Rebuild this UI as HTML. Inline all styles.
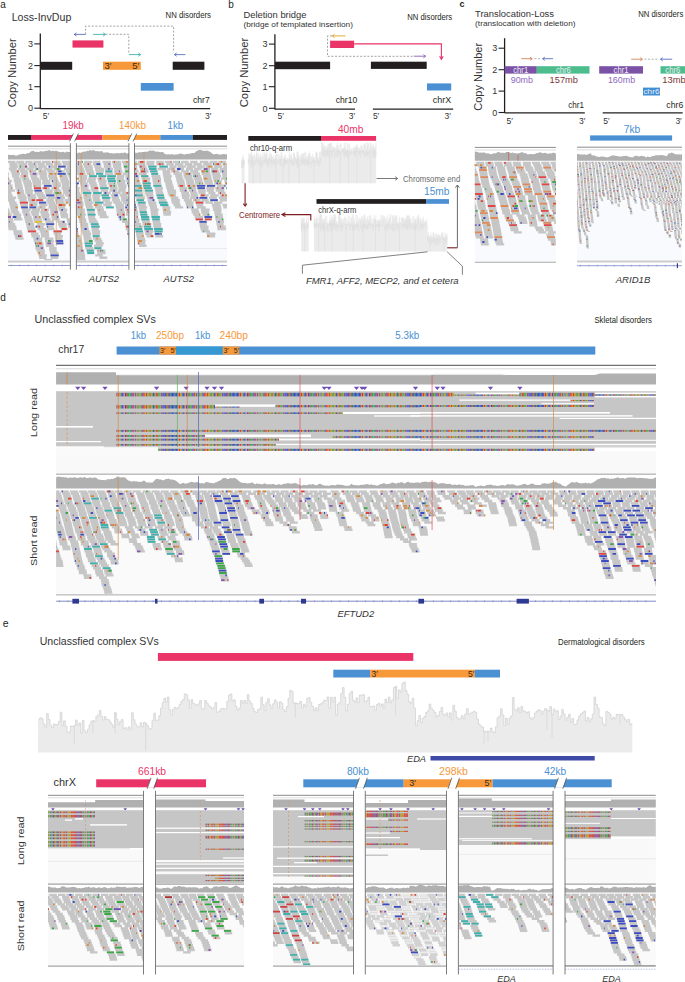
<!DOCTYPE html><html><head><meta charset="utf-8"><title>Figure</title><style>html,body{margin:0;padding:0;background:#fff;}svg{display:block;}text{font-family:"Liberation Sans",sans-serif;}</style></head><body>
<svg width="685" height="982" viewBox="0 0 685 982">
<defs><pattern id="rb" patternUnits="userSpaceOnUse" width="61" height="8"><rect x="0" y="0" width="1.2" height="8" fill="#4a5ac8"/><rect x="1.2" y="0" width="1" height="8" fill="#9a5cc0"/><rect x="2.1" y="0" width="1" height="8" fill="#e0902e"/><rect x="3" y="0" width="1" height="8" fill="#3b4bc2"/><rect x="3.9" y="0" width="0.8" height="8" fill="#8b4aa6"/><rect x="4.6" y="0" width="1.2" height="8" fill="#c04a3a"/><rect x="5.8" y="0" width="1.6" height="8" fill="#3aa845"/><rect x="7.3" y="0" width="1.6" height="8" fill="#45b050"/><rect x="8.8" y="0" width="1" height="8" fill="#4a5ac8"/><rect x="9.7" y="0" width="1.6" height="8" fill="#9a5cc0"/><rect x="11.2" y="0" width="1" height="8" fill="#d03a3a"/><rect x="12.1" y="0" width="1.2" height="8" fill="#b0a040"/><rect x="13.3" y="0" width="1" height="8" fill="#3b4bc2"/><rect x="14.2" y="0" width="1.2" height="8" fill="#b0a040"/><rect x="15.4" y="0" width="1" height="8" fill="#9a5cc0"/><rect x="16.3" y="0" width="1.1" height="8" fill="#3aa845"/><rect x="17.3" y="0" width="1.6" height="8" fill="#b0a040"/><rect x="18.8" y="0" width="0.8" height="8" fill="#45b050"/><rect x="19.5" y="0" width="1.1" height="8" fill="#4a5ac8"/><rect x="20.5" y="0" width="0.8" height="8" fill="#8b4aa6"/><rect x="21.2" y="0" width="1.6" height="8" fill="#e23b2e"/><rect x="22.7" y="0" width="1.2" height="8" fill="#e0902e"/><rect x="23.9" y="0" width="1.1" height="8" fill="#c04a3a"/><rect x="24.9" y="0" width="0.8" height="8" fill="#45b050"/><rect x="25.6" y="0" width="1.6" height="8" fill="#e0902e"/><rect x="27.1" y="0" width="1.6" height="8" fill="#45b050"/><rect x="28.6" y="0" width="0.8" height="8" fill="#d03a3a"/><rect x="29.3" y="0" width="1" height="8" fill="#e0902e"/><rect x="30.2" y="0" width="1" height="8" fill="#45b050"/><rect x="31.1" y="0" width="1.6" height="8" fill="#3b4bc2"/><rect x="32.6" y="0" width="1.6" height="8" fill="#b0a040"/><rect x="34.1" y="0" width="1" height="8" fill="#e23b2e"/><rect x="35" y="0" width="0.8" height="8" fill="#e23b2e"/><rect x="35.7" y="0" width="1" height="8" fill="#45b050"/><rect x="36.6" y="0" width="1.2" height="8" fill="#3aa845"/><rect x="37.8" y="0" width="1.2" height="8" fill="#b0a040"/><rect x="39" y="0" width="0.8" height="8" fill="#3b4bc2"/><rect x="39.7" y="0" width="1.1" height="8" fill="#9a5cc0"/><rect x="40.7" y="0" width="0.8" height="8" fill="#4a5ac8"/><rect x="41.4" y="0" width="1.1" height="8" fill="#3b4bc2"/><rect x="42.4" y="0" width="1.6" height="8" fill="#4a5ac8"/><rect x="43.9" y="0" width="1" height="8" fill="#e23b2e"/><rect x="44.8" y="0" width="1" height="8" fill="#45b050"/><rect x="45.7" y="0" width="1.1" height="8" fill="#c04a3a"/><rect x="46.7" y="0" width="1.2" height="8" fill="#3b4bc2"/><rect x="47.9" y="0" width="1.1" height="8" fill="#45b050"/><rect x="48.9" y="0" width="0.8" height="8" fill="#3b4bc2"/><rect x="49.6" y="0" width="1.6" height="8" fill="#3b4bc2"/><rect x="51.1" y="0" width="1.6" height="8" fill="#4a5ac8"/><rect x="52.6" y="0" width="0.8" height="8" fill="#3aa845"/><rect x="53.3" y="0" width="0.8" height="8" fill="#3b4bc2"/><rect x="54" y="0" width="1.1" height="8" fill="#3b4bc2"/><rect x="55" y="0" width="1" height="8" fill="#4a5ac8"/><rect x="55.9" y="0" width="1" height="8" fill="#e0902e"/><rect x="56.8" y="0" width="1.6" height="8" fill="#d03a3a"/><rect x="58.3" y="0" width="1.2" height="8" fill="#e0902e"/><rect x="59.5" y="0" width="1.1" height="8" fill="#3aa845"/><rect x="60.5" y="0" width="0.5" height="8" fill="#3b4bc2"/></pattern><pattern id="rb2" patternUnits="userSpaceOnUse" width="37" height="8"><rect x="0" y="0" width="0.8" height="8" fill="#c04a3a"/><rect x="0.7" y="0" width="1.1" height="8" fill="#e23b2e"/><rect x="1.7" y="0" width="0.8" height="8" fill="#d03a3a"/><rect x="2.4" y="0" width="1" height="8" fill="#4a5ac8"/><rect x="3.3" y="0" width="1.2" height="8" fill="#d03a3a"/><rect x="4.5" y="0" width="1.2" height="8" fill="#4a5ac8"/><rect x="5.7" y="0" width="1.2" height="8" fill="#d03a3a"/><rect x="6.9" y="0" width="0.8" height="8" fill="#3b4bc2"/><rect x="7.6" y="0" width="0.8" height="8" fill="#d03a3a"/><rect x="8.3" y="0" width="1.2" height="8" fill="#45b050"/><rect x="9.5" y="0" width="1" height="8" fill="#8b4aa6"/><rect x="10.4" y="0" width="1" height="8" fill="#b0a040"/><rect x="11.3" y="0" width="1.1" height="8" fill="#3aa845"/><rect x="12.3" y="0" width="1.1" height="8" fill="#e0902e"/><rect x="13.3" y="0" width="1" height="8" fill="#4a5ac8"/><rect x="14.2" y="0" width="1.1" height="8" fill="#45b050"/><rect x="15.2" y="0" width="0.8" height="8" fill="#45b050"/><rect x="15.9" y="0" width="1.2" height="8" fill="#8b4aa6"/><rect x="17.1" y="0" width="0.8" height="8" fill="#c04a3a"/><rect x="17.8" y="0" width="1.1" height="8" fill="#b0a040"/><rect x="18.8" y="0" width="1.1" height="8" fill="#45b050"/><rect x="19.8" y="0" width="1" height="8" fill="#8b4aa6"/><rect x="20.7" y="0" width="1.2" height="8" fill="#8b4aa6"/><rect x="21.9" y="0" width="1.2" height="8" fill="#b0a040"/><rect x="23.1" y="0" width="1" height="8" fill="#8b4aa6"/><rect x="24" y="0" width="1.2" height="8" fill="#b0a040"/><rect x="25.2" y="0" width="1.2" height="8" fill="#e0902e"/><rect x="26.4" y="0" width="1.2" height="8" fill="#d03a3a"/><rect x="27.6" y="0" width="1" height="8" fill="#d03a3a"/><rect x="28.5" y="0" width="0.8" height="8" fill="#b0a040"/><rect x="29.2" y="0" width="1.1" height="8" fill="#8b4aa6"/><rect x="30.2" y="0" width="1" height="8" fill="#b0a040"/><rect x="31.1" y="0" width="1" height="8" fill="#b0a040"/><rect x="32" y="0" width="1.1" height="8" fill="#b0a040"/><rect x="33" y="0" width="1.2" height="8" fill="#e0902e"/><rect x="34.2" y="0" width="1.2" height="8" fill="#d03a3a"/><rect x="35.4" y="0" width="1.2" height="8" fill="#e23b2e"/><rect x="36.6" y="0" width="0.5" height="8" fill="#c04a3a"/></pattern></defs>
<rect width="685" height="982" fill="#fff"/>
<text x="0.2" y="7.8" font-size="10" fill="#231f20">a</text>
<text x="228.2" y="7.9" font-size="10" fill="#231f20">b</text>
<text x="459.4" y="6.8" font-size="9" fill="#231f20" font-weight="bold">c</text>
<text x="0.2" y="301.4" font-size="10" fill="#231f20">d</text>
<text x="2.8" y="627.4" font-size="10.5" fill="#231f20">e</text>
<text x="11.7" y="20.5" font-size="10" fill="#333333" textLength="59.6" lengthAdjust="spacingAndGlyphs">Loss-InvDup</text>
<text x="165.5" y="18" font-size="8.6" fill="#231f20" textLength="45.5" lengthAdjust="spacingAndGlyphs">NN disorders</text>
<text x="16.2" y="72.8" font-size="10.3" fill="#333333" textLength="68.8" lengthAdjust="spacingAndGlyphs" text-anchor="middle" transform="rotate(-90 16.2 72.8)">Copy Number</text>
<line x1="40.3" y1="33.4" x2="40.3" y2="109.1" stroke="#231f20" stroke-width="1.3"/>
<line x1="34.3" y1="43.9" x2="40.3" y2="43.9" stroke="#231f20" stroke-width="1.1"/>
<text x="33" y="47.1" font-size="9" fill="#333" text-anchor="end">3</text>
<line x1="34.3" y1="65.6" x2="40.3" y2="65.6" stroke="#231f20" stroke-width="1.1"/>
<text x="33" y="68.8" font-size="9" fill="#333" text-anchor="end">2</text>
<line x1="34.3" y1="86.7" x2="40.3" y2="86.7" stroke="#231f20" stroke-width="1.1"/>
<text x="33" y="89.9" font-size="9" fill="#333" text-anchor="end">1</text>
<line x1="34.3" y1="108.2" x2="40.3" y2="108.2" stroke="#231f20" stroke-width="1.1"/>
<text x="33" y="111.4" font-size="9" fill="#333" text-anchor="end">0</text>
<line x1="40.3" y1="108.6" x2="210.2" y2="108.6" stroke="#231f20" stroke-width="1.3"/>
<rect x="40.3" y="61.8" width="31.9" height="8" fill="#231f20"/>
<rect x="72.5" y="40.4" width="30.9" height="7.2" fill="#ea3468"/>
<rect x="103" y="61.7" width="37.8" height="8.1" fill="#f7993b"/>
<text x="104.4" y="69.2" font-size="9.6" fill="#3b2a18">3′</text>
<text x="132.2" y="69.2" font-size="9.6" fill="#3b2a18">5′</text>
<rect x="140.8" y="83" width="32.8" height="7.7" fill="#4a90d2"/>
<rect x="172.7" y="61.7" width="31.7" height="8.1" fill="#231f20"/>
<path d="M85.6 34.4V26.1H173.6V52.5" stroke="#8c8c8c" stroke-width="0.8" fill="none" stroke-dasharray="2,1.6"/>
<path d="M105.5 34.3H128.8V52.5" stroke="#8c8c8c" stroke-width="0.8" fill="none" stroke-dasharray="2,1.6"/>
<line x1="85.6" y1="34.4" x2="74.2" y2="34.4" stroke="#5b6fbf" stroke-width="0.9"/>
<path d="M76.4 32.8L74.2 34.4L76.4 36" stroke="#5b6fbf" stroke-width="0.9" fill="none" stroke-linejoin="miter"/>
<line x1="93" y1="34.4" x2="105.4" y2="34.4" stroke="#3fb2ad" stroke-width="0.9"/>
<path d="M103.2 32.8L105.4 34.4L103.2 36" stroke="#3fb2ad" stroke-width="0.9" fill="none" stroke-linejoin="miter"/>
<line x1="128.8" y1="54.6" x2="140.6" y2="54.6" stroke="#3fb2ad" stroke-width="0.9"/>
<path d="M138.4 53L140.6 54.6L138.4 56.2" stroke="#3fb2ad" stroke-width="0.9" fill="none" stroke-linejoin="miter"/>
<line x1="185.4" y1="54.6" x2="174.4" y2="54.6" stroke="#5b6fbf" stroke-width="0.9"/>
<path d="M176.6 53L174.4 54.6L176.6 56.2" stroke="#5b6fbf" stroke-width="0.9" fill="none" stroke-linejoin="miter"/>
<text x="193" y="103" font-size="9.5" fill="#231f20" textLength="16.7" lengthAdjust="spacingAndGlyphs">chr7</text>
<text x="42.8" y="119" font-size="8.5" fill="#333333">5′</text>
<text x="205" y="119" font-size="8.5" fill="#333333">3′</text>
<text x="243.4" y="17.5" font-size="9.6" fill="#333333" textLength="63.1" lengthAdjust="spacingAndGlyphs">Deletion bridge</text>
<text x="243.4" y="26.8" font-size="8" fill="#333333" textLength="109.5" lengthAdjust="spacingAndGlyphs">(bridge of templated insertion)</text>
<text x="407.3" y="20.2" font-size="8.6" fill="#231f20" textLength="44.9" lengthAdjust="spacingAndGlyphs">NN disorders</text>
<text x="248.4" y="72.5" font-size="10.3" fill="#333333" textLength="69.5" lengthAdjust="spacingAndGlyphs" text-anchor="middle" transform="rotate(-90 248.4 72.5)">Copy Number</text>
<line x1="274.9" y1="34.2" x2="274.9" y2="109.6" stroke="#231f20" stroke-width="1.3"/>
<line x1="268.9" y1="44.1" x2="274.9" y2="44.1" stroke="#231f20" stroke-width="1.1"/>
<text x="267.5" y="47.3" font-size="9" fill="#333" text-anchor="end">3</text>
<line x1="268.9" y1="65.7" x2="274.9" y2="65.7" stroke="#231f20" stroke-width="1.1"/>
<text x="267.5" y="68.9" font-size="9" fill="#333" text-anchor="end">2</text>
<line x1="268.9" y1="86.7" x2="274.9" y2="86.7" stroke="#231f20" stroke-width="1.1"/>
<text x="267.5" y="89.9" font-size="9" fill="#333" text-anchor="end">1</text>
<line x1="268.9" y1="108.3" x2="274.9" y2="108.3" stroke="#231f20" stroke-width="1.1"/>
<text x="267.5" y="111.5" font-size="9" fill="#333" text-anchor="end">0</text>
<line x1="274.9" y1="109.2" x2="355" y2="109.2" stroke="#231f20" stroke-width="1.3"/>
<line x1="372.9" y1="109.2" x2="453.2" y2="109.2" stroke="#231f20" stroke-width="1.3"/>
<rect x="274.9" y="61.7" width="55.2" height="7.5" fill="#231f20"/>
<rect x="330.1" y="40.7" width="24" height="7.3" fill="#ea3468"/>
<path d="M332 35.9H327.5V56.3H413.8" stroke="#8c8c8c" stroke-width="0.8" fill="none" stroke-dasharray="2,1.6"/>
<line x1="345.5" y1="35.9" x2="332.3" y2="35.9" stroke="#e0a020" stroke-width="0.9"/>
<path d="M334.5 34.2L332.3 35.9L334.5 37.5" stroke="#e0a020" stroke-width="0.9" fill="none" stroke-linejoin="miter"/>
<line x1="413.8" y1="56.2" x2="425.6" y2="56.2" stroke="#8a5cb8" stroke-width="0.9"/>
<path d="M423.4 54.6L425.6 56.2L423.4 57.9" stroke="#8a5cb8" stroke-width="0.9" fill="none" stroke-linejoin="miter"/>
<path d="M354.1 43.9H441.4V58" stroke="#ea3468" stroke-width="1.1" fill="none"/>
<path d="M439.6 56.2L441.4 59.4L443.2 56.2" stroke="#ea3468" stroke-width="1.1" fill="none"/>
<rect x="370.9" y="61.7" width="55.8" height="7.2" fill="#231f20"/>
<rect x="427" y="83.4" width="24.2" height="7.1" fill="#4a90d2"/>
<text x="335.7" y="103.2" font-size="9.5" fill="#231f20" textLength="21.5" lengthAdjust="spacingAndGlyphs">chr10</text>
<text x="432.8" y="103.2" font-size="9.5" fill="#231f20" textLength="18.4" lengthAdjust="spacingAndGlyphs">chrX</text>
<text x="277.6" y="118.5" font-size="8.5" fill="#333333">5′</text>
<text x="348.8" y="118.5" font-size="8.5" fill="#333333">3′</text>
<text x="372.9" y="118.5" font-size="8.5" fill="#333333">5′</text>
<text x="444.5" y="118.5" font-size="8.5" fill="#333333">3′</text>
<text x="475.1" y="16.6" font-size="9.6" fill="#333333" textLength="78.9" lengthAdjust="spacingAndGlyphs">Translocation-Loss</text>
<text x="475.1" y="26.3" font-size="8" fill="#333333" textLength="100.4" lengthAdjust="spacingAndGlyphs">(translocation with deletion)</text>
<text x="638.2" y="17" font-size="8.6" fill="#231f20" textLength="45.1" lengthAdjust="spacingAndGlyphs">NN disorders</text>
<text x="481.6" y="76.8" font-size="10.3" fill="#333333" textLength="67.8" lengthAdjust="spacingAndGlyphs" text-anchor="middle" transform="rotate(-90 481.6 76.8)">Copy Number</text>
<line x1="504.6" y1="38.2" x2="504.6" y2="113" stroke="#231f20" stroke-width="1.3"/>
<line x1="498.6" y1="48.2" x2="504.6" y2="48.2" stroke="#231f20" stroke-width="1.1"/>
<text x="497.3" y="51.4" font-size="9" fill="#333" text-anchor="end">3</text>
<line x1="498.6" y1="69.7" x2="504.6" y2="69.7" stroke="#231f20" stroke-width="1.1"/>
<text x="497.3" y="72.9" font-size="9" fill="#333" text-anchor="end">2</text>
<line x1="498.6" y1="91.1" x2="504.6" y2="91.1" stroke="#231f20" stroke-width="1.1"/>
<text x="497.3" y="94.3" font-size="9" fill="#333" text-anchor="end">1</text>
<line x1="498.6" y1="112.5" x2="504.6" y2="112.5" stroke="#231f20" stroke-width="1.1"/>
<text x="497.3" y="115.7" font-size="9" fill="#333" text-anchor="end">0</text>
<line x1="504.6" y1="112.9" x2="584.8" y2="112.9" stroke="#231f20" stroke-width="1.3"/>
<line x1="602.7" y1="112.9" x2="682.7" y2="112.9" stroke="#231f20" stroke-width="1.3"/>
<rect x="504.6" y="66.2" width="32.2" height="7.4" fill="#7b52a6"/>
<rect x="536.8" y="66.2" width="52.7" height="7.4" fill="#4dbd8e"/>
<rect x="599.2" y="66.2" width="43.8" height="7.4" fill="#7b52a6"/>
<rect x="660.5" y="66.2" width="24.5" height="7.4" fill="#4dbd8e"/>
<rect x="643" y="87.6" width="17" height="7.9" fill="#3f8fd6"/>
<text x="520.7" y="72.7" font-size="8.2" fill="#ececf4" textLength="15" lengthAdjust="spacingAndGlyphs" text-anchor="middle">chr1</text>
<text x="563.4" y="72.7" font-size="8.2" fill="#ececf4" textLength="15" lengthAdjust="spacingAndGlyphs" text-anchor="middle">chr6</text>
<text x="621.1" y="72.7" font-size="8.2" fill="#ececf4" textLength="15" lengthAdjust="spacingAndGlyphs" text-anchor="middle">chr1</text>
<text x="672.8" y="72.7" font-size="8.2" fill="#ececf4" textLength="15" lengthAdjust="spacingAndGlyphs" text-anchor="middle">chr6</text>
<text x="651.5" y="94.4" font-size="8" fill="#ececf4" textLength="16" lengthAdjust="spacingAndGlyphs" text-anchor="middle">chr6</text>
<text x="510.7" y="83.2" font-size="9.2" fill="#8d69bd" textLength="22.3" lengthAdjust="spacingAndGlyphs">90mb</text>
<text x="549.6" y="83.2" font-size="9.2" fill="#7a3638" textLength="28.3" lengthAdjust="spacingAndGlyphs">157mb</text>
<text x="607.9" y="83.2" font-size="9.2" fill="#8d69bd" textLength="27.2" lengthAdjust="spacingAndGlyphs">160mb</text>
<text x="662.2" y="83.2" font-size="9.2" fill="#7a3638" textLength="23.5" lengthAdjust="spacingAndGlyphs">13mb</text>
<line x1="521.2" y1="58.7" x2="532.2" y2="58.7" stroke="#d3855a" stroke-width="0.9"/>
<path d="M530 57.1L532.2 58.7L530 60.4" stroke="#d3855a" stroke-width="0.9" fill="none" stroke-linejoin="miter"/>
<path d="M534.5 58.7H540" stroke="#999" stroke-width="0.8" fill="none" stroke-dasharray="2,1.6"/>
<line x1="553.1" y1="58.7" x2="542.6" y2="58.7" stroke="#5b6fbf" stroke-width="0.9"/>
<path d="M544.8 57.1L542.6 58.7L544.8 60.4" stroke="#5b6fbf" stroke-width="0.9" fill="none" stroke-linejoin="miter"/>
<line x1="631.2" y1="59.2" x2="642.4" y2="59.2" stroke="#d3855a" stroke-width="0.9"/>
<path d="M640.2 57.6L642.4 59.2L640.2 60.9" stroke="#d3855a" stroke-width="0.9" fill="none" stroke-linejoin="miter"/>
<path d="M644.5 59.2H659" stroke="#999" stroke-width="0.8" fill="none" stroke-dasharray="2,1.6"/>
<line x1="672.2" y1="59.2" x2="660.5" y2="59.2" stroke="#5b6fbf" stroke-width="0.9"/>
<path d="M662.7 57.6L660.5 59.2L662.7 60.9" stroke="#5b6fbf" stroke-width="0.9" fill="none" stroke-linejoin="miter"/>
<text x="568.2" y="107.7" font-size="9.5" fill="#231f20" textLength="15.7" lengthAdjust="spacingAndGlyphs">chr1</text>
<text x="666.3" y="107.7" font-size="9.5" fill="#231f20" textLength="17" lengthAdjust="spacingAndGlyphs">chr6</text>
<text x="506.5" y="123.5" font-size="8.5" fill="#333333">5′</text>
<text x="579" y="123.5" font-size="8.5" fill="#333333">3′</text>
<text x="603.2" y="123.5" font-size="8.5" fill="#333333">5′</text>
<text x="675.4" y="123.5" font-size="8.5" fill="#333333">3′</text>
<text x="62.4" y="129.3" font-size="10" fill="#ea3468" textLength="21.5" lengthAdjust="spacingAndGlyphs">19kb</text>
<text x="119.1" y="128.9" font-size="10" fill="#f7993b" textLength="26.8" lengthAdjust="spacingAndGlyphs">140kb</text>
<text x="167.5" y="128.9" font-size="10" fill="#4a90d2" textLength="15.7" lengthAdjust="spacingAndGlyphs">1kb</text>
<rect x="8" y="135" width="23" height="4.9" fill="#231f20"/>
<rect x="31" y="135" width="71.4" height="4.9" fill="#ea3468"/>
<rect x="102.4" y="135" width="57.9" height="4.9" fill="#f7993b"/>
<rect x="160.3" y="135" width="32.6" height="4.9" fill="#4a90d2"/>
<rect x="192.9" y="135" width="34.1" height="4.9" fill="#231f20"/>
<path d="M73 134.7L78 134.7L74.8 140.2L69.8 140.2Z" stroke="none" stroke-width="1" fill="#ffffff"/>
<line x1="73.4" y1="133.5" x2="69.6" y2="141.4" stroke="#444" stroke-width="0.7"/>
<line x1="78.4" y1="133.5" x2="74.6" y2="141.4" stroke="#444" stroke-width="0.7"/>
<path d="M131.4 134.7L136.4 134.7L133.2 140.2L128.2 140.2Z" stroke="none" stroke-width="1" fill="#ffffff"/>
<line x1="131.8" y1="133.5" x2="128" y2="141.4" stroke="#444" stroke-width="0.7"/>
<line x1="136.8" y1="133.5" x2="133" y2="141.4" stroke="#444" stroke-width="0.7"/>
<line x1="8" y1="146.2" x2="70.3" y2="146.2" stroke="#8c8c8c" stroke-width="1"/>
<line x1="8" y1="148.8" x2="70.3" y2="148.8" stroke="#d2d2d2" stroke-width="0.8"/>
<rect x="8" y="160.2" width="62.3" height="100.3" fill="#f9fafd"/>
<path d="M8 159.6L8 154.5L9.5 155.1L11 155.1L12.5 154.9L14 154.8L15.5 155.7L17 155.6L18.5 154.7L20 154.4L21.5 154L23 153.7L24.5 154.1L26 154L27.5 153L29 153.2L30.5 151.7L32 150.9L33.5 150.8L35 152.1L36.5 151.8L38 152L39.5 151.7L41 151L42.5 151.4L44 151.6L45.5 150.7L47 151.1L48.5 150.3L50 150.2L51.5 151.3L53 150.5L54.5 151.3L56 150.6L57.5 151.2L59 151.7L60.5 152.2L62 151.9L63.5 151.7L65 152.7L66.5 151.5L68 151.9L69.5 151.9L70.3 152.8L70.3 159.6Z" stroke="none" stroke-width="1" fill="#b0b0b0"/>
<rect x="8" y="260.6" width="62.3" height="1.9" fill="#cbcbcb"/>
<line x1="8" y1="265.5" x2="70.3" y2="265.5" stroke="#5b68b8" stroke-width="0.8" opacity="0.8"/>
<path d="M12 265.5l-1.2 -0.9M12 265.5l-1.2 0.9M20.5 265.5l-1.2 -0.9M20.5 265.5l-1.2 0.9M29 265.5l-1.2 -0.9M29 265.5l-1.2 0.9M37.5 265.5l-1.2 -0.9M37.5 265.5l-1.2 0.9M46 265.5l-1.2 -0.9M46 265.5l-1.2 0.9M54.5 265.5l-1.2 -0.9M54.5 265.5l-1.2 0.9M63 265.5l-1.2 -0.9M63 265.5l-1.2 0.9" stroke="#5b68b8" stroke-width="0.5" fill="none" opacity="0.6"/>
<line x1="76.4" y1="146.2" x2="128.9" y2="146.2" stroke="#8c8c8c" stroke-width="1"/>
<line x1="76.4" y1="148.8" x2="128.9" y2="148.8" stroke="#d2d2d2" stroke-width="0.8"/>
<rect x="76.4" y="160.2" width="52.5" height="100.3" fill="#f9fafd"/>
<path d="M76.4 159.6L76.4 153.9L77.9 152.7L79.4 152.4L80.9 153.2L82.4 151.9L83.9 151.5L85.4 151.7L86.9 150.8L88.4 151L89.9 150.1L91.4 150.7L92.9 149.9L94.4 150.4L95.9 151.2L97.4 151.1L98.9 151.4L100.4 151.3L101.9 151L103.4 152.7L104.9 152.6L106.4 152.4L107.9 152.3L109.4 153.3L110.9 153L112.4 153.4L113.9 153.2L115.4 153.4L116.9 153L118.4 153.3L119.9 153.3L121.4 152.8L122.9 153.2L124.4 152.2L125.9 153L127.4 153.5L128.9 153.2L128.9 153.1L128.9 159.6Z" stroke="none" stroke-width="1" fill="#b0b0b0"/>
<rect x="76.4" y="260.6" width="52.5" height="1.9" fill="#cbcbcb"/>
<line x1="76.4" y1="265.5" x2="128.9" y2="265.5" stroke="#5b68b8" stroke-width="0.8" opacity="0.8"/>
<path d="M80.4 265.5l-1.2 -0.9M80.4 265.5l-1.2 0.9M88.9 265.5l-1.2 -0.9M88.9 265.5l-1.2 0.9M97.4 265.5l-1.2 -0.9M97.4 265.5l-1.2 0.9M105.9 265.5l-1.2 -0.9M105.9 265.5l-1.2 0.9M114.4 265.5l-1.2 -0.9M114.4 265.5l-1.2 0.9M122.9 265.5l-1.2 -0.9M122.9 265.5l-1.2 0.9" stroke="#5b68b8" stroke-width="0.5" fill="none" opacity="0.6"/>
<line x1="134.5" y1="146.2" x2="227" y2="146.2" stroke="#8c8c8c" stroke-width="1"/>
<line x1="134.5" y1="148.8" x2="227" y2="148.8" stroke="#d2d2d2" stroke-width="0.8"/>
<rect x="134.5" y="160.2" width="92.5" height="100.3" fill="#f9fafd"/>
<line x1="134.5" y1="248.5" x2="227" y2="248.5" stroke="#e2e3e8" stroke-width="0.7"/>
<path d="M134.5 159.6L134.5 152.5L136 152.7L137.5 152.9L139 151.9L140.5 152.4L142 152.1L143.5 152.1L145 151.7L146.5 151.7L148 151.5L149.5 150.5L151 150.7L152.5 150.4L154 150.7L155.5 151.7L157 151.4L158.5 151.7L160 152.2L161.5 152.1L163 152.1L164.5 153.7L166 154.2L167.5 154.5L169 154.2L170.5 154.5L172 154L173.5 154.8L175 154.4L176.5 154.4L178 154.2L179.5 153.8L181 153.5L182.5 154L184 154.4L185.5 154.2L187 153.8L188.5 154.1L190 153.6L191.5 153.3L193 152.9L194.5 152.9L196 151.5L197.5 150.5L199 149.9L200.5 149.8L202 150.4L203.5 150.8L205 151L206.5 150.4L208 150.9L209.5 151.6L211 152.4L212.5 153.8L214 154.4L215.5 154L217 153.8L218.5 154.6L220 154.5L221.5 154.6L223 153.9L224.5 154.1L226 154.5L227 154L227 159.6Z" stroke="none" stroke-width="1" fill="#b0b0b0"/>
<rect x="134.5" y="260.6" width="92.5" height="1.9" fill="#cbcbcb"/>
<line x1="134.5" y1="265.5" x2="227" y2="265.5" stroke="#5b68b8" stroke-width="0.8" opacity="0.8"/>
<path d="M138.5 265.5l-1.2 -0.9M138.5 265.5l-1.2 0.9M147 265.5l-1.2 -0.9M147 265.5l-1.2 0.9M155.5 265.5l-1.2 -0.9M155.5 265.5l-1.2 0.9M164 265.5l-1.2 -0.9M164 265.5l-1.2 0.9M172.5 265.5l-1.2 -0.9M172.5 265.5l-1.2 0.9M181 265.5l-1.2 -0.9M181 265.5l-1.2 0.9M189.5 265.5l-1.2 -0.9M189.5 265.5l-1.2 0.9M198 265.5l-1.2 -0.9M198 265.5l-1.2 0.9M206.5 265.5l-1.2 -0.9M206.5 265.5l-1.2 0.9M215 265.5l-1.2 -0.9M215 265.5l-1.2 0.9M223.5 265.5l-1.2 -0.9M223.5 265.5l-1.2 0.9" stroke="#5b68b8" stroke-width="0.5" fill="none" opacity="0.6"/>
<clipPath id="c1"><rect x="8" y="160.6" width="62.3" height="99.7"/></clipPath><g clip-path="url(#c1)">
<path d="M7 203.8h0.8v2.4h-0.8zM7 206.2h1v2.4h-1zM7 208.6h2.4v2.4h-2.4zM7 211h3.3v2.4h-3.3zM7 213.4h4.8v2.4h-4.8zM7 215.8h4.2v2.4h-4.2zM7 218.2h6v2.4h-6zM7 220.6h6.4v2.4h-6.4zM7 167.8h0.7v2.4h-0.7zM7 170.2h0.3v2.4h-0.3zM7 165.4h0.8v2.4h-0.8zM7 175h1.6v2.4h-1.6zM7 223h8.2v2.4h-8.2zM7.4 225.4h8.9v2.4h-8.9zM7 163h0.7v2.4h-0.7zM7 172.6h1.8v2.4h-1.8zM7 177.4h2.3v2.4h-2.3zM8.5 227.8h8.2v2.4h-8.2zM7 182.2h4.1v2.4h-4.1zM7 191.8h4.5v2.4h-4.5zM7 194.2h5.6v2.4h-5.6zM7 187h5.8v2.4h-5.8zM7 179.8h4.8v2.4h-4.8zM7 184.6h5.5v2.4h-5.5zM7 189.4h8.1v2.4h-8.1zM7.3 196.6h8.9v2.4h-8.9zM7.8 199h7.1v2.4h-7.1zM9 201.4h7.5v2.4h-7.5zM9.6 203.8h8.2v2.4h-8.2zM10.2 206.2h7.7v2.4h-7.7zM10.6 208.6h7.4v2.4h-7.4zM13.3 230.2h8.6v2.4h-8.6zM13.7 232.6h8.8v2.4h-8.8zM11.3 211h8v2.4h-8zM12.2 215.8h8.9v2.4h-8.9zM14.7 235h8.1v2.4h-8.1zM15.4 237.4h8.2v2.4h-8.2zM13.2 213.4h8v2.4h-8zM13.9 218.2h8.6v2.4h-8.6zM7 160.6h8.5v2.4h-8.5zM8.9 167.8h8v2.4h-8zM9.4 163h8v2.4h-8zM9.7 165.4h8.6v2.4h-8.6zM10.4 170.2h8.7v2.4h-8.7zM11.6 172.6h8.3v2.4h-8.3zM12 175h7.3v2.4h-7.3zM13.5 177.4h7.3v2.4h-7.3zM13.8 179.8h7.7v2.4h-7.7zM14.6 182.2h7.1v2.4h-7.1zM14.9 184.6h7.7v2.4h-7.7zM15.3 187h7.7v2.4h-7.7zM16.5 189.4h7.3v2.4h-7.3zM16.9 191.8h7.3v2.4h-7.3zM17.4 194.2h8.3v2.4h-8.3zM17.9 196.6h8.8v2.4h-8.8zM19.2 199h7.5v2.4h-7.5zM19.7 201.4h8.4v2.4h-8.4zM20.2 203.8h7.8v2.4h-7.8zM20.9 206.2h7.1v2.4h-7.1zM21.9 208.6h8.8v2.4h-8.8zM22.2 211h7.3v2.4h-7.3zM16.3 160.6h8v2.4h-8zM23.3 213.4h7.1v2.4h-7.1zM17.9 167.8h7.6v2.4h-7.6zM24 215.8h7.7v2.4h-7.7zM24.6 218.2h7.8v2.4h-7.8zM25.2 220.6h8v2.4h-8zM18.2 163h8.9v2.4h-8.9zM26 223h8.2v2.4h-8.2zM26.5 225.4h7.9v2.4h-7.9zM19.1 165.4h8.6v2.4h-8.6zM20.4 175h7.9v2.4h-7.9zM27 227.8h8.4v2.4h-8.4zM19.8 170.2h7.9v2.4h-7.9zM27.8 230.2h8.5v2.4h-8.5zM21 172.6h7.2v2.4h-7.2zM21.6 177.4h7.4v2.4h-7.4zM22.6 179.8h8.4v2.4h-8.4zM23.4 182.2h8.5v2.4h-8.5zM24.2 184.6h7.7v2.4h-7.7zM24.8 187h7.1v2.4h-7.1zM25.1 189.4h8.2v2.4h-8.2zM25.6 191.8h7.2v2.4h-7.2zM30.9 232.6h7.8v2.4h-7.8zM31.4 235h8.6v2.4h-8.6zM27.1 194.2h8.6v2.4h-8.6zM27.7 196.6h8.6v2.4h-8.6zM28 199h7.2v2.4h-7.2zM29 203.8h8.4v2.4h-8.4zM29.3 206.2h7.1v2.4h-7.1zM33.3 237.4h8.9v2.4h-8.9zM33.7 239.8h8.5v2.4h-8.5zM29.2 201.4h8.5v2.4h-8.5zM30.7 211h8.7v2.4h-8.7zM34.7 242.2h8.6v2.4h-8.6zM35 244.6h8.5v2.4h-8.5zM35.3 247h8.8v2.4h-8.8zM31.6 213.4h7.2v2.4h-7.2zM25.3 160.6h7.2v2.4h-7.2zM36.4 249.4h8.4v2.4h-8.4zM26.3 167.8h7.3v2.4h-7.3zM31.6 208.6h8.6v2.4h-8.6zM33 215.8h7.8v2.4h-7.8zM33.3 218.2h8.5v2.4h-8.5zM37.6 251.8h7.2v2.4h-7.2zM34.3 220.6h8.1v2.4h-8.1zM38.5 254.2h8.4v2.4h-8.4zM35.2 225.4h8.5v2.4h-8.5zM39.1 256.6h7.4v2.4h-7.4zM28.8 170.2h7.5v2.4h-7.5zM28 163h8.7v2.4h-8.7zM28.8 165.4h8.6v2.4h-8.6zM29.7 172.6h8v2.4h-8zM30.3 175h7.1v2.4h-7.1zM31 177.4h8.4v2.4h-8.4zM36.8 223h8.5v2.4h-8.5zM37.5 227.8h8.3v2.4h-8.3zM32.1 179.8h8.9v2.4h-8.9zM32.9 184.6h8.3v2.4h-8.3zM32.6 182.2h8.6v2.4h-8.6zM33.7 187h7.5v2.4h-7.5zM34.3 189.4h7.6v2.4h-7.6zM34.6 191.8h8.9v2.4h-8.9zM39.7 230.2h9v2.4h-9zM36.2 199h7.2v2.4h-7.2zM37.4 206.2h8.2v2.4h-8.2zM40.7 232.6h8.4v2.4h-8.4zM41 235h8.2v2.4h-8.2zM44.3 259h7.8v2.4h-7.8zM44.7 261.4h7.7v2.4h-7.7zM45.1 263.8h8.8v2.4h-8.8zM45.5 266.2h7.3v2.4h-7.3zM45.8 268.6h7.2v2.4h-7.2zM36.6 194.2h8.5v2.4h-8.5zM46.3 271h7.1v2.4h-7.1zM33.3 160.6h7.8v2.4h-7.8zM34.5 167.8h8.1v2.4h-8.1zM38.2 196.6h8.3v2.4h-8.3zM38.8 201.4h7.5v2.4h-7.5zM39.2 203.8h8.3v2.4h-8.3zM40.2 211h8.3v2.4h-8.3zM40.9 213.4h8.6v2.4h-8.6zM41.6 215.8h7.9v2.4h-7.9zM44.6 237.4h8.8v2.4h-8.8zM41 208.6h7.9v2.4h-7.9zM45 239.8h8.8v2.4h-8.8zM45.5 242.2h7.8v2.4h-7.8zM45.9 244.6h8.4v2.4h-8.4zM42.9 218.2h7.6v2.4h-7.6zM38.2 170.2h8.2v2.4h-8.2zM38.6 172.6h8.5v2.4h-8.5zM37.5 163h7.2v2.4h-7.2zM38.2 165.4h8.5v2.4h-8.5zM39.6 175h7.2v2.4h-7.2zM45.3 220.6h8.6v2.4h-8.6zM46.2 225.4h7.3v2.4h-7.3zM40.2 177.4h7.5v2.4h-7.5zM49 247h7.6v2.4h-7.6zM49.3 249.4h7.5v2.4h-7.5zM46.1 223h8.2v2.4h-8.2zM46.8 227.8h7.7v2.4h-7.7zM50 251.8h8.6v2.4h-8.6zM42 187h7.8v2.4h-7.8zM50.4 254.2h8.5v2.4h-8.5zM50.7 256.6h7.6v2.4h-7.6zM52.9 273.4h8.1v2.4h-8.1zM53.2 275.8h8.2v2.4h-8.2zM53.6 278.2h7.7v2.4h-7.7zM42.1 182.2h8.5v2.4h-8.5zM42.2 179.8h8.2v2.4h-8.2zM43.7 184.6h8.1v2.4h-8.1zM44.5 189.4h8.3v2.4h-8.3zM45.1 191.8h7.5v2.4h-7.5zM46.4 199h7.7v2.4h-7.7zM41.9 160.6h8.7v2.4h-8.7zM46.1 194.2h8.4v2.4h-8.4zM47.2 201.4h7.9v2.4h-7.9zM43.6 167.8h9v2.4h-9zM48.5 206.2h8.9v2.4h-8.9zM47.4 196.6h8.4v2.4h-8.4zM48.6 203.8h7.3v2.4h-7.3zM49.9 208.6h7.8v2.4h-7.8zM50.3 211h7.8v2.4h-7.8zM50.7 213.4h8.1v2.4h-8.1zM51.4 215.8h7.6v2.4h-7.6zM51.8 218.2h7.9v2.4h-7.9zM53.4 230.2h8.7v2.4h-8.7zM53.8 232.6h7.3v2.4h-7.3zM45.7 163h7.2v2.4h-7.2zM54.9 235h8.1v2.4h-8.1zM55.2 237.4h7.1v2.4h-7.1zM55.6 239.8h7.7v2.4h-7.7zM56 242.2h7.5v2.4h-7.5zM47.8 175h8.5v2.4h-8.5zM47.3 170.2h7.4v2.4h-7.4zM48.4 172.6h8v2.4h-8zM49 177.4h8.7v2.4h-8.7zM48.5 165.4h8.3v2.4h-8.3zM51.5 187h7.8v2.4h-7.8zM51.3 179.8h7.4v2.4h-7.4zM51.8 182.2h8.9v2.4h-8.9zM53.4 191.8h8.5v2.4h-8.5zM52.7 184.6h8.4v2.4h-8.4zM57.2 220.6h7.5v2.4h-7.5zM53.7 189.4h7.5v2.4h-7.5zM55 199h8.7v2.4h-8.7zM58.1 223h8.6v2.4h-8.6zM56 201.4h8.6v2.4h-8.6zM59.1 225.4h7.6v2.4h-7.6zM55.5 194.2h8.4v2.4h-8.4zM51.7 160.6h8.6v2.4h-8.6zM57.4 203.8h8.8v2.4h-8.8zM56.6 196.6h8.4v2.4h-8.4zM60.7 227.8h7.2v2.4h-7.2zM58.1 206.2h7.1v2.4h-7.1zM53.4 167.8h7.6v2.4h-7.6zM58.6 208.6h8.6v2.4h-8.6zM53.8 163h7.7v2.4h-7.7zM59.8 211h7.1v2.4h-7.1zM60.3 213.4h7.9v2.4h-7.9zM60.8 215.8h7.4v2.4h-7.4zM56.9 170.2h7.8v2.4h-7.8zM57.5 172.6h8.4v2.4h-8.4zM57.8 165.4h8v2.4h-8zM59.2 175h8.1v2.4h-8.1zM60.1 177.4h8v2.4h-8zM60.4 179.8h8.9v2.4h-8.9zM61.5 187h8.8v2.4h-8.8zM61.6 182.2h8v2.4h-8zM62 184.6h7.3v2.4h-7.3zM62.8 189.4h8.4v2.4h-8.4zM63.1 191.8h7.3v2.4h-7.3zM66.5 218.2h4.8v2.4h-4.8zM67.1 220.6h4.2v2.4h-4.2zM64.5 199h6.8v2.4h-6.8zM67.6 223h3.7v2.4h-3.7zM68 225.4h3.3v2.4h-3.3zM65.5 201.4h5.8v2.4h-5.8zM64.9 194.2h6.4v2.4h-6.4zM61.8 160.6h8.4v2.4h-8.4zM62.8 163h8v2.4h-8zM64 167.8h7.3v2.4h-7.3zM67.6 196.6h3.7v2.4h-3.7zM68.9 203.8h2.4v2.4h-2.4zM69.9 206.2h1.4v2.4h-1.4zM65.8 170.2h5.5v2.4h-5.5zM70.6 208.6h0.7v2.4h-0.7zM70.9 211h0.4v2.4h-0.4zM66.7 172.6h4.6v2.4h-4.6zM66.7 165.4h4.6v2.4h-4.6zM68.3 175h3v2.4h-3zM69.4 177.4h1.9v2.4h-1.9zM70.3 184.6h1v2.4h-1zM70.3 179.8h1v2.4h-1zM70.8 182.2h0.5v2.4h-0.5z" stroke="none" stroke-width="1" fill="#c6c6c6"/>
<path d="M7.6 213.7h1.2v1.8h-1.2zM11.2 187.3h0.8v1.8h-0.8zM15.5 206.5h2.2v1.8h-2.2zM18.2 192.1h2.2v1.8h-2.2zM28.8 223.3h1.2v1.8h-1.2zM36.3 242.5h3.5v1.8h-3.5zM38.8 216.1h1.6v1.8h-1.6zM38.4 252.1h1.6v1.8h-1.6zM39.7 254.5h0.8v1.8h-0.8zM34.2 184.9h1v1.8h-1zM46 230.5h0.8v1.8h-0.8zM40.4 206.5h1v1.8h-1zM39.8 170.5h1v1.8h-1zM49.3 172.9h3.5v1.8h-3.5zM54.6 172.9h1.6v1.8h-1.6zM60 192.1h1.2v1.8h-1.2zM58.9 192.1h0.8v1.8h-0.8zM62.1 220.9h1.6v1.8h-1.6zM63.5 204.1h1.6v1.8h-1.6zM62.6 204.1h1v1.8h-1zM59.9 175.3h2.2v1.8h-2.2zM65.9 201.7h1.6v1.8h-1.6zM68.9 204.1h3.5v1.8h-3.5zM70.4 180.1h1.2v1.8h-1.2z" stroke="none" stroke-width="1" fill="#d98a3c"/>
<path d="M7.5 216.1h3.5v1.8h-3.5zM9 220.9h0.8v1.8h-0.8zM7 182.5h2.2v1.8h-2.2zM18 189.7h1v1.8h-1zM25.9 213.7h1.2v1.8h-1.2zM28.4 194.5h1.2v1.8h-1.2zM40.7 247.3h2.2v1.8h-2.2zM35.3 216.1h1.2v1.8h-1.2zM34 163.3h0.8v1.8h-0.8zM32.7 172.9h3.5v1.8h-3.5zM47.4 242.5h3.5v1.8h-3.5zM56.7 273.7h3.5v1.8h-3.5zM54.3 211.3h3.5v1.8h-3.5zM68.7 189.7h2.2v1.8h-2.2z" stroke="none" stroke-width="1" fill="#8c56b0"/>
<path d="M7.6 177.7h0.8v1.8h-0.8zM19.2 235.3h2.2v1.8h-2.2zM17 170.5h1.6v1.8h-1.6zM17.4 192.1h1.6v1.8h-1.6zM25 165.7h1.2v1.8h-1.2zM23.7 175.3h2.2v1.8h-2.2zM31.7 199.3h3.5v1.8h-3.5zM30.5 204.1h2.2v1.8h-2.2zM39.3 242.5h2.2v1.8h-2.2zM38.5 225.7h1.6v1.8h-1.6zM30.1 170.5h0.8v1.8h-0.8zM44.7 208.9h2.2v1.8h-2.2zM43.4 187.3h3.5v1.8h-3.5zM53.9 273.7h1.2v1.8h-1.2zM52.4 213.7h1.6v1.8h-1.6zM54.2 187.3h2.2v1.8h-2.2zM54 187.3h2.2v1.8h-2.2zM52 160.9h1v1.8h-1zM58.8 204.1h3.5v1.8h-3.5zM64.5 228.1h2.2v1.8h-2.2zM61.8 228.1h3.5v1.8h-3.5zM68.9 194.5h1.2v1.8h-1.2zM70.7 208.9h3.5v1.8h-3.5zM70.4 184.9h1.6v1.8h-1.6z" stroke="none" stroke-width="1" fill="#e0402f"/>
<path d="M12.8 216.1h3.5v1.8h-3.5zM18 235.3h1.2v1.8h-1.2zM28.8 223.3h0.8v1.8h-0.8zM25.8 165.7h1v1.8h-1zM36.6 237.7h1.6v1.8h-1.6zM35.2 242.5h0.8v1.8h-0.8zM38.1 244.9h0.8v1.8h-0.8zM35.8 225.7h1.6v1.8h-1.6zM36.5 168.1h1.2v1.8h-1.2zM49.6 240.1h0.8v1.8h-0.8zM44.9 218.5h1.6v1.8h-1.6zM47.3 225.7h0.8v1.8h-0.8zM55.5 273.7h1v1.8h-1zM57.2 216.1h1v1.8h-1zM48.7 165.7h1.2v1.8h-1.2zM52.1 180.1h0.8v1.8h-0.8zM63 220.9h1.6v1.8h-1.6zM56.8 196.9h3.5v1.8h-3.5zM61.4 208.9h1.6v1.8h-1.6zM58.1 170.5h3.5v1.8h-3.5zM68.9 223.3h0.8v1.8h-0.8zM70.1 225.7h1v1.8h-1zM70.4 184.9h1.2v1.8h-1.2z" stroke="none" stroke-width="1" fill="#3b4fc4"/>
<path d="M19.9 201.7h8v1.8h-8zM28 230.5h8.1v1.8h-8.1zM33.9 187.3h7.1v1.8h-7.1zM36.4 199.3h6.8v1.8h-6.8zM53.6 230.5h8.3v1.8h-8.3z" stroke="none" stroke-width="1" fill="#e04848"/>
<path d="M21.1 206.5h6.7v1.8h-6.7zM29.5 206.5h6.7v1.8h-6.7zM34.5 189.7h7.2v1.8h-7.2zM39 201.7h7.1v1.8h-7.1zM46.3 223.3h7.8v1.8h-7.8zM50.6 254.5h8.1v1.8h-8.1zM43.9 184.9h7.7v1.8h-7.7zM46.3 194.5h8v1.8h-8zM55.8 240.1h7.3v1.8h-7.3zM56.2 242.5h7.1v1.8h-7.1zM57.7 172.9h8v1.8h-8zM58 165.7h7.6v1.8h-7.6z" stroke="none" stroke-width="1" fill="#4656c0"/>
<path d="M19.8 165.7h1.2v1.8h-1.2zM24.4 177.7h0.8v1.8h-0.8zM36.3 244.9h1.2v1.8h-1.2zM37 168.1h0.8v1.8h-0.8zM48.1 240.1h1.6v1.8h-1.6zM55.4 192.1h3.5v1.8h-3.5zM57.1 168.1h2.2v1.8h-2.2zM68.7 172.9h1v1.8h-1z" stroke="none" stroke-width="1" fill="#3aa84a"/>
<path d="M34.5 220.9h7.7v1.8h-7.7z" stroke="none" stroke-width="1" fill="#e3c12f"/>
</g>
<clipPath id="c2"><rect x="76.4" y="160.6" width="52.5" height="99.7"/></clipPath><g clip-path="url(#c2)">
<path d="M75.4 213.4h0v2.4h-0zM75.4 218.2h0.4v2.4h-0.4zM75.4 220.6h1.3v2.4h-1.3zM75.4 223h0.9v2.4h-0.9zM75.4 225.4h1.1v2.4h-1.1zM75.4 227.8h2.4v2.4h-2.4zM75.4 230.2h2.5v2.4h-2.5zM75.4 232.6h3.2v2.4h-3.2zM75.4 235h5.1v2.4h-5.1zM75.4 237.4h5.8v2.4h-5.8zM75.4 239.8h6v2.4h-6zM75.4 242.2h7.1v2.4h-7.1zM75.4 244.6h7.2v2.4h-7.2zM75.4 247h7.5v2.4h-7.5zM75.4 249.4h8.5v2.4h-8.5zM75.8 251.8h8.8v2.4h-8.8zM76.1 254.2h8.9v2.4h-8.9zM76.5 256.6h8.7v2.4h-8.7zM76.9 259h8.6v2.4h-8.6zM77.2 261.4h8.9v2.4h-8.9zM77.6 263.8h8.9v2.4h-8.9zM78.2 266.2h8.3v2.4h-8.3zM78.6 268.6h8.4v2.4h-8.4zM79 271h8.9v2.4h-8.9zM79.9 273.4h7.3v2.4h-7.3zM80.3 275.8h7.2v2.4h-7.2zM75.4 170.2h0.1v2.4h-0.1zM75.4 172.6h0.4v2.4h-0.4zM75.4 175h1.6v2.4h-1.6zM75.4 177.4h1.9v2.4h-1.9zM75.4 182.2h2.7v2.4h-2.7zM75.4 179.8h1.7v2.4h-1.7zM75.4 184.6h2.7v2.4h-2.7zM75.4 187h4.2v2.4h-4.2zM75.4 189.4h3.9v2.4h-3.9zM75.4 191.8h4.7v2.4h-4.7zM75.4 194.2h5.5v2.4h-5.5zM75.4 196.6h7v2.4h-7zM75.4 199h7.1v2.4h-7.1zM75.4 201.4h8.1v2.4h-8.1zM75.4 203.8h8.3v2.4h-8.3zM75.9 206.2h7.2v2.4h-7.2zM76.3 208.6h8.4v2.4h-8.4zM76.6 211h8.3v2.4h-8.3zM77 213.4h8.8v2.4h-8.8zM77.8 215.8h7.2v2.4h-7.2zM78.7 218.2h7.4v2.4h-7.4zM79.3 220.6h7.3v2.4h-7.3zM80.3 223h7.9v2.4h-7.9zM80.7 225.4h7.7v2.4h-7.7zM81.2 227.8h7.6v2.4h-7.6zM81.6 230.2h8.5v2.4h-8.5zM82.3 232.6h8.8v2.4h-8.8zM75.4 160.6h7.4v2.4h-7.4zM75.4 163h6.1v2.4h-6.1zM83.3 235h7.4v2.4h-7.4zM83.8 237.4h7.9v2.4h-7.9zM84.2 239.8h8.5v2.4h-8.5zM84.5 242.2h8.5v2.4h-8.5zM75.4 167.8h8.5v2.4h-8.5zM84.9 244.6h7.3v2.4h-7.3zM85.3 247h8.1v2.4h-8.1zM75.8 165.4h7.1v2.4h-7.1zM76.5 170.2h8.4v2.4h-8.4zM76.9 172.6h8.6v2.4h-8.6zM86.5 249.4h7.6v2.4h-7.6zM78.1 179.8h7.8v2.4h-7.8zM87.1 251.8h7.2v2.4h-7.2zM78.5 175h8.7v2.4h-8.7zM79.5 177.4h7.7v2.4h-7.7zM80.1 182.2h7.6v2.4h-7.6zM80.8 184.6h7.8v2.4h-7.8zM81.2 187h7.3v2.4h-7.3zM81.6 189.4h8.9v2.4h-8.9zM82.6 191.8h8.8v2.4h-8.8zM83 194.2h8.1v2.4h-8.1zM83.6 196.6h7.8v2.4h-7.8zM84.1 199h8v2.4h-8zM84.8 201.4h8.8v2.4h-8.8zM85.2 203.8h7.1v2.4h-7.1zM85.9 206.2h7.5v2.4h-7.5zM86.7 208.6h8.3v2.4h-8.3zM87.2 211h7.6v2.4h-7.6zM87.6 213.4h8v2.4h-8zM87.9 215.8h7.2v2.4h-7.2zM88.5 218.2h7.9v2.4h-7.9zM89.1 220.6h8.8v2.4h-8.8zM82.8 163h8.4v2.4h-8.4zM90.6 223h8.2v2.4h-8.2zM91.1 225.4h8.7v2.4h-8.7zM91.5 227.8h7.4v2.4h-7.4zM91.8 230.2h8.4v2.4h-8.4zM83.8 165.4h8.9v2.4h-8.9zM92.2 232.6h7.8v2.4h-7.8zM92.6 235h7.1v2.4h-7.1zM93 237.4h8.2v2.4h-8.2zM93.9 244.6h8.8v2.4h-8.8zM94.2 247h7.3v2.4h-7.3zM95.2 254.2h7.6v2.4h-7.6zM84 160.6h8.4v2.4h-8.4zM84.9 167.8h8.1v2.4h-8.1zM86.8 179.8h8.9v2.4h-8.9zM85.8 170.2h8.1v2.4h-8.1zM94.6 239.8h7.7v2.4h-7.7zM86.8 172.6h7.7v2.4h-7.7zM95.9 242.2h8v2.4h-8zM96.8 249.4h8.5v2.4h-8.5zM97.2 251.8h8.5v2.4h-8.5zM88.2 177.4h7.9v2.4h-7.9zM88.9 182.2h7.8v2.4h-7.8zM88.9 175h8.2v2.4h-8.2zM90.2 184.6h7.4v2.4h-7.4zM90.7 187h8v2.4h-8zM99.5 256.6h7.7v2.4h-7.7zM91.5 189.4h7.1v2.4h-7.1zM92.2 194.2h8.3v2.4h-8.3zM92.6 196.6h7.2v2.4h-7.2zM92.9 199h7.6v2.4h-7.6zM93.7 203.8h8.2v2.4h-8.2zM93 191.8h8.7v2.4h-8.7zM95 206.2h8.3v2.4h-8.3zM94.7 201.4h8.9v2.4h-8.9zM96.9 208.6h7.1v2.4h-7.1zM97.5 211h8.6v2.4h-8.6zM98.1 213.4h8.5v2.4h-8.5zM92.8 163h8.4v2.4h-8.4zM99.6 215.8h8.9v2.4h-8.9zM93.2 160.6h7.2v2.4h-7.2zM94.2 165.4h7.2v2.4h-7.2zM95 167.8h8.9v2.4h-8.9zM95.5 170.2h8.7v2.4h-8.7zM96 172.6h7.3v2.4h-7.3zM97.4 177.4h7.9v2.4h-7.9zM98 179.8h8.7v2.4h-8.7zM98.2 175h8.2v2.4h-8.2zM99.1 182.2h7.1v2.4h-7.1zM99.5 184.6h7.5v2.4h-7.5zM100.1 187h8.6v2.4h-8.6zM100.7 189.4h7.3v2.4h-7.3zM101.4 194.2h7.6v2.4h-7.6zM101.8 196.6h8.6v2.4h-8.6zM102.5 199h7.4v2.4h-7.4zM103.2 203.8h8.2v2.4h-8.2zM103.3 191.8h7.4v2.4h-7.4zM104.6 201.4h7.4v2.4h-7.4zM105.8 206.2h8.1v2.4h-8.1zM102.5 160.6h8.5v2.4h-8.5zM103.5 163h7.8v2.4h-7.8zM103.9 165.4h7.5v2.4h-7.5zM104.9 172.6h8.4v2.4h-8.4zM104.7 167.8h8.4v2.4h-8.4zM105.3 170.2h7.1v2.4h-7.1zM107 177.4h8.3v2.4h-8.3zM107.7 182.2h8v2.4h-8zM107.2 175h8.9v2.4h-8.9zM107.9 179.8h8.2v2.4h-8.2zM108.7 184.6h8.2v2.4h-8.2zM109.5 189.4h7.2v2.4h-7.2zM109.7 187h8v2.4h-8zM111 194.2h7.1v2.4h-7.1zM111.7 196.6h7.4v2.4h-7.4zM112.1 199h8v2.4h-8zM112 191.8h8.7v2.4h-8.7zM113.2 201.4h8.9v2.4h-8.9zM115.3 203.8h8.6v2.4h-8.6zM115.8 206.2h8v2.4h-8zM116.3 208.6h7.9v2.4h-7.9zM116.6 211h8.4v2.4h-8.4zM117.2 213.4h7.7v2.4h-7.7zM117.8 215.8h7.1v2.4h-7.1zM118.8 218.2h8.5v2.4h-8.5zM111.9 160.6h8.9v2.4h-8.9zM112.6 163h8.7v2.4h-8.7zM113 165.4h8.3v2.4h-8.3zM113.9 170.2h8.6v2.4h-8.6zM114.3 172.6h7.4v2.4h-7.4zM114.2 167.8h7.5v2.4h-7.5zM116.7 182.2h8.7v2.4h-8.7zM117.6 189.4h8v2.4h-8zM116.4 177.4h7.5v2.4h-7.5zM121.9 220.6h8v2.4h-8zM117 179.8h8.4v2.4h-8.4zM117.9 184.6h8.7v2.4h-8.7zM117 175h7.3v2.4h-7.3zM118.6 187h7.6v2.4h-7.6zM119.6 194.2h8v2.4h-8zM120.9 196.6h8.7v2.4h-8.7zM121.2 199h8.7v2.4h-8.7zM125 223h4.9v2.4h-4.9zM125.3 225.4h4.6v2.4h-4.6zM125.7 227.8h4.2v2.4h-4.2zM121.5 191.8h8.4v2.4h-8.4zM122.9 201.4h7v2.4h-7zM127 230.2h2.9v2.4h-2.9zM127.5 232.6h2.4v2.4h-2.4zM128 235h1.9v2.4h-1.9zM128.3 237.4h1.6v2.4h-1.6zM124.6 206.2h5.3v2.4h-5.3zM125.2 208.6h4.7v2.4h-4.7zM125.8 213.4h4.1v2.4h-4.1zM124.8 203.8h5.1v2.4h-5.1zM126.2 211h3.7v2.4h-3.7zM127.7 215.8h2.2v2.4h-2.2zM128.2 218.2h1.7v2.4h-1.7zM122.6 172.6h7.3v2.4h-7.3zM121.8 160.6h8.1v2.4h-8.1zM123.1 163h6.8v2.4h-6.8zM123.6 165.4h6.3v2.4h-6.3zM124.3 167.8h5.6v2.4h-5.6zM124.7 170.2h5.2v2.4h-5.2zM125.4 175h4.5v2.4h-4.5zM125.7 177.4h4.2v2.4h-4.2zM126.2 179.8h3.7v2.4h-3.7zM127.3 182.2h2.6v2.4h-2.6zM127.9 184.6h2v2.4h-2zM128.6 187h1.3v2.4h-1.3zM129.3 189.4h0.6v2.4h-0.6z" stroke="none" stroke-width="1" fill="#c6c6c6"/>
<path d="M75.8 220.9h0.8v1.8h-0.8zM75.5 230.5h2.2v1.8h-2.2zM76.1 247.3h0.8v1.8h-0.8zM79.4 266.5h1.2v1.8h-1.2zM75.7 177.7h1.2v1.8h-1.2zM77 199.3h2.2v1.8h-2.2zM77.9 206.5h1.6v1.8h-1.6zM78.1 160.9h1v1.8h-1zM79.7 172.9h3.5v1.8h-3.5zM87.7 163.3h1.2v1.8h-1.2zM94.5 187.3h3.5v1.8h-3.5zM99.6 177.7h1.6v1.8h-1.6zM104.7 192.1h1.2v1.8h-1.2zM110.3 184.9h1.6v1.8h-1.6zM114.3 189.7h0.8v1.8h-0.8zM117.2 213.7h1v1.8h-1zM122.4 213.7h2.2v1.8h-2.2zM113.8 160.9h1.2v1.8h-1.2zM119.3 172.9h1.2v1.8h-1.2zM126.3 225.7h3.5v1.8h-3.5zM126.6 192.1h1.2v1.8h-1.2zM127.6 232.9h0.8v1.8h-0.8zM127.2 208.9h1.2v1.8h-1.2zM127.8 211.3h0.8v1.8h-0.8zM128.1 184.9h1.6v1.8h-1.6z" stroke="none" stroke-width="1" fill="#e0402f"/>
<path d="M75.7 220.9h0.8v1.8h-0.8zM75.5 220.9h1.6v1.8h-1.6zM76.3 232.9h1.2v1.8h-1.2zM75.4 235.3h3.5v1.8h-3.5zM79.5 240.1h0.8v1.8h-0.8zM76.2 244.9h0.8v1.8h-0.8zM77.4 244.9h2.2v1.8h-2.2zM75.4 170.5h1v1.8h-1zM75.5 177.7h3.5v1.8h-3.5zM79.9 196.9h0.8v1.8h-0.8zM80.6 206.5h1.6v1.8h-1.6zM78.1 216.1h2.2v1.8h-2.2zM85.5 194.5h1.2v1.8h-1.2zM96.3 237.7h1.6v1.8h-1.6zM89.2 172.9h1v1.8h-1zM97.7 249.7h1v1.8h-1zM94.1 204.1h3.5v1.8h-3.5zM99 208.9h0.8v1.8h-0.8zM98.9 163.3h0.8v1.8h-0.8zM119.1 172.9h1v1.8h-1zM115.8 172.9h3.5v1.8h-3.5zM128.3 218.5h2.2v1.8h-2.2zM125.7 160.9h2.2v1.8h-2.2zM128 184.9h1.6v1.8h-1.6z" stroke="none" stroke-width="1" fill="#d98a3c"/>
<path d="M75.5 228.1h2.2v1.8h-2.2zM75.4 182.5h3.5v1.8h-3.5zM84.5 228.1h2.2v1.8h-2.2zM78.1 163.3h0.8v1.8h-0.8zM100.3 249.7h1v1.8h-1zM96.5 163.3h3.5v1.8h-3.5zM104.7 192.1h1.6v1.8h-1.6zM108.3 168.1h1.2v1.8h-1.2zM113.2 189.7h1.6v1.8h-1.6zM114.3 194.5h3.5v1.8h-3.5zM119.4 216.1h1.6v1.8h-1.6zM120.1 218.5h0.8v1.8h-0.8zM126.6 199.3h0.8v1.8h-0.8zM127.9 225.7h1.6v1.8h-1.6zM127.8 232.9h0.8v1.8h-0.8zM125.4 206.5h1.6v1.8h-1.6zM127 204.1h0.8v1.8h-0.8zM127 177.7h1v1.8h-1zM127.3 182.5h0.8v1.8h-0.8z" stroke="none" stroke-width="1" fill="#3b4fc4"/>
<path d="M81.1 249.7h2.2v1.8h-2.2zM75.7 184.9h1.2v1.8h-1.2zM77.2 201.7h3.5v1.8h-3.5zM84.8 184.9h2.2v1.8h-2.2zM108.5 163.3h1.2v1.8h-1.2zM120.8 208.9h0.8v1.8h-0.8zM118.9 170.5h1v1.8h-1z" stroke="none" stroke-width="1" fill="#8c56b0"/>
<path d="M78.3 266.5h1v1.8h-1zM80.3 213.7h1v1.8h-1zM81.8 160.9h1v1.8h-1zM89 240.1h3.5v1.8h-3.5zM89.3 199.3h0.8v1.8h-0.8zM102 249.7h1.2v1.8h-1.2zM114.3 182.5h0.8v1.8h-0.8zM113.3 184.9h1.6v1.8h-1.6zM123.1 218.5h3.5v1.8h-3.5zM118.9 180.1h1.2v1.8h-1.2zM118.8 180.1h1.6v1.8h-1.6zM123.9 165.7h3.5v1.8h-3.5zM125.3 170.5h3.5v1.8h-3.5zM128 184.9h2.2v1.8h-2.2z" stroke="none" stroke-width="1" fill="#3aa84a"/>
<path d="M84.7 242.5h8.1v1.8h-8.1zM85.1 244.9h6.9v1.8h-6.9zM86.7 249.7h7.2v1.8h-7.2zM87.3 252.1h6.8v1.8h-6.8zM82.8 192.1h8.4v1.8h-8.4zM86.9 208.9h7.9v1.8h-7.9zM87.8 213.7h7.6v1.8h-7.6zM90.8 223.3h7.8v1.8h-7.8zM91.3 225.7h8.3v1.8h-8.3zM92.8 235.3h6.7v1.8h-6.7zM94.4 247.3h6.9v1.8h-6.9zM89.1 175.3h7.8v1.8h-7.8zM93.2 192.1h8.3v1.8h-8.3zM94.9 201.7h8.5v1.8h-8.5zM96.2 172.9h6.9v1.8h-6.9zM98.4 175.3h7.8v1.8h-7.8zM100.3 187.3h8.2v1.8h-8.2zM101.6 194.5h7.2v1.8h-7.2zM102 196.9h8.2v1.8h-8.2zM106 206.5h7.7v1.8h-7.7zM105.5 170.5h6.7v1.8h-6.7zM107.2 177.7h7.9v1.8h-7.9zM107.4 175.3h8.5v1.8h-8.5zM108.1 180.1h7.8v1.8h-7.8z" stroke="none" stroke-width="1" fill="#3fb2ad"/>
</g>
<clipPath id="c3"><rect x="134.5" y="160.6" width="92.5" height="99.7"/></clipPath><g clip-path="url(#c3)">
<path d="M133.5 189.4h0.1v2.4h-0.1zM133.5 191.8h0.7v2.4h-0.7zM133.5 194.2h0.9v2.4h-0.9zM133.5 196.6h1.9v2.4h-1.9zM133.5 199h0.7v2.4h-0.7zM133.5 201.4h2.9v2.4h-2.9zM133.5 203.8h2.2v2.4h-2.2zM133.5 206.2h3.7v2.4h-3.7zM133.5 208.6h3.9v2.4h-3.9zM133.5 211h4.7v2.4h-4.7zM133.5 213.4h4.8v2.4h-4.8zM133.5 215.8h4.2v2.4h-4.2zM133.5 218.2h5.9v2.4h-5.9zM133.5 220.6h5.8v2.4h-5.8zM133.5 223h7.7v2.4h-7.7zM134.3 225.4h8.5v2.4h-8.5zM134.8 227.8h7.6v2.4h-7.6zM135.5 230.2h7.7v2.4h-7.7zM136 232.6h7.7v2.4h-7.7zM136.4 235h7.3v2.4h-7.3zM136.9 237.4h8.1v2.4h-8.1zM137.2 239.8h8.4v2.4h-8.4zM137.5 242.2h7.7v2.4h-7.7zM133.5 163h2.6v2.4h-2.6zM133.5 160.6h3.3v2.4h-3.3zM133.5 165.4h3.7v2.4h-3.7zM133.5 172.6h3.8v2.4h-3.8zM139.1 244.6h7.5v2.4h-7.5zM133.5 175h5.8v2.4h-5.8zM133.5 177.4h5.9v2.4h-5.9zM133.5 167.8h4v2.4h-4zM133.5 170.2h5.2v2.4h-5.2zM133.5 179.8h6.3v2.4h-6.3zM133.5 182.2h7.1v2.4h-7.1zM133.5 184.6h8.3v2.4h-8.3zM133.7 187h8.6v2.4h-8.6zM134.8 189.4h7.6v2.4h-7.6zM135.2 191.8h7.5v2.4h-7.5zM135.8 194.2h7.2v2.4h-7.2zM136.4 199h7.6v2.4h-7.6zM136.4 196.6h8.3v2.4h-8.3zM137.5 203.8h8.3v2.4h-8.3zM137.7 201.4h8v2.4h-8zM138.7 206.2h8.5v2.4h-8.5zM139.1 208.6h7.2v2.4h-7.2zM139.6 211h7.4v2.4h-7.4zM140.1 213.4h7.4v2.4h-7.4zM140.9 215.8h8.4v2.4h-8.4zM141.2 218.2h8.3v2.4h-8.3zM142.1 220.6h7.8v2.4h-7.8zM142.7 223h8.7v2.4h-8.7zM143.7 225.4h7.6v2.4h-7.6zM144.2 227.8h8.8v2.4h-8.8zM144.6 230.2h8.8v2.4h-8.8zM145.1 232.6h7.4v2.4h-7.4zM136.9 163h8.3v2.4h-8.3zM138.6 172.6h8.3v2.4h-8.3zM146.4 235h7.5v2.4h-7.5zM137.8 160.6h7.5v2.4h-7.5zM139 165.4h7.3v2.4h-7.3zM139.7 167.8h7.8v2.4h-7.8zM140.1 170.2h8.5v2.4h-8.5zM140.8 175h7.7v2.4h-7.7zM141.6 177.4h8.6v2.4h-8.6zM142.1 179.8h7.7v2.4h-7.7zM142.5 182.2h8.3v2.4h-8.3zM143 184.6h7.7v2.4h-7.7zM143.7 187h8.2v2.4h-8.2zM144.8 189.4h8.3v2.4h-8.3zM145.2 191.8h8v2.4h-8zM145.8 194.2h7.6v2.4h-7.6zM146.9 196.6h7.2v2.4h-7.2zM147.6 199h7.4v2.4h-7.4zM148 201.4h8.2v2.4h-8.2zM148.7 203.8h8v2.4h-8zM149.8 206.2h7.2v2.4h-7.2zM150.3 208.6h8.4v2.4h-8.4zM150.7 211h7.2v2.4h-7.2zM151 213.4h7.3v2.4h-7.3zM151.4 215.8h8.7v2.4h-8.7zM152.1 218.2h7.8v2.4h-7.8zM152.5 220.6h7.8v2.4h-7.8zM152.9 223h8.3v2.4h-8.3zM153.3 225.4h8v2.4h-8zM154.2 232.6h7.7v2.4h-7.7zM153.9 227.8h8.9v2.4h-8.9zM154.4 230.2h8.3v2.4h-8.3zM146.3 163h8v2.4h-8zM155.3 235h7.9v2.4h-7.9zM146.4 160.6h8.2v2.4h-8.2zM148 165.4h8.6v2.4h-8.6zM148.8 167.8h7.8v2.4h-7.8zM150 170.2h7.5v2.4h-7.5zM151.1 172.6h7.2v2.4h-7.2zM151.5 175h8.8v2.4h-8.8zM152.2 177.4h8.9v2.4h-8.9zM152.5 179.8h8.6v2.4h-8.6zM153 182.2h8.2v2.4h-8.2zM153.3 184.6h8.3v2.4h-8.3zM154.7 187h8.3v2.4h-8.3zM155.3 189.4h7.2v2.4h-7.2zM155.7 191.8h7.6v2.4h-7.6zM156.4 194.2h7.8v2.4h-7.8zM157.2 196.6h7.4v2.4h-7.4zM158.3 199h8.1v2.4h-8.1zM158.8 201.4h8.8v2.4h-8.8zM160 203.8h8.5v2.4h-8.5zM156.1 160.6h7.7v2.4h-7.7zM156.4 163h7.9v2.4h-7.9zM157.5 167.8h8.8v2.4h-8.8zM162.3 206.2h8.1v2.4h-8.1zM162.6 208.6h7.6v2.4h-7.6zM163 211h8.2v2.4h-8.2zM163.4 213.4h7.4v2.4h-7.4zM159.3 165.4h8.6v2.4h-8.6zM162.4 170.2h7.8v2.4h-7.8zM162.7 172.6h7.8v2.4h-7.8zM163.2 175h8.6v2.4h-8.6zM163.7 177.4h7.3v2.4h-7.3zM164 179.8h8v2.4h-8zM165.3 182.2h7.3v2.4h-7.3zM165.7 184.6h7.7v2.4h-7.7zM166.3 187h7.7v2.4h-7.7zM167.1 189.4h8.9v2.4h-8.9zM167.7 191.8h8.5v2.4h-8.5zM168.6 194.2h7.4v2.4h-7.4zM164.7 160.6h7.3v2.4h-7.3zM166.3 163h7.4v2.4h-7.4zM170.6 196.6h7.9v2.4h-7.9zM167.1 167.8h8.3v2.4h-8.3zM171.1 199h8.8v2.4h-8.8zM171.8 201.4h8v2.4h-8zM173.4 203.8h7.3v2.4h-7.3zM169.4 165.4h7.2v2.4h-7.2zM175 206.2h8.2v2.4h-8.2zM171.1 170.2h8.4v2.4h-8.4zM173.4 172.6h8.6v2.4h-8.6zM172.8 160.6h7.3v2.4h-7.3zM175.2 175h7.2v2.4h-7.2zM176.1 177.4h7.2v2.4h-7.2zM176.5 179.8h8v2.4h-8zM174.8 163h8.6v2.4h-8.6zM177.2 182.2h7.7v2.4h-7.7zM177.8 184.6h7.5v2.4h-7.5zM176.7 167.8h7.3v2.4h-7.3zM179.3 187h8v2.4h-8zM179.8 189.4h7.6v2.4h-7.6zM177.6 165.4h8.3v2.4h-8.3zM181.2 191.8h7.9v2.4h-7.9zM181.6 194.2h8.3v2.4h-8.3zM182 196.6h7.3v2.4h-7.3zM183.8 199h8.1v2.4h-8.1zM181.1 170.2h8v2.4h-8zM185.2 201.4h8.3v2.4h-8.3zM185.8 203.8h7.6v2.4h-7.6zM186.5 206.2h7.3v2.4h-7.3zM181.2 160.6h7.4v2.4h-7.4zM183.3 172.6h8.3v2.4h-8.3zM183.6 175h8.7v2.4h-8.7zM184.7 177.4h8.1v2.4h-8.1zM186 179.8h8.1v2.4h-8.1zM186.3 182.2h8v2.4h-8zM186.9 184.6h8.8v2.4h-8.8zM184.7 163h7.7v2.4h-7.7zM186 167.8h7.1v2.4h-7.1zM188.4 187h7.7v2.4h-7.7zM188.8 189.4h7.6v2.4h-7.6zM191.2 208.6h7.4v2.4h-7.4zM191.7 211h7.7v2.4h-7.7zM190.1 196.6h8.4v2.4h-8.4zM186.8 165.4h8.9v2.4h-8.9zM190.3 191.8h7v2.4h-7zM193.1 213.4h7.3v2.4h-7.3zM190.7 194.2h7.5v2.4h-7.5zM194.6 215.8h8.5v2.4h-8.5zM193 199h7.6v2.4h-7.6zM195.5 218.2h7.6v2.4h-7.6zM190.2 170.2h8.1v2.4h-8.1zM190.2 160.6h7.4v2.4h-7.4zM195.5 201.4h8v2.4h-8zM196.2 203.8h7.1v2.4h-7.1zM192.4 172.6h7.6v2.4h-7.6zM197 206.2h8.7v2.4h-8.7zM193.2 175h8v2.4h-8zM193.7 177.4h8.3v2.4h-8.3zM199.2 220.6h7.6v2.4h-7.6zM199.5 223h7.3v2.4h-7.3zM199.9 225.4h8.6v2.4h-8.6zM200.5 227.8h8v2.4h-8zM194.9 179.8h7.7v2.4h-7.7zM195.2 182.2h8.2v2.4h-8.2zM201.5 230.2h8.5v2.4h-8.5zM193.4 163h8.4v2.4h-8.4zM194.1 167.8h7.5v2.4h-7.5zM196.6 184.6h8.8v2.4h-8.8zM197.3 187h7.8v2.4h-7.8zM198 189.4h7.7v2.4h-7.7zM198.4 191.8h7.2v2.4h-7.2zM200.8 208.6h8.9v2.4h-8.9zM199.3 196.6h8.1v2.4h-8.1zM201.1 211h8.1v2.4h-8.1zM200 194.2h8.8v2.4h-8.8zM202.5 213.4h7.2v2.4h-7.2zM197.1 165.4h7.6v2.4h-7.6zM201.5 199h7.2v2.4h-7.2zM204.3 215.8h8v2.4h-8zM204.7 218.2h7.1v2.4h-7.1zM206.6 232.6h8.8v2.4h-8.8zM207.1 235h8v2.4h-8zM199.8 160.6h8.6v2.4h-8.6zM201.2 170.2h8.7v2.4h-8.7zM201.6 172.6h8.8v2.4h-8.8zM205.3 201.4h7.6v2.4h-7.6zM203 175h8.3v2.4h-8.3zM203.3 177.4h8.3v2.4h-8.3zM203.8 179.8h8.8v2.4h-8.8zM202.6 167.8h7.6v2.4h-7.6zM204.6 182.2h8.3v2.4h-8.3zM203.2 163h8.6v2.4h-8.6zM206.3 187h8.1v2.4h-8.1zM206.6 189.4h7.2v2.4h-7.2zM206.7 184.6h8.6v2.4h-8.6zM208.3 191.8h7.1v2.4h-7.1zM209 196.6h7.9v2.4h-7.9zM205.6 165.4h7.6v2.4h-7.6zM210.1 199h7.9v2.4h-7.9zM210.2 194.2h8.7v2.4h-8.7zM211.7 203.8h8.9v2.4h-8.9zM212.5 206.2h8.8v2.4h-8.8zM212.9 208.6h8.7v2.4h-8.7zM214.2 211h7.1v2.4h-7.1zM214.6 213.4h8.2v2.4h-8.2zM214.9 215.8h8.1v2.4h-8.1zM215.4 218.2h8.3v2.4h-8.3zM216.1 220.6h7.9v2.4h-7.9zM213.8 201.4h8.6v2.4h-8.6zM216.5 223h7.1v2.4h-7.1zM217 225.4h8.6v2.4h-8.6zM217.4 227.8h8.7v2.4h-8.7zM209.5 160.6h8v2.4h-8zM210.9 170.2h8.1v2.4h-8.1zM211.1 167.8h7.2v2.4h-7.2zM211.7 172.6h8.6v2.4h-8.6zM212.5 175h8.6v2.4h-8.6zM212.9 177.4h7.2v2.4h-7.2zM213.8 179.8h8v2.4h-8zM214.2 182.2h7.3v2.4h-7.3zM215.4 187h8.9v2.4h-8.9zM215.8 189.4h8.5v2.4h-8.5zM212.8 163h8.7v2.4h-8.7zM214.1 165.4h8.1v2.4h-8.1zM217 184.6h8.6v2.4h-8.6zM218.1 191.8h7.5v2.4h-7.5zM218.9 196.6h8v2.4h-8zM219.9 199h8.1v2.4h-8.1zM220.1 194.2h7.9v2.4h-7.9zM222.5 203.8h5.5v2.4h-5.5zM223.3 206.2h4.7v2.4h-4.7zM218.2 160.6h7.9v2.4h-7.9zM219.5 167.8h7.5v2.4h-7.5zM219.8 170.2h7.4v2.4h-7.4zM221 177.4h7v2.4h-7zM221.8 172.6h6.2v2.4h-6.2zM222.3 175h5.7v2.4h-5.7zM224.3 179.8h3.7v2.4h-3.7zM222.6 163h5.4v2.4h-5.4zM225 182.2h3v2.4h-3zM223.4 165.4h4.6v2.4h-4.6zM226.3 187h1.7v2.4h-1.7zM226.9 189.4h1.1v2.4h-1.1zM227.2 191.8h0.8v2.4h-0.8zM226.8 184.6h1.2v2.4h-1.2zM227 160.6h1v2.4h-1z" stroke="none" stroke-width="1" fill="#c6c6c6"/>
<path d="M133.5 194.5h3.5v1.8h-3.5zM133.5 199.3h0.8v1.8h-0.8zM133.5 204.1h2.2v1.8h-2.2zM134 206.5h1v1.8h-1zM135.2 206.5h1v1.8h-1zM135.6 175.3h2.2v1.8h-2.2zM139.7 187.3h1.6v1.8h-1.6zM143.7 170.5h1.6v1.8h-1.6zM152.6 199.3h1.6v1.8h-1.6zM156.2 232.9h3.5v1.8h-3.5zM160.4 232.9h1.2v1.8h-1.2zM155 232.9h1.6v1.8h-1.6zM177 168.1h3.5v1.8h-3.5zM187 206.5h0.8v1.8h-0.8zM192 206.5h1.2v1.8h-1.2zM188 172.9h2.2v1.8h-2.2zM196.5 196.9h1.6v1.8h-1.6zM195 175.3h1.2v1.8h-1.2zM218.4 220.9h1.2v1.8h-1.2zM212.4 170.5h2.2v1.8h-2.2zM216.4 182.5h1.6v1.8h-1.6zM213.2 163.3h0.8v1.8h-0.8zM224.4 184.9h1v1.8h-1zM222.2 170.5h1.2v1.8h-1.2zM227 182.5h0.8v1.8h-0.8zM226.3 182.5h1.6v1.8h-1.6z" stroke="none" stroke-width="1" fill="#3b4fc4"/>
<path d="M133.6 199.3h0.8v1.8h-0.8zM134.9 208.9h1.2v1.8h-1.2zM136.8 216.1h0.8v1.8h-0.8zM138.1 242.5h1.2v1.8h-1.2zM133.7 172.9h3.5v1.8h-3.5zM134.9 168.1h1.2v1.8h-1.2zM146.9 223.3h3.5v1.8h-3.5zM145 223.3h1.2v1.8h-1.2zM150.8 235.3h2.2v1.8h-2.2zM140 160.9h3.5v1.8h-3.5zM141.2 165.7h1v1.8h-1zM140.9 170.5h3.5v1.8h-3.5zM143.4 180.1h3.5v1.8h-3.5zM158 180.1h1.2v1.8h-1.2zM158.6 163.3h2.2v1.8h-2.2zM170.6 160.9h0.8v1.8h-0.8zM173.6 170.5h1.2v1.8h-1.2zM181.8 184.9h1v1.8h-1zM179.6 184.9h3.5v1.8h-3.5zM187.9 184.9h2.2v1.8h-2.2zM201.1 194.5h3.5v1.8h-3.5zM219.9 225.7h1v1.8h-1zM213.6 170.5h3.5v1.8h-3.5zM217.4 187.3h0.8v1.8h-0.8zM216.9 163.3h2.2v1.8h-2.2zM219.9 192.1h1v1.8h-1zM222 194.5h1.6v1.8h-1.6z" stroke="none" stroke-width="1" fill="#e0402f"/>
<path d="M135.2 220.9h0.8v1.8h-0.8zM135.3 172.9h0.8v1.8h-0.8zM146.4 230.5h2.2v1.8h-2.2zM139.8 165.7h1.2v1.8h-1.2zM144 168.1h1v1.8h-1zM149.5 196.9h3.5v1.8h-3.5zM162.3 163.3h1v1.8h-1zM184.7 189.7h1.6v1.8h-1.6zM189.8 187.3h1.6v1.8h-1.6zM192 189.7h1v1.8h-1zM201.7 170.5h2.2v1.8h-2.2zM204.1 168.1h3.5v1.8h-3.5zM221.6 187.3h2.2v1.8h-2.2z" stroke="none" stroke-width="1" fill="#8c56b0"/>
<path d="M139.6 225.7h1v1.8h-1zM147.1 223.3h1.6v1.8h-1.6zM179.2 160.9h0.8v1.8h-0.8zM188.6 187.3h2.2v1.8h-2.2zM193.4 175.3h1v1.8h-1zM199.1 182.5h1.2v1.8h-1.2zM203.4 230.5h0.8v1.8h-0.8zM207.5 213.7h1.6v1.8h-1.6zM205.8 170.5h2.2v1.8h-2.2zM216.5 216.1h0.8v1.8h-0.8zM221.9 218.5h1.2v1.8h-1.2zM217.3 180.1h1.6v1.8h-1.6zM225.9 177.7h1.6v1.8h-1.6zM226.3 187.3h0.8v1.8h-0.8z" stroke="none" stroke-width="1" fill="#3aa84a"/>
<path d="M135 228.1h7.2v1.8h-7.2zM135.7 230.5h7.3v1.8h-7.3zM133.7 184.9h7.9v1.8h-7.9zM135 189.7h7.2v1.8h-7.2zM136 194.5h6.8v1.8h-6.8zM136.6 199.3h7.2v1.8h-7.2zM137.9 201.7h7.6v1.8h-7.6zM139.8 211.3h7v1.8h-7zM140.3 213.7h7v1.8h-7zM141.1 216.1h8v1.8h-8zM141.4 218.5h7.9v1.8h-7.9zM143.9 225.7h7.2v1.8h-7.2zM144.4 228.1h8.4v1.8h-8.4zM141 175.3h7.3v1.8h-7.3zM142.7 182.5h7.9v1.8h-7.9zM143.2 184.9h7.3v1.8h-7.3zM143.9 187.3h7.8v1.8h-7.8zM145 189.7h7.9v1.8h-7.9zM151.6 216.1h8.3v1.8h-8.3zM152.3 218.5h7.4v1.8h-7.4zM154.1 228.1h8.5v1.8h-8.5zM154.6 230.5h7.9v1.8h-7.9zM148.2 165.7h8.2v1.8h-8.2zM149 168.1h7.4v1.8h-7.4zM150.2 170.5h7.1v1.8h-7.1zM151.3 172.9h6.8v1.8h-6.8zM153.5 184.9h7.9v1.8h-7.9zM156.6 194.5h7.4v1.8h-7.4zM157.4 196.9h7v1.8h-7zM159 201.7h8.4v1.8h-8.4zM160.2 204.1h8.1v1.8h-8.1zM159.5 165.7h8.2v1.8h-8.2z" stroke="none" stroke-width="1" fill="#3fb2ad"/>
<path d="M142 235.3h1.6v1.8h-1.6zM138.4 240.1h3.5v1.8h-3.5zM133.5 163.3h3.5v1.8h-3.5zM136.9 180.1h2.2v1.8h-2.2zM138.7 187.3h3.5v1.8h-3.5zM141.9 168.1h0.8v1.8h-0.8zM161.5 163.3h0.8v1.8h-0.8zM164 208.9h2.2v1.8h-2.2zM170.3 194.5h3.5v1.8h-3.5zM172.5 168.1h1v1.8h-1zM185.6 172.9h3.5v1.8h-3.5zM192.8 184.9h2.2v1.8h-2.2zM199 213.7h1.2v1.8h-1.2zM194.8 199.3h1.6v1.8h-1.6zM197 175.3h0.8v1.8h-0.8zM202 182.5h1v1.8h-1zM207.1 235.3h2.2v1.8h-2.2zM201.9 170.5h3.5v1.8h-3.5zM203.8 177.7h3.5v1.8h-3.5zM208.2 165.7h3.5v1.8h-3.5zM214.8 180.1h0.8v1.8h-0.8zM218.7 182.5h2.2v1.8h-2.2zM215.4 163.3h1.6v1.8h-1.6zM225.3 194.5h2.2v1.8h-2.2zM225.1 194.5h1.6v1.8h-1.6zM220.8 160.9h1.2v1.8h-1.2zM223.4 163.3h1.6v1.8h-1.6zM225.1 182.5h3.5v1.8h-3.5z" stroke="none" stroke-width="1" fill="#d98a3c"/>
<path d="M195.7 218.5h7.2v1.8h-7.2zM195.7 201.7h7.6v1.8h-7.6zM204.9 218.5h6.7v1.8h-6.7z" stroke="none" stroke-width="1" fill="#e04848"/>
<path d="M199.4 220.9h7.2v1.8h-7.2zM196.8 184.9h8.4v1.8h-8.4zM197.5 187.3h7.4v1.8h-7.4zM199.5 196.9h7.7v1.8h-7.7zM204.5 216.1h7.6v1.8h-7.6zM206.9 184.9h8.2v1.8h-8.2zM210.3 199.3h7.5v1.8h-7.5z" stroke="none" stroke-width="1" fill="#4656c0"/>
</g>
<line x1="56.3" y1="152" x2="56.3" y2="246" stroke="#d89050" stroke-width="0.7" opacity="0.8"/>
<line x1="81.2" y1="152" x2="81.2" y2="252" stroke="#d89050" stroke-width="0.7" opacity="0.8"/>
<line x1="144" y1="152" x2="144" y2="200" stroke="#d89050" stroke-width="0.6" opacity="0.7"/>
<rect x="70.4" y="143.2" width="6" height="126.5" fill="#ffffff"/>
<line x1="70.4" y1="143.2" x2="70.4" y2="269.7" stroke="#6d6d6d" stroke-width="0.9"/>
<line x1="76.4" y1="143.2" x2="76.4" y2="269.7" stroke="#6d6d6d" stroke-width="0.9"/>
<rect x="128.9" y="143.2" width="5.6" height="126.5" fill="#ffffff"/>
<line x1="128.9" y1="143.2" x2="128.9" y2="269.7" stroke="#6d6d6d" stroke-width="0.9"/>
<line x1="134.5" y1="143.2" x2="134.5" y2="269.7" stroke="#6d6d6d" stroke-width="0.9"/>
<text x="30.2" y="281.8" font-size="9.3" fill="#333333" textLength="30.2" lengthAdjust="spacingAndGlyphs" font-style="italic">AUTS2</text>
<text x="88.8" y="282.1" font-size="9.3" fill="#333333" textLength="30.2" lengthAdjust="spacingAndGlyphs" font-style="italic">AUTS2</text>
<text x="163.6" y="282.1" font-size="9.3" fill="#333333" textLength="30.3" lengthAdjust="spacingAndGlyphs" font-style="italic">AUTS2</text>
<text x="338" y="132.5" font-size="10" fill="#ea3468" textLength="25.3" lengthAdjust="spacingAndGlyphs">40mb</text>
<rect x="248.3" y="136" width="72.7" height="4.8" fill="#231f20"/>
<rect x="321" y="136" width="55.1" height="4.8" fill="#ea3468"/>
<path d="M241.6 183.3L241.6 160.7L242.6 161.5L243.6 160.5L244.5 162L244.5 183.3Z" stroke="none" stroke-width="1" fill="#ebebeb"/>
<path d="M241.6 159.7V168M242.3 158.2V168M242.8 155.1V166.9M243.2 157.5V165.8M243.8 160.3V167.6M244.3 159.6V163.9" stroke="#dedede" stroke-width="0.6" fill="none"/>
<path d="" stroke="#dcdcdc" stroke-width="0.6" fill="none"/>
<path d="M248.3 183.3L248.3 160.8L249.3 160.4L250.3 159.7L251.3 159.1L252.3 160.5L253.3 161.4L254.3 159.8L255.3 161.1L256.3 158.6L257.3 160.1L258.3 159.1L259.3 160L260.3 160.3L261.3 161.1L262.3 160.1L263.3 161.1L264.3 159.5L265.3 158.9L266.3 159.9L267.3 160.6L268.3 160.6L269.3 158.6L270.3 159.2L271.3 159.3L272.3 159.9L273.3 161.1L274.3 159.3L275.3 158.6L276.3 161.2L277.3 161.1L278.3 160.8L279.3 158.6L280.3 159.3L281.3 159L282.3 161.2L283.3 158.9L284.3 158.9L285.3 159.2L286.3 160.9L287.3 159.1L288.3 161.5L289.3 159.4L290.3 160.5L291.3 159.1L292.3 159.4L293.3 161.1L294.3 161.5L295.3 159.2L296.3 159.5L297.3 158.7L298.3 159.1L299.3 159.7L300.3 160.1L301.3 160.2L302.3 159.5L303.3 159L304.3 160.2L305.3 159.5L306.3 159.5L307.3 161.4L308.3 160.3L309.3 158.5L310.3 161.4L311.3 161.4L312.3 159.7L313.3 161.4L314.3 158.8L315.3 161.3L316.3 159L317.3 161.1L318.3 160.5L319.3 161.4L320.3 159.4L321.3 151.5L322.3 152.3L323.3 149.9L324.3 150.1L325.3 151.2L326.3 149.9L327.3 149.7L328.3 149.5L329.3 150.5L330.3 151.4L331.3 150.9L332.3 151.3L333.3 149.6L334.3 149.8L335.3 151.2L336.3 150L337.3 149.5L338.3 149.7L339.3 151.5L340.3 152.4L341.3 151L342.3 149.5L343.3 150.1L344.3 151.5L345.3 151.9L346.3 150.1L347.3 150.9L348.3 149.6L349.3 151.1L350.3 151.8L351.3 151L352.3 151.9L353.3 150.2L354.3 151.5L355.3 150.9L356.3 151.3L357.3 149.7L358.3 150.9L359.3 151.4L360.3 150.2L361.3 151.2L362.3 149.6L363.3 150.8L364.3 152.3L365.3 151.4L366.3 151L367.3 152.1L368.3 151.6L369.3 151L370.3 150.6L371.3 152.1L372.3 151.2L373.3 151L374.3 150.6L375.3 150L376.1 151L376.1 183.3Z" stroke="none" stroke-width="1" fill="#ebebeb"/>
<path d="M248.3 158.3V164.8M248.9 153V163.6M249.4 155V162M250.2 154.3V162.4M250.8 152.4V167.6M251.5 152.1V166.5M252 156.2V163.7M252.4 154.7V164.4M253.1 156.9V167.8M253.8 154.8V161.8M254.6 153.8V165.1M255 158.2V161.6M255.8 156V165.6M256.5 152.7V162.3M256.9 151.3V161.1M257.8 156.4V160.2M258.3 153.1V163.2M258.7 159.3V160.4M259.3 156.7V165.4M259.7 157.4V164.4M260.2 153.8V162.1M260.9 154V163.3M261.6 156.9V167.4M262.3 157.4V166.8M262.9 152.2V165.7M263.7 155.1V162.8M264.4 151.7V164.2M265.1 154.6V162.7M265.5 154.4V161.3M266.1 153V163M266.6 151.3V164.7M267.3 158.3V166M267.8 153.6V167.6M268.5 158V167.4M269.2 158.4V160.3M269.6 154.7V163.9M270 151.5V160.5M270.7 155.5V166.4M271.5 153.7V163M272.1 158.2V162.1M272.4 156.7V167.2M273.1 159.4V162.7M273.6 155.3V164.1M274.4 158.2V165.1M275.1 159.9V161.2M275.5 154.5V166.9M276.2 152.5V164.4M276.9 154V162.4M277.4 158.8V162.7M278 151.4V161.7M278.5 159.5V160.5M279.1 154.7V164.2M280 155.7V165M280.7 158.8V166.2M281.1 152.1V166.1M281.9 152.3V160.4M282.2 156.2V160.5M283 158.4V161.9M283.7 159V166.9M284.2 155.2V166.7M284.6 157.7V163M285.3 157.4V163.4M285.7 154.7V163.4M286.4 159.9V164.5M287.2 157.8V161.9M287.9 158.7V164.1M288.4 158.5V162.6M289.2 154.3V162M289.8 151V161.3M290.5 158.8V162.1M290.9 154.8V165.2M291.6 154.7V164.8M292 157.6V161.1M292.8 159.2V166.8M293.4 152.3V163.5M294.2 153.4V166.2M294.5 153.9V160.2M295.2 156.5V161.2M295.7 157.2V163.8M296.4 159V163.8M296.9 151.8V167.5M297.4 156.7V163.7M297.9 151.5V166.9M298.3 152.5V166.7M299.1 156.3V160.1M299.7 158.3V165.8M300.1 154.9V160.7M300.8 157.9V160.5M301.5 153.2V165.2M302 156.4V164.5M302.5 153.9V160.9M302.9 157.3V164.1M303.5 153.6V164.6M304.1 152.2V164.2M304.6 158V165.9M305 152.8V165.3M305.8 152.4V164.1M306.5 156.5V162.4M307.3 156.4V165.7M307.6 159.1V166.7M308.3 153.3V164.9M308.7 155.6V164.1M309.3 151.1V163.6M310 154.1V160.8M310.8 156.3V167.7M311.6 157.3V164.8M312.3 153.6V162.1M312.7 158.2V162.9M313.5 156.2V165.2M314.3 158.6V163.2M315.1 156.7V166.2M315.9 151.2V160.8M316.4 152.1V162.7M316.8 153V161.6M317.5 152.7V166.2M318.2 157.4V164.6M318.8 157.5V166.2M319.6 151.7V164.1M320.3 151.3V164.4M320.8 157.2V160.5M321.6 142V155.4M322.3 142.9V151.4M322.8 146.1V155.9M323.2 146.9V153.7M323.6 144.4V157.1M324.4 145V157.4M325.1 149.1V153.6M325.5 146.4V157.4M326.1 150.7V151.6M326.8 145.5V155.7M327.2 149.2V156.6M327.7 147.1V156.9M328.1 144V152.8M328.8 143.9V156.9M329.6 142.4V157.5M330.1 143.7V151.9M330.5 143.4V154M331.2 148.9V151.9M331.6 143V157.9M332.4 146.5V157.1M332.9 149.7V153M333.5 146.3V151.5M334.1 147.7V151.2M334.5 147.8V158.9M335.2 148.2V155.8M336 146.6V151.4M336.7 144.8V157.6M337.5 142.3V157.2M337.9 150.7V152.9M338.5 148.4V154.8M338.9 145.1V153M339.5 150.1V155.7M340.3 143.7V153.8M341.1 143.5V154.6M341.8 149.9V152M342.6 148.1V152.4M343.3 148.1V151.9M343.8 148V155.8M344.2 142.5V155.6M344.7 147V158.3M345 148.2V152.7M345.7 142.3V155.2M346.3 150.5V156.5M346.7 149.2V156M347.3 149.8V152.9M347.7 142.7V158.8M348.2 144.4V158.4M349 150.9V152.5M349.7 143.4V153.4M350.1 148.1V155.4M350.9 150.6V153.6M351.3 149.7V153.7M352 148V151.9M352.8 150.8V153.2M353.7 147.1V152.9M354.3 147.8V155.9M354.8 147.8V156.9M355.5 145.3V156.7M356 148.9V151.9M356.5 145.9V152M356.8 147.6V154.1M357.4 144.1V152.6M358.1 147.1V153.2M358.9 147.4V155M359.6 149.8V156M359.9 148V154.3M360.4 150.3V158.1M360.9 144.8V151.7M361.6 145.4V153.2M362.2 146.1V151.1M362.7 149V153.8M363.5 150.5V153.8M363.9 143.7V154.8M364.4 144.2V157.7M365.2 143V152M365.8 146.2V156.7M366.3 149.6V154.9M367.1 142.2V156.4M367.4 144.9V154.5M368.1 142.7V155.3M368.9 143.7V158.9M369.7 147.8V153.9M370.5 142.5V153.6M371.3 146V151.6M372 144.1V156.9M372.6 148.5V152.4M373.2 148.7V154.1M373.6 144.7V157.8M374.2 146.6V151.2M374.5 149.4V157.7M375.3 147.2V157.6M376 142.3V156.6" stroke="#dedede" stroke-width="0.6" fill="none"/>
<path d="M253.2 163V183.3M260.3 163V183.3M275.9 163V183.3M282.9 163V183.3M288.9 163V183.3M299.2 163V183.3M314 163V183.3M329.6 154V183.3M340.2 154V183.3M348.7 154V183.3M356.8 154V183.3M370.7 154V183.3" stroke="#dcdcdc" stroke-width="0.6" fill="none"/>
<text x="250" y="150.9" font-size="8.6" fill="#333333" textLength="42.1" lengthAdjust="spacingAndGlyphs">chr10-q-arm</text>
<line x1="376.6" y1="178.5" x2="397.6" y2="178.5" stroke="#6a6a6a" stroke-width="0.9"/>
<path d="M395.2 176.7L397.6 178.5L395.2 180.3" stroke="#6a6a6a" stroke-width="0.9" fill="none" stroke-linejoin="miter"/>
<text x="403" y="181.6" font-size="8.6" fill="#6a6a6a" textLength="57.2" lengthAdjust="spacingAndGlyphs">Chromsome end</text>
<line x1="245.1" y1="183.3" x2="245.1" y2="206" stroke="#7e1d22" stroke-width="1.1"/>
<path d="M243.3 203.6L245.1 206L246.9 203.6" stroke="#7e1d22" stroke-width="1.1" fill="none"/>
<text x="424" y="194.9" font-size="10" fill="#4a90d2" textLength="25.5" lengthAdjust="spacingAndGlyphs">15mb</text>
<rect x="316.5" y="199.1" width="109.6" height="4.7" fill="#231f20"/>
<rect x="426.1" y="199.1" width="22.9" height="4.7" fill="#4a90d2"/>
<path d="M301.2 251.5L301.2 222.8L302.2 225L303.2 224.3L304.2 223.1L305.2 224.8L306.2 224.3L307.2 225L308.2 224.3L308.7 224L308.7 251.5Z" stroke="none" stroke-width="1" fill="#ebebeb"/>
<path d="M301.2 217.5V230.2M301.7 223.1V231.2M302.1 219V231.9M302.6 221.6V227.1M303 217.3V226.4M303.4 218.6V226.1M303.8 223.8V230.7M304.4 218.6V227.8M305.1 223.4V229.1M305.9 221.5V227.5M306.4 221.1V231.6M306.8 217.4V224.4M307.5 223.3V230.3M307.9 222.1V226.1M308.4 217V228" stroke="#dedede" stroke-width="0.6" fill="none"/>
<path d="M304.7 227V251.5" stroke="#dcdcdc" stroke-width="0.6" fill="none"/>
<path d="M314 251.5L314 223.7L315 222.8L316 224.3L317 222.9L318 223.9L319 223.5L320 224.6L321 223L322 225.4L323 222.7L324 222.7L325 224.5L326 225.5L327 225.1L328 225L329 223L330 223.1L331 223.4L332 223.2L333 223L334 223.4L335 223.6L336 223.5L337 224.9L338 225L339 222.9L340 224.1L341 224.7L342 222.6L343 225.3L344 224.2L345 223.8L346 223.7L347 225.2L348 224.1L349 223.8L350 225.4L351 223L352 223.9L353 225.3L354 225L355 224.8L356 225.1L357 222.9L358 224.5L359 224L360 225.5L361 225.4L362 223.7L363 224.9L364 223.6L365 223.7L366 224.7L367 225.1L368 224.8L369 223.1L370 222.7L371 225.3L372 224.1L373 224.2L374 224.6L375 225.3L376 224.7L377 224.3L378 223.9L379 224.6L380 224.7L381 224.2L382 225.4L383 223.6L384 225.2L385 225.5L386 224.7L387 223.7L388 224.1L389 223.6L390 224.9L391 224.8L392 223L393 223.6L394 224.8L395 223L396 224.8L397 224.2L398 223L399 223.6L400 225.2L401 222.8L402 223.9L403 225.5L404 223.4L405 224.9L406 223.7L407 225.3L408 225.3L409 224.7L410 223.1L411 225.3L412 223.5L413 224.9L414 224.5L415 224.3L416 223.7L417 224.8L418 225.4L419 225.1L420 225L421 223.3L422 223.2L423 224.7L424 223.9L425 225.2L426 224L427 225.4L428 236.5L429 239.3L430 237.4L431 238.7L432 238.3L433 238.4L434 237.8L435 238.8L436 239.1L437 237.6L438 238.7L439 238.1L440 238.5L441 238L442 238.5L443 237L444 237.7L445 239.1L446 237L447 238.7L447.2 238L447.2 251.5Z" stroke="none" stroke-width="1" fill="#ebebeb"/>
<path d="M314 219.4V227.9M314.5 216.7V225.3M315 223.1V227.6M315.3 218.7V228M315.7 223V227.1M316.5 218.9V228.9M317 216.3V224.6M317.8 217.9V227.3M318.5 222.1V226.9M319.3 215.3V226.4M319.7 217V227.7M320.5 214.2V232M321.1 214.2V229.9M321.6 214.4V224.4M322.2 221.6V229.3M322.8 218.2V230.5M323.3 219.1V231.2M323.9 222.1V228M324.4 218.7V228.4M324.9 219.9V231.3M325.6 215.7V224.8M326.2 222.7V225.6M326.9 216.6V229M327.4 222.2V231.1M328 223.6V231.4M328.4 223.6V227.1M329.2 220.8V225.9M329.9 217.4V231.8M330.5 219.8V228.5M330.8 221.4V230.1M331.3 215.3V226.8M331.7 221.1V226M332.3 216.9V231.8M332.8 219.6V230.1M333.3 221V229.8M333.7 215.1V225.2M334.2 218.6V225.6M334.5 214.4V227.9M335.2 214.2V229.8M335.9 216.5V231.9M336.7 221.4V229.5M337.1 223.9V226.8M337.9 221.5V231.6M338.6 215.4V228.2M339.1 214.2V224.1M339.8 215.5V228.2M340.5 217.7V227.5M341.3 218V231.4M341.9 219.5V231.2M342.6 222.1V228.2M343.2 219.4V227.4M343.9 218.5V225.1M344.6 217.1V225M345.4 216.4V225.4M346 223.8V229.7M346.6 218.7V229.9M347.4 221.9V225.6M348.1 215.2V227M348.7 220.4V225.9M349.4 223V225.3M349.9 215.9V229.9M350.5 223.3V230.5M351 218.3V224.2M351.7 217V226.7M352.2 222.8V230.1M352.8 215.4V228.8M353.3 214.1V230.6M354.1 218.8V227.9M354.5 221.3V230.3M355.3 224V227.5M356 214.3V228.3M356.7 221.2V229.2M357.1 215V226.3M357.8 221.8V230.1M358.4 218.6V226.2M359.1 219.6V231.2M359.9 217V224.2M360.5 219.8V227.7M361.1 218.6V229.3M361.8 216.3V225.2M362.3 220.4V231.9M362.9 215.7V225.5M363.3 218.3V228.4M363.7 221.7V227.3M364.3 214.6V229.3M364.8 214.6V226.1M365.4 218.2V228.9M366.1 222.8V229.3M366.7 219.1V225.3M367.2 216.1V229.7M367.9 218.7V228.9M368.2 220.5V228.4M368.9 221.9V225.1M369.3 215.9V225.2M369.8 216V225.6M370.3 220.6V228.7M370.9 214.6V226.3M371.6 222.8V226.9M372.1 218.1V224.3M372.6 223.2V230.8M373.5 219.3V231.2M374.2 214.8V226.9M374.7 219V224.1M375 221.4V228.4M375.5 218.6V226.8M375.9 215.7V228.1M376.7 220.8V227.9M377.3 223.2V226M377.8 219.5V225.5M378.2 219.2V226.4M378.7 221V230.4M379.3 219.7V231.5M379.8 221.8V227.4M380.3 220V224.6M380.9 214.8V226.2M381.7 218.5V225.7M382.3 215.3V225.5M383 220.1V224.1M383.7 215.4V224.9M384.1 215.9V226.7M384.8 217.5V230.1M385.5 219.8V229.4M386.1 223.5V230.8M386.7 217.2V224.5M387.1 221.8V229.2M387.9 214.6V231M388.3 221.6V230.1M389 219.3V226.7M389.6 218.1V226.3M390.1 214.2V229.6M390.9 214.5V229M391.7 222.3V229.4M392.5 215.6V231.1M392.9 219.5V225M393.6 215.2V231.1M394.2 218.3V231.4M395 215.9V225.4M395.6 215.1V225.9M396.2 216.7V231.5M396.9 215.7V228.7M397.4 220.9V227.9M398.2 222.7V229.3M398.7 224V231.9M399.3 216.9V226M399.9 218.7V224.1M400.4 222.3V224.9M400.9 223.4V224.3M401.6 217.6V229.5M402.3 217.9V227.6M402.7 217.6V224.8M403.3 216.9V225.3M403.8 221V227.4M404.3 223V228.9M404.7 218.7V224.9M405.1 219.7V229.7M405.7 218.2V226.9M406.1 220.6V224.5M406.6 215.5V229M406.9 219.3V229.9M407.5 215.6V230M408.1 215.5V228.9M408.6 216.3V224.8M409 219.8V229.7M409.4 215V226.4M409.8 218.7V226.4M410.5 219.9V230.6M411 218.2V225.5M411.7 222.5V227.7M412.2 223.9V224.7M412.8 216.1V229.6M413.6 221.7V224.9M414.1 216.5V230.4M414.7 222.2V227.2M415 219.1V230.8M415.5 219.5V230.4M416.1 219.2V227.5M417 216.5V229M417.4 222.3V224.6M417.8 218V231.5M418.2 214.5V226M418.5 219.4V224M418.9 215.2V225.2M419.5 222.6V225.1M420.1 217.6V232M420.7 219.6V229.1M421.1 221.4V229.9M421.9 219V226.9M422.6 219.7V229.7M423.4 216.9V228.3M423.9 221.7V228M424.6 222.5V224.5M425 220V226M425.6 221.5V224.8M426.3 221.6V225.2M427 218.7V229.7M427.7 235.8V241.9M428.1 236.7V242.3M428.5 232.3V238.2M429.2 237.1V240.6M429.6 236V239.6M430.1 235.6V243.6M430.6 237.2V238.6M430.9 232.8V245.3M431.7 235.1V242.6M432.4 236.6V242.4M433.1 232.4V238.7M433.5 232.6V245.1M434.3 234.9V242.5M435.1 233.5V241.9M435.7 237V244.6M436.4 233.3V246M437 234.7V239.8M437.6 236V245M438.3 233.9V243.6M438.9 234.6V243.2M439.5 235.4V239.6M440.2 236.3V243.9M440.9 235.2V239.7M441.5 233.6V238.5M442.3 232.7V239.8M442.8 232.2V240.2M443.6 237.1V244.3M444.3 235.7V239.6M445.1 232.5V244.9M445.6 236.6V240.4M446.3 234.3V242.9M446.7 236.5V238.6M447.1 233.7V244.4" stroke="#dedede" stroke-width="0.6" fill="none"/>
<path d="M318.7 227V251.5M324.7 227V251.5M332 227V251.5M346 227V251.5M353.3 227V251.5M363.1 227V251.5M375.6 227V251.5M385.4 227V251.5M399.5 227V251.5M415.1 227V251.5M430 241V251.5M443.8 241V251.5" stroke="#dcdcdc" stroke-width="0.6" fill="none"/>
<text x="318.2" y="212.6" font-size="8.6" fill="#333333" textLength="38.1" lengthAdjust="spacingAndGlyphs">chrX-q-arm</text>
<text x="239" y="217.8" font-size="8.6" fill="#7e1d22" textLength="41.2" lengthAdjust="spacingAndGlyphs">Centromere</text>
<path d="M310.8 220.6V214.6H283" stroke="#7e1d22" stroke-width="1.1" fill="none"/>
<path d="M285.4 212.8L282 214.6L285.4 216.4" stroke="#7e1d22" stroke-width="1.1" fill="none"/>
<path d="M447.2 247.8H457.4" stroke="#7e1d22" stroke-width="1.1" fill="none"/>
<line x1="457.4" y1="247.8" x2="457.4" y2="185" stroke="#6a6a6a" stroke-width="1.0"/>
<path d="M455.4 187.6L457.4 185L459.3 187.6" stroke="#6a6a6a" stroke-width="1.0" fill="none"/>
<path d="M427.6 251.8L302.4 265.2V273.8" stroke="#4a4a4a" stroke-width="0.7" fill="none"/>
<path d="M447.2 251.8L462.4 266.2V274.7" stroke="#4a4a4a" stroke-width="0.7" fill="none"/>
<text x="305.9" y="283.5" font-size="9.3" fill="#333333" textLength="152.7" lengthAdjust="spacingAndGlyphs" font-style="italic">FMR1, AFF2, MECP2, and et cetera</text>
<text x="623.7" y="132.6" font-size="10" fill="#4a90d2" textLength="16.5" lengthAdjust="spacingAndGlyphs">7kb</text>
<rect x="590.1" y="135.4" width="82" height="5.2" fill="#4a90d2"/>
<line x1="474.8" y1="147.4" x2="555.9" y2="147.4" stroke="#8c8c8c" stroke-width="1"/>
<line x1="474.8" y1="150" x2="555.9" y2="150" stroke="#d2d2d2" stroke-width="0.8"/>
<rect x="474.8" y="161.3" width="81.1" height="100.5" fill="#f9fafd"/>
<path d="M474.8 160.7L474.8 151.6L476.3 151.8L477.8 152L479.3 152.8L480.8 152.4L482.3 152.8L483.8 152.3L485.3 153L486.8 153.5L488.3 153.3L489.8 154L491.3 154.2L492.8 153.7L494.3 153.1L495.8 153.5L497.3 152.2L498.8 151.9L500.3 152.7L501.8 152.8L503.3 152.8L504.8 152.9L506.3 152.1L507.8 152L509.3 152.2L510.8 153.3L512.3 152.5L513.8 153L515.3 153.3L516.8 153.5L518.3 153.3L519.8 153.1L521.3 152.3L522.8 152.3L524.3 153.2L525.8 152.9L527.3 154.2L528.8 154.3L530.3 154.1L531.8 154L533.3 154.2L534.8 153.9L536.3 153.3L537.8 152.9L539.3 152.4L540.8 152.3L542.3 153.2L543.8 152.9L545.3 152.8L546.8 153.5L548.3 153.8L549.8 153.3L551.3 153.5L552.8 152.8L554.3 152.7L555.8 153.4L555.9 153.2L555.9 160.7Z" stroke="none" stroke-width="1" fill="#b0b0b0"/>
<line x1="474.8" y1="262.3" x2="555.9" y2="262.3" stroke="#a9a9a9" stroke-width="1.1"/>
<clipPath id="c4"><rect x="474.8" y="161.6" width="81.1" height="99.9"/></clipPath><g clip-path="url(#c4)">
<path d="M473.8 195.2h0.3v2.4h-0.3zM473.8 197.6h0.6v2.4h-0.6zM473.8 200h1.3v2.4h-1.3zM473.8 202.4h1.8v2.4h-1.8zM473.8 204.8h2.7v2.4h-2.7zM473.8 207.2h3v2.4h-3zM473.8 209.6h4v2.4h-4zM473.8 212h4.4v2.4h-4.4zM473.8 214.4h5v2.4h-5zM473.8 216.8h5.4v2.4h-5.4zM473.8 219.2h6.4v2.4h-6.4zM473.8 221.6h7v2.4h-7zM473.8 224h7.5v2.4h-7.5zM473.8 226.4h7.9v2.4h-7.9zM474.1 228.8h8v2.4h-8zM474.4 231.2h8v2.4h-8zM475 233.6h8v2.4h-8zM475.8 236h8v2.4h-8zM473.8 161.6h1.2v2.4h-1.2zM473.8 164h1.5v2.4h-1.5zM473.8 166.4h1.8v2.4h-1.8zM473.8 168.8h2.6v2.4h-2.6zM473.8 171.2h3.5v2.4h-3.5zM473.8 173.6h4.2v2.4h-4.2zM473.8 176h4.6v2.4h-4.6zM473.8 178.4h5.1v2.4h-5.1zM473.8 180.8h5.8v2.4h-5.8zM473.8 183.2h6.8v2.4h-6.8zM473.8 185.6h7.5v2.4h-7.5zM480.1 238.4h8v2.4h-8zM480.4 240.8h8v2.4h-8zM480.8 243.2h8v2.4h-8zM474.1 188h8v2.4h-8zM474.5 190.4h8v2.4h-8zM474.9 192.8h8v2.4h-8zM475.2 195.2h8v2.4h-8zM475.6 197.6h8v2.4h-8zM476.8 200h8v2.4h-8zM477.2 202.4h8v2.4h-8zM477.5 204.8h8v2.4h-8zM478 207.2h8v2.4h-8zM479.5 209.6h8v2.4h-8zM479.8 212h8v2.4h-8zM480.4 214.4h8v2.4h-8zM481 216.8h8v2.4h-8zM481.3 219.2h8v2.4h-8zM481.9 221.6h8v2.4h-8zM482.6 224h8v2.4h-8zM483 226.4h8v2.4h-8zM483.6 228.8h8v2.4h-8zM484.1 231.2h8v2.4h-8zM484.5 233.6h8v2.4h-8zM485.3 236h8v2.4h-8zM476.2 161.6h8v2.4h-8zM476.5 164h8v2.4h-8zM478.6 166.4h8v2.4h-8zM479 168.8h8v2.4h-8zM479.3 171.2h8v2.4h-8zM479.7 173.6h8v2.4h-8zM480.2 176h8v2.4h-8zM480.6 178.4h8v2.4h-8zM481.1 180.8h8v2.4h-8zM481.7 183.2h8v2.4h-8zM482.5 185.6h8v2.4h-8zM484 188h8v2.4h-8zM484.8 190.4h8v2.4h-8zM485.6 192.8h8v2.4h-8zM486 195.2h8v2.4h-8zM486.5 197.6h8v2.4h-8zM487 200h8v2.4h-8zM487.3 202.4h8v2.4h-8zM487.7 204.8h8v2.4h-8zM488.4 207.2h8v2.4h-8zM489 209.6h8v2.4h-8zM489.5 212h8v2.4h-8zM489.9 214.4h8v2.4h-8zM490.2 216.8h8v2.4h-8zM491.1 219.2h8v2.4h-8zM491.5 221.6h8v2.4h-8zM491.9 224h8v2.4h-8zM492.4 226.4h8v2.4h-8zM492.9 228.8h8v2.4h-8zM493.3 231.2h8v2.4h-8zM493.7 233.6h8v2.4h-8zM494.4 238.4h8v2.4h-8zM494.3 236h8v2.4h-8zM495 240.8h8v2.4h-8zM485.3 161.6h8v2.4h-8zM485.8 164h8v2.4h-8zM496.2 243.2h8v2.4h-8zM487.9 166.4h8v2.4h-8zM488.3 168.8h8v2.4h-8zM488.6 171.2h8v2.4h-8zM489.3 173.6h8v2.4h-8zM490 176h8v2.4h-8zM491.3 178.4h8v2.4h-8zM492.3 180.8h8v2.4h-8zM493.2 183.2h8v2.4h-8zM494.5 185.6h8v2.4h-8zM495 188h8v2.4h-8zM496 190.4h8v2.4h-8zM497 192.8h8v2.4h-8zM497.8 195.2h8v2.4h-8zM498.5 197.6h8v2.4h-8zM494.4 161.6h8v2.4h-8zM499.2 200h8v2.4h-8zM495.1 164h8v2.4h-8zM500 202.4h8v2.4h-8zM500.5 204.8h8v2.4h-8zM500.9 207.2h8v2.4h-8zM501.9 209.6h8v2.4h-8zM502.4 212h8v2.4h-8zM497.1 166.4h8v2.4h-8zM497.5 168.8h8v2.4h-8zM498 171.2h8v2.4h-8zM498.8 173.6h8v2.4h-8zM499.2 176h8v2.4h-8zM504.4 214.4h8v2.4h-8zM504.8 216.8h8v2.4h-8zM500.5 178.4h8v2.4h-8zM506 219.2h8v2.4h-8zM501.6 180.8h8v2.4h-8zM502.7 183.2h8v2.4h-8zM508 221.6h8v2.4h-8zM503.9 185.6h8v2.4h-8zM504.3 188h8v2.4h-8zM509.1 224h8v2.4h-8zM505.3 190.4h8v2.4h-8zM510.1 226.4h8v2.4h-8zM510.5 228.8h8v2.4h-8zM506.1 192.8h8v2.4h-8zM507.2 195.2h8v2.4h-8zM503.5 161.6h8v2.4h-8zM508 197.6h8v2.4h-8zM508.4 200h8v2.4h-8zM504.2 164h8v2.4h-8zM509.2 202.4h8v2.4h-8zM510.2 204.8h8v2.4h-8zM510.8 207.2h8v2.4h-8zM511.1 209.6h8v2.4h-8zM513.8 231.2h8v2.4h-8zM511.6 212h8v2.4h-8zM506.6 166.4h8v2.4h-8zM507.2 168.8h8v2.4h-8zM508 171.2h8v2.4h-8zM508.8 173.6h8v2.4h-8zM509.1 176h8v2.4h-8zM509.9 178.4h8v2.4h-8zM511.4 180.8h8v2.4h-8zM512.2 183.2h8v2.4h-8zM516.4 214.4h8v2.4h-8zM513.2 185.6h8v2.4h-8zM513.9 188h8v2.4h-8zM514.6 190.4h8v2.4h-8zM518.1 216.8h8v2.4h-8zM515.2 192.8h8v2.4h-8zM518.8 219.2h8v2.4h-8zM519.4 221.6h8v2.4h-8zM512.8 161.6h8v2.4h-8zM517 195.2h8v2.4h-8zM513.3 164h8v2.4h-8zM517.6 197.6h8v2.4h-8zM518.2 200h8v2.4h-8zM518.6 202.4h8v2.4h-8zM519.4 204.8h8v2.4h-8zM520.1 207.2h8v2.4h-8zM520.9 209.6h8v2.4h-8zM515.7 166.4h8v2.4h-8zM516.4 168.8h8v2.4h-8zM522 212h8v2.4h-8zM517.4 171.2h8v2.4h-8zM519.6 173.6h8v2.4h-8zM520.3 176h8v2.4h-8zM520.9 178.4h8v2.4h-8zM521.3 180.8h8v2.4h-8zM522.3 183.2h8v2.4h-8zM523 185.6h8v2.4h-8zM523.9 188h8v2.4h-8zM524.3 190.4h8v2.4h-8zM524.8 192.8h8v2.4h-8zM527.7 214.4h8v2.4h-8zM528 216.8h8v2.4h-8zM528.7 219.2h8v2.4h-8zM529.1 221.6h8v2.4h-8zM529.4 224h8v2.4h-8zM522.8 161.6h8v2.4h-8zM523.1 164h8v2.4h-8zM527.8 195.2h8v2.4h-8zM528.1 197.6h8v2.4h-8zM528.5 200h8v2.4h-8zM528.9 202.4h8v2.4h-8zM529.4 204.8h8v2.4h-8zM529.7 207.2h8v2.4h-8zM524.9 166.4h8v2.4h-8zM530.4 209.6h8v2.4h-8zM525.7 168.8h8v2.4h-8zM531.5 212h8v2.4h-8zM527.8 171.2h8v2.4h-8zM534.7 226.4h8v2.4h-8zM528.7 173.6h8v2.4h-8zM529.4 176h8v2.4h-8zM536 228.8h8v2.4h-8zM530.8 178.4h8v2.4h-8zM531.3 180.8h8v2.4h-8zM532.2 183.2h8v2.4h-8zM532.5 185.6h8v2.4h-8zM538.3 231.2h8v2.4h-8zM533 188h8v2.4h-8zM534.1 190.4h8v2.4h-8zM534.5 192.8h8v2.4h-8zM537.3 214.4h8v2.4h-8zM537.8 216.8h8v2.4h-8zM538.7 219.2h8v2.4h-8zM532 161.6h8v2.4h-8zM533.3 164h8v2.4h-8zM537.2 195.2h8v2.4h-8zM537.6 197.6h8v2.4h-8zM538 200h8v2.4h-8zM534.3 166.4h8v2.4h-8zM534.8 168.8h8v2.4h-8zM539.3 202.4h8v2.4h-8zM539.6 204.8h8v2.4h-8zM540 207.2h8v2.4h-8zM540.8 209.6h8v2.4h-8zM541.8 212h8v2.4h-8zM536.8 171.2h8v2.4h-8zM543.3 221.6h8v2.4h-8zM543.7 224h8v2.4h-8zM537.8 173.6h8v2.4h-8zM544.6 226.4h8v2.4h-8zM538.4 176h8v2.4h-8zM545.2 228.8h8v2.4h-8zM546.3 233.6h8v2.4h-8zM547 236h8v2.4h-8zM540 178.4h8v2.4h-8zM540.5 180.8h8v2.4h-8zM547.8 238.4h8v2.4h-8zM541.5 183.2h8v2.4h-8zM541.8 185.6h8v2.4h-8zM542.4 188h8v2.4h-8zM548 231.2h8v2.4h-8zM543.2 190.4h8v2.4h-8zM543.6 192.8h8v2.4h-8zM546.4 214.4h8v2.4h-8zM547.3 216.8h8v2.4h-8zM547.8 219.2h8v2.4h-8zM550.6 240.8h6.3v2.4h-6.3zM551 243.2h5.9v2.4h-5.9zM541.3 161.6h8v2.4h-8zM542.7 164h8v2.4h-8zM546.6 195.2h8v2.4h-8zM547.1 197.6h8v2.4h-8zM543.3 166.4h8v2.4h-8zM544.6 168.8h8v2.4h-8zM548.6 200h8v2.4h-8zM549.2 202.4h7.7v2.4h-7.7zM549.7 204.8h7.2v2.4h-7.2zM550.2 207.2h6.7v2.4h-6.7zM546.3 171.2h8v2.4h-8zM546.8 173.6h8v2.4h-8zM551.6 209.6h5.3v2.4h-5.3zM547.8 176h8v2.4h-8zM552.9 212h4v2.4h-4zM554.2 221.6h2.7v2.4h-2.7zM550.2 178.4h6.7v2.4h-6.7zM550.8 180.8h6.1v2.4h-6.1zM551.3 183.2h5.6v2.4h-5.6zM552 185.6h4.9v2.4h-4.9zM552.5 188h4.4v2.4h-4.4zM553.7 190.4h3.2v2.4h-3.2zM550.6 161.6h6.3v2.4h-6.3zM554.9 192.8h2v2.4h-2zM551.8 164h5.1v2.4h-5.1zM555.7 195.2h1.2v2.4h-1.2zM552.3 166.4h4.6v2.4h-4.6zM556.4 197.6h0.5v2.4h-0.5zM553.6 168.8h3.3v2.4h-3.3zM555.7 171.2h1.2v2.4h-1.2zM556.7 173.6h0.2v2.4h-0.2z" stroke="none" stroke-width="1" fill="#c6c6c6"/>
<path d="M473.9 197.9h1.2v1.8h-1.2zM473.8 197.9h2.2v1.8h-2.2zM473.8 164.3h1.2v1.8h-1.2zM479 195.5h1v1.8h-1zM480.7 200.3h2.2v1.8h-2.2zM488.2 195.5h0.8v1.8h-0.8zM488.3 161.9h2.2v1.8h-2.2zM502.2 176.3h3.5v1.8h-3.5zM506.8 217.1h2.2v1.8h-2.2zM504.1 161.9h1.6v1.8h-1.6zM514.5 202.7h1.6v1.8h-1.6zM512.5 205.1h1.6v1.8h-1.6zM515.3 190.7h1.2v1.8h-1.2zM518 195.5h1v1.8h-1zM530.7 221.9h1.2v1.8h-1.2zM531.7 181.1h0.8v1.8h-0.8zM542.1 214.7h1.6v1.8h-1.6zM541.3 219.5h1.2v1.8h-1.2zM541.6 219.5h2.2v1.8h-2.2zM541.8 219.5h1.2v1.8h-1.2zM548.9 193.1h2.2v1.8h-2.2zM549.3 214.7h1.6v1.8h-1.6zM552.6 243.5h1v1.8h-1zM553.1 202.7h3.5v1.8h-3.5zM555.5 212.3h1.2v1.8h-1.2zM554.2 178.7h0.8v1.8h-0.8zM555 193.1h2.2v1.8h-2.2zM556.8 173.9h1.2v1.8h-1.2z" stroke="none" stroke-width="1" fill="#e0402f"/>
<path d="M475.4 209.9h2.2v1.8h-2.2zM482 219.5h1.2v1.8h-1.2zM485.3 188.3h1v1.8h-1zM496.7 190.7h2.2v1.8h-2.2zM514.7 205.1h1.6v1.8h-1.6zM514.5 205.1h3.5v1.8h-3.5zM510.8 178.7h2.2v1.8h-2.2zM511.9 178.7h2.2v1.8h-2.2zM516.8 193.1h1.6v1.8h-1.6zM519.1 200.3h3.5v1.8h-3.5zM528.6 200.3h3.5v1.8h-3.5zM529.4 205.1h1.6v1.8h-1.6zM541 214.7h1v1.8h-1zM543.4 207.5h1.2v1.8h-1.2zM544.5 181.1h1v1.8h-1zM546.4 214.7h1.6v1.8h-1.6zM552.4 181.1h3.5v1.8h-3.5zM555 188.3h1.2v1.8h-1.2z" stroke="none" stroke-width="1" fill="#3aa84a"/>
<path d="M474.8 214.7h1v1.8h-1zM474.4 224.3h2.2v1.8h-2.2zM480 233.9h1.6v1.8h-1.6zM491.7 176.3h1v1.8h-1zM503 178.7h1v1.8h-1zM511.1 221.9h0.8v1.8h-0.8zM504.7 188.3h1.2v1.8h-1.2zM517.3 188.3h1.6v1.8h-1.6zM519.3 190.7h0.8v1.8h-0.8zM532.6 205.1h2.2v1.8h-2.2zM546.3 193.1h2.2v1.8h-2.2z" stroke="none" stroke-width="1" fill="#8c56b0"/>
<path d="M478.6 224.3h1.6v1.8h-1.6zM482.3 241.1h2.2v1.8h-2.2zM479.7 195.5h1v1.8h-1zM478.6 195.5h1v1.8h-1zM477.6 197.9h1.6v1.8h-1.6zM478.4 197.9h1.2v1.8h-1.2zM483.3 217.1h2.2v1.8h-2.2zM486.4 236.3h1.6v1.8h-1.6zM480.6 166.7h1.6v1.8h-1.6zM480.4 166.7h1.6v1.8h-1.6zM490.1 195.5h1v1.8h-1zM490.7 209.9h1.2v1.8h-1.2zM495.9 212.3h1.6v1.8h-1.6zM494.6 238.7h2.2v1.8h-2.2zM491.8 166.7h1v1.8h-1zM495.6 183.5h3.5v1.8h-3.5zM500.3 193.1h3.5v1.8h-3.5zM504.8 178.7h0.8v1.8h-0.8zM504.3 185.9h1v1.8h-1zM508.9 193.1h1.6v1.8h-1.6zM514 207.5h3.5v1.8h-3.5zM513.8 171.5h1.6v1.8h-1.6zM518.5 190.7h1.2v1.8h-1.2zM520.5 221.9h1.2v1.8h-1.2zM524.8 207.5h0.8v1.8h-0.8zM528.8 185.9h0.8v1.8h-0.8zM533.5 173.9h0.8v1.8h-0.8zM545.3 193.1h1v1.8h-1zM553.6 212.3h0.8v1.8h-0.8zM555.1 183.5h1.6v1.8h-1.6zM556.4 197.9h1.6v1.8h-1.6z" stroke="none" stroke-width="1" fill="#3b4fc4"/>
<path d="M474.6 231.5h7.6v1.8h-7.6zM474 173.9h3.8v1.8h-3.8zM480 212.3h7.6v1.8h-7.6zM482.1 221.9h7.6v1.8h-7.6zM479.2 169.1h7.6v1.8h-7.6zM480.4 176.3h7.6v1.8h-7.6zM490.4 217.1h7.6v1.8h-7.6zM494.5 236.3h7.6v1.8h-7.6zM500.7 205.1h7.6v1.8h-7.6zM506.2 219.5h7.6v1.8h-7.6zM511.3 209.9h7.6v1.8h-7.6zM509.3 176.3h7.6v1.8h-7.6zM513.4 185.9h7.6v1.8h-7.6zM515.9 166.7h7.6v1.8h-7.6zM522.5 183.5h7.6v1.8h-7.6zM524.1 188.3h7.6v1.8h-7.6zM524.5 190.7h7.6v1.8h-7.6zM534.7 193.1h7.6v1.8h-7.6zM539.5 202.7h7.6v1.8h-7.6zM543.5 221.9h7.6v1.8h-7.6zM547.2 236.3h7.6v1.8h-7.6zM543.4 190.7h7.6v1.8h-7.6zM546.8 195.5h7.6v1.8h-7.6zM543.5 166.7h7.6v1.8h-7.6z" stroke="none" stroke-width="1" fill="#df8a5a"/>
<path d="M473.9 164.3h3.5v1.8h-3.5zM481.2 209.9h3.5v1.8h-3.5zM486.9 224.3h3.5v1.8h-3.5zM487.7 229.1h1.6v1.8h-1.6zM480 164.3h2.2v1.8h-2.2zM482.6 166.7h3.5v1.8h-3.5zM489.9 193.1h2.2v1.8h-2.2zM492.5 193.1h1v1.8h-1zM486.8 197.9h0.8v1.8h-0.8zM489.5 209.9h3.5v1.8h-3.5zM489.8 209.9h1.6v1.8h-1.6zM496 183.5h1.2v1.8h-1.2zM511.2 207.5h0.8v1.8h-0.8zM512.7 171.5h2.2v1.8h-2.2zM513 178.7h0.8v1.8h-0.8zM516.2 193.1h2.2v1.8h-2.2zM518.5 193.1h2.2v1.8h-2.2zM519.2 200.3h1v1.8h-1zM521.2 169.1h0.8v1.8h-0.8zM532.4 217.1h1.2v1.8h-1.2zM531.9 200.3h1v1.8h-1zM530.9 200.3h1.2v1.8h-1.2zM532.8 205.1h1.2v1.8h-1.2zM535.1 176.3h0.8v1.8h-0.8zM542.7 197.9h1.2v1.8h-1.2zM547.8 226.7h0.8v1.8h-0.8zM551 214.7h0.8v1.8h-0.8zM551.5 217.1h2.2v1.8h-2.2zM552.9 205.1h0.8v1.8h-0.8zM552.6 209.9h1v1.8h-1zM555.3 169.1h0.8v1.8h-0.8z" stroke="none" stroke-width="1" fill="#d98a3c"/>
<path d="M474 183.5h6.4v1.8h-6.4zM475.1 193.1h7.6v1.8h-7.6zM487.9 205.1h7.6v1.8h-7.6zM509.3 224.3h7.6v1.8h-7.6zM507.4 195.5h7.6v1.8h-7.6zM541 209.9h7.6v1.8h-7.6zM543.9 224.3h7.6v1.8h-7.6zM538.6 176.3h7.6v1.8h-7.6zM541.7 183.5h7.6v1.8h-7.6z" stroke="none" stroke-width="1" fill="#e04848"/>
</g>
<line x1="508.6" y1="152" x2="508.6" y2="160.7" stroke="#d05030" stroke-width="0.6"/>
<line x1="518" y1="155" x2="518" y2="160.7" stroke="#d05030" stroke-width="0.6"/>
<line x1="577" y1="147.2" x2="682" y2="147.2" stroke="#8c8c8c" stroke-width="1"/>
<line x1="577" y1="149.8" x2="682" y2="149.8" stroke="#d2d2d2" stroke-width="0.8"/>
<rect x="577" y="161.4" width="105" height="99.1" fill="#f9fafd"/>
<path d="M577 160.8L577 154L578.5 154.1L580 154.5L581.5 154.6L583 154.6L584.5 154.2L586 155.1L587.5 154.4L589 153.9L590.5 153.1L592 155.5L593.5 155.2L595 155.8L596.5 156.5L598 156.8L599.5 157L601 156.4L602.5 156.4L604 156.7L605.5 157L607 157.4L608.5 157L610 156.4L611.5 155.4L613 155.5L614.5 155.6L616 156L617.5 156L619 156.4L620.5 156.4L622 156.4L623.5 156.1L625 156L626.5 155.7L628 156.5L629.5 156.7L631 157.3L632.5 157.5L634 156.5L635.5 155.8L637 155.8L638.5 156.5L640 156.3L641.5 155.8L643 156.3L644.5 156.3L646 157.4L647.5 156.6L649 157.1L650.5 157.1L652 156.2L653.5 156.1L655 155.4L656.5 155.3L658 155.2L659.5 155.3L661 155L662.5 155.3L664 155.2L665.5 155.9L667 155.9L668.5 153.2L670 153.6L671.5 152.5L673 152.9L674.5 153.9L676 154.2L677.5 154.6L679 154.3L680.5 154.7L682 153.8L682 154.4L682 160.8Z" stroke="none" stroke-width="1" fill="#b0b0b0"/>
<rect x="577" y="260.5" width="105" height="1.9" fill="#cbcbcb"/>
<line x1="577" y1="265.7" x2="682" y2="265.7" stroke="#5b68b8" stroke-width="0.8" opacity="0.8"/>
<path d="M581 265.7l-1.2 -0.9M581 265.7l-1.2 0.9M589.5 265.7l-1.2 -0.9M589.5 265.7l-1.2 0.9M598 265.7l-1.2 -0.9M598 265.7l-1.2 0.9M606.5 265.7l-1.2 -0.9M606.5 265.7l-1.2 0.9M615 265.7l-1.2 -0.9M615 265.7l-1.2 0.9M623.5 265.7l-1.2 -0.9M623.5 265.7l-1.2 0.9M632 265.7l-1.2 -0.9M632 265.7l-1.2 0.9M640.5 265.7l-1.2 -0.9M640.5 265.7l-1.2 0.9M649 265.7l-1.2 -0.9M649 265.7l-1.2 0.9M657.5 265.7l-1.2 -0.9M657.5 265.7l-1.2 0.9M666 265.7l-1.2 -0.9M666 265.7l-1.2 0.9M674.5 265.7l-1.2 -0.9M674.5 265.7l-1.2 0.9" stroke="#5b68b8" stroke-width="0.5" fill="none" opacity="0.6"/>
<rect x="676.8" y="263.3" width="1.2" height="4.8" fill="#2e3a92"/>
<clipPath id="c5"><rect x="577" y="161.6" width="105" height="98.7"/></clipPath><g clip-path="url(#c5)">
<path d="M576 175.9h0v1.1h-0zM576 177h0.1v1.1h-0.1zM576 178.1h0.3v1.1h-0.3zM576 179.2h0.3v1.1h-0.3zM576 180.3h0.4v1.1h-0.4zM576 181.4h0.4v1.1h-0.4zM576 182.5h0.5v1.1h-0.5zM576 183.6h0.7v1.1h-0.7zM576 184.7h0.8v1.1h-0.8zM576 185.8h0.8v1.1h-0.8zM576 186.9h1v1.1h-1zM576 188h1.2v1.1h-1.2zM576 189.1h1.2v1.1h-1.2zM576 190.2h1.3v1.1h-1.3zM576 191.3h1.4v1.1h-1.4zM576 192.4h1.4v1.1h-1.4zM576 193.5h1.5v1.1h-1.5zM576 194.6h1.6v1.1h-1.6zM576 195.7h1.7v1.1h-1.7zM576 196.8h1.7v1.1h-1.7zM576 197.9h1.8v1.1h-1.8zM576 199h1.9v1.1h-1.9zM576 200.1h1.9v1.1h-1.9zM576 201.2h2v1.1h-2zM576 202.3h2.1v1.1h-2.1zM576 203.4h2.2v1.1h-2.2zM576 204.5h2.2v1.1h-2.2zM576 205.6h2.3v1.1h-2.3zM576.1 206.7h2.4v1.1h-2.4zM576.2 207.8h2.4v1.1h-2.4zM576.3 208.9h2.4v1.1h-2.4zM576.4 210h2.4v1.1h-2.4zM576.5 211.1h2.4v1.1h-2.4zM576.5 212.2h2.4v1.1h-2.4zM576.6 213.3h2.4v1.1h-2.4zM576.8 214.4h2.4v1.1h-2.4zM576.9 215.5h2.4v1.1h-2.4zM577 216.6h2.4v1.1h-2.4zM577 217.7h2.4v1.1h-2.4zM577.1 218.8h2.4v1.1h-2.4zM577.2 219.9h2.4v1.1h-2.4zM577.3 221h2.4v1.1h-2.4zM577.3 222.1h2.4v1.1h-2.4zM577.4 223.2h2.4v1.1h-2.4zM577.5 224.3h2.4v1.1h-2.4zM577.5 225.4h2.4v1.1h-2.4zM577.6 226.5h2.4v1.1h-2.4zM577.7 227.6h2.4v1.1h-2.4zM576 161.6h1.8v1.1h-1.8zM576 162.7h1.9v1.1h-1.9zM576 163.8h2v1.1h-2zM576 164.9h2v1.1h-2zM576 166h2.1v1.1h-2.1zM578 228.7h2.4v1.1h-2.4zM578.1 229.8h2.4v1.1h-2.4zM576 167.1h2.4v1.1h-2.4zM576.1 168.2h2.4v1.1h-2.4zM576.1 169.3h2.4v1.1h-2.4zM578.4 230.9h2.4v1.1h-2.4zM576.2 170.4h2.4v1.1h-2.4zM576.3 171.5h2.4v1.1h-2.4zM578.5 232h2.4v1.1h-2.4zM578.6 233.1h2.4v1.1h-2.4zM578.7 234.2h2.4v1.1h-2.4zM578.8 235.3h2.4v1.1h-2.4zM576.5 172.6h2.4v1.1h-2.4zM578.8 236.4h2.4v1.1h-2.4zM578.9 237.5h2.4v1.1h-2.4zM576.6 173.7h2.4v1.1h-2.4zM579 238.6h2.4v1.1h-2.4zM579.1 239.7h2.4v1.1h-2.4zM576.7 174.8h2.4v1.1h-2.4zM576.9 175.9h2.4v1.1h-2.4zM576.9 177h2.4v1.1h-2.4zM579.3 240.8h2.4v1.1h-2.4zM577 178.1h2.4v1.1h-2.4zM579.3 241.9h2.4v1.1h-2.4zM577.1 179.2h2.4v1.1h-2.4zM577.2 180.3h2.4v1.1h-2.4zM577.3 181.4h2.4v1.1h-2.4zM577.4 182.5h2.4v1.1h-2.4zM577.5 183.6h2.4v1.1h-2.4zM577.5 184.7h2.4v1.1h-2.4zM577.6 185.8h2.4v1.1h-2.4zM579.8 243h2.4v1.1h-2.4zM577.9 186.9h2.4v1.1h-2.4zM578 188h2.4v1.1h-2.4zM578 189.1h2.4v1.1h-2.4zM578.1 190.2h2.4v1.1h-2.4zM578.2 191.3h2.4v1.1h-2.4zM578.3 192.4h2.4v1.1h-2.4zM578.4 193.5h2.4v1.1h-2.4zM578.4 194.6h2.4v1.1h-2.4zM578.5 195.7h2.4v1.1h-2.4zM578.5 196.8h2.4v1.1h-2.4zM578.7 197.9h2.4v1.1h-2.4zM578.8 199h2.4v1.1h-2.4zM578.9 200.1h2.4v1.1h-2.4zM578.9 201.2h2.4v1.1h-2.4zM579 202.3h2.4v1.1h-2.4zM579.2 203.4h2.4v1.1h-2.4zM579.2 204.5h2.4v1.1h-2.4zM579.3 205.6h2.4v1.1h-2.4zM579.4 206.7h2.4v1.1h-2.4zM579.6 207.8h2.4v1.1h-2.4zM579.7 208.9h2.4v1.1h-2.4zM579.8 210h2.4v1.1h-2.4zM580 211.1h2.4v1.1h-2.4zM580.1 212.2h2.4v1.1h-2.4zM580.1 213.3h2.4v1.1h-2.4zM580.2 214.4h2.4v1.1h-2.4zM580.2 215.5h2.4v1.1h-2.4zM580.3 216.6h2.4v1.1h-2.4zM580.4 217.7h2.4v1.1h-2.4zM580.5 218.8h2.4v1.1h-2.4zM580.5 219.9h2.4v1.1h-2.4zM580.6 221h2.4v1.1h-2.4zM580.7 222.1h2.4v1.1h-2.4zM580.7 223.2h2.4v1.1h-2.4zM580.8 224.3h2.4v1.1h-2.4zM580.9 225.4h2.4v1.1h-2.4zM578.6 161.6h2.4v1.1h-2.4zM578.8 162.7h2.4v1.1h-2.4zM578.9 163.8h2.4v1.1h-2.4zM579 164.9h2.4v1.1h-2.4zM579.1 166h2.4v1.1h-2.4zM581.3 226.5h2.4v1.1h-2.4zM581.3 227.6h2.4v1.1h-2.4zM579.2 167.1h2.4v1.1h-2.4zM579.4 168.2h2.4v1.1h-2.4zM579.6 169.3h2.4v1.1h-2.4zM579.6 170.4h2.4v1.1h-2.4zM579.7 171.5h2.4v1.1h-2.4zM579.9 172.6h2.4v1.1h-2.4zM580 173.7h2.4v1.1h-2.4zM580.1 174.8h2.4v1.1h-2.4zM580.2 175.9h2.4v1.1h-2.4zM580.3 177h2.4v1.1h-2.4zM580.4 178.1h2.4v1.1h-2.4zM580.5 179.2h2.4v1.1h-2.4zM580.5 180.3h2.4v1.1h-2.4zM580.6 181.4h2.4v1.1h-2.4zM580.6 182.5h2.4v1.1h-2.4zM580.7 183.6h2.4v1.1h-2.4zM580.8 184.7h2.4v1.1h-2.4zM580.9 185.8h2.4v1.1h-2.4zM582.5 228.7h2.4v1.1h-2.4zM581.1 186.9h2.4v1.1h-2.4zM581.1 188h2.4v1.1h-2.4zM582.6 229.8h2.4v1.1h-2.4zM581.2 189.1h2.4v1.1h-2.4zM581.3 190.2h2.4v1.1h-2.4zM581.4 191.3h2.4v1.1h-2.4zM581.4 192.4h2.4v1.1h-2.4zM581.5 193.5h2.4v1.1h-2.4zM581.6 194.6h2.4v1.1h-2.4zM581.7 195.7h2.4v1.1h-2.4zM581.8 196.8h2.4v1.1h-2.4zM583 230.9h2.4v1.1h-2.4zM581.9 197.9h2.4v1.1h-2.4zM582.1 199h2.4v1.1h-2.4zM582.2 200.1h2.4v1.1h-2.4zM582.2 201.2h2.4v1.1h-2.4zM582.4 202.3h2.4v1.1h-2.4zM582.5 203.4h2.4v1.1h-2.4zM582.6 204.5h2.4v1.1h-2.4zM582.6 205.6h2.4v1.1h-2.4zM582.7 206.7h2.4v1.1h-2.4zM582.8 207.8h2.4v1.1h-2.4zM583 208.9h2.4v1.1h-2.4zM583 210h2.4v1.1h-2.4zM583.8 232h2.4v1.1h-2.4zM583.9 233.1h2.4v1.1h-2.4zM584 234.2h2.4v1.1h-2.4zM583.2 211.1h2.4v1.1h-2.4zM583.3 212.2h2.4v1.1h-2.4zM583.4 213.3h2.4v1.1h-2.4zM583.5 214.4h2.4v1.1h-2.4zM583.5 215.5h2.4v1.1h-2.4zM583.7 216.6h2.4v1.1h-2.4zM581.9 161.6h2.4v1.1h-2.4zM582 162.7h2.4v1.1h-2.4zM582 163.8h2.4v1.1h-2.4zM584 217.7h2.4v1.1h-2.4zM584.1 218.8h2.4v1.1h-2.4zM582.2 164.9h2.4v1.1h-2.4zM582.2 166h2.4v1.1h-2.4zM584.2 219.9h2.4v1.1h-2.4zM582.3 167.1h2.4v1.1h-2.4zM584.3 221h2.4v1.1h-2.4zM584.4 222.1h2.4v1.1h-2.4zM584.5 223.2h2.4v1.1h-2.4zM582.6 168.2h2.4v1.1h-2.4zM584.6 224.3h2.4v1.1h-2.4zM584.7 225.4h2.4v1.1h-2.4zM582.9 169.3h2.4v1.1h-2.4zM582.9 170.4h2.4v1.1h-2.4zM583 171.5h2.4v1.1h-2.4zM583.1 172.6h2.4v1.1h-2.4zM583.1 173.7h2.4v1.1h-2.4zM585.1 226.5h2.4v1.1h-2.4zM583.3 174.8h2.4v1.1h-2.4zM585.2 227.6h2.4v1.1h-2.4zM583.4 175.9h2.4v1.1h-2.4zM583.5 177h2.4v1.1h-2.4zM585.6 235.3h2.4v1.1h-2.4zM583.6 178.1h2.4v1.1h-2.4zM583.7 179.2h2.4v1.1h-2.4zM583.7 180.3h2.4v1.1h-2.4zM583.8 181.4h2.4v1.1h-2.4zM583.8 182.5h2.4v1.1h-2.4zM585.8 236.4h2.4v1.1h-2.4zM583.9 183.6h2.4v1.1h-2.4zM585.9 237.5h2.4v1.1h-2.4zM585.9 238.6h2.4v1.1h-2.4zM584 184.7h2.4v1.1h-2.4zM584.1 185.8h2.4v1.1h-2.4zM585.6 228.7h2.4v1.1h-2.4zM586 239.7h2.4v1.1h-2.4zM586.1 240.8h2.4v1.1h-2.4zM586.1 241.9h2.4v1.1h-2.4zM586.2 243h2.4v1.1h-2.4zM586.2 244.1h2.4v1.1h-2.4zM586.3 245.2h2.4v1.1h-2.4zM584.2 186.9h2.4v1.1h-2.4zM586.4 246.3h2.4v1.1h-2.4zM584.3 188h2.4v1.1h-2.4zM585.8 229.8h2.4v1.1h-2.4zM586.5 247.4h2.4v1.1h-2.4zM584.5 189.1h2.4v1.1h-2.4zM584.6 190.2h2.4v1.1h-2.4zM584.7 191.3h2.4v1.1h-2.4zM584.9 192.4h2.4v1.1h-2.4zM585 193.5h2.4v1.1h-2.4zM585 194.6h2.4v1.1h-2.4zM585.1 195.7h2.4v1.1h-2.4zM585.3 196.8h2.4v1.1h-2.4zM585.3 197.9h2.4v1.1h-2.4zM585.3 199h2.4v1.1h-2.4zM585.5 200.1h2.4v1.1h-2.4zM585.6 201.2h2.4v1.1h-2.4zM585.7 202.3h2.4v1.1h-2.4zM585.8 203.4h2.4v1.1h-2.4zM585.9 204.5h2.4v1.1h-2.4zM586 205.6h2.4v1.1h-2.4zM586.1 206.7h2.4v1.1h-2.4zM586.2 207.8h2.4v1.1h-2.4zM586.3 208.9h2.4v1.1h-2.4zM586.4 210h2.4v1.1h-2.4zM586.4 211.1h2.4v1.1h-2.4zM586.5 212.2h2.4v1.1h-2.4zM586.6 213.3h2.4v1.1h-2.4zM586.8 214.4h2.4v1.1h-2.4zM586.9 215.5h2.4v1.1h-2.4zM587 216.6h2.4v1.1h-2.4zM585 161.6h2.4v1.1h-2.4zM587.6 230.9h2.4v1.1h-2.4zM585.2 162.7h2.4v1.1h-2.4zM585.3 163.8h2.4v1.1h-2.4zM585.4 164.9h2.4v1.1h-2.4zM585.5 166h2.4v1.1h-2.4zM585.6 167.1h2.4v1.1h-2.4zM587.5 217.7h2.4v1.1h-2.4zM585.9 168.2h2.4v1.1h-2.4zM587.7 218.8h2.4v1.1h-2.4zM587.8 219.9h2.4v1.1h-2.4zM587.8 221h2.4v1.1h-2.4zM587.9 222.1h2.4v1.1h-2.4zM586.1 169.3h2.4v1.1h-2.4zM586.1 170.4h2.4v1.1h-2.4zM586.2 171.5h2.4v1.1h-2.4zM586.3 172.6h2.4v1.1h-2.4zM586.3 173.7h2.4v1.1h-2.4zM586.4 174.8h2.4v1.1h-2.4zM588.2 223.2h2.4v1.1h-2.4zM586.6 175.9h2.4v1.1h-2.4zM586.7 177h2.4v1.1h-2.4zM586.8 178.1h2.4v1.1h-2.4zM586.9 179.2h2.4v1.1h-2.4zM587 180.3h2.4v1.1h-2.4zM587.1 181.4h2.4v1.1h-2.4zM587.2 182.5h2.4v1.1h-2.4zM587.3 183.6h2.4v1.1h-2.4zM587.4 184.7h2.4v1.1h-2.4zM587.5 185.8h2.4v1.1h-2.4zM587.6 186.9h2.4v1.1h-2.4zM587.7 188h2.4v1.1h-2.4zM587.8 189.1h2.4v1.1h-2.4zM587.8 190.2h2.4v1.1h-2.4zM587.9 191.3h2.4v1.1h-2.4zM589.1 224.3h2.4v1.1h-2.4zM589.2 225.4h2.4v1.1h-2.4zM588.1 192.4h2.4v1.1h-2.4zM588.2 193.5h2.4v1.1h-2.4zM588.3 194.6h2.4v1.1h-2.4zM588.4 195.7h2.4v1.1h-2.4zM588.6 196.8h2.4v1.1h-2.4zM588.7 197.9h2.4v1.1h-2.4zM588.8 199h2.4v1.1h-2.4zM588.9 200.1h2.4v1.1h-2.4zM589 201.2h2.4v1.1h-2.4zM589.1 202.3h2.4v1.1h-2.4zM589.2 203.4h2.4v1.1h-2.4zM589.3 204.5h2.4v1.1h-2.4zM589.4 205.6h2.4v1.1h-2.4zM589.6 206.7h2.4v1.1h-2.4zM589.7 207.8h2.4v1.1h-2.4zM589.7 208.9h2.4v1.1h-2.4zM589.8 210h2.4v1.1h-2.4zM589.9 211.1h2.4v1.1h-2.4zM590 212.2h2.4v1.1h-2.4zM588.2 161.6h2.4v1.1h-2.4zM588.4 162.7h2.4v1.1h-2.4zM590.2 213.3h2.4v1.1h-2.4zM590.3 214.4h2.4v1.1h-2.4zM588.5 163.8h2.4v1.1h-2.4zM588.6 164.9h2.4v1.1h-2.4zM588.7 166h2.4v1.1h-2.4zM588.8 167.1h2.4v1.1h-2.4zM590.7 215.5h2.4v1.1h-2.4zM590.7 216.6h2.4v1.1h-2.4zM589 168.2h2.4v1.1h-2.4zM590.8 217.7h2.4v1.1h-2.4zM590.9 218.8h2.4v1.1h-2.4zM591 219.9h2.4v1.1h-2.4zM591.1 221h2.4v1.1h-2.4zM589.3 169.3h2.4v1.1h-2.4zM589.3 170.4h2.4v1.1h-2.4zM589.4 171.5h2.4v1.1h-2.4zM589.5 172.6h2.4v1.1h-2.4zM589.6 173.7h2.4v1.1h-2.4zM589.7 174.8h2.4v1.1h-2.4zM591.4 222.1h2.4v1.1h-2.4zM589.8 175.9h2.4v1.1h-2.4zM589.9 177h2.4v1.1h-2.4zM590.2 178.1h2.4v1.1h-2.4zM590.3 179.2h2.4v1.1h-2.4zM590.4 180.3h2.4v1.1h-2.4zM590.4 181.4h2.4v1.1h-2.4zM590.6 182.5h2.4v1.1h-2.4zM590.6 183.6h2.4v1.1h-2.4zM590.6 184.7h2.4v1.1h-2.4zM590.7 185.8h2.4v1.1h-2.4zM590.9 186.9h2.4v1.1h-2.4zM591 188h2.4v1.1h-2.4zM591.1 189.1h2.4v1.1h-2.4zM591.4 190.2h2.4v1.1h-2.4zM591.6 191.3h2.4v1.1h-2.4zM591.7 192.4h2.4v1.1h-2.4zM591.7 193.5h2.4v1.1h-2.4zM591.8 194.6h2.4v1.1h-2.4zM591.8 195.7h2.4v1.1h-2.4zM591.9 196.8h2.4v1.1h-2.4zM592 197.9h2.4v1.1h-2.4zM592.1 199h2.4v1.1h-2.4zM592.2 200.1h2.4v1.1h-2.4zM592.4 201.2h2.4v1.1h-2.4zM592.5 202.3h2.4v1.1h-2.4zM592.6 203.4h2.4v1.1h-2.4zM592.6 204.5h2.4v1.1h-2.4zM592.7 205.6h2.4v1.1h-2.4zM592.8 206.7h2.4v1.1h-2.4zM593 207.8h2.4v1.1h-2.4zM591.4 161.6h2.4v1.1h-2.4zM591.7 162.7h2.4v1.1h-2.4zM591.9 163.8h2.4v1.1h-2.4zM592.2 164.9h2.4v1.1h-2.4zM592.3 166h2.4v1.1h-2.4zM592.4 167.1h2.4v1.1h-2.4zM592.6 168.2h2.4v1.1h-2.4zM592.6 169.3h2.4v1.1h-2.4zM592.7 170.4h2.4v1.1h-2.4zM592.8 171.5h2.4v1.1h-2.4zM592.8 172.6h2.4v1.1h-2.4zM592.9 173.7h2.4v1.1h-2.4zM593 174.8h2.4v1.1h-2.4zM593.2 175.9h2.4v1.1h-2.4zM593.4 177h2.4v1.1h-2.4zM593.4 178.1h2.4v1.1h-2.4zM593.6 179.2h2.4v1.1h-2.4zM593.7 180.3h2.4v1.1h-2.4zM593.9 181.4h2.4v1.1h-2.4zM594 182.5h2.4v1.1h-2.4zM594.1 183.6h2.4v1.1h-2.4zM594.2 184.7h2.4v1.1h-2.4zM594.3 185.8h2.4v1.1h-2.4zM594.3 186.9h2.4v1.1h-2.4zM594.4 188h2.4v1.1h-2.4zM594.5 189.1h2.4v1.1h-2.4zM594.6 190.2h2.4v1.1h-2.4zM595.3 208.9h2.4v1.1h-2.4zM595.4 210h2.4v1.1h-2.4zM594.8 191.3h2.4v1.1h-2.4zM594.9 192.4h2.4v1.1h-2.4zM595 193.5h2.4v1.1h-2.4zM595 194.6h2.4v1.1h-2.4zM595.1 195.7h2.4v1.1h-2.4zM595.2 196.8h2.4v1.1h-2.4zM595.3 197.9h2.4v1.1h-2.4zM595.4 199h2.4v1.1h-2.4zM595.6 200.1h2.4v1.1h-2.4zM595.7 201.2h2.4v1.1h-2.4zM595.8 202.3h2.4v1.1h-2.4zM595.9 203.4h2.4v1.1h-2.4zM596 204.5h2.4v1.1h-2.4zM596.1 205.6h2.4v1.1h-2.4zM596.2 206.7h2.4v1.1h-2.4zM596.3 207.8h2.4v1.1h-2.4zM596.4 211.1h2.4v1.1h-2.4zM594.7 161.6h2.4v1.1h-2.4zM594.9 162.7h2.4v1.1h-2.4zM596.7 212.2h2.4v1.1h-2.4zM596.8 213.3h2.4v1.1h-2.4zM596.9 214.4h2.4v1.1h-2.4zM595.1 163.8h2.4v1.1h-2.4zM597 215.5h2.4v1.1h-2.4zM595.4 164.9h2.4v1.1h-2.4zM595.6 166h2.4v1.1h-2.4zM595.7 167.1h2.4v1.1h-2.4zM595.8 168.2h2.4v1.1h-2.4zM595.9 169.3h2.4v1.1h-2.4zM596 170.4h2.4v1.1h-2.4zM596.2 171.5h2.4v1.1h-2.4zM596.3 172.6h2.4v1.1h-2.4zM596.7 173.7h2.4v1.1h-2.4zM596.8 174.8h2.4v1.1h-2.4zM597 175.9h2.4v1.1h-2.4zM597.1 177h2.4v1.1h-2.4zM597.1 178.1h2.4v1.1h-2.4zM597.3 179.2h2.4v1.1h-2.4zM597.5 180.3h2.4v1.1h-2.4zM597.6 181.4h2.4v1.1h-2.4zM597.6 182.5h2.4v1.1h-2.4zM597.7 183.6h2.4v1.1h-2.4zM597.9 184.7h2.4v1.1h-2.4zM598 185.8h2.4v1.1h-2.4zM598.1 186.9h2.4v1.1h-2.4zM598.2 188h2.4v1.1h-2.4zM598.3 189.1h2.4v1.1h-2.4zM598.4 190.2h2.4v1.1h-2.4zM598.6 191.3h2.4v1.1h-2.4zM598.7 192.4h2.4v1.1h-2.4zM598.9 193.5h2.4v1.1h-2.4zM598.9 194.6h2.4v1.1h-2.4zM597.9 161.6h2.4v1.1h-2.4zM599.2 195.7h2.4v1.1h-2.4zM598.1 162.7h2.4v1.1h-2.4zM599.4 196.8h2.4v1.1h-2.4zM598.7 163.8h2.4v1.1h-2.4zM598.8 164.9h2.4v1.1h-2.4zM598.9 166h2.4v1.1h-2.4zM599.1 167.1h2.4v1.1h-2.4zM599.2 168.2h2.4v1.1h-2.4zM599.3 169.3h2.4v1.1h-2.4zM599.4 170.4h2.4v1.1h-2.4zM599.5 171.5h2.4v1.1h-2.4zM599.5 172.6h2.4v1.1h-2.4zM600.5 197.9h2.4v1.1h-2.4zM600.7 199h2.4v1.1h-2.4zM599.9 173.7h2.4v1.1h-2.4zM600.9 200.1h2.4v1.1h-2.4zM600.1 174.8h2.4v1.1h-2.4zM600.3 175.9h2.4v1.1h-2.4zM600.5 177h2.4v1.1h-2.4zM600.6 178.1h2.4v1.1h-2.4zM600.9 179.2h2.4v1.1h-2.4zM600.9 180.3h2.4v1.1h-2.4zM601 181.4h2.4v1.1h-2.4zM601.1 182.5h2.4v1.1h-2.4zM601.2 183.6h2.4v1.1h-2.4zM601.3 184.7h2.4v1.1h-2.4zM601.5 185.8h2.4v1.1h-2.4zM601.6 186.9h2.4v1.1h-2.4zM601.7 188h2.4v1.1h-2.4zM601.8 189.1h2.4v1.1h-2.4zM601.9 190.2h2.4v1.1h-2.4zM601.9 191.3h2.4v1.1h-2.4zM602.1 192.4h2.4v1.1h-2.4zM601.3 161.6h2.4v1.1h-2.4zM601.5 162.7h2.4v1.1h-2.4zM602.7 193.5h2.4v1.1h-2.4zM602.8 194.6h2.4v1.1h-2.4zM602.9 195.7h2.4v1.1h-2.4zM602 163.8h2.4v1.1h-2.4zM602.7 164.9h2.4v1.1h-2.4zM602.9 166h2.4v1.1h-2.4zM603.1 167.1h2.4v1.1h-2.4zM603.2 168.2h2.4v1.1h-2.4zM603.3 169.3h2.4v1.1h-2.4zM603.3 170.4h2.4v1.1h-2.4zM603.6 171.5h2.4v1.1h-2.4zM603.7 172.6h2.4v1.1h-2.4zM603.7 173.7h2.4v1.1h-2.4zM603.8 174.8h2.4v1.1h-2.4zM603.9 175.9h2.4v1.1h-2.4zM603.9 177h2.4v1.1h-2.4zM604.2 178.1h2.4v1.1h-2.4zM604.2 179.2h2.4v1.1h-2.4zM604.3 180.3h2.4v1.1h-2.4zM604.5 181.4h2.4v1.1h-2.4zM604.6 182.5h2.4v1.1h-2.4zM604.7 183.6h2.4v1.1h-2.4zM604.9 184.7h2.4v1.1h-2.4zM604.9 185.8h2.4v1.1h-2.4zM605.2 186.9h2.4v1.1h-2.4zM605.2 188h2.4v1.1h-2.4zM605.4 189.1h2.4v1.1h-2.4zM604.7 161.6h2.4v1.1h-2.4zM605 162.7h2.4v1.1h-2.4zM605.2 163.8h2.4v1.1h-2.4zM606.3 190.2h2.4v1.1h-2.4zM606.3 191.3h2.4v1.1h-2.4zM606.5 192.4h2.4v1.1h-2.4zM606.7 193.5h2.4v1.1h-2.4zM606.7 194.6h2.4v1.1h-2.4zM606.8 195.7h2.4v1.1h-2.4zM607 196.8h2.4v1.1h-2.4zM607 197.9h2.4v1.1h-2.4zM605.9 164.9h2.4v1.1h-2.4zM607.2 199h2.4v1.1h-2.4zM606.1 166h2.4v1.1h-2.4zM606.3 167.1h2.4v1.1h-2.4zM606.6 168.2h2.4v1.1h-2.4zM606.7 169.3h2.4v1.1h-2.4zM606.9 170.4h2.4v1.1h-2.4zM607.1 171.5h2.4v1.1h-2.4zM607.3 172.6h2.4v1.1h-2.4zM607.5 173.7h2.4v1.1h-2.4zM607.5 174.8h2.4v1.1h-2.4zM607.8 175.9h2.4v1.1h-2.4zM608 177h2.4v1.1h-2.4zM608.1 178.1h2.4v1.1h-2.4zM608.2 179.2h2.4v1.1h-2.4zM608.3 180.3h2.4v1.1h-2.4zM608.4 181.4h2.4v1.1h-2.4zM608.5 182.5h2.4v1.1h-2.4zM608.6 183.6h2.4v1.1h-2.4zM608.6 184.7h2.4v1.1h-2.4zM608.7 185.8h2.4v1.1h-2.4zM608.8 186.9h2.4v1.1h-2.4zM607.9 161.6h2.4v1.1h-2.4zM609 188h2.4v1.1h-2.4zM608.3 162.7h2.4v1.1h-2.4zM608.4 163.8h2.4v1.1h-2.4zM609.4 189.1h2.4v1.1h-2.4zM609.5 190.2h2.4v1.1h-2.4zM609.5 191.3h2.4v1.1h-2.4zM609.9 200.1h2.4v1.1h-2.4zM609.7 192.4h2.4v1.1h-2.4zM609.9 193.5h2.4v1.1h-2.4zM610 194.6h2.4v1.1h-2.4zM610 195.7h2.4v1.1h-2.4zM609.1 164.9h2.4v1.1h-2.4zM609.3 166h2.4v1.1h-2.4zM610.5 196.8h2.4v1.1h-2.4zM609.6 167.1h2.4v1.1h-2.4zM610.7 197.9h2.4v1.1h-2.4zM610.8 199h2.4v1.1h-2.4zM610.9 201.2h2.4v1.1h-2.4zM611 202.3h2.4v1.1h-2.4zM609.8 168.2h2.4v1.1h-2.4zM611.1 203.4h2.4v1.1h-2.4zM610.4 169.3h2.4v1.1h-2.4zM610.4 170.4h2.4v1.1h-2.4zM610.5 171.5h2.4v1.1h-2.4zM610.6 172.6h2.4v1.1h-2.4zM610.9 173.7h2.4v1.1h-2.4zM611.1 174.8h2.4v1.1h-2.4zM611.2 175.9h2.4v1.1h-2.4zM611.2 177h2.4v1.1h-2.4zM611.3 178.1h2.4v1.1h-2.4zM611.4 179.2h2.4v1.1h-2.4zM611.5 180.3h2.4v1.1h-2.4zM611.6 181.4h2.4v1.1h-2.4zM611.7 182.5h2.4v1.1h-2.4zM611.9 183.6h2.4v1.1h-2.4zM611.1 161.6h2.4v1.1h-2.4zM611.9 184.7h2.4v1.1h-2.4zM611.6 162.7h2.4v1.1h-2.4zM611.7 163.8h2.4v1.1h-2.4zM612.5 185.8h2.4v1.1h-2.4zM612.6 186.9h2.4v1.1h-2.4zM612.7 188h2.4v1.1h-2.4zM613 189.1h2.4v1.1h-2.4zM613 190.2h2.4v1.1h-2.4zM613.1 191.3h2.4v1.1h-2.4zM612.5 164.9h2.4v1.1h-2.4zM612.6 166h2.4v1.1h-2.4zM613.6 192.4h2.4v1.1h-2.4zM612.7 167.1h2.4v1.1h-2.4zM613.1 168.2h2.4v1.1h-2.4zM614 193.5h2.4v1.1h-2.4zM614.1 194.6h2.4v1.1h-2.4zM614.1 195.7h2.4v1.1h-2.4zM614.2 196.8h2.4v1.1h-2.4zM614.4 197.9h2.4v1.1h-2.4zM614.4 199h2.4v1.1h-2.4zM614.5 200.1h2.4v1.1h-2.4zM614.6 201.2h2.4v1.1h-2.4zM614.7 202.3h2.4v1.1h-2.4zM613.7 169.3h2.4v1.1h-2.4zM613.9 170.4h2.4v1.1h-2.4zM614 171.5h2.4v1.1h-2.4zM614.2 172.6h2.4v1.1h-2.4zM614.3 173.7h2.4v1.1h-2.4zM614.4 174.8h2.4v1.1h-2.4zM614.5 175.9h2.4v1.1h-2.4zM614.6 177h2.4v1.1h-2.4zM614.7 178.1h2.4v1.1h-2.4zM614.3 161.6h2.4v1.1h-2.4zM615.1 179.2h2.4v1.1h-2.4zM615.3 180.3h2.4v1.1h-2.4zM615.3 181.4h2.4v1.1h-2.4zM614.9 162.7h2.4v1.1h-2.4zM614.9 163.8h2.4v1.1h-2.4zM615.8 182.5h2.4v1.1h-2.4zM616 183.6h2.4v1.1h-2.4zM616.2 184.7h2.4v1.1h-2.4zM616.3 185.8h2.4v1.1h-2.4zM616.3 186.9h2.4v1.1h-2.4zM616.4 188h2.4v1.1h-2.4zM616.5 189.1h2.4v1.1h-2.4zM616.6 190.2h2.4v1.1h-2.4zM615.7 164.9h2.4v1.1h-2.4zM615.8 166h2.4v1.1h-2.4zM616.7 191.3h2.4v1.1h-2.4zM615.9 167.1h2.4v1.1h-2.4zM616.9 192.4h2.4v1.1h-2.4zM617.4 203.4h2.4v1.1h-2.4zM617.5 204.5h2.4v1.1h-2.4zM617.6 205.6h2.4v1.1h-2.4zM616.4 168.2h2.4v1.1h-2.4zM617.3 193.5h2.4v1.1h-2.4zM617.3 194.6h2.4v1.1h-2.4zM617.7 195.7h2.4v1.1h-2.4zM617.7 196.8h2.4v1.1h-2.4zM617.8 197.9h2.4v1.1h-2.4zM617.8 199h2.4v1.1h-2.4zM617 169.3h2.4v1.1h-2.4zM617.2 170.4h2.4v1.1h-2.4zM617.2 171.5h2.4v1.1h-2.4zM618.3 200.1h2.4v1.1h-2.4zM618.4 201.2h2.4v1.1h-2.4zM617.4 172.6h2.4v1.1h-2.4zM617.7 173.7h2.4v1.1h-2.4zM617.9 174.8h2.4v1.1h-2.4zM618 175.9h2.4v1.1h-2.4zM617.6 161.6h2.4v1.1h-2.4zM618.3 177h2.4v1.1h-2.4zM618.1 162.7h2.4v1.1h-2.4zM618.1 163.8h2.4v1.1h-2.4zM618.7 178.1h2.4v1.1h-2.4zM618.8 179.2h2.4v1.1h-2.4zM618.9 180.3h2.4v1.1h-2.4zM619.2 181.4h2.4v1.1h-2.4zM619.2 182.5h2.4v1.1h-2.4zM619.3 183.6h2.4v1.1h-2.4zM619.4 184.7h2.4v1.1h-2.4zM619.6 185.8h2.4v1.1h-2.4zM618.9 164.9h2.4v1.1h-2.4zM619 166h2.4v1.1h-2.4zM619.3 167.1h2.4v1.1h-2.4zM619.6 168.2h2.4v1.1h-2.4zM620.3 186.9h2.4v1.1h-2.4zM620.5 188h2.4v1.1h-2.4zM620.6 189.1h2.4v1.1h-2.4zM620.8 190.2h2.4v1.1h-2.4zM620.2 169.3h2.4v1.1h-2.4zM621 191.3h2.4v1.1h-2.4zM621.1 192.4h2.4v1.1h-2.4zM620.4 170.4h2.4v1.1h-2.4zM620.6 171.5h2.4v1.1h-2.4zM620.6 172.6h2.4v1.1h-2.4zM621.5 193.5h2.4v1.1h-2.4zM621.5 194.6h2.4v1.1h-2.4zM621.6 195.7h2.4v1.1h-2.4zM621 173.7h2.4v1.1h-2.4zM621.1 174.8h2.4v1.1h-2.4zM620.8 161.6h2.4v1.1h-2.4zM621.4 175.9h2.4v1.1h-2.4zM621.5 177h2.4v1.1h-2.4zM622.3 196.8h2.4v1.1h-2.4zM622.4 197.9h2.4v1.1h-2.4zM622.5 199h2.4v1.1h-2.4zM621.2 162.7h2.4v1.1h-2.4zM621.5 163.8h2.4v1.1h-2.4zM622.1 178.1h2.4v1.1h-2.4zM622.2 179.2h2.4v1.1h-2.4zM622.1 164.9h2.4v1.1h-2.4zM622.2 166h2.4v1.1h-2.4zM622.9 180.3h2.4v1.1h-2.4zM622.5 167.1h2.4v1.1h-2.4zM623.1 181.4h2.4v1.1h-2.4zM623.2 182.5h2.4v1.1h-2.4zM622.8 168.2h2.4v1.1h-2.4zM623.4 183.6h2.4v1.1h-2.4zM623.6 184.7h2.4v1.1h-2.4zM623.8 185.8h2.4v1.1h-2.4zM623.9 186.9h2.4v1.1h-2.4zM623.9 188h2.4v1.1h-2.4zM623.6 169.3h2.4v1.1h-2.4zM623.8 170.4h2.4v1.1h-2.4zM623.9 171.5h2.4v1.1h-2.4zM624 172.6h2.4v1.1h-2.4zM624.7 189.1h2.4v1.1h-2.4zM624.8 190.2h2.4v1.1h-2.4zM624 161.6h2.4v1.1h-2.4zM624.4 173.7h2.4v1.1h-2.4zM624.5 174.8h2.4v1.1h-2.4zM624.6 175.9h2.4v1.1h-2.4zM624.8 177h2.4v1.1h-2.4zM625.3 191.3h2.4v1.1h-2.4zM625.4 192.4h2.4v1.1h-2.4zM625.5 193.5h2.4v1.1h-2.4zM624.5 162.7h2.4v1.1h-2.4zM624.7 163.8h2.4v1.1h-2.4zM625.3 178.1h2.4v1.1h-2.4zM625.6 179.2h2.4v1.1h-2.4zM626.2 194.6h2.4v1.1h-2.4zM626.3 195.7h2.4v1.1h-2.4zM625.3 164.9h2.4v1.1h-2.4zM625.5 166h2.4v1.1h-2.4zM626.6 196.8h2.4v1.1h-2.4zM625.8 167.1h2.4v1.1h-2.4zM626.2 180.3h2.4v1.1h-2.4zM626.3 181.4h2.4v1.1h-2.4zM626.4 182.5h2.4v1.1h-2.4zM627 197.9h2.4v1.1h-2.4zM627.1 199h2.4v1.1h-2.4zM627.1 200.1h2.4v1.1h-2.4zM627.2 201.2h2.4v1.1h-2.4zM626 168.2h2.4v1.1h-2.4zM626.7 183.6h2.4v1.1h-2.4zM627.4 202.3h2.4v1.1h-2.4zM626.8 184.7h2.4v1.1h-2.4zM627.5 203.4h2.4v1.1h-2.4zM627 185.8h2.4v1.1h-2.4zM627.1 186.9h2.4v1.1h-2.4zM627.3 188h2.4v1.1h-2.4zM627.9 204.5h2.4v1.1h-2.4zM628 205.6h2.4v1.1h-2.4zM628.1 206.7h2.4v1.1h-2.4zM627.1 169.3h2.4v1.1h-2.4zM627.2 170.4h2.4v1.1h-2.4zM627.3 171.5h2.4v1.1h-2.4zM627.5 172.6h2.4v1.1h-2.4zM628.1 189.1h2.4v1.1h-2.4zM627.2 161.6h2.4v1.1h-2.4zM627.8 173.7h2.4v1.1h-2.4zM627.8 174.8h2.4v1.1h-2.4zM627.9 175.9h2.4v1.1h-2.4zM628.1 177h2.4v1.1h-2.4zM628.6 190.2h2.4v1.1h-2.4zM627.6 162.7h2.4v1.1h-2.4zM628.7 191.3h2.4v1.1h-2.4zM628.7 192.4h2.4v1.1h-2.4zM628.8 193.5h2.4v1.1h-2.4zM629.3 207.8h2.4v1.1h-2.4zM629.4 208.9h2.4v1.1h-2.4zM628 163.8h2.4v1.1h-2.4zM628.6 178.1h2.4v1.1h-2.4zM629.8 210h2.4v1.1h-2.4zM629.8 211.1h2.4v1.1h-2.4zM628.7 179.2h2.4v1.1h-2.4zM630 212.2h2.4v1.1h-2.4zM630 213.3h2.4v1.1h-2.4zM628.5 164.9h2.4v1.1h-2.4zM629.6 194.6h2.4v1.1h-2.4zM628.7 166h2.4v1.1h-2.4zM629 167.1h2.4v1.1h-2.4zM629.2 168.2h2.4v1.1h-2.4zM629.7 180.3h2.4v1.1h-2.4zM629.8 181.4h2.4v1.1h-2.4zM629.9 182.5h2.4v1.1h-2.4zM630 183.6h2.4v1.1h-2.4zM630.4 184.7h2.4v1.1h-2.4zM630.6 185.8h2.4v1.1h-2.4zM630.9 186.9h2.4v1.1h-2.4zM630.9 188h2.4v1.1h-2.4zM631.2 195.7h2.4v1.1h-2.4zM630.3 169.3h2.4v1.1h-2.4zM630.5 170.4h2.4v1.1h-2.4zM630.7 171.5h2.4v1.1h-2.4zM630.4 161.6h2.4v1.1h-2.4zM630.9 172.6h2.4v1.1h-2.4zM631.2 173.7h2.4v1.1h-2.4zM630.8 162.7h2.4v1.1h-2.4zM631.3 174.8h2.4v1.1h-2.4zM631.3 175.9h2.4v1.1h-2.4zM631.5 177h2.4v1.1h-2.4zM631.2 163.8h2.4v1.1h-2.4zM632.1 189.1h2.4v1.1h-2.4zM632.2 190.2h2.4v1.1h-2.4zM631.8 178.1h2.4v1.1h-2.4zM632 179.2h2.4v1.1h-2.4zM632.5 191.3h2.4v1.1h-2.4zM631.7 164.9h2.4v1.1h-2.4zM632.7 192.4h2.4v1.1h-2.4zM631.9 166h2.4v1.1h-2.4zM632.9 193.5h2.4v1.1h-2.4zM633.1 194.6h2.4v1.1h-2.4zM633.2 196.8h2.4v1.1h-2.4zM633.3 197.9h2.4v1.1h-2.4zM633.3 199h2.4v1.1h-2.4zM632.2 167.1h2.4v1.1h-2.4zM632.4 168.2h2.4v1.1h-2.4zM632.9 180.3h2.4v1.1h-2.4zM633.2 181.4h2.4v1.1h-2.4zM633.2 182.5h2.4v1.1h-2.4zM633.6 183.6h2.4v1.1h-2.4zM633.8 184.7h2.4v1.1h-2.4zM633.8 185.8h2.4v1.1h-2.4zM634.4 200.1h2.4v1.1h-2.4zM634.4 201.2h2.4v1.1h-2.4zM634.5 202.3h2.4v1.1h-2.4zM634 186.9h2.4v1.1h-2.4zM634.1 188h2.4v1.1h-2.4zM634.4 195.7h2.4v1.1h-2.4zM633.4 169.3h2.4v1.1h-2.4zM633.8 170.4h2.4v1.1h-2.4zM633.8 161.6h2.4v1.1h-2.4zM634.2 171.5h2.4v1.1h-2.4zM634.3 172.6h2.4v1.1h-2.4zM634.2 162.7h2.4v1.1h-2.4zM634.5 163.8h2.4v1.1h-2.4zM634.9 173.7h2.4v1.1h-2.4zM634.9 164.9h2.4v1.1h-2.4zM635.3 174.8h2.4v1.1h-2.4zM635.4 175.9h2.4v1.1h-2.4zM635.1 166h2.4v1.1h-2.4zM635.6 177h2.4v1.1h-2.4zM635.7 167.1h2.4v1.1h-2.4zM635.9 168.2h2.4v1.1h-2.4zM636.4 178.1h2.4v1.1h-2.4zM636.5 179.2h2.4v1.1h-2.4zM636.6 180.3h2.4v1.1h-2.4zM636.8 181.4h2.4v1.1h-2.4zM636.9 182.5h2.4v1.1h-2.4zM636.9 183.6h2.4v1.1h-2.4zM637.1 184.7h2.4v1.1h-2.4zM636.7 169.3h2.4v1.1h-2.4zM637.3 185.8h2.4v1.1h-2.4zM637.4 186.9h2.4v1.1h-2.4zM637.1 170.4h2.4v1.1h-2.4zM637.8 188h2.4v1.1h-2.4zM637.8 189.1h2.4v1.1h-2.4zM637.9 190.2h2.4v1.1h-2.4zM637 161.6h2.4v1.1h-2.4zM637.6 171.5h2.4v1.1h-2.4zM637.7 172.6h2.4v1.1h-2.4zM638.4 191.3h2.4v1.1h-2.4zM637.5 162.7h2.4v1.1h-2.4zM638.6 192.4h2.4v1.1h-2.4zM637.7 163.8h2.4v1.1h-2.4zM638.8 193.5h2.4v1.1h-2.4zM638.1 173.7h2.4v1.1h-2.4zM638.9 194.6h2.4v1.1h-2.4zM639.1 195.7h2.4v1.1h-2.4zM639.2 196.8h2.4v1.1h-2.4zM638.3 164.9h2.4v1.1h-2.4zM638.5 166h2.4v1.1h-2.4zM639 174.8h2.4v1.1h-2.4zM639 175.9h2.4v1.1h-2.4zM639.2 177h2.4v1.1h-2.4zM640 197.9h2.4v1.1h-2.4zM640 199h2.4v1.1h-2.4zM638.9 167.1h2.4v1.1h-2.4zM640.2 200.1h2.4v1.1h-2.4zM639 168.2h2.4v1.1h-2.4zM640.3 201.2h2.4v1.1h-2.4zM640.4 202.3h2.4v1.1h-2.4zM639.6 178.1h2.4v1.1h-2.4zM640.5 203.4h2.4v1.1h-2.4zM639.7 179.2h2.4v1.1h-2.4zM639.8 180.3h2.4v1.1h-2.4zM640.7 204.5h2.4v1.1h-2.4zM640 181.4h2.4v1.1h-2.4zM640 182.5h2.4v1.1h-2.4zM640.1 183.6h2.4v1.1h-2.4zM641 205.6h2.4v1.1h-2.4zM640.3 184.7h2.4v1.1h-2.4zM639.8 169.3h2.4v1.1h-2.4zM640.5 185.8h2.4v1.1h-2.4zM641.2 206.7h2.4v1.1h-2.4zM641.3 207.8h2.4v1.1h-2.4zM640.8 186.9h2.4v1.1h-2.4zM640.4 170.4h2.4v1.1h-2.4zM641.1 188h2.4v1.1h-2.4zM640.1 161.6h2.4v1.1h-2.4zM641.2 189.1h2.4v1.1h-2.4zM641.4 190.2h2.4v1.1h-2.4zM642.1 208.9h2.4v1.1h-2.4zM640.9 171.5h2.4v1.1h-2.4zM640.8 162.7h2.4v1.1h-2.4zM641.1 172.6h2.4v1.1h-2.4zM640.9 163.8h2.4v1.1h-2.4zM641.4 173.7h2.4v1.1h-2.4zM642.1 191.3h2.4v1.1h-2.4zM642.2 192.4h2.4v1.1h-2.4zM642.4 193.5h2.4v1.1h-2.4zM641.5 164.9h2.4v1.1h-2.4zM642.7 194.6h2.4v1.1h-2.4zM642.8 195.7h2.4v1.1h-2.4zM641.7 166h2.4v1.1h-2.4zM642.9 196.8h2.4v1.1h-2.4zM643.4 210h2.4v1.1h-2.4zM642.3 174.8h2.4v1.1h-2.4zM642.4 175.9h2.4v1.1h-2.4zM642.1 167.1h2.4v1.1h-2.4zM642.3 168.2h2.4v1.1h-2.4zM642.8 177h2.4v1.1h-2.4zM642.9 178.1h2.4v1.1h-2.4zM643 179.2h2.4v1.1h-2.4zM643 180.3h2.4v1.1h-2.4zM643.2 181.4h2.4v1.1h-2.4zM643.2 182.5h2.4v1.1h-2.4zM643.3 183.6h2.4v1.1h-2.4zM643.4 184.7h2.4v1.1h-2.4zM643 169.3h2.4v1.1h-2.4zM643.8 185.8h2.4v1.1h-2.4zM644.3 197.9h2.4v1.1h-2.4zM644.4 199h2.4v1.1h-2.4zM644.1 186.9h2.4v1.1h-2.4zM643.3 161.6h2.4v1.1h-2.4zM643.7 170.4h2.4v1.1h-2.4zM644.4 188h2.4v1.1h-2.4zM644.5 189.1h2.4v1.1h-2.4zM644.6 190.2h2.4v1.1h-2.4zM645 200.1h2.4v1.1h-2.4zM645.1 201.2h2.4v1.1h-2.4zM644.1 171.5h2.4v1.1h-2.4zM645.2 202.3h2.4v1.1h-2.4zM645.3 203.4h2.4v1.1h-2.4zM645.4 204.5h2.4v1.1h-2.4zM643.9 162.7h2.4v1.1h-2.4zM644.2 163.8h2.4v1.1h-2.4zM644.6 172.6h2.4v1.1h-2.4zM644.8 173.7h2.4v1.1h-2.4zM645.5 191.3h2.4v1.1h-2.4zM644.9 164.9h2.4v1.1h-2.4zM645 166h2.4v1.1h-2.4zM646.1 192.4h2.4v1.1h-2.4zM646.1 193.5h2.4v1.1h-2.4zM646.1 194.6h2.4v1.1h-2.4zM646.2 195.7h2.4v1.1h-2.4zM646.2 196.8h2.4v1.1h-2.4zM645.5 174.8h2.4v1.1h-2.4zM645.3 167.1h2.4v1.1h-2.4zM645.6 175.9h2.4v1.1h-2.4zM646.7 205.6h2.4v1.1h-2.4zM646.8 206.7h2.4v1.1h-2.4zM646.9 207.8h2.4v1.1h-2.4zM645.6 168.2h2.4v1.1h-2.4zM646.1 177h2.4v1.1h-2.4zM646.1 178.1h2.4v1.1h-2.4zM646.4 179.2h2.4v1.1h-2.4zM646.5 180.3h2.4v1.1h-2.4zM646.3 169.3h2.4v1.1h-2.4zM646.8 181.4h2.4v1.1h-2.4zM646.9 182.5h2.4v1.1h-2.4zM646.9 183.6h2.4v1.1h-2.4zM647 184.7h2.4v1.1h-2.4zM647.3 185.8h2.4v1.1h-2.4zM646.5 161.6h2.4v1.1h-2.4zM646.9 170.4h2.4v1.1h-2.4zM647.7 186.9h2.4v1.1h-2.4zM647.8 188h2.4v1.1h-2.4zM647.9 189.1h2.4v1.1h-2.4zM647.3 171.5h2.4v1.1h-2.4zM647.2 162.7h2.4v1.1h-2.4zM648.2 190.2h2.4v1.1h-2.4zM647.4 163.8h2.4v1.1h-2.4zM647.9 172.6h2.4v1.1h-2.4zM648.8 197.9h2.4v1.1h-2.4zM648.1 173.7h2.4v1.1h-2.4zM648.9 191.3h2.4v1.1h-2.4zM649.2 199h2.4v1.1h-2.4zM649.3 200.1h2.4v1.1h-2.4zM649.4 201.2h2.4v1.1h-2.4zM648.2 164.9h2.4v1.1h-2.4zM648.3 166h2.4v1.1h-2.4zM648.7 174.8h2.4v1.1h-2.4zM649.3 192.4h2.4v1.1h-2.4zM648.5 167.1h2.4v1.1h-2.4zM648.8 175.9h2.4v1.1h-2.4zM648.8 168.2h2.4v1.1h-2.4zM649.3 177h2.4v1.1h-2.4zM649.3 178.1h2.4v1.1h-2.4zM649.9 193.5h2.4v1.1h-2.4zM650 194.6h2.4v1.1h-2.4zM650 195.7h2.4v1.1h-2.4zM649.6 179.2h2.4v1.1h-2.4zM650.2 196.8h2.4v1.1h-2.4zM649.7 180.3h2.4v1.1h-2.4zM649.5 169.3h2.4v1.1h-2.4zM650.1 181.4h2.4v1.1h-2.4zM649.7 161.6h2.4v1.1h-2.4zM650 170.4h2.4v1.1h-2.4zM650.7 182.5h2.4v1.1h-2.4zM650.8 183.6h2.4v1.1h-2.4zM650.9 184.7h2.4v1.1h-2.4zM650.6 171.5h2.4v1.1h-2.4zM650.3 162.7h2.4v1.1h-2.4zM651.2 185.8h2.4v1.1h-2.4zM651.3 186.9h2.4v1.1h-2.4zM650.6 163.8h2.4v1.1h-2.4zM651.5 188h2.4v1.1h-2.4zM651.6 189.1h2.4v1.1h-2.4zM651.6 190.2h2.4v1.1h-2.4zM652.1 202.3h2.4v1.1h-2.4zM651.1 172.6h2.4v1.1h-2.4zM652.1 197.9h2.4v1.1h-2.4zM651.3 173.7h2.4v1.1h-2.4zM652.1 191.3h2.4v1.1h-2.4zM652.4 199h2.4v1.1h-2.4zM652.5 200.1h2.4v1.1h-2.4zM651.4 164.9h2.4v1.1h-2.4zM651.5 166h2.4v1.1h-2.4zM651.6 167.1h2.4v1.1h-2.4zM651.9 174.8h2.4v1.1h-2.4zM652.1 175.9h2.4v1.1h-2.4zM651.9 168.2h2.4v1.1h-2.4zM652.9 192.4h2.4v1.1h-2.4zM653.3 201.2h2.4v1.1h-2.4zM653.3 203.4h2.4v1.1h-2.4zM652.4 177h2.4v1.1h-2.4zM653.4 204.5h2.4v1.1h-2.4zM652.5 178.1h2.4v1.1h-2.4zM653.1 193.5h2.4v1.1h-2.4zM653.2 194.6h2.4v1.1h-2.4zM652.8 179.2h2.4v1.1h-2.4zM653.4 195.7h2.4v1.1h-2.4zM652.8 180.3h2.4v1.1h-2.4zM653.5 196.8h2.4v1.1h-2.4zM653.9 205.6h2.4v1.1h-2.4zM652.6 169.3h2.4v1.1h-2.4zM654 206.7h2.4v1.1h-2.4zM654.1 207.8h2.4v1.1h-2.4zM654.1 208.9h2.4v1.1h-2.4zM654.3 210h2.4v1.1h-2.4zM653.4 181.4h2.4v1.1h-2.4zM654.5 211.1h2.4v1.1h-2.4zM652.9 161.6h2.4v1.1h-2.4zM653.3 170.4h2.4v1.1h-2.4zM654.8 212.2h2.4v1.1h-2.4zM654.9 213.3h2.4v1.1h-2.4zM653.8 182.5h2.4v1.1h-2.4zM655.1 214.4h2.4v1.1h-2.4zM654 183.6h2.4v1.1h-2.4zM655.2 215.5h2.4v1.1h-2.4zM655.2 216.6h2.4v1.1h-2.4zM653.5 162.7h2.4v1.1h-2.4zM653.9 171.5h2.4v1.1h-2.4zM654.3 184.7h2.4v1.1h-2.4zM654.4 185.8h2.4v1.1h-2.4zM654.5 186.9h2.4v1.1h-2.4zM653.7 163.8h2.4v1.1h-2.4zM654.7 188h2.4v1.1h-2.4zM654.2 172.6h2.4v1.1h-2.4zM654.9 189.1h2.4v1.1h-2.4zM655 190.2h2.4v1.1h-2.4zM655.4 202.3h2.4v1.1h-2.4zM656 217.7h2.4v1.1h-2.4zM654.5 173.7h2.4v1.1h-2.4zM655.4 197.9h2.4v1.1h-2.4zM655.3 191.3h2.4v1.1h-2.4zM655.6 199h2.4v1.1h-2.4zM656.4 218.8h2.4v1.1h-2.4zM655.7 200.1h2.4v1.1h-2.4zM656.5 219.9h2.4v1.1h-2.4zM654.6 164.9h2.4v1.1h-2.4zM654.7 166h2.4v1.1h-2.4zM656.7 221h2.4v1.1h-2.4zM654.8 167.1h2.4v1.1h-2.4zM655.1 174.8h2.4v1.1h-2.4zM655.4 175.9h2.4v1.1h-2.4zM655.3 168.2h2.4v1.1h-2.4zM655.7 177h2.4v1.1h-2.4zM655.8 178.1h2.4v1.1h-2.4zM656 179.2h2.4v1.1h-2.4zM656.1 180.3h2.4v1.1h-2.4zM656 169.3h2.4v1.1h-2.4zM656.9 192.4h2.4v1.1h-2.4zM656.6 181.4h2.4v1.1h-2.4zM657.1 193.5h2.4v1.1h-2.4zM657.1 194.6h2.4v1.1h-2.4zM657.2 195.7h2.4v1.1h-2.4zM657.2 196.8h2.4v1.1h-2.4zM657.4 201.2h2.4v1.1h-2.4zM656.1 161.6h2.4v1.1h-2.4zM656.6 170.4h2.4v1.1h-2.4zM657.2 182.5h2.4v1.1h-2.4zM657.3 183.6h2.4v1.1h-2.4zM658.1 203.4h2.4v1.1h-2.4zM656.7 162.7h2.4v1.1h-2.4zM657.1 171.5h2.4v1.1h-2.4zM657.1 163.8h2.4v1.1h-2.4zM657.5 172.6h2.4v1.1h-2.4zM657.9 184.7h2.4v1.1h-2.4zM658 185.8h2.4v1.1h-2.4zM658.1 186.9h2.4v1.1h-2.4zM657.7 173.7h2.4v1.1h-2.4zM658.3 188h2.4v1.1h-2.4zM658.4 189.1h2.4v1.1h-2.4zM658.5 190.2h2.4v1.1h-2.4zM658.5 191.3h2.4v1.1h-2.4zM658.8 197.9h2.4v1.1h-2.4zM658.9 199h2.4v1.1h-2.4zM657.8 164.9h2.4v1.1h-2.4zM658 166h2.4v1.1h-2.4zM658.2 167.1h2.4v1.1h-2.4zM658.5 174.8h2.4v1.1h-2.4zM658.6 175.9h2.4v1.1h-2.4zM659.6 200.1h2.4v1.1h-2.4zM659.7 202.3h2.4v1.1h-2.4zM658.5 168.2h2.4v1.1h-2.4zM659.1 177h2.4v1.1h-2.4zM659.2 178.1h2.4v1.1h-2.4zM659.3 179.2h2.4v1.1h-2.4zM659.3 180.3h2.4v1.1h-2.4zM660.2 204.5h2.4v1.1h-2.4zM660.3 205.6h2.4v1.1h-2.4zM660.4 206.7h2.4v1.1h-2.4zM659.2 169.3h2.4v1.1h-2.4zM660.1 192.4h2.4v1.1h-2.4zM659.7 181.4h2.4v1.1h-2.4zM660.7 207.8h2.4v1.1h-2.4zM660.8 208.9h2.4v1.1h-2.4zM660.2 193.5h2.4v1.1h-2.4zM660.3 194.6h2.4v1.1h-2.4zM660.4 195.7h2.4v1.1h-2.4zM659.4 161.6h2.4v1.1h-2.4zM659.8 170.4h2.4v1.1h-2.4zM660.8 196.8h2.4v1.1h-2.4zM660.3 182.5h2.4v1.1h-2.4zM660.5 183.6h2.4v1.1h-2.4zM661.2 201.2h2.4v1.1h-2.4zM661.3 203.4h2.4v1.1h-2.4zM659.8 162.7h2.4v1.1h-2.4zM661.6 210h2.4v1.1h-2.4zM661.6 211.1h2.4v1.1h-2.4zM661.6 212.2h2.4v1.1h-2.4zM660.3 171.5h2.4v1.1h-2.4zM661.9 213.3h2.4v1.1h-2.4zM662 214.4h2.4v1.1h-2.4zM662 215.5h2.4v1.1h-2.4zM660.4 163.8h2.4v1.1h-2.4zM660.7 172.6h2.4v1.1h-2.4zM661.1 184.7h2.4v1.1h-2.4zM661.2 185.8h2.4v1.1h-2.4zM660.9 173.7h2.4v1.1h-2.4zM661.4 186.9h2.4v1.1h-2.4zM662.5 216.6h2.4v1.1h-2.4zM661.6 188h2.4v1.1h-2.4zM661.7 189.1h2.4v1.1h-2.4zM661.7 190.2h2.4v1.1h-2.4zM661.8 191.3h2.4v1.1h-2.4zM662.1 197.9h2.4v1.1h-2.4zM662.2 199h2.4v1.1h-2.4zM661 164.9h2.4v1.1h-2.4zM663 217.7h2.4v1.1h-2.4zM663 218.8h2.4v1.1h-2.4zM661.2 166h2.4v1.1h-2.4zM663.2 219.9h2.4v1.1h-2.4zM661.4 167.1h2.4v1.1h-2.4zM661.7 174.8h2.4v1.1h-2.4zM661.8 175.9h2.4v1.1h-2.4zM663.4 221h2.4v1.1h-2.4zM663.5 222.1h2.4v1.1h-2.4zM663.5 223.2h2.4v1.1h-2.4zM663.6 224.3h2.4v1.1h-2.4zM661.6 168.2h2.4v1.1h-2.4zM662.8 200.1h2.4v1.1h-2.4zM662.9 202.3h2.4v1.1h-2.4zM663.8 225.4h2.4v1.1h-2.4zM663.9 226.5h2.4v1.1h-2.4zM664.1 227.6h2.4v1.1h-2.4zM664.1 228.7h2.4v1.1h-2.4zM664.2 229.8h2.4v1.1h-2.4zM662.3 177h2.4v1.1h-2.4zM662.4 178.1h2.4v1.1h-2.4zM662.5 179.2h2.4v1.1h-2.4zM662.4 169.3h2.4v1.1h-2.4zM662.9 180.3h2.4v1.1h-2.4zM663 181.4h2.4v1.1h-2.4zM663.4 192.4h2.4v1.1h-2.4zM663.5 193.5h2.4v1.1h-2.4zM663.6 194.6h2.4v1.1h-2.4zM662.6 161.6h2.4v1.1h-2.4zM663.9 195.7h2.4v1.1h-2.4zM663 170.4h2.4v1.1h-2.4zM664 196.8h2.4v1.1h-2.4zM663.6 182.5h2.4v1.1h-2.4zM663.7 183.6h2.4v1.1h-2.4zM663 162.7h2.4v1.1h-2.4zM664.4 201.2h2.4v1.1h-2.4zM664.5 203.4h2.4v1.1h-2.4zM664.6 204.5h2.4v1.1h-2.4zM664.6 205.6h2.4v1.1h-2.4zM664.7 206.7h2.4v1.1h-2.4zM664.7 207.8h2.4v1.1h-2.4zM664.8 208.9h2.4v1.1h-2.4zM664.8 210h2.4v1.1h-2.4zM664.9 211.1h2.4v1.1h-2.4zM663.5 171.5h2.4v1.1h-2.4zM665.1 212.2h2.4v1.1h-2.4zM665.2 213.3h2.4v1.1h-2.4zM663.5 163.8h2.4v1.1h-2.4zM663.9 172.6h2.4v1.1h-2.4zM664.3 184.7h2.4v1.1h-2.4zM665.4 214.4h2.4v1.1h-2.4zM664.4 185.8h2.4v1.1h-2.4zM665.6 215.5h2.4v1.1h-2.4zM666.2 230.9h2.4v1.1h-2.4zM664.1 173.7h2.4v1.1h-2.4zM664.7 186.9h2.4v1.1h-2.4zM665.7 216.6h2.4v1.1h-2.4zM666.3 232h2.4v1.1h-2.4zM666.4 233.1h2.4v1.1h-2.4zM664.8 188h2.4v1.1h-2.4zM664.9 189.1h2.4v1.1h-2.4zM665 190.2h2.4v1.1h-2.4zM664.1 164.9h2.4v1.1h-2.4zM665.1 191.3h2.4v1.1h-2.4zM665.4 197.9h2.4v1.1h-2.4zM664.4 166h2.4v1.1h-2.4zM665.7 199h2.4v1.1h-2.4zM664.6 167.1h2.4v1.1h-2.4zM664.9 174.8h2.4v1.1h-2.4zM665 175.9h2.4v1.1h-2.4zM666.5 217.7h2.4v1.1h-2.4zM666.6 218.8h2.4v1.1h-2.4zM666.7 219.9h2.4v1.1h-2.4zM664.8 168.2h2.4v1.1h-2.4zM666.1 200.1h2.4v1.1h-2.4zM666.2 202.3h2.4v1.1h-2.4zM666.9 221h2.4v1.1h-2.4zM667 222.1h2.4v1.1h-2.4zM665.5 177h2.4v1.1h-2.4zM665.6 178.1h2.4v1.1h-2.4zM665.7 179.2h2.4v1.1h-2.4zM667.4 223.2h2.4v1.1h-2.4zM667.5 224.3h2.4v1.1h-2.4zM667.5 225.4h2.4v1.1h-2.4zM665.5 169.3h2.4v1.1h-2.4zM667.6 226.5h2.4v1.1h-2.4zM666.2 180.3h2.4v1.1h-2.4zM666.3 181.4h2.4v1.1h-2.4zM666.7 192.4h2.4v1.1h-2.4zM666.8 193.5h2.4v1.1h-2.4zM666.8 194.6h2.4v1.1h-2.4zM668.1 227.6h2.4v1.1h-2.4zM668.1 228.7h2.4v1.1h-2.4zM668.2 229.8h2.4v1.1h-2.4zM668.4 234.2h2.4v1.1h-2.4zM668.4 235.3h2.4v1.1h-2.4zM665.8 161.6h2.4v1.1h-2.4zM666.2 170.4h2.4v1.1h-2.4zM666.7 182.5h2.4v1.1h-2.4zM667.2 195.7h2.4v1.1h-2.4zM667.3 196.8h2.4v1.1h-2.4zM668.7 236.4h2.4v1.1h-2.4zM666.2 162.7h2.4v1.1h-2.4zM667 183.6h2.4v1.1h-2.4zM667.6 201.2h2.4v1.1h-2.4zM667.7 203.4h2.4v1.1h-2.4zM667.8 204.5h2.4v1.1h-2.4zM666.6 171.5h2.4v1.1h-2.4zM667.9 205.6h2.4v1.1h-2.4zM668 206.7h2.4v1.1h-2.4zM668.1 207.8h2.4v1.1h-2.4zM668.2 208.9h2.4v1.1h-2.4zM668.3 210h2.4v1.1h-2.4zM668.3 211.1h2.4v1.1h-2.4zM666.7 163.8h2.4v1.1h-2.4zM667.1 172.6h2.4v1.1h-2.4zM667.5 184.7h2.4v1.1h-2.4zM667.6 185.8h2.4v1.1h-2.4zM668.5 212.2h2.4v1.1h-2.4zM668.6 213.3h2.4v1.1h-2.4zM668.7 214.4h2.4v1.1h-2.4zM667.3 173.7h2.4v1.1h-2.4zM667.8 186.9h2.4v1.1h-2.4zM669 215.5h2.4v1.1h-2.4zM667.3 164.9h2.4v1.1h-2.4zM668.1 188h2.4v1.1h-2.4zM668.2 189.1h2.4v1.1h-2.4zM668.3 190.2h2.4v1.1h-2.4zM668.4 191.3h2.4v1.1h-2.4zM668.6 197.9h2.4v1.1h-2.4zM667.5 166h2.4v1.1h-2.4zM669.4 216.6h2.4v1.1h-2.4zM668.9 199h2.4v1.1h-2.4zM670.1 230.9h2.4v1.1h-2.4zM667.7 167.1h2.4v1.1h-2.4zM668.1 174.8h2.4v1.1h-2.4zM668.2 175.9h2.4v1.1h-2.4zM669.7 217.7h2.4v1.1h-2.4zM668 168.2h2.4v1.1h-2.4zM669.9 218.8h2.4v1.1h-2.4zM670 219.9h2.4v1.1h-2.4zM669.3 200.1h2.4v1.1h-2.4zM668.7 177h2.4v1.1h-2.4zM668.8 178.1h2.4v1.1h-2.4zM669.7 202.3h2.4v1.1h-2.4zM668.9 179.2h2.4v1.1h-2.4zM670.4 221h2.4v1.1h-2.4zM668.8 169.3h2.4v1.1h-2.4zM670.8 222.1h2.4v1.1h-2.4zM670.8 223.2h2.4v1.1h-2.4zM670.8 224.3h2.4v1.1h-2.4zM670.9 225.4h2.4v1.1h-2.4zM670.9 226.5h2.4v1.1h-2.4zM669.5 180.3h2.4v1.1h-2.4zM669.5 181.4h2.4v1.1h-2.4zM670 192.4h2.4v1.1h-2.4zM670.1 193.5h2.4v1.1h-2.4zM669 161.6h2.4v1.1h-2.4zM670.2 194.6h2.4v1.1h-2.4zM669.4 170.4h2.4v1.1h-2.4zM671.5 227.6h2.4v1.1h-2.4zM671.5 228.7h2.4v1.1h-2.4zM670 182.5h2.4v1.1h-2.4zM669.3 162.7h2.4v1.1h-2.4zM670.1 183.6h2.4v1.1h-2.4zM670.6 195.7h2.4v1.1h-2.4zM670.6 196.8h2.4v1.1h-2.4zM669.9 171.5h2.4v1.1h-2.4zM670.9 201.2h2.4v1.1h-2.4zM671.2 203.4h2.4v1.1h-2.4zM671.2 204.5h2.4v1.1h-2.4zM671.3 205.6h2.4v1.1h-2.4zM669.9 163.8h2.4v1.1h-2.4zM670.4 172.6h2.4v1.1h-2.4zM670.8 184.7h2.4v1.1h-2.4zM670.8 185.8h2.4v1.1h-2.4zM670.5 173.7h2.4v1.1h-2.4zM671 186.9h2.4v1.1h-2.4zM671.7 206.7h2.4v1.1h-2.4zM671.8 207.8h2.4v1.1h-2.4zM671.9 208.9h2.4v1.1h-2.4zM671.9 210h2.4v1.1h-2.4zM672.1 211.1h2.4v1.1h-2.4zM672.1 212.2h2.4v1.1h-2.4zM670.6 164.9h2.4v1.1h-2.4zM670.7 166h2.4v1.1h-2.4zM671.6 188h2.4v1.1h-2.4zM671.6 189.1h2.4v1.1h-2.4zM671.6 190.2h2.4v1.1h-2.4zM671.7 191.3h2.4v1.1h-2.4zM672 197.9h2.4v1.1h-2.4zM671 167.1h2.4v1.1h-2.4zM671.3 174.8h2.4v1.1h-2.4zM671.4 175.9h2.4v1.1h-2.4zM671.2 168.2h2.4v1.1h-2.4zM672.3 199h2.4v1.1h-2.4zM672.5 200.1h2.4v1.1h-2.4zM673 213.3h2.4v1.1h-2.4zM673.1 214.4h2.4v1.1h-2.4zM673.1 215.5h2.4v1.1h-2.4zM673.2 216.6h2.4v1.1h-2.4zM673.2 217.7h2.4v1.1h-2.4zM673.3 218.8h2.4v1.1h-2.4zM671.9 177h2.4v1.1h-2.4zM672 178.1h2.4v1.1h-2.4zM672.1 179.2h2.4v1.1h-2.4zM673 202.3h2.4v1.1h-2.4zM673.6 219.9h2.4v1.1h-2.4zM673.7 221h2.4v1.1h-2.4zM674.1 229.8h2.4v1.1h-2.4zM674.1 230.9h2.4v1.1h-2.4zM674.2 232h2.4v1.1h-2.4zM674.2 233.1h2.4v1.1h-2.4zM672 169.3h2.4v1.1h-2.4zM673.9 222.1h2.4v1.1h-2.4zM674.3 234.2h2.4v1.1h-2.4zM674 223.2h2.4v1.1h-2.4zM674 224.3h2.4v1.1h-2.4zM674.1 225.4h2.4v1.1h-2.4zM674.2 226.5h2.4v1.1h-2.4zM674.6 235.3h2.4v1.1h-2.4zM672.6 180.3h2.4v1.1h-2.4zM672.7 181.4h2.4v1.1h-2.4zM674.7 236.4h2.4v1.1h-2.4zM674.8 237.5h2.4v1.1h-2.4zM672.2 161.6h2.4v1.1h-2.4zM673.3 192.4h2.4v1.1h-2.4zM672.6 170.4h2.4v1.1h-2.4zM673.5 193.5h2.4v1.1h-2.4zM673.1 182.5h2.4v1.1h-2.4zM673.6 194.6h2.4v1.1h-2.4zM672.5 162.7h2.4v1.1h-2.4zM674.9 227.6h2.4v1.1h-2.4zM673.3 183.6h2.4v1.1h-2.4zM673.8 195.7h2.4v1.1h-2.4zM673.1 171.5h2.4v1.1h-2.4zM674.1 196.8h2.4v1.1h-2.4zM674.3 201.2h2.4v1.1h-2.4zM674.4 203.4h2.4v1.1h-2.4zM673 163.8h2.4v1.1h-2.4zM674.6 204.5h2.4v1.1h-2.4zM673.5 172.6h2.4v1.1h-2.4zM674.1 184.7h2.4v1.1h-2.4zM673.7 173.7h2.4v1.1h-2.4zM674.2 185.8h2.4v1.1h-2.4zM674.2 186.9h2.4v1.1h-2.4zM675 205.6h2.4v1.1h-2.4zM675.1 206.7h2.4v1.1h-2.4zM675.2 207.8h2.4v1.1h-2.4zM675.2 208.9h2.4v1.1h-2.4zM675.3 210h2.4v1.1h-2.4zM675.3 211.1h2.4v1.1h-2.4zM675.4 212.2h2.4v1.1h-2.4zM676 228.7h2.4v1.1h-2.4zM676.4 238.6h2.4v1.1h-2.4zM676.4 239.7h2.4v1.1h-2.4zM673.7 164.9h2.4v1.1h-2.4zM673.8 166h2.4v1.1h-2.4zM676.5 240.8h2.4v1.1h-2.4zM676.7 241.9h2.4v1.1h-2.4zM674.7 188h2.4v1.1h-2.4zM674.8 189.1h2.4v1.1h-2.4zM674.9 190.2h2.4v1.1h-2.4zM675 191.3h2.4v1.1h-2.4zM674.2 167.1h2.4v1.1h-2.4zM674.5 174.8h2.4v1.1h-2.4zM674.3 168.2h2.4v1.1h-2.4zM674.7 175.9h2.4v1.1h-2.4zM675.5 197.9h2.4v1.1h-2.4zM675.6 199h2.4v1.1h-2.4zM675.6 200.1h2.4v1.1h-2.4zM677.2 243h2.4v1.1h-2.4zM676.2 213.3h2.4v1.1h-2.4zM676.4 214.4h2.4v1.1h-2.4zM676.4 215.5h2.4v1.1h-2.4zM676.5 216.6h2.4v1.1h-2.4zM675.1 177h2.4v1.1h-2.4zM675.3 178.1h2.4v1.1h-2.4zM675.4 179.2h2.4v1.1h-2.4zM676.2 202.3h2.4v1.1h-2.4zM676.8 217.7h2.4v1.1h-2.4zM676.9 218.8h2.4v1.1h-2.4zM676.9 219.9h2.4v1.1h-2.4zM677 221h2.4v1.1h-2.4zM677.3 229.8h2.4v1.1h-2.4zM675.1 169.3h2.4v1.1h-2.4zM677.1 222.1h2.4v1.1h-2.4zM677.2 223.2h2.4v1.1h-2.4zM677.2 224.3h2.4v1.1h-2.4zM677.3 225.4h2.4v1.1h-2.4zM677.4 226.5h2.4v1.1h-2.4zM677.6 230.9h2.4v1.1h-2.4zM677.6 232h2.4v1.1h-2.4zM677.7 233.1h2.4v1.1h-2.4zM677.7 234.2h2.4v1.1h-2.4zM675.8 180.3h2.4v1.1h-2.4zM675.9 181.4h2.4v1.1h-2.4zM677.8 235.3h2.4v1.1h-2.4zM678 236.4h2.4v1.1h-2.4zM678 237.5h2.4v1.1h-2.4zM675.4 161.6h2.4v1.1h-2.4zM676.5 192.4h2.4v1.1h-2.4zM675.7 170.4h2.4v1.1h-2.4zM678.4 244.1h2.4v1.1h-2.4zM678.5 245.2h2.4v1.1h-2.4zM676.6 193.5h2.4v1.1h-2.4zM676.3 182.5h2.4v1.1h-2.4zM676.8 194.6h2.4v1.1h-2.4zM678.7 246.3h2.4v1.1h-2.4zM675.7 162.7h2.4v1.1h-2.4zM676.7 183.6h2.4v1.1h-2.4zM676.3 171.5h2.4v1.1h-2.4zM677.2 195.7h2.4v1.1h-2.4zM677.3 196.8h2.4v1.1h-2.4zM677.5 201.2h2.4v1.1h-2.4zM676.2 163.8h2.4v1.1h-2.4zM677.6 203.4h2.4v1.1h-2.4zM677.8 204.5h2.4v1.1h-2.4zM678.7 227.6h2.4v1.1h-2.4zM676.8 172.6h2.4v1.1h-2.4zM677.3 184.7h2.4v1.1h-2.4zM676.9 173.7h2.4v1.1h-2.4zM677.5 185.8h2.4v1.1h-2.4zM677.5 186.9h2.4v1.1h-2.4zM678.3 205.6h2.4v1.1h-2.4zM678.3 206.7h2.4v1.1h-2.4zM678.4 207.8h2.4v1.1h-2.4zM678.5 208.9h2.4v1.1h-2.4zM678.5 210h2.4v1.1h-2.4zM676.9 164.9h2.4v1.1h-2.4zM677 166h2.4v1.1h-2.4zM678.7 211.1h2.4v1.1h-2.4zM678.7 212.2h2.4v1.1h-2.4zM677.9 188h2.4v1.1h-2.4zM678 189.1h2.4v1.1h-2.4zM678.1 190.2h2.4v1.1h-2.4zM679.5 228.7h2.4v1.1h-2.4zM678.1 191.3h2.4v1.1h-2.4zM679.9 238.6h2.4v1.1h-2.4zM680 239.7h2.4v1.1h-2.4zM677.4 167.1h2.4v1.1h-2.4zM677.5 168.2h2.4v1.1h-2.4zM677.9 174.8h2.4v1.1h-2.4zM678 175.9h2.4v1.1h-2.4zM678.8 197.9h2.4v1.1h-2.4zM678.9 199h2.4v1.1h-2.4zM678.3 177h2.4v1.1h-2.4zM678.4 178.1h2.4v1.1h-2.4zM679.2 200.1h2.4v1.1h-2.4zM679.7 213.3h2.4v1.1h-2.4zM678.6 179.2h2.4v1.1h-2.4zM679.4 202.3h2.4v1.1h-2.4zM679.9 214.4h2.4v1.1h-2.4zM679.9 215.5h2.4v1.1h-2.4zM680 216.6h2.4v1.1h-2.4zM678.3 169.3h2.4v1.1h-2.4zM680.2 217.7h2.4v1.1h-2.4zM680.3 218.8h2.4v1.1h-2.4zM679.1 180.3h2.4v1.1h-2.4zM679.2 181.4h2.4v1.1h-2.4zM680.6 219.9h2.4v1.1h-2.4zM680.6 221h2.4v1.1h-2.4zM678.5 161.6h2.4v1.1h-2.4zM678.9 170.4h2.4v1.1h-2.4zM679.8 192.4h2.4v1.1h-2.4zM679.8 193.5h2.4v1.1h-2.4zM680.9 222.1h2.1v1.1h-2.1zM679.5 182.5h2.4v1.1h-2.4zM679.9 194.6h2.4v1.1h-2.4zM681 223.2h2v1.1h-2zM681.1 224.3h1.9v1.1h-1.9zM678.9 162.7h2.4v1.1h-2.4zM681.1 225.4h1.9v1.1h-1.9zM681.2 226.5h1.8v1.1h-1.8zM681.3 229.8h1.7v1.1h-1.7zM681.4 230.9h1.6v1.1h-1.6zM681.5 232h1.5v1.1h-1.5zM681.6 233.1h1.4v1.1h-1.4zM679.8 183.6h2.4v1.1h-2.4zM679.5 171.5h2.4v1.1h-2.4zM680.4 195.7h2.4v1.1h-2.4zM679.4 163.8h2.4v1.1h-2.4zM680.6 196.8h2.4v1.1h-2.4zM680.9 201.2h2.1v1.1h-2.1zM681 203.4h2v1.1h-2zM680.1 172.6h2.4v1.1h-2.4zM680.2 173.7h2.4v1.1h-2.4zM680.7 184.7h2.3v1.1h-2.3zM680.7 185.8h2.3v1.1h-2.3zM680.8 186.9h2.2v1.1h-2.2zM681.5 204.5h1.5v1.1h-1.5zM681.5 205.6h1.5v1.1h-1.5zM680.2 164.9h2.4v1.1h-2.4zM680.2 166h2.4v1.1h-2.4zM681.7 206.7h1.3v1.1h-1.3zM681.1 188h1.9v1.1h-1.9zM681.8 207.8h1.2v1.1h-1.2zM681.2 189.1h1.8v1.1h-1.8zM681.3 190.2h1.7v1.1h-1.7zM681.4 191.3h1.6v1.1h-1.6zM680.6 167.1h2.4v1.1h-2.4zM680.7 168.2h2.3v1.1h-2.3zM682.3 208.9h0.7v1.1h-0.7zM681.1 174.8h1.9v1.1h-1.9zM681.2 175.9h1.8v1.1h-1.8zM682.1 197.9h0.9v1.1h-0.9zM682.2 199h0.8v1.1h-0.8zM682.6 210h0.4v1.1h-0.4zM682.6 211.1h0.4v1.1h-0.4zM682.7 212.2h0.3v1.1h-0.3zM681.5 177h1.5v1.1h-1.5zM681.6 178.1h1.4v1.1h-1.4zM682.4 200.1h0.6v1.1h-0.6zM682.9 213.3h0.1v1.1h-0.1zM681.5 169.3h1.5v1.1h-1.5zM681.9 179.2h1.1v1.1h-1.1zM682.9 202.3h0.1v1.1h-0.1zM682.3 180.3h0.7v1.1h-0.7zM681.7 161.6h1.3v1.1h-1.3zM682.1 170.4h0.9v1.1h-0.9zM682.5 181.4h0.5v1.1h-0.5zM683 192.4h0v1.1h-0zM682.6 182.5h0.4v1.1h-0.4zM682 162.7h1v1.1h-1z" stroke="none" stroke-width="1" fill="#c6c6c6"/>
<path d="M576.1 176.2h1v0.5h-1zM576 180.6h1.4v0.5h-1.4zM576.1 180.6h1v0.5h-1zM576.1 181.7h1.2v0.5h-1.2zM576 192.7h1.4v0.5h-1.4zM576.2 201.5h1.4v0.5h-1.4zM576.4 203.7h1.4v0.5h-1.4zM578.3 229h1v0.5h-1zM576.7 174h1.2v0.5h-1.2zM578.1 176.2h1v0.5h-1zM577.8 176.2h1.4v0.5h-1.4zM580 241.1h1v0.5h-1zM578 183.9h1.4v0.5h-1.4zM579 196h1.2v0.5h-1.2zM579.4 207h1.4v0.5h-1.4zM581.7 223.5h1.2v0.5h-1.2zM581.7 224.6h1v0.5h-1zM579.6 165.2h1v0.5h-1zM583 199.3h1v0.5h-1zM583.5 203.7h1v0.5h-1zM582.7 204.8h1.2v0.5h-1.2zM584.2 209.2h1v0.5h-1zM585.1 221.3h1.2v0.5h-1.2zM585.8 226.8h1.4v0.5h-1.4zM584.3 181.7h1.4v0.5h-1.4zM587 230.1h1.2v0.5h-1.2zM585.6 194.9h1.4v0.5h-1.4zM586.3 204.8h1v0.5h-1zM587.6 211.4h1v0.5h-1zM587.1 214.7h1.2v0.5h-1.2zM587.5 216.9h1.4v0.5h-1.4zM585.6 161.9h1v0.5h-1zM588.4 218h1.2v0.5h-1.2zM588.7 221.3h1.4v0.5h-1.4zM586.7 169.6h1.2v0.5h-1.2zM587.2 171.8h1.2v0.5h-1.2zM587.7 180.6h1.4v0.5h-1.4zM589.5 199.3h1.2v0.5h-1.2zM590.2 199.3h1v0.5h-1zM590.9 212.5h1.2v0.5h-1.2zM590 168.5h1.4v0.5h-1.4zM592.5 192.7h1.2v0.5h-1.2zM593.9 181.7h1.4v0.5h-1.4zM595.6 194.9h1.4v0.5h-1.4zM596.8 207h1v0.5h-1zM599.4 194.9h1.4v0.5h-1.4zM602.9 190.5h1v0.5h-1zM602.4 190.5h1.4v0.5h-1.4zM602.2 192.7h1v0.5h-1zM602.8 193.8h1.4v0.5h-1.4zM603 194.9h1.2v0.5h-1.2zM604.2 169.6h1.2v0.5h-1.2zM603.7 171.8h1.2v0.5h-1.2zM605.8 183.9h1v0.5h-1zM607.8 174h1.4v0.5h-1.4zM610.8 192.7h1.2v0.5h-1.2zM610.6 192.7h1v0.5h-1zM610.1 194.9h1.4v0.5h-1.4zM611.2 176.2h1.4v0.5h-1.4zM611.9 180.6h1.4v0.5h-1.4zM612.6 181.7h1v0.5h-1zM612.9 188.3h1.2v0.5h-1.2zM613.2 191.6h1v0.5h-1zM613.6 168.5h1.2v0.5h-1.2zM614.2 168.5h1v0.5h-1zM615.3 198.2h1.4v0.5h-1.4zM615 175.1h1.2v0.5h-1.2zM615.2 176.2h1.4v0.5h-1.4zM617.1 186.1h1v0.5h-1zM616.8 191.6h1.4v0.5h-1.4zM618.1 198.2h1.2v0.5h-1.2zM618.1 198.2h1v0.5h-1zM620.2 181.7h1v0.5h-1zM621.2 172.9h1.4v0.5h-1.4zM621.8 175.1h1.2v0.5h-1.2zM621.5 175.1h1.4v0.5h-1.4zM622.2 165.2h1.4v0.5h-1.4zM623.2 168.5h1v0.5h-1zM625.5 177.3h1.2v0.5h-1.2zM625.7 178.4h1.2v0.5h-1.2zM626.3 178.4h1.2v0.5h-1.2zM626.8 197.1h1.4v0.5h-1.4zM626.4 181.7h1v0.5h-1zM627.3 198.2h1.4v0.5h-1.4zM627.3 185h1.4v0.5h-1.4zM627.1 186.1h1.4v0.5h-1.4zM628.5 207h1v0.5h-1zM628.9 189.4h1.2v0.5h-1.2zM629 175.1h1v0.5h-1zM628 164.1h1.2v0.5h-1.2zM629.8 166.3h1.2v0.5h-1.2zM633 190.5h1.2v0.5h-1.2zM631.9 178.4h1.4v0.5h-1.4zM631.9 165.2h1.2v0.5h-1.2zM633 167.4h1.2v0.5h-1.2zM634.6 187.2h1.2v0.5h-1.2zM634 187.2h1.4v0.5h-1.4zM635 172.9h1.4v0.5h-1.4zM636.1 167.4h1.2v0.5h-1.2zM636.8 180.6h1.2v0.5h-1.2zM639.8 175.1h1.4v0.5h-1.4zM640.3 198.2h1.4v0.5h-1.4zM640.5 185h1.2v0.5h-1.2zM644.8 171.8h1.2v0.5h-1.2zM645.5 165.2h1v0.5h-1zM647.4 180.6h1v0.5h-1zM648.1 188.3h1.4v0.5h-1.4zM647.6 163h1.4v0.5h-1.4zM649.6 177.3h1v0.5h-1zM650.9 196h1.4v0.5h-1.4zM650.3 169.6h1.4v0.5h-1.4zM650.6 163h1v0.5h-1zM652.2 174h1.4v0.5h-1.4zM653.1 161.9h1v0.5h-1zM654.8 182.8h1.4v0.5h-1.4zM656 214.7h1.2v0.5h-1.2zM654.8 163h1v0.5h-1zM654.6 172.9h1v0.5h-1zM656.5 168.5h1v0.5h-1zM658.5 172.9h1.2v0.5h-1.2zM658.4 186.1h1.4v0.5h-1.4zM657.9 165.2h1.4v0.5h-1.4zM659.9 200.4h1.2v0.5h-1.2zM659.2 178.4h1.2v0.5h-1.2zM659.5 178.4h1v0.5h-1zM663 214.7h1.2v0.5h-1.2zM661.1 172.9h1.4v0.5h-1.4zM662.6 187.2h1v0.5h-1zM661.8 191.6h1v0.5h-1zM661.6 166.3h1.4v0.5h-1.4zM663.3 220.2h1.4v0.5h-1.4zM665.4 230.1h1v0.5h-1zM663.5 161.9h1.2v0.5h-1.2zM663.6 161.9h1.2v0.5h-1.2zM665 203.7h1.4v0.5h-1.4zM666.3 215.8h1.2v0.5h-1.2zM666.2 215.8h1.4v0.5h-1.4zM665.5 187.2h1.4v0.5h-1.4zM665.5 188.3h1.4v0.5h-1.4zM666 191.6h1v0.5h-1zM666.6 218h1.2v0.5h-1.2zM666.4 180.6h1.4v0.5h-1.4zM668.3 229h1.4v0.5h-1.4zM668.4 197.1h1.2v0.5h-1.2zM666.9 163h1.2v0.5h-1.2zM667.8 203.7h1.4v0.5h-1.4zM669.4 214.7h1.4v0.5h-1.4zM668.2 165.2h1.2v0.5h-1.2zM670.6 221.3h1.4v0.5h-1.4zM672 229h1.2v0.5h-1.2zM671.6 229h1.4v0.5h-1.4zM671.5 196h1.4v0.5h-1.4zM671.1 197.1h1.2v0.5h-1.2zM671.5 203.7h1.2v0.5h-1.2zM671 186.1h1.4v0.5h-1.4zM672.2 189.4h1v0.5h-1zM673 177.3h1.2v0.5h-1.2zM675.1 237.8h1v0.5h-1zM674 171.8h1.4v0.5h-1.4zM673.6 171.8h1.4v0.5h-1.4zM675.7 201.5h1v0.5h-1zM674.7 187.2h1.4v0.5h-1.4zM677.1 242.2h1.4v0.5h-1.4zM675.4 189.4h1.2v0.5h-1.2zM674.4 167.4h1.4v0.5h-1.4zM677.2 192.7h1v0.5h-1zM678.6 210.3h1.4v0.5h-1.4zM678.7 176.2h1.2v0.5h-1.2zM679.1 177.3h1.2v0.5h-1.2zM679.4 181.7h1.2v0.5h-1.2zM680.5 193.8h1.4v0.5h-1.4zM681.3 224.6h1.4v0.5h-1.4zM681.6 231.2h1.2v0.5h-1.2zM681.7 233.4h1v0.5h-1zM681.9 208.1h1.2v0.5h-1.2zM681.6 189.4h1.2v0.5h-1.2zM681.6 190.5h1v0.5h-1zM681.5 190.5h1.2v0.5h-1.2zM682.2 199.3h1.4v0.5h-1.4zM682.5 181.7h1v0.5h-1zM683 192.7h1.2v0.5h-1.2z" stroke="none" stroke-width="1" fill="#e0402f"/>
<path d="M576.1 178.4h1v0.5h-1zM576.4 193.8h1v0.5h-1zM576 200.4h1.4v0.5h-1.4zM577 212.5h1.2v0.5h-1.2zM577.8 221.3h1.2v0.5h-1.2zM578.6 225.7h1v0.5h-1zM576.7 169.6h1.4v0.5h-1.4zM576.5 169.6h1.4v0.5h-1.4zM576.5 170.7h1.4v0.5h-1.4zM576.4 170.7h1v0.5h-1zM577.3 174h1.4v0.5h-1.4zM579.6 238.9h1v0.5h-1zM580.1 240h1.2v0.5h-1.2zM579.8 207h1.4v0.5h-1.4zM580.8 214.7h1v0.5h-1zM580.9 215.8h1v0.5h-1zM581.2 222.4h1v0.5h-1zM579.5 163h1.2v0.5h-1.2zM581.7 189.4h1.4v0.5h-1.4zM582.5 193.8h1v0.5h-1zM583.2 201.5h1.4v0.5h-1.4zM582.9 167.4h1.4v0.5h-1.4zM585 224.6h1v0.5h-1zM584 180.6h1v0.5h-1zM584.1 181.7h1.4v0.5h-1.4zM583.9 181.7h1v0.5h-1zM586.8 230.1h1.2v0.5h-1.2zM585.6 199.3h1.2v0.5h-1.2zM586.7 209.2h1.2v0.5h-1.2zM587.3 212.5h1.2v0.5h-1.2zM586.9 213.6h1v0.5h-1zM588 216.9h1.2v0.5h-1.2zM587.3 176.2h1.4v0.5h-1.4zM587.3 179.5h1v0.5h-1zM588.1 182.8h1.4v0.5h-1.4zM587.7 182.8h1v0.5h-1zM588.2 186.1h1.4v0.5h-1.4zM588.5 192.7h1v0.5h-1zM590 212.5h1.2v0.5h-1.2zM590.7 175.1h1v0.5h-1zM591.2 178.4h1.4v0.5h-1.4zM590.8 178.4h1.4v0.5h-1.4zM591.1 179.5h1v0.5h-1zM590.8 179.5h1.4v0.5h-1.4zM593.2 207h1.2v0.5h-1.2zM592.8 165.2h1v0.5h-1zM596 209.2h1v0.5h-1zM595.2 193.8h1v0.5h-1zM596.4 207h1.2v0.5h-1.2zM597.6 215.8h1v0.5h-1zM597 170.7h1.2v0.5h-1.2zM596.2 171.8h1v0.5h-1zM599.1 191.6h1.4v0.5h-1.4zM598.1 161.9h1v0.5h-1zM603.2 193.8h1v0.5h-1zM605.8 186.1h1v0.5h-1zM605.5 186.1h1.4v0.5h-1.4zM607.4 191.6h1v0.5h-1zM609 181.7h1.4v0.5h-1.4zM608.9 187.2h1v0.5h-1zM610.5 196h1.4v0.5h-1.4zM610.8 172.9h1.4v0.5h-1.4zM612.3 180.6h1.4v0.5h-1.4zM612.9 163h1v0.5h-1zM613.5 191.6h1.4v0.5h-1.4zM613.2 168.5h1.2v0.5h-1.2zM614.9 178.4h1.4v0.5h-1.4zM615.7 181.7h1.2v0.5h-1.2zM616.2 185h1v0.5h-1zM616.9 186.1h1.2v0.5h-1.2zM616 167.4h1.4v0.5h-1.4zM619 199.3h1v0.5h-1zM619.7 180.6h1v0.5h-1zM619.5 165.2h1.2v0.5h-1.2zM623.6 168.5h1v0.5h-1zM626 168.5h1.2v0.5h-1.2zM628.1 207h1v0.5h-1zM630 209.2h1.4v0.5h-1.4zM630.7 161.9h1v0.5h-1zM630.9 161.9h1.4v0.5h-1.4zM632.3 190.5h1.4v0.5h-1.4zM632.2 166.3h1.4v0.5h-1.4zM635 161.9h1v0.5h-1zM634.7 172.9h1.4v0.5h-1.4zM637.4 180.6h1.4v0.5h-1.4zM638.2 189.4h1.4v0.5h-1.4zM637.8 163h1.4v0.5h-1.4zM638.8 174h1.4v0.5h-1.4zM639 174h1.4v0.5h-1.4zM638.2 174h1.4v0.5h-1.4zM640.2 198.2h1v0.5h-1zM641.8 171.8h1.4v0.5h-1.4zM641.1 164.1h1.2v0.5h-1.2zM642.6 193.8h1.2v0.5h-1.2zM643.5 197.1h1v0.5h-1zM643.6 197.1h1.2v0.5h-1.2zM645.5 189.4h1.2v0.5h-1.2zM647.2 194.9h1.2v0.5h-1.2zM647.2 196h1.2v0.5h-1.2zM648.4 187.2h1v0.5h-1zM649.7 176.2h1.4v0.5h-1.4zM650.3 197.1h1.2v0.5h-1.2zM650.2 161.9h1v0.5h-1zM652.2 176.2h1.4v0.5h-1.4zM653.4 203.7h1.2v0.5h-1.2zM654.9 207h1.4v0.5h-1.4zM655.4 212.5h1.4v0.5h-1.4zM655.6 213.6h1v0.5h-1zM656.6 218h1.4v0.5h-1.4zM655.3 168.5h1v0.5h-1zM656.6 168.5h1v0.5h-1zM657.5 181.7h1v0.5h-1zM657.9 193.8h1.4v0.5h-1.4zM658.3 196h1.2v0.5h-1.2zM657.4 197.1h1.2v0.5h-1.2zM657.8 182.8h1.4v0.5h-1.4zM658.4 167.4h1.4v0.5h-1.4zM659.5 169.6h1.4v0.5h-1.4zM661.8 188.3h1.4v0.5h-1.4zM661.9 188.3h1.2v0.5h-1.2zM663.7 221.3h1.2v0.5h-1.2zM665.1 230.1h1v0.5h-1zM662.6 179.5h1v0.5h-1zM663.2 169.6h1.4v0.5h-1.4zM664.8 186.1h1.2v0.5h-1.2zM665.6 187.2h1.4v0.5h-1.4zM666 187.2h1v0.5h-1zM667.3 232.3h1.2v0.5h-1.2zM667 233.4h1.2v0.5h-1.2zM665 188.3h1.4v0.5h-1.4zM668.7 225.7h1.2v0.5h-1.2zM666.4 181.7h1v0.5h-1zM669.8 235.6h1v0.5h-1zM668.4 201.5h1v0.5h-1zM668.5 203.7h1.4v0.5h-1.4zM669.2 204.8h1v0.5h-1zM667.8 187.2h1.4v0.5h-1.4zM670.9 231.2h1.4v0.5h-1.4zM669.7 200.4h1.2v0.5h-1.2zM670.4 202.6h1.4v0.5h-1.4zM671.1 194.9h1v0.5h-1zM670.8 182.8h1.4v0.5h-1.4zM670.4 183.9h1v0.5h-1zM671.8 186.1h1v0.5h-1zM673.6 219.1h1.2v0.5h-1.2zM673.2 177.3h1v0.5h-1zM674.3 171.8h1.2v0.5h-1.2zM674.4 197.1h1.4v0.5h-1.4zM674.9 187.2h1.2v0.5h-1.2zM675.4 190.5h1.2v0.5h-1.2zM674.7 176.2h1.4v0.5h-1.4zM678 219.1h1v0.5h-1zM676.9 180.6h1v0.5h-1zM676.9 181.7h1.2v0.5h-1.2zM677.9 235.6h1.2v0.5h-1.2zM678.5 236.7h1v0.5h-1zM676.7 161.9h1v0.5h-1zM677.1 172.9h1.2v0.5h-1.2zM679.4 209.2h1v0.5h-1zM677.9 167.4h1v0.5h-1zM678.2 176.2h1.4v0.5h-1.4zM680.6 214.7h1v0.5h-1zM680.9 219.1h1.4v0.5h-1.4zM679.5 180.6h1.2v0.5h-1.2zM680.1 180.6h1.2v0.5h-1.2zM681.4 220.2h1.2v0.5h-1.2zM681.6 232.3h1.2v0.5h-1.2z" stroke="none" stroke-width="1" fill="#d98a3c"/>
<path d="M576 183.9h1.2v0.5h-1.2zM578.2 229h1v0.5h-1zM579.1 230.1h1.2v0.5h-1.2zM577.4 174h1.4v0.5h-1.4zM580.5 204.8h1v0.5h-1zM580.4 212.5h1.2v0.5h-1.2zM580.6 215.8h1v0.5h-1zM581 216.9h1.2v0.5h-1.2zM580.5 172.9h1.2v0.5h-1.2zM583.1 204.8h1.2v0.5h-1.2zM583.6 211.4h1.2v0.5h-1.2zM583.8 214.7h1v0.5h-1zM585 221.3h1v0.5h-1zM584.6 178.4h1.4v0.5h-1.4zM586.1 238.9h1.4v0.5h-1.4zM586.7 246.6h1v0.5h-1zM585.6 199.3h1.4v0.5h-1.4zM585.7 200.4h1.2v0.5h-1.2zM586.5 208.1h1.4v0.5h-1.4zM588 221.3h1.2v0.5h-1.2zM589.3 191.6h1v0.5h-1zM589.4 225.7h1.2v0.5h-1.2zM589 168.5h1.4v0.5h-1.4zM590.2 174h1.4v0.5h-1.4zM591.3 181.7h1.2v0.5h-1.2zM591.9 191.6h1v0.5h-1zM591.6 191.6h1.4v0.5h-1.4zM593 203.7h1.4v0.5h-1.4zM592.9 207h1v0.5h-1zM593.6 207h1.2v0.5h-1.2zM596.1 201.5h1.4v0.5h-1.4zM596.5 205.9h1.2v0.5h-1.2zM596.4 207h1.2v0.5h-1.2zM597.2 215.8h1v0.5h-1zM596.8 170.7h1.2v0.5h-1.2zM597.3 172.9h1.4v0.5h-1.4zM598 181.7h1.2v0.5h-1.2zM598.8 191.6h1v0.5h-1zM599 163h1v0.5h-1zM602.3 192.7h1.2v0.5h-1.2zM603.1 165.2h1.4v0.5h-1.4zM604.5 176.2h1.4v0.5h-1.4zM604.8 181.7h1.2v0.5h-1.2zM605.3 188.3h1.2v0.5h-1.2zM606.6 192.7h1.4v0.5h-1.4zM608.7 161.9h1.2v0.5h-1.2zM609.7 190.5h1.4v0.5h-1.4zM610.4 196h1v0.5h-1zM610.1 167.4h1.4v0.5h-1.4zM611.2 202.6h1.4v0.5h-1.4zM612.4 180.6h1.4v0.5h-1.4zM613.7 166.3h1v0.5h-1zM613.3 166.3h1.4v0.5h-1.4zM614.7 177.3h1.2v0.5h-1.2zM616.9 186.1h1.4v0.5h-1.4zM616.6 190.5h1.2v0.5h-1.2zM618.3 196h1.4v0.5h-1.4zM618.1 199.3h1.4v0.5h-1.4zM619.2 181.7h1v0.5h-1zM620.1 183.9h1.2v0.5h-1.2zM618.9 165.2h1.2v0.5h-1.2zM621.7 163h1v0.5h-1zM624.3 186.1h1.4v0.5h-1.4zM623.7 169.6h1v0.5h-1zM626.6 193.8h1.2v0.5h-1.2zM627.3 188.3h1v0.5h-1zM628 175.1h1v0.5h-1zM629.9 208.1h1.2v0.5h-1.2zM629.4 208.1h1.4v0.5h-1.4zM630.4 211.4h1.4v0.5h-1.4zM632.4 190.5h1.4v0.5h-1.4zM634.2 199.3h1.4v0.5h-1.4zM634.5 181.7h1v0.5h-1zM634.9 185h1v0.5h-1zM634.7 200.4h1.2v0.5h-1.2zM634.6 200.4h1.2v0.5h-1.2zM636.9 168.5h1.2v0.5h-1.2zM636.7 179.5h1.4v0.5h-1.4zM637.6 182.8h1.4v0.5h-1.4zM638.1 188.3h1.2v0.5h-1.2zM638.3 189.4h1.2v0.5h-1.2zM639.2 197.1h1v0.5h-1zM639.3 167.4h1.2v0.5h-1.2zM640.7 183.9h1v0.5h-1zM643.5 193.8h1v0.5h-1zM643.5 197.1h1v0.5h-1zM645.5 200.4h1v0.5h-1zM644.8 164.1h1.4v0.5h-1.4zM645.6 174h1.4v0.5h-1.4zM646.7 168.5h1.2v0.5h-1.2zM648.3 163h1.2v0.5h-1.2zM649.7 180.6h1.4v0.5h-1.4zM651.8 174h1.2v0.5h-1.2zM651.3 174h1.4v0.5h-1.4zM652.3 191.6h1.4v0.5h-1.4zM652.7 200.4h1v0.5h-1zM651.8 165.2h1v0.5h-1zM653.7 201.5h1.2v0.5h-1.2zM655.5 212.5h1.2v0.5h-1.2zM653.7 163h1.4v0.5h-1.4zM655.9 167.4h1v0.5h-1zM658.2 196h1.4v0.5h-1.4zM657.1 170.7h1.2v0.5h-1.2zM659.1 203.7h1v0.5h-1zM662.7 211.4h1v0.5h-1zM663 214.7h1v0.5h-1zM662.3 188.3h1.4v0.5h-1.4zM663.1 190.5h1v0.5h-1zM664.7 221.3h1v0.5h-1zM664.8 229h1v0.5h-1zM663.1 170.7h1.4v0.5h-1.4zM664.3 183.9h1v0.5h-1zM666.2 213.6h1.2v0.5h-1.2zM666.4 232.3h1v0.5h-1zM665.2 191.6h1.4v0.5h-1.4zM665.9 167.4h1v0.5h-1zM665.7 179.5h1.2v0.5h-1.2zM669.4 235.6h1.2v0.5h-1.2zM667.2 182.8h1.4v0.5h-1.4zM669.5 178.4h1.4v0.5h-1.4zM671.5 226.8h1v0.5h-1zM671.1 194.9h1.2v0.5h-1.2zM671.8 197.1h1.2v0.5h-1.2zM670.2 171.8h1.4v0.5h-1.4zM670.4 172.9h1.4v0.5h-1.4zM672.2 178.4h1.4v0.5h-1.4zM673.9 202.6h1v0.5h-1zM674.8 230.1h1v0.5h-1zM674.2 222.4h1.2v0.5h-1.2zM674.2 223.5h1.2v0.5h-1.2zM673.2 170.7h1.4v0.5h-1.4zM674.9 227.9h1.4v0.5h-1.4zM676.4 212.5h1.2v0.5h-1.2zM676.6 238.9h1.2v0.5h-1.2zM675.1 175.1h1.2v0.5h-1.2zM676.8 200.4h1.2v0.5h-1.2zM677.2 243.3h1v0.5h-1zM675.6 179.5h1.4v0.5h-1.4zM677.1 218h1v0.5h-1zM677.1 194.9h1.2v0.5h-1.2zM679.5 210.3h1v0.5h-1zM679.2 211.4h1v0.5h-1zM679.4 211.4h1.2v0.5h-1.2zM679.9 179.5h1v0.5h-1zM679.5 181.7h1v0.5h-1zM681.4 221.3h1.2v0.5h-1.2zM681.5 224.6h1v0.5h-1zM678.9 163h1.2v0.5h-1.2zM682.2 199.3h1.2v0.5h-1.2zM682.5 181.7h1.4v0.5h-1.4z" stroke="none" stroke-width="1" fill="#3b4fc4"/>
<path d="M576 190.5h1.4v0.5h-1.4zM576.1 205.9h1.2v0.5h-1.2zM576.7 166.3h1v0.5h-1zM578.8 231.2h1.2v0.5h-1.2zM578.7 189.4h1.2v0.5h-1.2zM579.6 207h1.4v0.5h-1.4zM580.7 220.2h1.2v0.5h-1.2zM580.8 174h1.2v0.5h-1.2zM581.3 181.7h1v0.5h-1zM581.2 185h1.2v0.5h-1.2zM583.7 231.2h1v0.5h-1zM585.9 226.8h1v0.5h-1zM583.9 178.4h1.2v0.5h-1.2zM586 197.1h1.2v0.5h-1.2zM586.1 163h1.4v0.5h-1.4zM587.4 178.4h1.4v0.5h-1.4zM588.4 187.2h1.4v0.5h-1.4zM591 179.5h1.4v0.5h-1.4zM591.5 161.9h1.2v0.5h-1.2zM596.3 193.8h1v0.5h-1zM595.6 199.3h1.2v0.5h-1.2zM596.3 201.5h1.2v0.5h-1.2zM596.7 204.8h1.4v0.5h-1.4zM599.1 165.2h1.4v0.5h-1.4zM599.2 166.3h1v0.5h-1zM601.7 180.6h1.2v0.5h-1.2zM602.3 185h1.4v0.5h-1.4zM602.5 190.5h1v0.5h-1zM604.8 182.8h1.4v0.5h-1.4zM607.6 172.9h1.4v0.5h-1.4zM610.1 188.3h1v0.5h-1zM611.8 161.9h1.4v0.5h-1.4zM613.8 190.5h1.2v0.5h-1.2zM617 190.5h1.4v0.5h-1.4zM617.9 198.2h1.4v0.5h-1.4zM618.2 164.1h1.4v0.5h-1.4zM619.6 179.5h1.4v0.5h-1.4zM619.3 183.9h1.4v0.5h-1.4zM619.8 165.2h1.2v0.5h-1.2zM621.5 175.1h1.2v0.5h-1.2zM623.6 169.6h1.2v0.5h-1.2zM625.8 193.8h1.4v0.5h-1.4zM625.5 165.2h1v0.5h-1zM626.5 181.7h1.2v0.5h-1.2zM628.9 207h1v0.5h-1zM631.5 174h1v0.5h-1zM632.5 178.4h1.4v0.5h-1.4zM632.1 166.3h1v0.5h-1zM637 180.6h1.4v0.5h-1.4zM637.5 182.8h1v0.5h-1zM637.2 182.8h1.4v0.5h-1.4zM641.1 203.7h1v0.5h-1zM643.1 196h1.2v0.5h-1.2zM644.2 187.2h1.2v0.5h-1.2zM644.7 187.2h1.2v0.5h-1.2zM644.8 187.2h1.4v0.5h-1.4zM647.9 185h1.2v0.5h-1.2zM651.5 186.1h1.4v0.5h-1.4zM655.6 166.3h1.4v0.5h-1.4zM657.7 192.7h1.2v0.5h-1.2zM659.4 186.1h1v0.5h-1zM659.1 187.2h1.2v0.5h-1.2zM658.3 174h1.2v0.5h-1.2zM660.1 163h1.4v0.5h-1.4zM661.9 212.5h1v0.5h-1zM662.2 213.6h1.2v0.5h-1.2zM661.9 187.2h1.4v0.5h-1.4zM663.2 169.6h1v0.5h-1zM665.5 209.2h1.2v0.5h-1.2zM665.8 210.3h1v0.5h-1zM665.7 175.1h1.4v0.5h-1.4zM666.6 200.4h1.2v0.5h-1.2zM666.6 180.6h1.2v0.5h-1.2zM668.1 227.9h1.4v0.5h-1.4zM666.3 163h1.4v0.5h-1.4zM668.3 201.5h1.4v0.5h-1.4zM668.5 201.5h1v0.5h-1zM670.1 202.6h1.2v0.5h-1.2zM669.3 163h1v0.5h-1zM672 188.3h1v0.5h-1zM673.1 200.4h1v0.5h-1zM674.9 201.5h1.2v0.5h-1.2zM675.3 203.7h1.4v0.5h-1.4zM675.5 204.8h1.2v0.5h-1.2zM679.3 245.5h1.4v0.5h-1.4zM679.2 246.6h1.2v0.5h-1.2zM679.7 200.4h1.2v0.5h-1.2zM681.3 219.1h1.4v0.5h-1.4zM681.9 185h1v0.5h-1zM681.9 176.2h1v0.5h-1z" stroke="none" stroke-width="1" fill="#8c56b0"/>
<path d="M579.7 231.2h1v0.5h-1zM577.8 175.1h1.2v0.5h-1.2zM579.6 197.1h1.2v0.5h-1.2zM581.6 215.8h1v0.5h-1zM580.7 222.4h1.4v0.5h-1.4zM579.4 166.3h1.2v0.5h-1.2zM580.4 175.1h1.2v0.5h-1.2zM581.4 181.7h1.2v0.5h-1.2zM583.4 230.1h1.2v0.5h-1.2zM584.1 170.7h1v0.5h-1zM586.8 237.8h1.2v0.5h-1.2zM586.7 245.5h1.4v0.5h-1.4zM585.8 191.6h1.2v0.5h-1.2zM585.3 198.2h1.2v0.5h-1.2zM585.5 198.2h1v0.5h-1zM585.9 199.3h1.4v0.5h-1.4zM590 204.8h1.2v0.5h-1.2zM590.6 210.3h1.2v0.5h-1.2zM590.9 174h1v0.5h-1zM591.4 189.4h1v0.5h-1zM593.1 199.3h1v0.5h-1zM593.7 168.5h1.2v0.5h-1.2zM596.3 201.5h1v0.5h-1zM597.1 170.7h1.2v0.5h-1.2zM597.1 176.2h1.2v0.5h-1.2zM599.1 189.4h1v0.5h-1zM598.5 190.5h1.4v0.5h-1.4zM600.1 172.9h1.2v0.5h-1.2zM603.4 193.8h1.2v0.5h-1.2zM604 169.6h1.4v0.5h-1.4zM604.2 169.6h1v0.5h-1zM603.8 170.7h1.2v0.5h-1.2zM607.6 172.9h1.2v0.5h-1.2zM610.5 167.4h1v0.5h-1zM611.7 181.7h1.4v0.5h-1.4zM613 188.3h1.4v0.5h-1.4zM613.3 166.3h1.4v0.5h-1.4zM614.7 198.2h1v0.5h-1zM619.2 201.5h1.4v0.5h-1.4zM621.7 196h1.2v0.5h-1.2zM621.7 164.1h1.2v0.5h-1.2zM624.7 174h1.2v0.5h-1.2zM626.6 167.4h1.4v0.5h-1.4zM628.1 188.3h1.4v0.5h-1.4zM628 172.9h1v0.5h-1zM629.6 193.8h1.4v0.5h-1.4zM632 178.4h1.4v0.5h-1.4zM634 169.6h1v0.5h-1zM633.6 169.6h1.2v0.5h-1.2zM638.5 163h1.2v0.5h-1.2zM640.9 183.9h1v0.5h-1zM649.3 199.3h1v0.5h-1zM650.1 161.9h1.4v0.5h-1.4zM655.7 214.7h1.2v0.5h-1.2zM655.8 198.2h1v0.5h-1zM655 167.4h1.4v0.5h-1.4zM655.9 177.3h1.4v0.5h-1.4zM658.8 201.5h1v0.5h-1zM657.8 174h1.4v0.5h-1.4zM660.7 180.6h1v0.5h-1zM662.1 211.4h1.4v0.5h-1.4zM660.9 172.9h1v0.5h-1zM661.8 185h1.4v0.5h-1.4zM662.6 189.4h1.2v0.5h-1.2zM662 176.2h1.4v0.5h-1.4zM664.1 226.8h1v0.5h-1zM665.1 210.3h1.4v0.5h-1.4zM665.4 167.4h1v0.5h-1zM667 218h1.4v0.5h-1.4zM669.8 236.7h1v0.5h-1zM670.4 172.9h1.2v0.5h-1.2zM671.3 186.1h1.4v0.5h-1.4zM672.6 208.1h1.2v0.5h-1.2zM674 202.6h1.4v0.5h-1.4zM674.8 230.1h1v0.5h-1zM673.8 193.8h1.4v0.5h-1.4zM675.5 189.4h1.4v0.5h-1.4zM677.3 223.5h1.4v0.5h-1.4zM676.8 180.6h1.2v0.5h-1.2zM676.4 181.7h1v0.5h-1zM678.9 236.7h1.2v0.5h-1.2zM676.8 182.8h1v0.5h-1zM676.3 163h1v0.5h-1zM679.5 227.9h1.4v0.5h-1.4zM679.1 210.3h1.2v0.5h-1.2zM678.8 190.5h1v0.5h-1zM680.4 238.9h1.2v0.5h-1.2zM681 216.9h1.2v0.5h-1.2zM679.2 181.7h1.2v0.5h-1.2z" stroke="none" stroke-width="1" fill="#3aa84a"/>
</g>
<text x="615.7" y="282.9" font-size="9.3" fill="#333333" textLength="34.6" lengthAdjust="spacingAndGlyphs" font-style="italic">ARID1B</text>
<text x="34.4" y="323.4" font-size="10.4" fill="#333333" textLength="121.5" lengthAdjust="spacingAndGlyphs">Unclassfied complex SVs</text>
<text x="594.4" y="322.5" font-size="8.6" fill="#231f20" textLength="57.5" lengthAdjust="spacingAndGlyphs">Skletal disorders</text>
<text x="58.2" y="353.1" font-size="11.6" fill="#333333" textLength="26" lengthAdjust="spacingAndGlyphs">chr17</text>
<text x="130.8" y="339.3" font-size="10" fill="#4a90d2" textLength="15.3" lengthAdjust="spacingAndGlyphs">1kb</text>
<text x="156" y="339.3" font-size="10" fill="#f7993b" textLength="28" lengthAdjust="spacingAndGlyphs">250bp</text>
<text x="195" y="339.3" font-size="10" fill="#4a90d2" textLength="15.3" lengthAdjust="spacingAndGlyphs">1kb</text>
<text x="219.5" y="339.3" font-size="10" fill="#f7993b" textLength="28.5" lengthAdjust="spacingAndGlyphs">240bp</text>
<text x="395.3" y="339.3" font-size="10" fill="#4a90d2" textLength="23.9" lengthAdjust="spacingAndGlyphs">5.3kb</text>
<rect x="116.6" y="346.5" width="478.7" height="8.1" fill="#4a90d2"/>
<rect x="159.5" y="346.5" width="16.6" height="8.1" fill="#f7993b"/>
<rect x="176.1" y="346.5" width="46.7" height="8.1" fill="#3598d0"/>
<rect x="222.8" y="346.5" width="16.4" height="8.1" fill="#f7993b"/>
<text x="160" y="353.4" font-size="7" fill="#3b2a18">3′</text>
<text x="170.4" y="353.4" font-size="7" fill="#3b2a18">5′</text>
<text x="223.4" y="353.4" font-size="7" fill="#3b2a18">3′</text>
<text x="233.8" y="353.4" font-size="7" fill="#3b2a18">5′</text>
<line x1="56.1" y1="365.3" x2="656" y2="365.3" stroke="#707070" stroke-width="1.2"/>
<line x1="56.1" y1="368.8" x2="656" y2="368.8" stroke="#d8d8d8" stroke-width="1"/>
<path d="M56.1 384.6V372.3H116V375H595L600 373.5H656V384.6Z" stroke="none" stroke-width="1" fill="#b0b0b0"/>
<path d="M116 375H430L436 374.3H500L505 374.9" stroke="#d9d9d9" stroke-width="0.8" fill="none"/>
<path d="M75.1 386.8h5.4l-2.7 3.2zM80.9 386.8h5.4l-2.7 3.2zM102.3 386.8h5.4l-2.7 3.2zM153.9 386.8h5.4l-2.7 3.2zM183.5 386.8h5.4l-2.7 3.2zM204.3 386.8h5.4l-2.7 3.2zM211.8 386.8h5.4l-2.7 3.2zM218.8 386.8h5.4l-2.7 3.2zM321.6 386.8h5.4l-2.7 3.2zM326.3 386.8h5.4l-2.7 3.2zM353.8 386.8h5.4l-2.7 3.2zM359.3 386.8h5.4l-2.7 3.2zM362 386.8h5.4l-2.7 3.2zM412.8 386.8h5.4l-2.7 3.2zM434.6 386.8h5.4l-2.7 3.2zM440.3 386.8h5.4l-2.7 3.2zM487.8 386.8h5.4l-2.7 3.2zM517.2 386.8h5.4l-2.7 3.2z" stroke="none" stroke-width="1" fill="#6f4fb5"/>
<rect x="56.1" y="391.2" width="599.9" height="55.1" fill="#c6c6c6"/>
<rect x="104" y="446.3" width="552" height="1.1" fill="#c6c6c6"/>
<rect x="158" y="447.4" width="437" height="3.8" fill="#c6c6c6"/>
<rect x="56.1" y="451.2" width="599.9" height="22.1" fill="#f9f9fa"/>
<rect x="56.1" y="447.4" width="101.9" height="3.8" fill="#f9f9fa"/>
<rect x="56" y="426" width="37" height="1.6" fill="#ffffff"/>
<rect x="56" y="441" width="45" height="1.2" fill="#ffffff"/>
<rect x="215" y="404.4" width="60.6" height="2.4" fill="#ffffff"/>
<rect x="342.8" y="411.9" width="77.2" height="2.1" fill="#ffffff"/>
<rect x="374" y="415.4" width="46" height="1.2" fill="#ffffff"/>
<rect x="475.7" y="392.6" width="43.8" height="1.8" fill="#ffffff"/>
<rect x="459.3" y="399.5" width="111.3" height="1.3" fill="#ffffff"/>
<rect x="541.4" y="403.2" width="52.6" height="1" fill="#ffffff"/>
<rect x="410" y="412" width="200" height="1.6" fill="#ffffff"/>
<rect x="410" y="415.2" width="222.6" height="1.4" fill="#ffffff"/>
<rect x="559.6" y="417.8" width="96.4" height="1.2" fill="#ffffff"/>
<rect x="205" y="434.5" width="106" height="2.5" fill="#ffffff"/>
<rect x="279" y="438.6" width="141" height="1.8" fill="#ffffff"/>
<rect x="275.6" y="443.8" width="380.4" height="1.4" fill="#ffffff"/>
<rect x="420" y="439.8" width="236" height="1" fill="#ffffff"/>
<rect x="595" y="392.6" width="61" height="1.6" fill="#ffffff"/>
<rect x="595" y="396" width="61" height="1.4" fill="#ffffff"/>
<rect x="116.4" y="392.8" width="337.4" height="3.6" fill="url(#rb)"/>
<rect x="519.5" y="392.8" width="74.8" height="3.6" fill="url(#rb)"/>
<rect x="453.8" y="394.6" width="65.7" height="1.2" fill="url(#rb)"/>
<rect x="594.3" y="394.4" width="61.7" height="1.2" fill="url(#rb)"/>
<rect x="116.4" y="405.1" width="98.6" height="3.4" fill="url(#rb)"/>
<rect x="275.6" y="405.1" width="144.4" height="2.2" fill="url(#rb)"/>
<rect x="420" y="405" width="174" height="2" fill="url(#rb)"/>
<rect x="215" y="406.6" width="25" height="1" fill="url(#rb)"/>
<rect x="570.6" y="400" width="23.4" height="1.2" fill="url(#rb)"/>
<rect x="116.4" y="412.4" width="226.4" height="1.5" fill="url(#rb)"/>
<rect x="116.4" y="429.9" width="539.6" height="1.9" fill="url(#rb)"/>
<rect x="116.4" y="435" width="88.6" height="1.9" fill="url(#rb)"/>
<rect x="332.7" y="436.2" width="261.3" height="1.6" fill="url(#rb)"/>
<rect x="116.4" y="438.7" width="162.6" height="1.9" fill="url(#rb)"/>
<rect x="116.4" y="444" width="159.2" height="1.7" fill="url(#rb)"/>
<rect x="158.1" y="448.9" width="435.9" height="1.9" fill="url(#rb)"/>
<line x1="118.2" y1="375" x2="118.2" y2="447" stroke="#d08a4a" stroke-width="0.7"/>
<line x1="177.4" y1="375" x2="177.4" y2="447" stroke="#5bb35b" stroke-width="0.7"/>
<line x1="187.3" y1="375" x2="187.3" y2="447" stroke="#d08a4a" stroke-width="0.7"/>
<line x1="198.5" y1="372" x2="198.5" y2="447" stroke="#5060b8" stroke-width="0.7"/>
<line x1="300" y1="375" x2="300" y2="451" stroke="#e05050" stroke-width="0.7"/>
<line x1="432.1" y1="375" x2="432.1" y2="451" stroke="#e05050" stroke-width="0.7"/>
<line x1="553.5" y1="375" x2="553.5" y2="451" stroke="#d08a4a" stroke-width="0.7"/>
<path d="M67.1 372.5V384.4" stroke="#d08a4a" stroke-width="0.9" fill="none"/>
<path d="M67.1 392V446" stroke="#d8a070" stroke-width="0.9" fill="none" stroke-dasharray="2.5,2"/>
<rect x="56.1" y="473.5" width="599.9" height="1.4" fill="#b8b8b8"/>
<path d="M56.1 488.6L56.1 477.5L57.6 476.6L59.1 476.8L60.6 476.7L62.1 477.2L63.6 477.1L65.1 477.6L66.6 477.3L68.1 478.2L69.6 477.5L71.1 477.4L72.6 477.7L74.1 477.2L75.6 477.5L77.1 478L78.6 477.7L80.1 477.3L81.6 477.6L83.1 477.7L84.6 476.7L86.1 478L87.6 478.1L89.1 477.7L90.6 477.3L92.1 478.2L93.6 477.6L95.1 477.5L96.6 478.1L98.1 479.4L99.6 479.6L101.1 480L102.6 480.1L104.1 480L105.6 480.3L107.1 479.2L108.6 479.2L110.1 479.3L111.6 478.8L113.1 479.1L114.6 478L116.1 477.4L117.6 476.2L119.1 477L120.6 477.5L122.1 477.2L123.6 477.3L125.1 477.6L126.6 479L128.1 480.4L129.6 480.7L131.1 481.4L132.6 481.5L134.1 481.1L135.6 481.5L137.1 481.3L138.6 481.9L140.1 481.8L141.6 482.1L143.1 480.7L144.6 480.8L146.1 482.2L147.6 482.5L149.1 482.4L150.6 482.6L152.1 482.7L153.6 481.6L155.1 479.8L156.6 478.8L158.1 479L159.6 479.4L161.1 479.4L162.6 480.2L164.1 480.2L165.6 479.1L167.1 479L168.6 478.5L170.1 479.6L171.6 479.5L173.1 479.8L174.6 480.1L176.1 481.1L177.6 482.1L179.1 483.4L180.6 484L182.1 483.2L183.6 482.8L185.1 483.8L186.6 483.4L188.1 483.1L189.6 482.5L191.1 481.7L192.6 482.1L194.1 482.5L195.6 482.2L197.1 481.9L198.6 482.5L200.1 483.4L201.6 482.9L203.1 483.4L204.6 483.2L206.1 481.8L207.6 482.3L209.1 482.4L210.6 482.9L212.1 482.9L213.6 483.4L215.1 482.6L216.6 482.3L218.1 481.2L219.6 480.7L221.1 479.8L222.6 478.3L224.1 477.9L225.6 477.7L227.1 479L228.6 479L230.1 478.1L231.6 478.2L233.1 478.2L234.6 477.8L236.1 478.7L237.6 479.7L239.1 481.2L240.6 482.2L242.1 482.8L243.6 483.1L245.1 482.7L246.6 483.4L248.1 483.2L249.6 483.2L251.1 482.7L252.6 482.5L254.1 483.8L255.6 484.2L257.1 483.3L258.6 484L260.1 483.7L261.6 484.4L263.1 484.1L264.6 483.3L266.1 484L267.6 484.4L269.1 484.1L270.6 484.6L272.1 484L273.6 484L275.1 484.7L276.6 485L278.1 484.2L279.6 484.2L281.1 485L282.6 484.2L284.1 483.8L285.6 483.8L287.1 483.2L288.6 483.3L290.1 483.4L291.6 483.7L293.1 483.3L294.6 483.3L296.1 483.1L297.6 484.3L299.1 484.6L300.6 485.6L302.1 485.6L303.6 484.7L305.1 484.9L306.6 485.3L308.1 484.7L309.6 484.3L311.1 484.7L312.6 484.1L314.1 484.5L315.6 485.3L317.1 485.3L318.6 484.1L320.1 483.7L321.6 484.5L323.1 485.3L324.6 485.6L326.1 485.7L327.6 485.5L329.1 485.9L330.6 484.9L332.1 485.3L333.6 485.1L335.1 485.6L336.6 484.8L338.1 484.6L339.6 484.7L341.1 484.8L342.6 485L344.1 485.2L345.6 486L347.1 485.6L348.6 486L350.1 485L351.6 483.8L353.1 485L354.6 484.9L356.1 485.2L357.6 485.3L359.1 485.5L360.6 484.7L362.1 485L363.6 484.6L365.1 484.8L366.6 484.1L368.1 484.3L369.6 485L371.1 484.2L372.6 484.9L374.1 484.9L375.6 485.3L377.1 485.7L378.6 485.1L380.1 484.2L381.6 484.1L383.1 483.2L384.6 483.3L386.1 484.3L387.6 484L389.1 483.7L390.6 483.4L392.1 482.2L393.6 483L395.1 483.3L396.6 483.8L398.1 482.5L399.6 482.9L401.1 482L402.6 482.6L404.1 483.4L405.6 483.1L407.1 482L408.6 481.7L410.1 483L411.6 482.6L413.1 483L414.6 482.8L416.1 482.5L417.6 482.6L419.1 482.5L420.6 482.9L422.1 481.8L423.6 482.1L425.1 481.5L426.6 481.8L428.1 482.2L429.6 481.8L431.1 481.8L432.6 482.4L434.1 481.8L435.6 482.5L437.1 483.4L438.6 484L440.1 483.3L441.6 483.2L443.1 482.9L444.6 483.6L446.1 483.8L447.6 484.1L449.1 483.7L450.6 483.9L452.1 485L453.6 484.8L455.1 484.4L456.6 484.9L458.1 484.7L459.6 484.2L461.1 485.3L462.6 484.7L464.1 485.2L465.6 485.9L467.1 485.5L468.6 485.7L470.1 485.3L471.6 485.3L473.1 485.1L474.6 486.3L476.1 486.9L477.6 485.9L479.1 486L480.6 485.4L482.1 485.7L483.6 486.2L485.1 486L486.6 484.9L488.1 485.1L489.6 484.8L491.1 484.4L492.6 485.3L494.1 485.5L495.6 485.4L497.1 486L498.6 485.7L500.1 485.4L501.6 484.9L503.1 484.9L504.6 485.7L506.1 485.1L507.6 483.9L509.1 484.4L510.6 484.6L512.1 484.3L513.6 484.5L515.1 485L516.6 485.8L518.1 485.4L519.6 485.2L521.1 485.1L522.6 484.2L524.1 484.1L525.6 484L527.1 484.9L528.6 485L530.1 484L531.6 483.8L533.1 483.4L534.6 484.8L536.1 485L537.6 485.1L539.1 485L540.6 485L542.1 483.4L543.6 483.6L545.1 483.1L546.6 483.9L548.1 483.6L549.6 483.4L551.1 483L552.6 482L554.1 482.4L555.6 481.5L557.1 482.7L558.6 483.4L560.1 483.5L561.6 485.1L563.1 485.7L564.6 486.3L566.1 486.5L567.6 485.1L569.1 483.9L570.6 482.8L572.1 481.9L573.6 482.5L575.1 482.5L576.6 481.7L578.1 482.7L579.6 483L581.1 483.6L582.6 482.9L584.1 483.2L585.6 482.4L587.1 483.6L588.6 482.7L590.1 483.7L591.6 482.9L593.1 482.5L594.6 481.4L596.1 480.5L597.6 479.2L599.1 479L600.6 478.3L602.1 478L603.6 478L605.1 477.7L606.6 478.7L608.1 478.1L609.6 479.2L611.1 478.6L612.6 478.8L614.1 478.4L615.6 478L617.1 477.6L618.6 477.5L620.1 478.4L621.6 478.1L623.1 478.1L624.6 478.8L626.1 478.3L627.6 477.5L629.1 477.5L630.6 477.5L632.1 477.5L633.6 477.5L635.1 477.6L636.6 478L638.1 478.3L639.6 477.7L641.1 478L642.6 478.1L644.1 478L645.6 478.5L647.1 478.3L648.6 478.7L650.1 478.8L651.6 478.9L653.1 478.8L654.6 477.8L656 477.4L656 488.6Z" stroke="none" stroke-width="1" fill="#b0b0b0"/>
<rect x="56.1" y="489.7" width="599.9" height="104.3" fill="#fafafa"/>
<clipPath id="c6"><rect x="56.1" y="490.2" width="599.9" height="103.6"/></clipPath><g clip-path="url(#c6)">
<path d="M55.1 535.8h0.3v2.4h-0.3zM55.1 538.2h0.7v2.4h-0.7zM55.1 540.6h1.4v2.4h-1.4zM55.1 543h1.7v2.4h-1.7zM55.1 545.4h2.1v2.4h-2.1zM55.1 547.8h3.4v2.4h-3.4zM55.1 550.2h4.1v2.4h-4.1zM55.1 552.6h4.9v2.4h-4.9zM55.1 555h5.4v2.4h-5.4zM55.1 557.4h6.4v2.4h-6.4zM55.1 559.8h7.6v2.4h-7.6zM55.1 562.2h7.9v2.4h-7.9zM55.4 564.6h8v2.4h-8zM55.1 504.6h0.5v2.4h-0.5zM55.1 507h0.8v2.4h-0.8zM55.1 509.4h2.4v2.4h-2.4zM55.1 511.8h4v2.4h-4zM55.1 514.2h5v2.4h-5zM55.1 516.6h5.3v2.4h-5.3zM55.1 519h5.8v2.4h-5.8zM55.1 521.4h6.3v2.4h-6.3zM55.1 523.8h7.1v2.4h-7.1zM55.3 526.2h8v2.4h-8zM56.1 528.6h8v2.4h-8zM56.7 531h8v2.4h-8zM57.4 533.4h8v2.4h-8zM57.9 535.8h8v2.4h-8zM55.1 490.2h4.4v2.4h-4.4zM58.5 538.2h8v2.4h-8zM59.2 540.6h8v2.4h-8zM59.6 543h8v2.4h-8zM55.1 492.6h6v2.4h-6zM55.1 495h6.7v2.4h-6.7zM55.1 497.4h7.2v2.4h-7.2zM55.4 499.8h8v2.4h-8zM55.9 502.2h8v2.4h-8zM62.2 545.4h8v2.4h-8zM62.6 547.8h8v2.4h-8zM57.9 504.6h8v2.4h-8zM58.5 507h8v2.4h-8zM59.7 509.4h8v2.4h-8zM60.4 511.8h8v2.4h-8zM61.4 514.2h8v2.4h-8zM62 516.6h8v2.4h-8zM62.7 519h8v2.4h-8zM63.5 521.4h8v2.4h-8zM64 523.8h8v2.4h-8zM64.6 526.2h8v2.4h-8zM65.1 528.6h8v2.4h-8zM65.6 531h8v2.4h-8zM66.4 533.4h8v2.4h-8zM60.8 490.2h8v2.4h-8zM67.6 535.8h8v2.4h-8zM68.1 538.2h8v2.4h-8zM62.3 492.6h8v2.4h-8zM63.2 495h8v2.4h-8zM63.7 497.4h8v2.4h-8zM70 540.6h8v2.4h-8zM64.3 499.8h8v2.4h-8zM64.8 502.2h8v2.4h-8zM70.8 543h8v2.4h-8zM71.2 545.4h8v2.4h-8zM71.9 547.8h8v2.4h-8zM72.4 550.2h8v2.4h-8zM72.9 552.6h8v2.4h-8zM73.3 555h8v2.4h-8zM73.9 557.4h8v2.4h-8zM74.5 559.8h8v2.4h-8zM66.6 504.6h8v2.4h-8zM75.1 562.2h8v2.4h-8zM67.9 507h8v2.4h-8zM76.4 564.6h8v2.4h-8zM68.6 509.4h8v2.4h-8zM77.1 567h8v2.4h-8zM69.7 511.8h8v2.4h-8zM70.2 514.2h8v2.4h-8zM78.5 569.4h8v2.4h-8zM70.8 516.6h8v2.4h-8zM78.9 571.8h8v2.4h-8zM72.1 519h8v2.4h-8zM72.6 521.4h8v2.4h-8zM73.1 523.8h8v2.4h-8zM74.3 526.2h8v2.4h-8zM74.7 528.6h8v2.4h-8zM75.4 531h8v2.4h-8zM69.9 490.2h8v2.4h-8zM76.8 533.4h8v2.4h-8zM71 492.6h8v2.4h-8zM77.4 535.8h8v2.4h-8zM77.8 538.2h8v2.4h-8zM83.3 574.2h8v2.4h-8zM83.9 576.6h8v2.4h-8zM72.4 495h8v2.4h-8zM73 497.4h8v2.4h-8zM73.9 499.8h8v2.4h-8zM74.7 502.2h8v2.4h-8zM80.5 540.6h8v2.4h-8zM80.9 543h8v2.4h-8zM75.7 504.6h8v2.4h-8zM77.1 507h8v2.4h-8zM77.6 509.4h8v2.4h-8zM83.2 545.4h8v2.4h-8zM78.6 511.8h8v2.4h-8zM79 514.2h8v2.4h-8zM83.9 547.8h8v2.4h-8zM84.4 550.2h8v2.4h-8zM80.2 516.6h8v2.4h-8zM85.6 552.6h8v2.4h-8zM86 555h8v2.4h-8zM81.1 519h8v2.4h-8zM81.6 521.4h8v2.4h-8zM82.2 523.8h8v2.4h-8zM87.5 557.4h8v2.4h-8zM87.9 559.8h8v2.4h-8zM83.1 526.2h8v2.4h-8zM83.7 528.6h8v2.4h-8zM84.2 531h8v2.4h-8zM78.9 490.2h8v2.4h-8zM85.6 533.4h8v2.4h-8zM89.9 562.2h8v2.4h-8zM80.5 492.6h8v2.4h-8zM87 535.8h8v2.4h-8zM81.2 495h8v2.4h-8zM87.6 538.2h8v2.4h-8zM91.6 564.6h8v2.4h-8zM82.3 497.4h8v2.4h-8zM82.7 499.8h8v2.4h-8zM83.5 502.2h8v2.4h-8zM93 567h8v2.4h-8zM89.4 540.6h8v2.4h-8zM84.5 504.6h8v2.4h-8zM90.9 543h8v2.4h-8zM94.9 569.4h8v2.4h-8zM95.3 571.8h8v2.4h-8zM85.9 507h8v2.4h-8zM86.6 509.4h8v2.4h-8zM92.1 545.4h8v2.4h-8zM96.3 574.2h8v2.4h-8zM87.5 511.8h8v2.4h-8zM88.2 514.2h8v2.4h-8zM93.2 547.8h8v2.4h-8zM93.8 550.2h8v2.4h-8zM89 516.6h8v2.4h-8zM94.5 552.6h8v2.4h-8zM95 555h8v2.4h-8zM89.9 519h8v2.4h-8zM90.5 521.4h8v2.4h-8zM91.2 523.8h8v2.4h-8zM99 576.6h8v2.4h-8zM91.9 526.2h8v2.4h-8zM96.5 557.4h8v2.4h-8zM92.5 528.6h8v2.4h-8zM93 531h8v2.4h-8zM97.7 559.8h8v2.4h-8zM87.7 490.2h8v2.4h-8zM100.7 579h8v2.4h-8zM101.3 581.4h8v2.4h-8zM101.6 583.8h8v2.4h-8zM94.8 533.4h8v2.4h-8zM99 562.2h8v2.4h-8zM102.8 586.2h8v2.4h-8zM89.4 492.6h8v2.4h-8zM95.7 535.8h8v2.4h-8zM103.6 588.6h8v2.4h-8zM90 495h8v2.4h-8zM96.4 538.2h8v2.4h-8zM104.2 591h8v2.4h-8zM100.8 564.6h8v2.4h-8zM105 593.4h8v2.4h-8zM91.1 497.4h8v2.4h-8zM91.8 499.8h8v2.4h-8zM92.3 502.2h8v2.4h-8zM98.2 540.6h8v2.4h-8zM93.4 504.6h8v2.4h-8zM102.6 567h8v2.4h-8zM99.7 543h8v2.4h-8zM94.8 507h8v2.4h-8zM104 569.4h8v2.4h-8zM104.4 571.8h8v2.4h-8zM107.9 595.8h8v2.4h-8zM95.6 509.4h8v2.4h-8zM101 545.4h8v2.4h-8zM96.2 511.8h8v2.4h-8zM105.6 574.2h8v2.4h-8zM97.2 514.2h8v2.4h-8zM102.3 547.8h8v2.4h-8zM97.9 516.6h8v2.4h-8zM98.8 519h8v2.4h-8zM99.5 521.4h8v2.4h-8zM100.4 523.8h8v2.4h-8zM100.7 526.2h8v2.4h-8zM104.2 550.2h8v2.4h-8zM101.7 528.6h8v2.4h-8zM96.8 490.2h8v2.4h-8zM103.4 531h8v2.4h-8zM103.9 533.4h8v2.4h-8zM106.9 552.6h8v2.4h-8zM107.2 555h8v2.4h-8zM98.2 492.6h8v2.4h-8zM104.7 535.8h8v2.4h-8zM98.9 495h8v2.4h-8zM105.2 538.2h8v2.4h-8zM100.1 497.4h8v2.4h-8zM108.9 557.4h8v2.4h-8zM100.6 499.8h8v2.4h-8zM101.9 502.2h8v2.4h-8zM102.3 504.6h8v2.4h-8zM107.6 540.6h8v2.4h-8zM110.4 559.8h8v2.4h-8zM110.8 562.2h8v2.4h-8zM103.6 507h8v2.4h-8zM104.4 509.4h8v2.4h-8zM105.4 511.8h8v2.4h-8zM106.1 514.2h8v2.4h-8zM110.4 543h8v2.4h-8zM106.7 516.6h8v2.4h-8zM108.5 519h8v2.4h-8zM109.1 521.4h8v2.4h-8zM110.3 523.8h8v2.4h-8zM105.8 490.2h8v2.4h-8zM111.8 526.2h8v2.4h-8zM107.6 492.6h8v2.4h-8zM108.3 495h8v2.4h-8zM109.4 497.4h8v2.4h-8zM109.9 499.8h8v2.4h-8zM114.1 528.6h8v2.4h-8zM114.6 531h8v2.4h-8zM111.2 502.2h8v2.4h-8zM111.8 504.6h8v2.4h-8zM113.4 507h8v2.4h-8zM113.9 509.4h8v2.4h-8zM115.5 511.8h8v2.4h-8zM116 514.2h8v2.4h-8zM117.1 516.6h8v2.4h-8zM118 519h8v2.4h-8zM118.8 521.4h8v2.4h-8zM119.2 523.8h8v2.4h-8zM114.6 490.2h8v2.4h-8zM121.2 533.4h8v2.4h-8zM121.6 535.8h8v2.4h-8zM116.9 492.6h8v2.4h-8zM117.6 495h8v2.4h-8zM118.5 497.4h8v2.4h-8zM119.1 499.8h8v2.4h-8zM120.4 502.2h8v2.4h-8zM121.6 504.6h8v2.4h-8zM124.8 526.2h8v2.4h-8zM122.7 507h8v2.4h-8zM123 509.4h8v2.4h-8zM126.2 528.6h8v2.4h-8zM127 531h8v2.4h-8zM124.6 511.8h8v2.4h-8zM125 514.2h8v2.4h-8zM128.6 538.2h8v2.4h-8zM129.2 540.6h8v2.4h-8zM126.7 516.6h8v2.4h-8zM127.4 519h8v2.4h-8zM123.6 490.2h8v2.4h-8zM128.2 521.4h8v2.4h-8zM128.6 523.8h8v2.4h-8zM130.7 533.4h8v2.4h-8zM131.7 535.8h8v2.4h-8zM132.9 543h8v2.4h-8zM125.8 492.6h8v2.4h-8zM126.6 495h8v2.4h-8zM127.6 497.4h8v2.4h-8zM128.1 499.8h8v2.4h-8zM134.8 545.4h8v2.4h-8zM135.7 547.8h8v2.4h-8zM129.3 502.2h8v2.4h-8zM136.9 550.2h8v2.4h-8zM131 504.6h8v2.4h-8zM131.4 507h8v2.4h-8zM132.1 509.4h8v2.4h-8zM135 526.2h8v2.4h-8zM133.8 511.8h8v2.4h-8zM135 514.2h8v2.4h-8zM135.6 516.6h8v2.4h-8zM137.4 528.6h8v2.4h-8zM132.6 490.2h8v2.4h-8zM137.1 519h8v2.4h-8zM137.6 521.4h8v2.4h-8zM138.4 523.8h8v2.4h-8zM140 531h8v2.4h-8zM140.4 533.4h8v2.4h-8zM136.3 492.6h8v2.4h-8zM137.2 495h8v2.4h-8zM137.8 497.4h8v2.4h-8zM138.7 499.8h8v2.4h-8zM139.9 502.2h8v2.4h-8zM140.7 504.6h8v2.4h-8zM141.2 507h8v2.4h-8zM142 509.4h8v2.4h-8zM144.6 526.2h8v2.4h-8zM142.6 511.8h8v2.4h-8zM146.8 535.8h8v2.4h-8zM147.1 538.2h8v2.4h-8zM147.6 540.6h8v2.4h-8zM144.6 514.2h8v2.4h-8zM145.2 516.6h8v2.4h-8zM142.6 490.2h8v2.4h-8zM146.9 519h8v2.4h-8zM147.3 521.4h8v2.4h-8zM148.2 523.8h8v2.4h-8zM149.2 528.6h8v2.4h-8zM150.1 531h8v2.4h-8zM151 533.4h8v2.4h-8zM145 492.6h8v2.4h-8zM152.5 543h8v2.4h-8zM152.9 545.4h8v2.4h-8zM146.1 495h8v2.4h-8zM153.9 547.8h8v2.4h-8zM146.9 497.4h8v2.4h-8zM148.5 499.8h8v2.4h-8zM148.9 502.2h8v2.4h-8zM150.3 504.6h8v2.4h-8zM150.6 507h8v2.4h-8zM152 509.4h8v2.4h-8zM152.9 511.8h8v2.4h-8zM155.1 526.2h8v2.4h-8zM153.9 514.2h8v2.4h-8zM154.5 516.6h8v2.4h-8zM157.4 535.8h8v2.4h-8zM158.2 538.2h8v2.4h-8zM151.7 490.2h8v2.4h-8zM156.4 519h8v2.4h-8zM157.3 521.4h8v2.4h-8zM157.7 523.8h8v2.4h-8zM158.5 528.6h8v2.4h-8zM159.2 531h8v2.4h-8zM160.7 540.6h8v2.4h-8zM154.4 492.6h8v2.4h-8zM160.4 533.4h8v2.4h-8zM155.6 495h8v2.4h-8zM156.2 497.4h8v2.4h-8zM163.1 543h8v2.4h-8zM163.7 545.4h8v2.4h-8zM157.4 499.8h8v2.4h-8zM157.9 502.2h8v2.4h-8zM165.1 547.8h8v2.4h-8zM165.5 550.2h8v2.4h-8zM159.3 504.6h8v2.4h-8zM159.8 507h8v2.4h-8zM166.7 552.6h8v2.4h-8zM161.4 509.4h8v2.4h-8zM161.9 511.8h8v2.4h-8zM164.3 526.2h8v2.4h-8zM163.7 514.2h8v2.4h-8zM164.2 516.6h8v2.4h-8zM160.7 490.2h8v2.4h-8zM167.4 535.8h8v2.4h-8zM165.4 519h8v2.4h-8zM168.3 538.2h8v2.4h-8zM171 555h8v2.4h-8zM166.2 521.4h8v2.4h-8zM166.7 523.8h8v2.4h-8zM167.5 528.6h8v2.4h-8zM168.2 531h8v2.4h-8zM163.5 492.6h8v2.4h-8zM164.6 495h8v2.4h-8zM165 497.4h8v2.4h-8zM170.2 533.4h8v2.4h-8zM171.7 540.6h8v2.4h-8zM172.1 543h8v2.4h-8zM172.6 545.4h8v2.4h-8zM174.5 557.4h8v2.4h-8zM174.9 559.8h8v2.4h-8zM166.4 499.8h8v2.4h-8zM167 502.2h8v2.4h-8zM174 547.8h8v2.4h-8zM168.5 504.6h8v2.4h-8zM169.5 507h8v2.4h-8zM175.9 550.2h8v2.4h-8zM176.3 552.6h8v2.4h-8zM170.4 509.4h8v2.4h-8zM172.1 511.8h8v2.4h-8zM172.9 514.2h8v2.4h-8zM170.4 490.2h8v2.4h-8zM174.3 516.6h8v2.4h-8zM175 519h8v2.4h-8zM175.4 521.4h8v2.4h-8zM175.9 523.8h8v2.4h-8zM176.3 526.2h8v2.4h-8zM172.3 492.6h8v2.4h-8zM177.7 528.6h8v2.4h-8zM173.6 495h8v2.4h-8zM174 497.4h8v2.4h-8zM179.3 531h8v2.4h-8zM176.3 499.8h8v2.4h-8zM177 502.2h8v2.4h-8zM177.6 504.6h8v2.4h-8zM178.4 507h8v2.4h-8zM182.5 533.4h8v2.4h-8zM179.9 509.4h8v2.4h-8zM184 535.8h8v2.4h-8zM184.4 538.2h8v2.4h-8zM181 511.8h8v2.4h-8zM182.5 514.2h8v2.4h-8zM180.4 490.2h8v2.4h-8zM182.6 492.6h8v2.4h-8zM183.2 495h8v2.4h-8zM183.7 497.4h8v2.4h-8zM185.6 499.8h8v2.4h-8zM186.6 502.2h8v2.4h-8zM187.5 504.6h8v2.4h-8zM189.6 507h8v2.4h-8zM190.2 509.4h8v2.4h-8zM190.6 511.8h8v2.4h-8zM191.3 514.2h8v2.4h-8zM191.8 516.6h8v2.4h-8zM192.2 519h8v2.4h-8zM189.9 490.2h8v2.4h-8zM195.1 521.4h8v2.4h-8zM195.7 523.8h8v2.4h-8zM192.4 492.6h8v2.4h-8zM195.3 495h8v2.4h-8zM196 497.4h8v2.4h-8zM196.7 499.8h8v2.4h-8zM197.1 502.2h8v2.4h-8zM197.6 504.6h8v2.4h-8zM200.9 526.2h8v2.4h-8zM198.7 507h8v2.4h-8zM199.3 509.4h8v2.4h-8zM199.7 511.8h8v2.4h-8zM200.2 514.2h8v2.4h-8zM200.6 516.6h8v2.4h-8zM201.5 519h8v2.4h-8zM203.8 528.6h8v2.4h-8zM204.5 531h8v2.4h-8zM198.7 490.2h8v2.4h-8zM204.2 521.4h8v2.4h-8zM204.7 523.8h8v2.4h-8zM206.2 533.4h8v2.4h-8zM206.6 535.8h8v2.4h-8zM207.6 538.2h8v2.4h-8zM201.8 492.6h8v2.4h-8zM209.4 540.6h8v2.4h-8zM209.8 543h8v2.4h-8zM210.7 545.4h8v2.4h-8zM211.5 547.8h8v2.4h-8zM211.9 550.2h8v2.4h-8zM204.1 495h8v2.4h-8zM212.7 552.6h8v2.4h-8zM205 497.4h8v2.4h-8zM205.5 499.8h8v2.4h-8zM206.4 502.2h8v2.4h-8zM206.9 504.6h8v2.4h-8zM210 526.2h8v2.4h-8zM214.3 555h8v2.4h-8zM207.5 507h8v2.4h-8zM214.9 557.4h8v2.4h-8zM215.3 559.8h8v2.4h-8zM208.1 509.4h8v2.4h-8zM208.5 511.8h8v2.4h-8zM209 514.2h8v2.4h-8zM216 562.2h8v2.4h-8zM209.7 516.6h8v2.4h-8zM210.4 519h8v2.4h-8zM217.2 564.6h8v2.4h-8zM217.7 567h8v2.4h-8zM212.5 528.6h8v2.4h-8zM218.5 569.4h8v2.4h-8zM218.9 571.8h8v2.4h-8zM219.5 574.2h8v2.4h-8zM207.6 490.2h8v2.4h-8zM213.6 531h8v2.4h-8zM220.5 576.6h8v2.4h-8zM221 579h8v2.4h-8zM213.4 521.4h8v2.4h-8zM213.8 523.8h8v2.4h-8zM215.6 533.4h8v2.4h-8zM210.6 492.6h8v2.4h-8zM217 535.8h8v2.4h-8zM217.9 538.2h8v2.4h-8zM218.3 540.6h8v2.4h-8zM219.3 543h8v2.4h-8zM220.1 545.4h8v2.4h-8zM220.5 547.8h8v2.4h-8zM213 495h8v2.4h-8zM221.3 550.2h8v2.4h-8zM214.1 497.4h8v2.4h-8zM214.5 499.8h8v2.4h-8zM222.2 552.6h8v2.4h-8zM215.6 502.2h8v2.4h-8zM217 504.6h8v2.4h-8zM217.9 507h8v2.4h-8zM218.5 509.4h8v2.4h-8zM219.1 511.8h8v2.4h-8zM219.5 514.2h8v2.4h-8zM219.9 516.6h8v2.4h-8zM220.4 519h8v2.4h-8zM216.4 490.2h8v2.4h-8zM221.6 526.2h8v2.4h-8zM222.3 521.4h8v2.4h-8zM222.8 523.8h8v2.4h-8zM223.6 528.6h8v2.4h-8zM224 531h8v2.4h-8zM219.9 492.6h8v2.4h-8zM226.3 533.4h8v2.4h-8zM226.8 535.8h8v2.4h-8zM227.6 538.2h8v2.4h-8zM228.1 540.6h8v2.4h-8zM222.1 495h8v2.4h-8zM223.1 497.4h8v2.4h-8zM223.6 499.8h8v2.4h-8zM230.1 543h8v2.4h-8zM224.4 502.2h8v2.4h-8zM230.9 545.4h8v2.4h-8zM231.9 547.8h8v2.4h-8zM232.2 550.2h8v2.4h-8zM226.2 504.6h8v2.4h-8zM227 507h8v2.4h-8zM227.6 509.4h8v2.4h-8zM225.1 490.2h8v2.4h-8zM228.5 511.8h8v2.4h-8zM229.3 514.2h8v2.4h-8zM229.9 516.6h8v2.4h-8zM230.6 519h8v2.4h-8zM231.3 521.4h8v2.4h-8zM231.7 523.8h8v2.4h-8zM232.1 526.2h8v2.4h-8zM232.5 528.6h8v2.4h-8zM233.2 531h8v2.4h-8zM237 552.6h8v2.4h-8zM237.7 555h8v2.4h-8zM229.7 492.6h8v2.4h-8zM235.6 533.4h8v2.4h-8zM236.1 535.8h8v2.4h-8zM230.9 495h8v2.4h-8zM237.4 538.2h8v2.4h-8zM237.9 540.6h8v2.4h-8zM240.5 557.4h8v2.4h-8zM232.1 497.4h8v2.4h-8zM232.5 499.8h8v2.4h-8zM238.8 543h8v2.4h-8zM233.3 502.2h8v2.4h-8zM239.6 545.4h8v2.4h-8zM242 559.8h8v2.4h-8zM240.6 547.8h8v2.4h-8zM241.3 550.2h8v2.4h-8zM235.3 504.6h8v2.4h-8zM243.7 562.2h8v2.4h-8zM236.1 507h8v2.4h-8zM236.5 509.4h8v2.4h-8zM244.7 564.6h8v2.4h-8zM234.4 490.2h8v2.4h-8zM237.5 511.8h8v2.4h-8zM238.3 514.2h8v2.4h-8zM239.5 516.6h8v2.4h-8zM239.9 519h8v2.4h-8zM241 521.4h8v2.4h-8zM241.6 523.8h8v2.4h-8zM242.1 526.2h8v2.4h-8zM242.7 528.6h8v2.4h-8zM238.4 492.6h8v2.4h-8zM244.1 531h8v2.4h-8zM244.7 533.4h8v2.4h-8zM241.7 495h8v2.4h-8zM242.6 497.4h8v2.4h-8zM243.1 499.8h8v2.4h-8zM244.2 502.2h8v2.4h-8zM244.9 504.6h8v2.4h-8zM243.1 490.2h8v2.4h-8zM247.2 507h8v2.4h-8zM248.1 492.6h8v2.4h-8zM251.5 509.4h8v2.4h-8zM252.6 511.8h8v2.4h-8zM253.4 490.2h8v2.4h-8zM254.1 495h8v2.4h-8zM255.2 497.4h8v2.4h-8zM256.9 499.8h8v2.4h-8zM257.6 502.2h8v2.4h-8zM258.3 504.6h8v2.4h-8zM257.1 492.6h8v2.4h-8zM259.4 507h8v2.4h-8zM260.6 514.2h8v2.4h-8zM261.2 516.6h8v2.4h-8zM261.2 509.4h8v2.4h-8zM261.8 511.8h8v2.4h-8zM263.1 519h8v2.4h-8zM265 521.4h8v2.4h-8zM265.6 523.8h8v2.4h-8zM262.2 490.2h8v2.4h-8zM263.1 495h8v2.4h-8zM264.5 497.4h8v2.4h-8zM266.5 499.8h8v2.4h-8zM266.8 492.6h8v2.4h-8zM268.2 502.2h8v2.4h-8zM270 504.6h8v2.4h-8zM271.9 507h8v2.4h-8zM272.6 509.4h8v2.4h-8zM273 511.8h8v2.4h-8zM273.5 514.2h8v2.4h-8zM274.7 516.6h8v2.4h-8zM275.1 519h8v2.4h-8zM271.4 490.2h8v2.4h-8zM272.7 495h8v2.4h-8zM274.9 497.4h8v2.4h-8zM275.3 499.8h8v2.4h-8zM279.4 521.4h8v2.4h-8zM276.3 492.6h8v2.4h-8zM278.2 502.2h8v2.4h-8zM278.9 504.6h8v2.4h-8zM283.1 523.8h8v2.4h-8zM280.8 507h8v2.4h-8zM281.8 509.4h8v2.4h-8zM282.8 511.8h8v2.4h-8zM283.4 514.2h8v2.4h-8zM280.6 490.2h8v2.4h-8zM282 495h8v2.4h-8zM285.7 516.6h8v2.4h-8zM286.3 519h8v2.4h-8zM284.1 497.4h8v2.4h-8zM284.7 499.8h8v2.4h-8zM288.7 526.2h8v2.4h-8zM289.2 528.6h8v2.4h-8zM285.2 492.6h8v2.4h-8zM289.7 521.4h8v2.4h-8zM287.5 502.2h8v2.4h-8zM287.9 504.6h8v2.4h-8zM291.9 531h8v2.4h-8zM289.7 507h8v2.4h-8zM291.8 509.4h8v2.4h-8zM290.1 490.2h8v2.4h-8zM291.2 495h8v2.4h-8zM294.1 511.8h8v2.4h-8zM293.7 497.4h8v2.4h-8zM294.5 499.8h8v2.4h-8zM294.9 492.6h8v2.4h-8zM297.3 502.2h8v2.4h-8zM297.7 504.6h8v2.4h-8zM299.3 514.2h8v2.4h-8zM298.8 507h8v2.4h-8zM300.2 516.6h8v2.4h-8zM300.4 490.2h8v2.4h-8zM301.2 495h8v2.4h-8zM303.3 509.4h8v2.4h-8zM303.6 497.4h8v2.4h-8zM304.3 499.8h8v2.4h-8zM306.3 511.8h8v2.4h-8zM304.7 492.6h8v2.4h-8zM307 502.2h8v2.4h-8zM307.6 504.6h8v2.4h-8zM308.5 507h8v2.4h-8zM309.6 514.2h8v2.4h-8zM309.9 516.6h8v2.4h-8zM310.8 519h8v2.4h-8zM311.9 521.4h8v2.4h-8zM313 523.8h8v2.4h-8zM313.7 526.2h8v2.4h-8zM314.6 528.6h8v2.4h-8zM309.5 490.2h8v2.4h-8zM310.6 495h8v2.4h-8zM313 509.4h8v2.4h-8zM313.7 497.4h8v2.4h-8zM314.5 499.8h8v2.4h-8zM313.8 492.6h8v2.4h-8zM316.7 502.2h8v2.4h-8zM317.5 504.6h8v2.4h-8zM318.1 507h8v2.4h-8zM319 511.8h8v2.4h-8zM320 514.2h8v2.4h-8zM320.4 516.6h8v2.4h-8zM318.7 490.2h8v2.4h-8zM319.5 495h8v2.4h-8zM322.9 492.6h8v2.4h-8zM323.8 497.4h8v2.4h-8zM327.3 499.8h8v2.4h-8zM327.8 502.2h8v2.4h-8zM328.3 504.6h8v2.4h-8zM328.8 507h8v2.4h-8zM329.2 509.4h8v2.4h-8zM330.6 490.2h8v2.4h-8zM331.6 495h8v2.4h-8zM332.2 492.6h8v2.4h-8zM333.4 497.4h8v2.4h-8zM335.6 511.8h8v2.4h-8zM336.4 514.2h8v2.4h-8zM337.6 516.6h8v2.4h-8zM338.1 519h8v2.4h-8zM338.7 521.4h8v2.4h-8zM339.3 523.8h8v2.4h-8zM337 499.8h8v2.4h-8zM337.3 502.2h8v2.4h-8zM338.4 504.6h8v2.4h-8zM339.4 507h8v2.4h-8zM341.2 509.4h8v2.4h-8zM343.7 526.2h8v2.4h-8zM344.5 528.6h8v2.4h-8zM340.7 490.2h8v2.4h-8zM342.8 492.6h8v2.4h-8zM345.5 495h8v2.4h-8zM346.2 497.4h8v2.4h-8zM347.1 499.8h8v2.4h-8zM350.5 502.2h8v2.4h-8zM351.4 504.6h8v2.4h-8zM349.6 490.2h8v2.4h-8zM352.3 507h8v2.4h-8zM353 509.4h8v2.4h-8zM351.9 492.6h8v2.4h-8zM356.1 511.8h8v2.4h-8zM354.5 495h8v2.4h-8zM355.5 497.4h8v2.4h-8zM356.4 499.8h8v2.4h-8zM359 514.2h8v2.4h-8zM360.6 516.6h8v2.4h-8zM361.4 519h8v2.4h-8zM358.9 490.2h8v2.4h-8zM362 502.2h8v2.4h-8zM360.8 492.6h8v2.4h-8zM362.6 504.6h8v2.4h-8zM363.2 507h8v2.4h-8zM363.8 509.4h8v2.4h-8zM365.7 521.4h8v2.4h-8zM365.2 511.8h8v2.4h-8zM367.4 523.8h8v2.4h-8zM364.1 495h8v2.4h-8zM365.2 497.4h8v2.4h-8zM365.9 499.8h8v2.4h-8zM368.1 514.2h8v2.4h-8zM371 516.6h8v2.4h-8zM371.4 519h8v2.4h-8zM369.5 490.2h8v2.4h-8zM370.4 492.6h8v2.4h-8zM372.3 502.2h8v2.4h-8zM372.8 504.6h8v2.4h-8zM374.3 507h8v2.4h-8zM373.6 495h8v2.4h-8zM375.2 497.4h8v2.4h-8zM375.9 499.8h8v2.4h-8zM377.6 509.4h8v2.4h-8zM378.6 511.8h8v2.4h-8zM379.1 514.2h8v2.4h-8zM379.8 516.6h8v2.4h-8zM380.9 519h8v2.4h-8zM381.3 521.4h8v2.4h-8zM382 523.8h8v2.4h-8zM382.8 526.2h8v2.4h-8zM383.2 528.6h8v2.4h-8zM383.7 531h8v2.4h-8zM384.1 533.4h8v2.4h-8zM384.7 535.8h8v2.4h-8zM379.5 490.2h8v2.4h-8zM380.2 492.6h8v2.4h-8zM382.4 502.2h8v2.4h-8zM382.9 504.6h8v2.4h-8zM382.6 495h8v2.4h-8zM384.6 507h8v2.4h-8zM385.4 497.4h8v2.4h-8zM386.3 499.8h8v2.4h-8zM387.9 509.4h8v2.4h-8zM388.4 511.8h8v2.4h-8zM389.1 514.2h8v2.4h-8zM389.6 516.6h8v2.4h-8zM390.2 519h8v2.4h-8zM391 521.4h8v2.4h-8zM391.7 523.8h8v2.4h-8zM392.1 526.2h8v2.4h-8zM392.8 528.6h8v2.4h-8zM393.7 531h8v2.4h-8zM388.5 490.2h8v2.4h-8zM394.8 533.4h8v2.4h-8zM389.8 492.6h8v2.4h-8zM391.2 502.2h8v2.4h-8zM396.2 535.8h8v2.4h-8zM391.4 495h8v2.4h-8zM393.1 504.6h8v2.4h-8zM394.1 507h8v2.4h-8zM400 538.2h8v2.4h-8zM395.6 497.4h8v2.4h-8zM396.2 499.8h8v2.4h-8zM397.6 509.4h8v2.4h-8zM398.2 511.8h8v2.4h-8zM398.7 514.2h8v2.4h-8zM399.1 516.6h8v2.4h-8zM399.5 519h8v2.4h-8zM399.9 521.4h8v2.4h-8zM400.7 523.8h8v2.4h-8zM401.1 526.2h8v2.4h-8zM403.2 540.6h8v2.4h-8zM397.2 490.2h8v2.4h-8zM403 528.6h8v2.4h-8zM404.1 531h8v2.4h-8zM399.7 492.6h8v2.4h-8zM400.3 495h8v2.4h-8zM402 502.2h8v2.4h-8zM402.5 504.6h8v2.4h-8zM403.4 507h8v2.4h-8zM407.3 533.4h8v2.4h-8zM407.7 535.8h8v2.4h-8zM408.8 543h8v2.4h-8zM409.4 545.4h8v2.4h-8zM409 538.2h8v2.4h-8zM410.7 547.8h8v2.4h-8zM411.7 550.2h8v2.4h-8zM404.5 497.4h8v2.4h-8zM405.3 499.8h8v2.4h-8zM408 509.4h8v2.4h-8zM408.6 511.8h8v2.4h-8zM409 514.2h8v2.4h-8zM409.8 516.6h8v2.4h-8zM406.3 490.2h8v2.4h-8zM411.1 519h8v2.4h-8zM412.5 521.4h8v2.4h-8zM412.9 523.8h8v2.4h-8zM408.6 492.6h8v2.4h-8zM409.3 495h8v2.4h-8zM410.8 502.2h8v2.4h-8zM413 504.6h8v2.4h-8zM413.6 507h8v2.4h-8zM413.3 497.4h8v2.4h-8zM414.4 499.8h8v2.4h-8zM418.6 526.2h8v2.4h-8zM419.4 528.6h8v2.4h-8zM419.7 531h8v2.4h-8zM420.1 533.4h8v2.4h-8zM417.2 509.4h8v2.4h-8zM417.8 511.8h8v2.4h-8zM418.3 514.2h8v2.4h-8zM416.2 490.2h8v2.4h-8zM420.7 516.6h8v2.4h-8zM417.6 492.6h8v2.4h-8zM421.5 519h8v2.4h-8zM419.2 495h8v2.4h-8zM420.8 502.2h8v2.4h-8zM424.2 521.4h8v2.4h-8zM422 504.6h8v2.4h-8zM423.1 507h8v2.4h-8zM423.1 497.4h8v2.4h-8zM424.3 499.8h8v2.4h-8zM426 509.4h8v2.4h-8zM427.3 511.8h8v2.4h-8zM428.1 514.2h8v2.4h-8zM426.3 490.2h8v2.4h-8zM426.9 492.6h8v2.4h-8zM428.4 495h8v2.4h-8zM429.6 502.2h8v2.4h-8zM431.4 504.6h8v2.4h-8zM432 497.4h8v2.4h-8zM434.1 507h8v2.4h-8zM433.3 499.8h8v2.4h-8zM434.9 509.4h8v2.4h-8zM436 516.6h8v2.4h-8zM437.1 519h8v2.4h-8zM437.8 511.8h8v2.4h-8zM436.7 490.2h8v2.4h-8zM437.7 492.6h8v2.4h-8zM442.5 495h8v2.4h-8zM444.3 497.4h8v2.4h-8zM447.2 490.2h8v2.4h-8zM448.9 492.6h8v2.4h-8zM450.1 499.8h8v2.4h-8zM451.5 502.2h8v2.4h-8zM451.3 495h8v2.4h-8zM453.3 497.4h8v2.4h-8zM455.1 504.6h8v2.4h-8zM457.1 507h8v2.4h-8zM456.8 490.2h8v2.4h-8zM458.3 492.6h8v2.4h-8zM460 499.8h8v2.4h-8zM460.4 495h8v2.4h-8zM461.6 502.2h8v2.4h-8zM463.5 509.4h8v2.4h-8zM463.8 511.8h8v2.4h-8zM462.4 497.4h8v2.4h-8zM467.3 504.6h8v2.4h-8zM467.9 507h8v2.4h-8zM465.7 490.2h8v2.4h-8zM467.1 492.6h8v2.4h-8zM469.7 499.8h8v2.4h-8zM469.3 495h8v2.4h-8zM471.4 497.4h8v2.4h-8zM473.8 502.2h8v2.4h-8zM475.3 509.4h8v2.4h-8zM475.7 511.8h8v2.4h-8zM477.3 514.2h8v2.4h-8zM475 490.2h8v2.4h-8zM476.8 492.6h8v2.4h-8zM478.8 504.6h8v2.4h-8zM479.9 495h8v2.4h-8zM481.5 497.4h8v2.4h-8zM484.2 499.8h8v2.4h-8zM483.9 490.2h8v2.4h-8zM486.7 492.6h8v2.4h-8zM488.1 502.2h8v2.4h-8zM488.7 504.6h8v2.4h-8zM489.1 507h8v2.4h-8zM490.1 509.4h8v2.4h-8zM490.7 511.8h8v2.4h-8zM491.4 495h8v2.4h-8zM492.7 490.2h8v2.4h-8zM495.9 492.6h8v2.4h-8zM497.5 497.4h8v2.4h-8zM499.5 499.8h8v2.4h-8zM500.7 502.2h8v2.4h-8zM501.2 504.6h8v2.4h-8zM500.4 495h8v2.4h-8zM503.5 507h8v2.4h-8zM501.6 490.2h8v2.4h-8zM504.5 509.4h8v2.4h-8zM504.8 511.8h8v2.4h-8zM506.1 514.2h8v2.4h-8zM507.3 516.6h8v2.4h-8zM507.8 519h8v2.4h-8zM508.4 521.4h8v2.4h-8zM508.9 523.8h8v2.4h-8zM505.6 492.6h8v2.4h-8zM509.2 497.4h8v2.4h-8zM509.6 495h8v2.4h-8zM510.6 499.8h8v2.4h-8zM511.5 502.2h8v2.4h-8zM510.6 490.2h8v2.4h-8zM515 504.6h8v2.4h-8zM515.5 507h8v2.4h-8zM514.6 492.6h8v2.4h-8zM517.8 509.4h8v2.4h-8zM518.5 511.8h8v2.4h-8zM519.1 514.2h8v2.4h-8zM520.3 516.6h8v2.4h-8zM520.7 519h8v2.4h-8zM517.9 497.4h8v2.4h-8zM518.7 495h8v2.4h-8zM520 499.8h8v2.4h-8zM520.7 502.2h8v2.4h-8zM523.8 521.4h8v2.4h-8zM524.2 523.8h8v2.4h-8zM520.4 490.2h8v2.4h-8zM525.8 526.2h8v2.4h-8zM527.2 528.6h8v2.4h-8zM524.2 504.6h8v2.4h-8zM524.9 507h8v2.4h-8zM528.5 531h8v2.4h-8zM529 533.4h8v2.4h-8zM529.6 535.8h8v2.4h-8zM523.7 492.6h8v2.4h-8zM530.3 538.2h8v2.4h-8zM530.7 540.6h8v2.4h-8zM531.3 543h8v2.4h-8zM531.8 545.4h8v2.4h-8zM526.6 509.4h8v2.4h-8zM532.2 547.8h8v2.4h-8zM527.4 511.8h8v2.4h-8zM528.2 514.2h8v2.4h-8zM529.5 516.6h8v2.4h-8zM527.3 497.4h8v2.4h-8zM527.6 495h8v2.4h-8zM531.5 519h8v2.4h-8zM529.4 490.2h8v2.4h-8zM530.9 499.8h8v2.4h-8zM532.5 502.2h8v2.4h-8zM535.3 521.4h8v2.4h-8zM533.9 504.6h8v2.4h-8zM532.5 492.6h8v2.4h-8zM535.1 507h8v2.4h-8zM535.7 509.4h8v2.4h-8zM536.3 511.8h8v2.4h-8zM537.3 514.2h8v2.4h-8zM536.1 497.4h8v2.4h-8zM539.3 516.6h8v2.4h-8zM536.5 495h8v2.4h-8zM540.8 523.8h8v2.4h-8zM542 519h8v2.4h-8zM538.2 490.2h8v2.4h-8zM540.7 499.8h8v2.4h-8zM541.3 502.2h8v2.4h-8zM545 521.4h8v2.4h-8zM545.7 526.2h8v2.4h-8zM541.4 492.6h8v2.4h-8zM543.9 504.6h8v2.4h-8zM544.8 507h8v2.4h-8zM545 497.4h8v2.4h-8zM547.2 509.4h8v2.4h-8zM545.7 495h8v2.4h-8zM549.2 511.8h8v2.4h-8zM549.9 514.2h8v2.4h-8zM547.3 490.2h8v2.4h-8zM550.4 492.6h8v2.4h-8zM552.9 499.8h8v2.4h-8zM554 502.2h8v2.4h-8zM554.7 497.4h8v2.4h-8zM555.6 495h8v2.4h-8zM558.1 504.6h8v2.4h-8zM558.9 490.2h8v2.4h-8zM559.7 492.6h8v2.4h-8zM561.9 499.8h8v2.4h-8zM563 507h8v2.4h-8zM563.9 497.4h8v2.4h-8zM564.9 502.2h8v2.4h-8zM564.4 495h8v2.4h-8zM566.9 509.4h8v2.4h-8zM567.7 511.8h8v2.4h-8zM568 514.2h8v2.4h-8zM567.8 504.6h8v2.4h-8zM570 516.6h8v2.4h-8zM570.5 519h8v2.4h-8zM571.6 521.4h8v2.4h-8zM568 490.2h8v2.4h-8zM568.6 492.6h8v2.4h-8zM570.7 499.8h8v2.4h-8zM572 507h8v2.4h-8zM575.2 523.8h8v2.4h-8zM575.9 526.2h8v2.4h-8zM576.6 528.6h8v2.4h-8zM577.2 531h8v2.4h-8zM577.7 533.4h8v2.4h-8zM572.9 497.4h8v2.4h-8zM573.4 495h8v2.4h-8zM575.4 502.2h8v2.4h-8zM577.2 504.6h8v2.4h-8zM578.1 509.4h8v2.4h-8zM578.6 511.8h8v2.4h-8zM579.3 514.2h8v2.4h-8zM580.2 516.6h8v2.4h-8zM580.6 519h8v2.4h-8zM581.2 521.4h8v2.4h-8zM577.1 490.2h8v2.4h-8zM577.6 492.6h8v2.4h-8zM584.2 535.8h8v2.4h-8zM584.8 538.2h8v2.4h-8zM585.3 540.6h8v2.4h-8zM580 499.8h8v2.4h-8zM581.3 507h8v2.4h-8zM583.9 523.8h8v2.4h-8zM587 543h8v2.4h-8zM584.8 526.2h8v2.4h-8zM585.6 528.6h8v2.4h-8zM581.9 497.4h8v2.4h-8zM583.9 495h8v2.4h-8zM585 502.2h8v2.4h-8zM589.5 531h8v2.4h-8zM586 504.6h8v2.4h-8zM590.3 533.4h8v2.4h-8zM587.2 509.4h8v2.4h-8zM587.8 511.8h8v2.4h-8zM588.3 514.2h8v2.4h-8zM593 545.4h8v2.4h-8zM589 516.6h8v2.4h-8zM589.7 519h8v2.4h-8zM590.2 521.4h8v2.4h-8zM594 547.8h8v2.4h-8zM586.3 490.2h8v2.4h-8zM586.7 492.6h8v2.4h-8zM593.2 535.8h8v2.4h-8zM593.7 538.2h8v2.4h-8zM594.7 540.6h8v2.4h-8zM588.8 499.8h8v2.4h-8zM590.2 507h8v2.4h-8zM592.9 523.8h8v2.4h-8zM593.7 526.2h8v2.4h-8zM596.3 543h8v2.4h-8zM594.5 528.6h8v2.4h-8zM597.9 550.2h8v2.4h-8zM598.6 552.6h8v2.4h-8zM599.1 555h8v2.4h-8zM591.2 497.4h8v2.4h-8zM600.1 557.4h8v2.4h-8zM601 559.8h8v2.4h-8zM601.3 562.2h8v2.4h-8zM602 564.6h8v2.4h-8zM602.6 567h8v2.4h-8zM603.5 569.4h8v2.4h-8zM603.9 571.8h8v2.4h-8zM592.8 495h8v2.4h-8zM594.1 502.2h8v2.4h-8zM598.4 531h8v2.4h-8zM604.9 574.2h8v2.4h-8zM594.9 504.6h8v2.4h-8zM599.3 533.4h8v2.4h-8zM605.6 576.6h8v2.4h-8zM596.4 509.4h8v2.4h-8zM597 511.8h8v2.4h-8zM598.5 514.2h8v2.4h-8zM595.4 490.2h8v2.4h-8zM595.8 492.6h8v2.4h-8zM599.9 516.6h8v2.4h-8zM600.3 519h8v2.4h-8zM600.6 521.4h8v2.4h-8zM597.6 499.8h8v2.4h-8zM599.1 507h8v2.4h-8zM601.8 523.8h8v2.4h-8zM603.6 535.8h8v2.4h-8zM603.3 526.2h8v2.4h-8zM603.6 528.6h8v2.4h-8zM605 538.2h8v2.4h-8zM605.5 540.6h8v2.4h-8zM606.3 543h8v2.4h-8zM600.2 497.4h8v2.4h-8zM607.3 545.4h8v2.4h-8zM608.1 547.8h8v2.4h-8zM608.6 550.2h8v2.4h-8zM609.7 552.6h8v2.4h-8zM610.3 555h8v2.4h-8zM610.6 557.4h8v2.4h-8zM601.7 495h8v2.4h-8zM603.1 502.2h8v2.4h-8zM603.9 504.6h8v2.4h-8zM607.7 531h8v2.4h-8zM608.2 533.4h8v2.4h-8zM612.2 559.8h8v2.4h-8zM612.6 562.2h8v2.4h-8zM613 564.6h8v2.4h-8zM605.5 509.4h8v2.4h-8zM606.2 511.8h8v2.4h-8zM614.3 567h8v2.4h-8zM614.8 569.4h8v2.4h-8zM604.2 490.2h8v2.4h-8zM604.9 492.6h8v2.4h-8zM606.4 499.8h8v2.4h-8zM608.5 514.2h8v2.4h-8zM608.2 507h8v2.4h-8zM609.7 516.6h8v2.4h-8zM611.1 519h8v2.4h-8zM612.3 521.4h8v2.4h-8zM609.1 497.4h8v2.4h-8zM613.2 523.8h8v2.4h-8zM613.7 526.2h8v2.4h-8zM614.4 528.6h8v2.4h-8zM615.6 535.8h8v2.4h-8zM616.4 538.2h8v2.4h-8zM616.8 540.6h8v2.4h-8zM617.2 543h8v2.4h-8zM617.6 545.4h8v2.4h-8zM611 495h8v2.4h-8zM612.4 502.2h8v2.4h-8zM612.8 504.6h8v2.4h-8zM617.2 531h8v2.4h-8zM614.6 509.4h8v2.4h-8zM615.9 511.8h8v2.4h-8zM619.1 533.4h8v2.4h-8zM613.1 490.2h8v2.4h-8zM613.9 492.6h8v2.4h-8zM622.1 547.8h8v2.4h-8zM615.4 499.8h8v2.4h-8zM617.6 514.2h8v2.4h-8zM622.9 550.2h8v2.4h-8zM623.3 552.6h8v2.4h-8zM617.5 507h8v2.4h-8zM619.2 516.6h8v2.4h-8zM624.8 555h8v2.4h-8zM619.9 519h8v2.4h-8zM625.9 557.4h8v2.4h-8zM626.3 559.8h8v2.4h-8zM621.3 521.4h8v2.4h-8zM617.9 497.4h8v2.4h-8zM627.3 562.2h8v2.4h-8zM622.2 523.8h8v2.4h-8zM622.9 526.2h8v2.4h-8zM623.7 528.6h8v2.4h-8zM624.7 535.8h8v2.4h-8zM625.8 538.2h8v2.4h-8zM626.2 540.6h8v2.4h-8zM626.6 543h8v2.4h-8zM619.8 495h8v2.4h-8zM627.4 545.4h8v2.4h-8zM621.7 502.2h8v2.4h-8zM622.2 504.6h8v2.4h-8zM623.3 509.4h8v2.4h-8zM626.7 531h8v2.4h-8zM631.7 564.6h8v2.4h-8zM632.3 567h8v2.4h-8zM632.7 569.4h8v2.4h-8zM624.9 511.8h8v2.4h-8zM622.5 490.2h8v2.4h-8zM622.9 492.6h8v2.4h-8zM624.5 499.8h8v2.4h-8zM627 514.2h8v2.4h-8zM626.3 507h8v2.4h-8zM630.3 533.4h8v2.4h-8zM628.9 516.6h8v2.4h-8zM629.5 519h8v2.4h-8zM633.8 547.8h8v2.4h-8zM634.1 550.2h8v2.4h-8zM626.8 497.4h8v2.4h-8zM630.4 521.4h8v2.4h-8zM635.1 552.6h8v2.4h-8zM635.4 555h8v2.4h-8zM635.8 557.4h8v2.4h-8zM631.3 523.8h8v2.4h-8zM631.8 526.2h8v2.4h-8zM632.8 528.6h8v2.4h-8zM633.9 535.8h8v2.4h-8zM634.6 538.2h8v2.4h-8zM628.7 495h8v2.4h-8zM635.3 540.6h8v2.4h-8zM635.8 543h8v2.4h-8zM636.3 545.4h8v2.4h-8zM630.6 502.2h8v2.4h-8zM631.6 504.6h8v2.4h-8zM632.4 509.4h8v2.4h-8zM635.7 531h8v2.4h-8zM640.5 559.8h8v2.4h-8zM640.9 562.2h8v2.4h-8zM631.3 490.2h8v2.4h-8zM632 492.6h8v2.4h-8zM634.9 511.8h8v2.4h-8zM633.8 499.8h8v2.4h-8zM635.9 514.2h8v2.4h-8zM636.1 507h8v2.4h-8zM640.1 533.4h8v2.4h-8zM637.8 516.6h8v2.4h-8zM644.9 564.6h8v2.4h-8zM638.2 519h8v2.4h-8zM636.1 497.4h8v2.4h-8zM639.8 521.4h8v2.4h-8zM640.2 523.8h8v2.4h-8zM640.6 526.2h8v2.4h-8zM643.9 547.8h8v2.4h-8zM644.3 550.2h8v2.4h-8zM644.7 552.6h8v2.4h-8zM641.8 528.6h8v2.4h-8zM643.2 535.8h8v2.4h-8zM637.6 495h8v2.4h-8zM644.1 538.2h8v2.4h-8zM639.5 502.2h8v2.4h-8zM645.2 540.6h8v2.4h-8zM645.6 543h8v2.4h-8zM646.1 545.4h8v2.4h-8zM640.4 504.6h8v2.4h-8zM641.2 509.4h8v2.4h-8zM644.7 531h8v2.4h-8zM648.2 555h8v2.4h-8zM648.7 557.4h8v2.4h-8zM650.2 567h6.8v2.4h-6.8zM649.3 559.8h7.7v2.4h-7.7zM649.7 562.2h7.3v2.4h-7.3zM650.9 569.4h6.1v2.4h-6.1zM651.8 571.8h5.2v2.4h-5.2zM652.2 574.2h4.8v2.4h-4.8zM640.7 490.2h8v2.4h-8zM641.1 492.6h8v2.4h-8zM643.9 511.8h8v2.4h-8zM653.3 576.6h3.7v2.4h-3.7zM642.6 499.8h8v2.4h-8zM644.7 514.2h8v2.4h-8zM654.3 579h2.7v2.4h-2.7zM654.8 581.4h2.2v2.4h-2.2zM655.3 583.8h1.7v2.4h-1.7zM656 586.2h1v2.4h-1zM656.5 588.6h0.5v2.4h-0.5zM656.9 591h0.1v2.4h-0.1zM645 507h8v2.4h-8zM647 516.6h8v2.4h-8zM646.4 497.4h8v2.4h-8zM649.7 519h7.3v2.4h-7.3zM650.1 521.4h6.9v2.4h-6.9zM650.5 523.8h6.5v2.4h-6.5zM646.4 495h8v2.4h-8zM651.5 526.2h5.5v2.4h-5.5zM648.5 502.2h8v2.4h-8zM652.5 528.6h4.5v2.4h-4.5zM649.3 504.6h7.7v2.4h-7.7zM650.2 509.4h6.8v2.4h-6.8zM653.8 533.4h3.2v2.4h-3.2zM653.5 531h3.5v2.4h-3.5zM654.2 535.8h2.8v2.4h-2.8zM655.1 538.2h1.9v2.4h-1.9zM655.8 540.6h1.2v2.4h-1.2zM656.3 543h0.7v2.4h-0.7zM649.6 490.2h7.4v2.4h-7.4zM650 492.6h7v2.4h-7zM653 511.8h4v2.4h-4zM651.4 499.8h5.6v2.4h-5.6zM653.9 514.2h3.1v2.4h-3.1zM654.8 507h2.2v2.4h-2.2zM656.2 516.6h0.8v2.4h-0.8zM655.3 495h1.7v2.4h-1.7zM655.7 497.4h1.3v2.4h-1.3z" stroke="none" stroke-width="1" fill="#c6c6c6"/>
<path d="M55.2 545.7h1v1.8h-1zM55.1 504.9h3.5v1.8h-3.5zM59.1 521.7h0.8v1.8h-0.8zM58.2 533.7h3.5v1.8h-3.5zM59.7 536.1h1v1.8h-1zM61 502.5h1v1.8h-1zM65.7 512.1h1.2v1.8h-1.2zM61.7 490.5h1.2v1.8h-1.2zM75.1 548.1h1.2v1.8h-1.2zM74.8 560.1h1v1.8h-1zM77.8 564.9h1v1.8h-1zM75.3 516.9h3.5v1.8h-3.5zM73.5 519.3h1.6v1.8h-1.6zM80.4 533.7h3.5v1.8h-3.5zM74.8 502.5h1.6v1.8h-1.6zM87.8 545.7h1v1.8h-1zM83.1 500.1h2.2v1.8h-2.2zM90.7 512.1h2.2v1.8h-2.2zM91.4 512.1h1.6v1.8h-1.6zM100.6 557.7h1.6v1.8h-1.6zM104.5 584.1h1.2v1.8h-1.2zM105.1 593.7h1.2v1.8h-1.2zM96.3 507.3h1.2v1.8h-1.2zM109 569.7h1.6v1.8h-1.6zM106.6 545.7h1v1.8h-1zM100.4 521.7h1.6v1.8h-1.6zM105.3 497.7h1.2v1.8h-1.2zM114.3 557.7h1.6v1.8h-1.6zM115 562.5h1.6v1.8h-1.6zM110.6 524.1h1v1.8h-1zM108.3 490.5h2.2v1.8h-2.2zM109.8 495.3h1v1.8h-1zM110.2 495.3h1.6v1.8h-1.6zM117.5 509.7h3.5v1.8h-3.5zM119.1 492.9h3.5v1.8h-3.5zM139.6 528.9h1.6v1.8h-1.6zM143.6 531.3h1.6v1.8h-1.6zM148.7 519.3h1.6v1.8h-1.6zM148.4 524.1h1v1.8h-1zM177 555.3h0.8v1.8h-0.8zM171.6 528.9h2.2v1.8h-2.2zM183.9 531.3h1v1.8h-1zM187.1 533.7h1.6v1.8h-1.6zM189 538.5h1.6v1.8h-1.6zM185.3 512.1h0.8v1.8h-0.8zM186.1 490.5h0.8v1.8h-0.8zM193.3 512.1h3.5v1.8h-3.5zM199.7 502.5h2.2v1.8h-2.2zM205.1 519.3h1.2v1.8h-1.2zM225.3 574.5h1.6v1.8h-1.6zM213.4 492.9h0.8v1.8h-0.8zM225 509.7h1v1.8h-1zM226 490.5h1.6v1.8h-1.6zM240 552.9h3.5v1.8h-3.5zM238.1 507.3h0.8v1.8h-0.8zM250.4 533.7h1.2v1.8h-1.2zM266.2 512.1h1.6v1.8h-1.6zM266.8 512.1h1.2v1.8h-1.2zM276.1 509.7h3.5v1.8h-3.5zM272.7 509.7h0.8v1.8h-0.8zM273.1 495.3h1v1.8h-1zM287.8 524.1h1v1.8h-1zM284.1 507.3h1v1.8h-1zM288.7 495.3h1v1.8h-1zM290.2 528.9h1.6v1.8h-1.6zM305.5 497.7h1.2v1.8h-1.2zM307 497.7h3.5v1.8h-3.5zM324 512.1h1v1.8h-1zM334.9 492.9h1v1.8h-1zM341.3 516.9h3.5v1.8h-3.5zM339.1 504.9h1.6v1.8h-1.6zM343 507.3h0.8v1.8h-0.8zM386.7 526.5h2.2v1.8h-2.2zM415.8 550.5h1.6v1.8h-1.6zM415.9 507.3h3.5v1.8h-3.5zM421.4 526.5h1.6v1.8h-1.6zM418.9 509.7h1v1.8h-1zM420.9 512.1h3.5v1.8h-3.5zM420.3 512.1h0.8v1.8h-0.8zM419.6 514.5h2.2v1.8h-2.2zM424.9 516.9h3.5v1.8h-3.5zM422.1 502.5h3.5v1.8h-3.5zM426.3 497.7h0.8v1.8h-0.8zM429.3 514.5h1v1.8h-1zM441.3 490.5h1.2v1.8h-1.2zM453.3 495.3h0.8v1.8h-0.8zM512.3 495.3h1.6v1.8h-1.6zM520 512.1h1.2v1.8h-1.2zM521.7 519.3h3.5v1.8h-3.5zM524.8 502.5h1v1.8h-1zM533.2 516.9h3.5v1.8h-3.5zM535.9 504.9h1.2v1.8h-1.2zM542.7 519.3h3.5v1.8h-3.5zM561.2 495.3h1v1.8h-1zM571.9 512.1h3.5v1.8h-3.5zM568.5 490.5h1.6v1.8h-1.6zM573.2 507.3h1.6v1.8h-1.6zM581.6 492.9h3.5v1.8h-3.5zM582.4 507.3h1.2v1.8h-1.2zM587.1 507.3h1v1.8h-1zM587.4 528.9h2.2v1.8h-2.2zM589.5 504.9h0.8v1.8h-0.8zM602.6 557.7h2.2v1.8h-2.2zM608.2 569.7h1.2v1.8h-1.2zM609.3 574.5h0.8v1.8h-0.8zM602.8 497.7h2.2v1.8h-2.2zM612.5 552.9h3.5v1.8h-3.5zM610.4 509.7h2.2v1.8h-2.2zM608.9 490.5h0.8v1.8h-0.8zM615.7 524.1h2.2v1.8h-2.2zM614.6 524.1h1.2v1.8h-1.2zM618.7 536.1h0.8v1.8h-0.8zM622.9 531.3h1v1.8h-1zM618.3 514.5h3.5v1.8h-3.5zM630.7 560.1h1.6v1.8h-1.6zM621.1 497.7h0.8v1.8h-0.8zM626.5 524.1h2.2v1.8h-2.2zM631.3 524.1h1.2v1.8h-1.2zM629.2 495.3h1.2v1.8h-1.2zM636.8 543.3h3.5v1.8h-3.5zM641.5 562.5h1.2v1.8h-1.2zM649 550.5h1v1.8h-1zM653.5 560.1h1v1.8h-1zM646.3 492.9h0.8v1.8h-0.8zM654.3 579.3h3.5v1.8h-3.5zM654.4 579.3h1v1.8h-1zM651.4 509.7h0.8v1.8h-0.8z" stroke="none" stroke-width="1" fill="#3b4fc4"/>
<path d="M55.4 550.5h3.5v1.8h-3.5zM62.6 538.5h1v1.8h-1zM68 497.7h3.5v1.8h-3.5zM73.7 552.9h0.8v1.8h-0.8zM79 526.5h1.2v1.8h-1.2zM80.6 531.3h1v1.8h-1zM82.3 531.3h1v1.8h-1zM80.2 536.1h1.2v1.8h-1.2zM89.4 576.9h1.6v1.8h-1.6zM76.5 502.5h1.2v1.8h-1.2zM86.4 521.7h2.2v1.8h-2.2zM92 533.7h0.8v1.8h-0.8zM95.2 564.9h1v1.8h-1zM82.7 497.7h1v1.8h-1zM95.4 531.3h1.6v1.8h-1.6zM104.8 545.7h3.5v1.8h-3.5zM101.6 521.7h3.5v1.8h-3.5zM115.4 524.1h0.8v1.8h-0.8zM107.2 490.5h2.2v1.8h-2.2zM120.3 531.3h0.8v1.8h-0.8zM131.2 495.3h2.2v1.8h-2.2zM132.8 509.7h1v1.8h-1zM142.7 507.3h0.8v1.8h-0.8zM147.7 516.9h1.6v1.8h-1.6zM145.5 516.9h1.2v1.8h-1.2zM156 548.1h1.6v1.8h-1.6zM161.6 519.3h1v1.8h-1zM162.2 540.9h1v1.8h-1zM168.7 543.3h1v1.8h-1zM167.8 524.1h1.2v1.8h-1.2zM168 528.9h0.8v1.8h-0.8zM169.8 497.7h2.2v1.8h-2.2zM177 514.5h1.2v1.8h-1.2zM184.8 490.5h3.5v1.8h-3.5zM186.1 492.9h3.5v1.8h-3.5zM199.5 500.1h3.5v1.8h-3.5zM197.2 500.1h1v1.8h-1zM205.1 526.5h1.6v1.8h-1.6zM227.4 579.3h1v1.8h-1zM219.3 533.7h2.2v1.8h-2.2zM219.7 533.7h1.2v1.8h-1.2zM214.4 497.7h2.2v1.8h-2.2zM222.3 490.5h1v1.8h-1zM227.1 528.9h3.5v1.8h-3.5zM242.8 555.3h1v1.8h-1zM243 540.9h2.2v1.8h-2.2zM236.6 502.5h1v1.8h-1zM245.3 500.1h3.5v1.8h-3.5zM246.5 502.5h1.2v1.8h-1.2zM257.5 490.5h1.2v1.8h-1.2zM260.4 504.9h1.6v1.8h-1.6zM274.5 507.3h0.8v1.8h-0.8zM277.7 509.7h0.8v1.8h-0.8zM276.9 514.5h1.6v1.8h-1.6zM287.6 524.1h0.8v1.8h-0.8zM293 490.5h2.2v1.8h-2.2zM301.1 490.5h3.5v1.8h-3.5zM319.1 512.1h2.2v1.8h-2.2zM326.7 514.5h1.2v1.8h-1.2zM339.7 502.5h3.5v1.8h-3.5zM342.2 490.5h1.6v1.8h-1.6zM365.9 512.1h3.5v1.8h-3.5zM373.8 519.3h1v1.8h-1zM387.1 519.3h1.2v1.8h-1.2zM384.3 524.1h3.5v1.8h-3.5zM396.3 504.9h2.2v1.8h-2.2zM403 526.5h1v1.8h-1zM404.7 526.5h1.2v1.8h-1.2zM404 492.9h1.2v1.8h-1.2zM408.9 504.9h1v1.8h-1zM411.1 533.7h3.5v1.8h-3.5zM437.7 507.3h3.5v1.8h-3.5zM443.7 490.5h0.8v1.8h-0.8zM454.4 492.9h2.2v1.8h-2.2zM469.9 512.1h1v1.8h-1zM466.9 497.7h3.5v1.8h-3.5zM472.7 495.3h1v1.8h-1zM477.4 509.7h3.5v1.8h-3.5zM478.2 492.9h1v1.8h-1zM486.5 490.5h1.2v1.8h-1.2zM518.8 492.9h2.2v1.8h-2.2zM524.8 512.1h0.8v1.8h-0.8zM527.3 502.5h1.2v1.8h-1.2zM526 504.9h3.5v1.8h-3.5zM534.6 516.9h1v1.8h-1zM529.8 495.3h1.6v1.8h-1.6zM538.8 521.7h0.8v1.8h-0.8zM536.7 504.9h1.6v1.8h-1.6zM538.4 514.5h2.2v1.8h-2.2zM540.1 497.7h3.5v1.8h-3.5zM571.7 519.3h3.5v1.8h-3.5zM578.5 504.9h1.6v1.8h-1.6zM582.4 507.3h0.8v1.8h-0.8zM587.3 509.7h1.2v1.8h-1.2zM592.4 516.9h1.2v1.8h-1.2zM594.2 538.5h1.2v1.8h-1.2zM601 528.9h1.2v1.8h-1.2zM598.8 528.9h1v1.8h-1zM603.2 550.5h1v1.8h-1zM596 492.9h2.2v1.8h-2.2zM609.1 504.9h1.2v1.8h-1.2zM609.5 514.5h1.6v1.8h-1.6zM615.6 526.5h1v1.8h-1zM616.7 538.5h1v1.8h-1zM619.8 490.5h0.8v1.8h-0.8zM624 521.7h0.8v1.8h-0.8zM635.7 500.1h2.2v1.8h-2.2zM655.6 579.3h1.2v1.8h-1.2zM656.9 591.3h1.2v1.8h-1.2zM655 528.9h0.8v1.8h-0.8z" stroke="none" stroke-width="1" fill="#e0402f"/>
<path d="M55.1 504.9h1.6v1.8h-1.6zM55.2 509.7h3.5v1.8h-3.5zM64.4 538.5h1.2v1.8h-1.2zM66.1 519.3h0.8v1.8h-0.8zM77.4 557.7h0.8v1.8h-0.8zM78.7 560.1h1v1.8h-1zM72.5 519.3h1v1.8h-1zM80.4 526.5h1v1.8h-1zM81.2 538.5h1v1.8h-1zM78.5 502.5h0.8v1.8h-0.8zM82.4 540.9h1.2v1.8h-1.2zM82 516.9h3.5v1.8h-3.5zM86.7 524.1h1v1.8h-1zM96 552.9h1.2v1.8h-1.2zM96.8 526.5h1.2v1.8h-1.2zM96.4 528.9h1.2v1.8h-1.2zM90.5 495.3h3.5v1.8h-3.5zM106.7 569.7h1v1.8h-1zM104.3 545.7h3.5v1.8h-3.5zM98.1 516.9h1.6v1.8h-1.6zM102.5 521.7h1.6v1.8h-1.6zM106.6 514.5h0.8v1.8h-0.8zM111 524.1h3.5v1.8h-3.5zM118.8 509.7h2.2v1.8h-2.2zM128.1 531.3h2.2v1.8h-2.2zM126.1 490.5h1.6v1.8h-1.6zM132.8 502.5h1.2v1.8h-1.2zM143.5 519.3h1v1.8h-1zM143.9 509.7h1v1.8h-1zM161.2 536.1h1.2v1.8h-1.2zM165.6 512.1h0.8v1.8h-0.8zM174.5 555.3h0.8v1.8h-0.8zM172.3 528.9h1.2v1.8h-1.2zM168 497.7h3.5v1.8h-3.5zM177 545.7h2.2v1.8h-2.2zM173.5 545.7h3.5v1.8h-3.5zM179.5 519.3h1.2v1.8h-1.2zM182.2 526.5h1v1.8h-1zM174.6 492.9h3.5v1.8h-3.5zM181 500.1h1v1.8h-1zM185.8 533.7h1.6v1.8h-1.6zM186.8 533.7h3.5v1.8h-3.5zM185.8 490.5h1.2v1.8h-1.2zM190.8 490.5h1.2v1.8h-1.2zM223.5 548.1h1.6v1.8h-1.6zM227.8 528.9h0.8v1.8h-0.8zM230.5 504.9h0.8v1.8h-0.8zM228 490.5h3.5v1.8h-3.5zM238.8 490.5h3.5v1.8h-3.5zM240.3 490.5h1.6v1.8h-1.6zM250.5 533.7h1v1.8h-1zM253.7 512.1h1v1.8h-1zM258.1 490.5h2.2v1.8h-2.2zM257.4 492.9h2.2v1.8h-2.2zM263.1 516.9h1.6v1.8h-1.6zM262.6 490.5h3.5v1.8h-3.5zM263 490.5h0.8v1.8h-0.8zM270.7 504.9h0.8v1.8h-0.8zM293.7 528.9h1v1.8h-1zM314.9 519.3h1v1.8h-1zM334.3 492.9h2.2v1.8h-2.2zM334.7 492.9h0.8v1.8h-0.8zM341.8 514.5h1.6v1.8h-1.6zM347.9 526.5h1.2v1.8h-1.2zM356.5 495.3h3.5v1.8h-3.5zM360.7 514.5h2.2v1.8h-2.2zM365.6 516.9h2.2v1.8h-2.2zM376.7 516.9h1v1.8h-1zM381.2 519.3h1v1.8h-1zM383.1 524.1h1.6v1.8h-1.6zM381.6 490.5h1.2v1.8h-1.2zM385.6 504.9h0.8v1.8h-0.8zM386 507.3h1.2v1.8h-1.2zM392.5 500.1h1v1.8h-1zM396.4 507.3h2.2v1.8h-2.2zM400.6 500.1h3.5v1.8h-3.5zM401.2 524.1h1v1.8h-1zM403.3 504.9h3.5v1.8h-3.5zM404 507.3h3.5v1.8h-3.5zM418.8 521.7h0.8v1.8h-0.8zM419.5 497.7h1.6v1.8h-1.6zM420.2 490.5h2.2v1.8h-2.2zM425.1 504.9h3.5v1.8h-3.5zM426.1 509.7h3.5v1.8h-3.5zM429.7 512.1h1v1.8h-1zM433.3 514.5h0.8v1.8h-0.8zM452.8 492.9h1.6v1.8h-1.6zM457.1 502.5h1.2v1.8h-1.2zM473.9 497.7h0.8v1.8h-0.8zM484.2 514.5h1v1.8h-1zM481.1 492.9h0.8v1.8h-0.8zM479 504.9h3.5v1.8h-3.5zM492.3 492.9h1.2v1.8h-1.2zM526.3 490.5h1v1.8h-1zM535 516.9h2.2v1.8h-2.2zM537 502.5h1.2v1.8h-1.2zM537.6 495.3h1.2v1.8h-1.2zM563.5 500.1h0.8v1.8h-0.8zM572.8 500.1h1.6v1.8h-1.6zM598 545.7h1v1.8h-1zM604.7 504.9h1.6v1.8h-1.6zM607 504.9h0.8v1.8h-0.8zM611.1 514.5h0.8v1.8h-0.8zM626.5 550.5h2.2v1.8h-2.2zM636.2 533.7h0.8v1.8h-0.8zM638.4 555.3h3.5v1.8h-3.5zM637 524.1h1v1.8h-1zM634.1 526.5h0.8v1.8h-0.8zM639.7 540.9h0.8v1.8h-0.8zM641.1 562.5h1v1.8h-1zM642 526.5h0.8v1.8h-0.8zM647.9 550.5h1.2v1.8h-1.2zM640.7 495.3h1.6v1.8h-1.6zM648.4 555.3h2.2v1.8h-2.2zM649.9 562.5h3.5v1.8h-3.5zM654.8 528.9h1.6v1.8h-1.6zM651.4 504.9h1.6v1.8h-1.6zM654.5 512.1h1.2v1.8h-1.2z" stroke="none" stroke-width="1" fill="#d98a3c"/>
<path d="M55.8 516.9h0.8v1.8h-0.8zM57.6 531.3h1.6v1.8h-1.6zM65.9 512.1h2.2v1.8h-2.2zM67.8 502.5h0.8v1.8h-0.8zM93.5 531.3h1.2v1.8h-1.2zM108.2 569.7h3.5v1.8h-3.5zM100.6 497.7h0.8v1.8h-0.8zM130.6 502.5h1.6v1.8h-1.6zM132.6 507.3h3.5v1.8h-3.5zM134.1 509.7h1v1.8h-1zM140.7 526.5h1.2v1.8h-1.2zM146.1 490.5h1.6v1.8h-1.6zM168.5 543.3h1v1.8h-1zM160.1 504.9h1.6v1.8h-1.6zM171.1 531.3h3.5v1.8h-3.5zM173 540.9h3.5v1.8h-3.5zM178.2 514.5h0.8v1.8h-0.8zM181.3 500.1h1v1.8h-1zM208.6 519.3h0.8v1.8h-0.8zM208.8 536.1h1v1.8h-1zM211.7 538.5h1.6v1.8h-1.6zM223.9 548.1h3.5v1.8h-3.5zM227 528.9h2.2v1.8h-2.2zM228.8 500.1h0.8v1.8h-0.8zM234 524.1h0.8v1.8h-0.8zM260 502.5h1.2v1.8h-1.2zM276 507.3h2.2v1.8h-2.2zM294.7 528.9h1.6v1.8h-1.6zM307.6 512.1h1.2v1.8h-1.2zM308.2 504.9h1.6v1.8h-1.6zM318.3 497.7h0.8v1.8h-0.8zM338 512.1h0.8v1.8h-0.8zM347.5 490.5h0.8v1.8h-0.8zM364 507.3h3.5v1.8h-3.5zM371.8 500.1h0.8v1.8h-0.8zM401.6 526.5h2.2v1.8h-2.2zM408.2 507.3h1.2v1.8h-1.2zM412 514.5h1.6v1.8h-1.6zM423.4 516.9h1v1.8h-1zM424.1 516.9h1.2v1.8h-1.2zM417.9 492.9h1.2v1.8h-1.2zM424.5 502.5h1.2v1.8h-1.2zM470.2 512.1h0.8v1.8h-0.8zM471 500.1h1.2v1.8h-1.2zM511.1 492.9h1.2v1.8h-1.2zM519.7 497.7h3.5v1.8h-3.5zM523.6 500.1h3.5v1.8h-3.5zM521.9 502.5h1.6v1.8h-1.6zM564.9 502.5h0.8v1.8h-0.8zM580.1 533.7h1.6v1.8h-1.6zM587.2 521.7h0.8v1.8h-0.8zM584.4 500.1h0.8v1.8h-0.8zM592.9 509.7h2.2v1.8h-2.2zM594.6 521.7h3.5v1.8h-3.5zM610.3 543.3h3.5v1.8h-3.5zM613.7 514.5h0.8v1.8h-0.8zM625.5 552.9h0.8v1.8h-0.8zM630.7 533.7h3.5v1.8h-3.5zM641.5 526.5h1.6v1.8h-1.6zM647.7 543.3h2.2v1.8h-2.2zM650.6 567.3h1v1.8h-1zM655.8 495.3h1v1.8h-1z" stroke="none" stroke-width="1" fill="#3aa84a"/>
<path d="M58.8 531.3h2.2v1.8h-2.2zM55.9 500.1h2.2v1.8h-2.2zM68.8 536.1h3.5v1.8h-3.5zM72.7 514.5h1.2v1.8h-1.2zM94.6 543.3h2.2v1.8h-2.2zM101.5 519.3h2.2v1.8h-2.2zM112.9 555.3h2.2v1.8h-2.2zM122.1 492.9h1.2v1.8h-1.2zM121.7 497.7h1.6v1.8h-1.6zM125 504.9h1.2v1.8h-1.2zM130 492.9h1.6v1.8h-1.6zM136.9 550.5h3.5v1.8h-3.5zM161.4 528.9h1v1.8h-1zM170 543.3h0.8v1.8h-0.8zM160.7 500.1h1.6v1.8h-1.6zM173.6 545.7h1v1.8h-1zM178.5 552.9h3.5v1.8h-3.5zM183.1 507.3h0.8v1.8h-0.8zM207.4 536.1h0.8v1.8h-0.8zM210.2 538.5h1.6v1.8h-1.6zM215.5 543.3h0.8v1.8h-0.8zM210.6 495.3h1v1.8h-1zM215.1 552.9h1.6v1.8h-1.6zM221.1 579.3h3.5v1.8h-3.5zM243.9 519.3h2.2v1.8h-2.2zM250.7 507.3h2.2v1.8h-2.2zM250.6 507.3h3.5v1.8h-3.5zM255.7 512.1h1.6v1.8h-1.6zM263.8 516.9h1.2v1.8h-1.2zM299.6 500.1h2.2v1.8h-2.2zM305 500.1h1v1.8h-1zM310.4 514.5h1v1.8h-1zM329.2 504.9h3.5v1.8h-3.5zM369.8 512.1h1.6v1.8h-1.6zM380.9 492.9h1.6v1.8h-1.6zM390.5 490.5h2.2v1.8h-2.2zM414 519.3h1v1.8h-1zM414.4 507.3h1.2v1.8h-1.2zM422.2 490.5h1v1.8h-1zM423.8 495.3h1v1.8h-1zM476.1 509.7h0.8v1.8h-0.8zM479.4 514.5h1v1.8h-1zM501.3 500.1h3.5v1.8h-3.5zM501.2 502.5h2.2v1.8h-2.2zM511.7 497.7h0.8v1.8h-0.8zM510.2 497.7h2.2v1.8h-2.2zM512.7 495.3h1v1.8h-1zM515.2 492.9h2.2v1.8h-2.2zM519.5 509.7h2.2v1.8h-2.2zM520.7 516.9h0.8v1.8h-0.8zM523.2 490.5h0.8v1.8h-0.8zM564 490.5h1v1.8h-1zM583.1 509.7h1.2v1.8h-1.2zM589.1 509.7h1.2v1.8h-1.2zM605.5 557.7h1v1.8h-1zM604.7 562.5h0.8v1.8h-0.8zM607.9 574.5h0.8v1.8h-0.8zM607 526.5h2.2v1.8h-2.2zM619.7 536.1h3.5v1.8h-3.5zM619 536.1h0.8v1.8h-0.8zM622.4 531.3h1.6v1.8h-1.6zM622.8 548.1h3.5v1.8h-3.5zM629.1 560.1h3.5v1.8h-3.5zM639.6 552.9h2.2v1.8h-2.2zM634.4 492.9h1.6v1.8h-1.6zM641.3 497.7h2.2v1.8h-2.2zM647.7 509.7h1.2v1.8h-1.2zM655.1 562.5h1.6v1.8h-1.6zM653.8 562.5h0.8v1.8h-0.8zM649.2 502.5h1.2v1.8h-1.2zM653.5 512.1h0.8v1.8h-0.8z" stroke="none" stroke-width="1" fill="#8c56b0"/>
<path d="M84.1 548.1h7.6v1.8h-7.6zM90.1 562.5h7.6v1.8h-7.6zM83.7 502.5h7.6v1.8h-7.6zM92.3 545.7h7.6v1.8h-7.6zM89.2 516.9h7.6v1.8h-7.6zM95.2 555.3h7.6v1.8h-7.6zM91.3 497.7h7.6v1.8h-7.6zM102.8 567.3h7.6v1.8h-7.6zM99.9 543.3h7.6v1.8h-7.6zM100.6 524.1h7.6v1.8h-7.6zM100.9 526.5h7.6v1.8h-7.6zM104.6 509.7h7.6v1.8h-7.6zM113.6 507.3h7.6v1.8h-7.6zM115.7 512.1h7.6v1.8h-7.6zM147 536.1h7.6v1.8h-7.6zM147.3 538.5h7.6v1.8h-7.6zM147.8 540.9h7.6v1.8h-7.6zM149.4 528.9h7.6v1.8h-7.6zM150.3 531.3h7.6v1.8h-7.6zM151.2 533.7h7.6v1.8h-7.6zM154.1 514.5h7.6v1.8h-7.6zM154.7 516.9h7.6v1.8h-7.6zM158.4 538.5h7.6v1.8h-7.6zM157.5 521.7h7.6v1.8h-7.6zM166.9 552.9h7.6v1.8h-7.6z" stroke="none" stroke-width="1" fill="#3fb2ad"/>
<path d="M165.3 548.1h7.6v1.8h-7.6zM214.5 555.3h7.6v1.8h-7.6zM216.2 562.5h7.6v1.8h-7.6zM217.4 564.9h7.6v1.8h-7.6zM217.9 567.3h7.6v1.8h-7.6zM219.1 572.1h7.6v1.8h-7.6zM218.5 540.9h7.6v1.8h-7.6zM232.1 548.1h7.6v1.8h-7.6zM232.4 550.5h7.6v1.8h-7.6z" stroke="none" stroke-width="1" fill="#3aa845"/>
<path d="M212.1 550.5h7.6v1.8h-7.6zM215.1 557.7h7.6v1.8h-7.6zM215.5 560.1h7.6v1.8h-7.6zM218.7 569.7h7.6v1.8h-7.6zM213.6 521.7h7.6v1.8h-7.6zM217.2 536.1h7.6v1.8h-7.6zM218.1 538.5h7.6v1.8h-7.6zM219.5 543.3h7.6v1.8h-7.6zM220.3 545.7h7.6v1.8h-7.6zM213.2 495.3h7.6v1.8h-7.6zM214.7 500.1h7.6v1.8h-7.6zM222.4 552.9h7.6v1.8h-7.6zM219.3 512.1h7.6v1.8h-7.6zM220.6 519.3h7.6v1.8h-7.6zM221.8 526.5h7.6v1.8h-7.6zM224.2 531.3h7.6v1.8h-7.6zM223.3 497.7h7.6v1.8h-7.6zM224.6 502.5h7.6v1.8h-7.6zM227.2 507.3h7.6v1.8h-7.6zM227.8 509.7h7.6v1.8h-7.6zM230.1 516.9h7.6v1.8h-7.6zM232.7 528.9h7.6v1.8h-7.6zM235.8 533.7h7.6v1.8h-7.6zM231.1 495.3h7.6v1.8h-7.6zM232.7 500.1h7.6v1.8h-7.6zM594.9 540.9h7.6v1.8h-7.6zM599.3 555.3h7.6v1.8h-7.6zM601.2 560.1h7.6v1.8h-7.6zM602.8 567.3h7.6v1.8h-7.6zM598.6 531.3h7.6v1.8h-7.6zM595.1 504.9h7.6v1.8h-7.6zM598.7 514.5h7.6v1.8h-7.6zM600.8 521.7h7.6v1.8h-7.6zM597.8 500.1h7.6v1.8h-7.6zM603.8 536.1h7.6v1.8h-7.6zM608.3 548.1h7.6v1.8h-7.6zM603.3 502.5h7.6v1.8h-7.6zM607.9 531.3h7.6v1.8h-7.6zM613.2 564.9h7.6v1.8h-7.6zM617.4 543.3h7.6v1.8h-7.6zM619.3 533.7h7.6v1.8h-7.6zM615.6 500.1h7.6v1.8h-7.6zM620.1 519.3h7.6v1.8h-7.6zM626.1 557.7h7.6v1.8h-7.6zM623.1 526.5h7.6v1.8h-7.6zM623.9 528.9h7.6v1.8h-7.6zM624.9 536.1h7.6v1.8h-7.6zM623.5 509.7h7.6v1.8h-7.6zM627.2 514.5h7.6v1.8h-7.6zM630.6 521.7h7.6v1.8h-7.6zM631.8 504.9h7.6v1.8h-7.6zM632.6 509.7h7.6v1.8h-7.6zM640.7 560.1h7.6v1.8h-7.6zM636.1 514.5h7.6v1.8h-7.6zM638.4 519.3h7.6v1.8h-7.6zM640 521.7h7.6v1.8h-7.6zM644.9 552.9h7.6v1.8h-7.6zM645.2 507.3h7.6v1.8h-7.6z" stroke="none" stroke-width="1" fill="#3b4bc2"/>
<path d="M598.8 552.9h7.6v1.8h-7.6zM631.9 564.9h7.6v1.8h-7.6zM636.5 545.7h7.6v1.8h-7.6z" stroke="none" stroke-width="1" fill="#e04848"/>
</g>
<line x1="118.2" y1="478" x2="118.2" y2="560" stroke="#d08a4a" stroke-width="0.7"/>
<line x1="198.5" y1="476" x2="198.5" y2="540" stroke="#5060b8" stroke-width="0.7"/>
<line x1="300" y1="478" x2="300" y2="520" stroke="#e05050" stroke-width="0.7"/>
<line x1="432.1" y1="480" x2="432.1" y2="530" stroke="#e05050" stroke-width="0.7"/>
<line x1="553.5" y1="480" x2="553.5" y2="530" stroke="#d08a4a" stroke-width="0.7"/>
<rect x="56.1" y="594" width="599.9" height="1.6" fill="#c9c9c9"/>
<line x1="56.1" y1="601.2" x2="656" y2="601.2" stroke="#3c4aa8" stroke-width="0.8" opacity="0.8"/>
<path d="M60.1 601.2l-1.2 -0.9M60.1 601.2l-1.2 0.9M68.6 601.2l-1.2 -0.9M68.6 601.2l-1.2 0.9M77.1 601.2l-1.2 -0.9M77.1 601.2l-1.2 0.9M85.6 601.2l-1.2 -0.9M85.6 601.2l-1.2 0.9M94.1 601.2l-1.2 -0.9M94.1 601.2l-1.2 0.9M102.6 601.2l-1.2 -0.9M102.6 601.2l-1.2 0.9M111.1 601.2l-1.2 -0.9M111.1 601.2l-1.2 0.9M119.6 601.2l-1.2 -0.9M119.6 601.2l-1.2 0.9M128.1 601.2l-1.2 -0.9M128.1 601.2l-1.2 0.9M136.6 601.2l-1.2 -0.9M136.6 601.2l-1.2 0.9M145.1 601.2l-1.2 -0.9M145.1 601.2l-1.2 0.9M153.6 601.2l-1.2 -0.9M153.6 601.2l-1.2 0.9M162.1 601.2l-1.2 -0.9M162.1 601.2l-1.2 0.9M170.6 601.2l-1.2 -0.9M170.6 601.2l-1.2 0.9M179.1 601.2l-1.2 -0.9M179.1 601.2l-1.2 0.9M187.6 601.2l-1.2 -0.9M187.6 601.2l-1.2 0.9M196.1 601.2l-1.2 -0.9M196.1 601.2l-1.2 0.9M204.6 601.2l-1.2 -0.9M204.6 601.2l-1.2 0.9M213.1 601.2l-1.2 -0.9M213.1 601.2l-1.2 0.9M221.6 601.2l-1.2 -0.9M221.6 601.2l-1.2 0.9M230.1 601.2l-1.2 -0.9M230.1 601.2l-1.2 0.9M238.6 601.2l-1.2 -0.9M238.6 601.2l-1.2 0.9M247.1 601.2l-1.2 -0.9M247.1 601.2l-1.2 0.9M255.6 601.2l-1.2 -0.9M255.6 601.2l-1.2 0.9M264.1 601.2l-1.2 -0.9M264.1 601.2l-1.2 0.9M272.6 601.2l-1.2 -0.9M272.6 601.2l-1.2 0.9M281.1 601.2l-1.2 -0.9M281.1 601.2l-1.2 0.9M289.6 601.2l-1.2 -0.9M289.6 601.2l-1.2 0.9M298.1 601.2l-1.2 -0.9M298.1 601.2l-1.2 0.9M306.6 601.2l-1.2 -0.9M306.6 601.2l-1.2 0.9M315.1 601.2l-1.2 -0.9M315.1 601.2l-1.2 0.9M323.6 601.2l-1.2 -0.9M323.6 601.2l-1.2 0.9M332.1 601.2l-1.2 -0.9M332.1 601.2l-1.2 0.9M340.6 601.2l-1.2 -0.9M340.6 601.2l-1.2 0.9M349.1 601.2l-1.2 -0.9M349.1 601.2l-1.2 0.9M357.6 601.2l-1.2 -0.9M357.6 601.2l-1.2 0.9M366.1 601.2l-1.2 -0.9M366.1 601.2l-1.2 0.9M374.6 601.2l-1.2 -0.9M374.6 601.2l-1.2 0.9M383.1 601.2l-1.2 -0.9M383.1 601.2l-1.2 0.9M391.6 601.2l-1.2 -0.9M391.6 601.2l-1.2 0.9M400.1 601.2l-1.2 -0.9M400.1 601.2l-1.2 0.9M408.6 601.2l-1.2 -0.9M408.6 601.2l-1.2 0.9M417.1 601.2l-1.2 -0.9M417.1 601.2l-1.2 0.9M425.6 601.2l-1.2 -0.9M425.6 601.2l-1.2 0.9M434.1 601.2l-1.2 -0.9M434.1 601.2l-1.2 0.9M442.6 601.2l-1.2 -0.9M442.6 601.2l-1.2 0.9M451.1 601.2l-1.2 -0.9M451.1 601.2l-1.2 0.9M459.6 601.2l-1.2 -0.9M459.6 601.2l-1.2 0.9M468.1 601.2l-1.2 -0.9M468.1 601.2l-1.2 0.9M476.6 601.2l-1.2 -0.9M476.6 601.2l-1.2 0.9M485.1 601.2l-1.2 -0.9M485.1 601.2l-1.2 0.9M493.6 601.2l-1.2 -0.9M493.6 601.2l-1.2 0.9M502.1 601.2l-1.2 -0.9M502.1 601.2l-1.2 0.9M510.6 601.2l-1.2 -0.9M510.6 601.2l-1.2 0.9M519.1 601.2l-1.2 -0.9M519.1 601.2l-1.2 0.9M527.6 601.2l-1.2 -0.9M527.6 601.2l-1.2 0.9M536.1 601.2l-1.2 -0.9M536.1 601.2l-1.2 0.9M544.6 601.2l-1.2 -0.9M544.6 601.2l-1.2 0.9M553.1 601.2l-1.2 -0.9M553.1 601.2l-1.2 0.9M561.6 601.2l-1.2 -0.9M561.6 601.2l-1.2 0.9M570.1 601.2l-1.2 -0.9M570.1 601.2l-1.2 0.9M578.6 601.2l-1.2 -0.9M578.6 601.2l-1.2 0.9M587.1 601.2l-1.2 -0.9M587.1 601.2l-1.2 0.9M595.6 601.2l-1.2 -0.9M595.6 601.2l-1.2 0.9M604.1 601.2l-1.2 -0.9M604.1 601.2l-1.2 0.9M612.6 601.2l-1.2 -0.9M612.6 601.2l-1.2 0.9M621.1 601.2l-1.2 -0.9M621.1 601.2l-1.2 0.9M629.6 601.2l-1.2 -0.9M629.6 601.2l-1.2 0.9M638.1 601.2l-1.2 -0.9M638.1 601.2l-1.2 0.9M646.6 601.2l-1.2 -0.9M646.6 601.2l-1.2 0.9" stroke="#3c4aa8" stroke-width="0.5" fill="none" opacity="0.6"/>
<rect x="72.4" y="598.8" width="6.6" height="4.8" fill="#2e3a92"/>
<rect x="155" y="598.8" width="2.5" height="4.8" fill="#2e3a92"/>
<rect x="259.3" y="598.8" width="4.7" height="4.8" fill="#2e3a92"/>
<rect x="301" y="598.8" width="5" height="4.8" fill="#2e3a92"/>
<rect x="418.4" y="598.8" width="5.6" height="4.8" fill="#2e3a92"/>
<rect x="516.6" y="598.8" width="12.3" height="4.8" fill="#2e3a92"/>
<text x="337.4" y="617" font-size="9.3" fill="#333333" textLength="36.8" lengthAdjust="spacingAndGlyphs" font-style="italic">EFTUD2</text>
<text x="37.2" y="412.5" font-size="9.8" fill="#333333" textLength="49.3" lengthAdjust="spacingAndGlyphs" text-anchor="middle" transform="rotate(-90 37.2 412.5)">Long read</text>
<text x="37.2" y="540.8" font-size="9.8" fill="#333333" textLength="50.5" lengthAdjust="spacingAndGlyphs" text-anchor="middle" transform="rotate(-90 37.2 540.8)">Short read</text>
<text x="39.7" y="644.8" font-size="10.3" fill="#333333" textLength="119" lengthAdjust="spacingAndGlyphs">Unclassfied complex SVs</text>
<text x="558" y="645.2" font-size="8.6" fill="#231f20" textLength="86.7" lengthAdjust="spacingAndGlyphs">Dermatological disorders</text>
<rect x="157.9" y="653" width="255.4" height="7.9" fill="#ea3468"/>
<rect x="333.3" y="669.7" width="36.9" height="7.8" fill="#4a90d2"/>
<rect x="370.2" y="669.7" width="104.6" height="7.8" fill="#f7993b"/>
<rect x="474.8" y="669.7" width="25.2" height="7.8" fill="#4a90d2"/>
<text x="371.6" y="676.6" font-size="8.5" fill="#3b2a18">3′</text>
<text x="468.1" y="676.6" font-size="8.5" fill="#3b2a18">5′</text>
<path d="M38.1 752.4V719.8H39.8V717.8H41.5V718.9H43.2V724H44.9V727.1H46.6V713.5H48.3V719.6H50V725.2H51.7V727.4H53.4V723.9H55.1V725.1H56.8V724.3H58.5V721.6H60.2V712.2H61.9V725.9H63.6V720.9H65.3V726.3H67V732.3H68.7V732H70.4V726.1H72.1V726.5H73.8V725.7H75.5V720.1H77.2V725.4H78.9V723H80.6V733H82.3V720.5H84V730.8H85.7V732.6H87.4V729.4H89.1V725H90.8V721.3H92.5V720.6H94.2V721.8H95.9V716.4H97.6V714.9H99.3V710.4H101V716.3H102.7V720H104.4V716.7H106.1V719.5H107.8V719.7H109.5V722H111.2V724.4H112.9V727.3H114.6V712.6H116.3V719.3H118V724.7H119.7V721.6H121.4V719.6H123.1V728.6H124.8V727.7H126.5V729.4H128.2V726.9H129.9V729.7H131.6V712.8H133.3V719.8H135V724.3H136.7V726.7H138.4V726.8H140.1V722.7H141.8V726.9H143.5V722.3H145.2V723.5H146.9V725.8H148.6V729H150.3V728.6H152V720.3H153.7V713.1H155.4V720.4H157.1V720.1H158.8V715.7H160.5V708.3H162.2V702.5H163.9V698.1H165.6V702.2H167.3V697H169V709.7H170.7V715.1H172.4V709.6H174.1V707.4H175.8V708.9H177.5V707.6H179.2V704.3H180.9V701.4H182.6V699.6H184.3V693.9H186V694.9H187.7V699.9H189.4V708.3H191.1V699.6H192.8V703.6H194.5V704.3H196.2V705.5H197.9V704H199.6V700.5H201.3V708.2H203V709.4H204.7V700.5H206.4V703.1H208.1V705.3H209.8V707H211.5V708.9H213.2V707.7H214.9V702.6H216.6V712.4H218.3V711.5H220V709.1H221.7V708.4H223.4V709H225.1V708.7H226.8V701.3H228.5V695.2H230.2V694H231.9V701.2H233.6V699.8H235.3V706.3H237V710.4H238.7V708H240.4V700.6H242.1V703H243.8V700.4H245.5V703.3H247.2V694.7H248.9V700.9H250.6V703.6H252.3V708.1H254V711.6H255.7V712.5H257.4V709.7H259.1V708.8H260.8V697.1H262.5V704.7H264.2V710.6H265.9V702.4H267.6V698.8H269.3V704.9H271V708.4H272.7V703.8H274.4V700H276.1V702.2H277.8V708H279.5V701.8H281.2V703.2H282.9V709.6H284.6V711.5H286.3V706.7H288V698.3H289.7V690.4H291.4V691.5H293.1V703.6H294.8V702.8H296.5V703.6H298.2V703.7H299.9V701.4H301.6V707.9H303.3V704.2H305V706.7H306.7V698.2H308.4V697.6H310.1V702.3H311.8V706.5H313.5V710.7H315.2V707.8H316.9V710.8H318.6V704.5H320.3V703.8H322V702.6H323.7V700.2H325.4V700.5H327.1V696.9H328.8V708.4H330.5V697.3H332.2V701.8H333.9V697.2H335.6V715.1H337.3V704.1H339V702.6H340.7V693.5H342.4V687.5H344.1V697.4H345.8V710.8H347.5V704.2H349.2V693.4H350.9V691.2H352.6V700.3H354.3V702.3H356V697.9H357.7V702.6H359.4V695.1H361.1V695H362.8V694.7H364.5V702H366.2V700.7H367.9V697.1H369.6V706.5H371.3V706.8H373V705.9H374.7V710.2H376.4V704.6H378.1V703.2H379.8V705.9H381.5V703.9H383.2V708.2H384.9V699.1H386.6V702.6H388.3V697.1H390V702.8H391.7V699.7H393.4V687.4H395.1V686.4H396.8V698.6H398.5V689.9H400.2V692.2H401.9V683.4H403.6V682.1H405.3V690.6H407V694.3H408.7V701.8H410.4V703.3H412.1V698.3H413.8V708.1H415.5V725.8H417.2V720.7H418.9V715.6H420.6V722.8H422.3V718.3H424V716.5H425.7V712.6H427.4V710.8H429.1V704.1H430.8V708.6H432.5V710.4H434.2V712.6H435.9V716.6H437.6V715.5H439.3V711.6H441V707.4H442.7V714.1H444.4V715.4H446.1V712.9H447.8V717.2H449.5V712.8H451.2V719.9H452.9V705.2H454.6V711.2H456.3V717.6H458V719.6H459.7V718.4H461.4V715.8H463.1V718.8H464.8V714H466.5V708.7H468.2V714.1H469.9V713.2H471.6V712.4H473.3V711.3H475V712.3H476.7V719.1H478.4V724H480.1V726.2H481.8V727.1H483.5V730.9H485.2V732.4H486.9V731.1H488.6V731.9H490.3V728.1H492V731.6H493.7V732.9H495.4V726.8H497.1V717.9H498.8V716.1H500.5V708.8H502.2V715H503.9V725.7H505.6V718.1H507.3V724.3H509V718H510.7V715.9H512.4V697.6H514.1V709.5H515.8V710.8H517.5V707.8H519.2V712.7H520.9V706.4H522.6V710.8H524.3V711.6H526V713H527.7V711.8H529.4V717.7H531.1V719.4H532.8V717.5H534.5V713H536.2V711.1H537.9V709.7H539.6V710.6H541.3V714.1H543V711.1H544.7V708.6H546.4V710H548.1V711.2H549.8V706.5H551.5V714.6H553.2V709.1H554.9V711.7H556.6V710.8H558.3V719.6H560V716.1H561.7V709.6H563.4V713.9H565.1V720.2H566.8V717.3H568.5V714.3H570.2V722.4H571.9V718.6H573.6V724.5H575.3V724.3H577V720H578.7V716H580.4V713.8H582.1V712.6H583.8V711H585.5V720.9H587.2V717.5H588.9V721.6H590.6V718.8H592.3V714.2H594V697H595.7V704.6H597.4V708.2H599.1V717.1H600.8V717.7H602.5V723.9H604.2V725.5H605.9V711.4H607.6V712.3H609.3V714.2H611V719.4H612.7V717.3H614.4V718.8H616.1V714.3H617.8V714.8H619.5V714.4H621.2V714.5H622.9V717.2H624.6V719.6H626.3V721.6H628V719.3H629.7V724.9H631.4V723.3H632.3V752.4Z" stroke="none" stroke-width="1" fill="#ebebeb"/>
<path d="M38.1 719.8V719.8H39.8V717.8H41.5V718.9H43.2V724H44.9V727.1H46.6V713.5H48.3V719.6H50V725.2H51.7V727.4H53.4V723.9H55.1V725.1H56.8V724.3H58.5V721.6H60.2V712.2H61.9V725.9H63.6V720.9H65.3V726.3H67V732.3H68.7V732H70.4V726.1H72.1V726.5H73.8V725.7H75.5V720.1H77.2V725.4H78.9V723H80.6V733H82.3V720.5H84V730.8H85.7V732.6H87.4V729.4H89.1V725H90.8V721.3H92.5V720.6H94.2V721.8H95.9V716.4H97.6V714.9H99.3V710.4H101V716.3H102.7V720H104.4V716.7H106.1V719.5H107.8V719.7H109.5V722H111.2V724.4H112.9V727.3H114.6V712.6H116.3V719.3H118V724.7H119.7V721.6H121.4V719.6H123.1V728.6H124.8V727.7H126.5V729.4H128.2V726.9H129.9V729.7H131.6V712.8H133.3V719.8H135V724.3H136.7V726.7H138.4V726.8H140.1V722.7H141.8V726.9H143.5V722.3H145.2V723.5H146.9V725.8H148.6V729H150.3V728.6H152V720.3H153.7V713.1H155.4V720.4H157.1V720.1H158.8V715.7H160.5V708.3H162.2V702.5H163.9V698.1H165.6V702.2H167.3V697H169V709.7H170.7V715.1H172.4V709.6H174.1V707.4H175.8V708.9H177.5V707.6H179.2V704.3H180.9V701.4H182.6V699.6H184.3V693.9H186V694.9H187.7V699.9H189.4V708.3H191.1V699.6H192.8V703.6H194.5V704.3H196.2V705.5H197.9V704H199.6V700.5H201.3V708.2H203V709.4H204.7V700.5H206.4V703.1H208.1V705.3H209.8V707H211.5V708.9H213.2V707.7H214.9V702.6H216.6V712.4H218.3V711.5H220V709.1H221.7V708.4H223.4V709H225.1V708.7H226.8V701.3H228.5V695.2H230.2V694H231.9V701.2H233.6V699.8H235.3V706.3H237V710.4H238.7V708H240.4V700.6H242.1V703H243.8V700.4H245.5V703.3H247.2V694.7H248.9V700.9H250.6V703.6H252.3V708.1H254V711.6H255.7V712.5H257.4V709.7H259.1V708.8H260.8V697.1H262.5V704.7H264.2V710.6H265.9V702.4H267.6V698.8H269.3V704.9H271V708.4H272.7V703.8H274.4V700H276.1V702.2H277.8V708H279.5V701.8H281.2V703.2H282.9V709.6H284.6V711.5H286.3V706.7H288V698.3H289.7V690.4H291.4V691.5H293.1V703.6H294.8V702.8H296.5V703.6H298.2V703.7H299.9V701.4H301.6V707.9H303.3V704.2H305V706.7H306.7V698.2H308.4V697.6H310.1V702.3H311.8V706.5H313.5V710.7H315.2V707.8H316.9V710.8H318.6V704.5H320.3V703.8H322V702.6H323.7V700.2H325.4V700.5H327.1V696.9H328.8V708.4H330.5V697.3H332.2V701.8H333.9V697.2H335.6V715.1H337.3V704.1H339V702.6H340.7V693.5H342.4V687.5H344.1V697.4H345.8V710.8H347.5V704.2H349.2V693.4H350.9V691.2H352.6V700.3H354.3V702.3H356V697.9H357.7V702.6H359.4V695.1H361.1V695H362.8V694.7H364.5V702H366.2V700.7H367.9V697.1H369.6V706.5H371.3V706.8H373V705.9H374.7V710.2H376.4V704.6H378.1V703.2H379.8V705.9H381.5V703.9H383.2V708.2H384.9V699.1H386.6V702.6H388.3V697.1H390V702.8H391.7V699.7H393.4V687.4H395.1V686.4H396.8V698.6H398.5V689.9H400.2V692.2H401.9V683.4H403.6V682.1H405.3V690.6H407V694.3H408.7V701.8H410.4V703.3H412.1V698.3H413.8V708.1H415.5V725.8H417.2V720.7H418.9V715.6H420.6V722.8H422.3V718.3H424V716.5H425.7V712.6H427.4V710.8H429.1V704.1H430.8V708.6H432.5V710.4H434.2V712.6H435.9V716.6H437.6V715.5H439.3V711.6H441V707.4H442.7V714.1H444.4V715.4H446.1V712.9H447.8V717.2H449.5V712.8H451.2V719.9H452.9V705.2H454.6V711.2H456.3V717.6H458V719.6H459.7V718.4H461.4V715.8H463.1V718.8H464.8V714H466.5V708.7H468.2V714.1H469.9V713.2H471.6V712.4H473.3V711.3H475V712.3H476.7V719.1H478.4V724H480.1V726.2H481.8V727.1H483.5V730.9H485.2V732.4H486.9V731.1H488.6V731.9H490.3V728.1H492V731.6H493.7V732.9H495.4V726.8H497.1V717.9H498.8V716.1H500.5V708.8H502.2V715H503.9V725.7H505.6V718.1H507.3V724.3H509V718H510.7V715.9H512.4V697.6H514.1V709.5H515.8V710.8H517.5V707.8H519.2V712.7H520.9V706.4H522.6V710.8H524.3V711.6H526V713H527.7V711.8H529.4V717.7H531.1V719.4H532.8V717.5H534.5V713H536.2V711.1H537.9V709.7H539.6V710.6H541.3V714.1H543V711.1H544.7V708.6H546.4V710H548.1V711.2H549.8V706.5H551.5V714.6H553.2V709.1H554.9V711.7H556.6V710.8H558.3V719.6H560V716.1H561.7V709.6H563.4V713.9H565.1V720.2H566.8V717.3H568.5V714.3H570.2V722.4H571.9V718.6H573.6V724.5H575.3V724.3H577V720H578.7V716H580.4V713.8H582.1V712.6H583.8V711H585.5V720.9H587.2V717.5H588.9V721.6H590.6V718.8H592.3V714.2H594V697H595.7V704.6H597.4V708.2H599.1V717.1H600.8V717.7H602.5V723.9H604.2V725.5H605.9V711.4H607.6V712.3H609.3V714.2H611V719.4H612.7V717.3H614.4V718.8H616.1V714.3H617.8V714.8H619.5V714.4H621.2V714.5H622.9V717.2H624.6V719.6H626.3V721.6H628V719.3H629.7V724.9H631.4V723.3H632.3" stroke="#d2d2d2" stroke-width="0.75" fill="none"/>
<path d="M74.3 725.7V744.9M93 720.6V732.9M115.1 712.6V733.7M145.7 723.5V750.4M295.3 702.8V717.5M395.6 686.4V715.5M546.9 710V729.8M552 714.6V738M620 714.4V724.4M484 731V744M488 731V742" stroke="#d4d4d4" stroke-width="0.7" fill="none"/>
<text x="407" y="761.9" font-size="9.3" fill="#333333" textLength="19" lengthAdjust="spacingAndGlyphs" font-style="italic">EDA</text>
<rect x="430.5" y="756" width="164.2" height="4.5" fill="#3d4aa8"/>
<text x="53.5" y="786.3" font-size="11.5" fill="#333333" textLength="22.5" lengthAdjust="spacingAndGlyphs">chrX</text>
<text x="138" y="775.1" font-size="10" fill="#ea3468" textLength="28" lengthAdjust="spacingAndGlyphs">661kb</text>
<text x="346.9" y="775.3" font-size="10" fill="#4a90d2" textLength="22.1" lengthAdjust="spacingAndGlyphs">80kb</text>
<text x="439" y="775.3" font-size="10" fill="#f7993b" textLength="28.8" lengthAdjust="spacingAndGlyphs">298kb</text>
<text x="544.2" y="775.3" font-size="10" fill="#4a90d2" textLength="21.9" lengthAdjust="spacingAndGlyphs">42kb</text>
<rect x="96.2" y="779.3" width="109.8" height="8" fill="#ea3468"/>
<path d="M150.6 779L157.1 779L153.9 787.6L147.4 787.6Z" stroke="none" stroke-width="1" fill="#ffffff"/>
<line x1="151" y1="777.8" x2="147.2" y2="788.8" stroke="#444" stroke-width="0.7"/>
<line x1="157.5" y1="777.8" x2="153.7" y2="788.8" stroke="#444" stroke-width="0.7"/>
<rect x="303.3" y="779.3" width="100.4" height="8" fill="#4a90d2"/>
<rect x="403.7" y="779.3" width="88.9" height="8" fill="#f7993b"/>
<rect x="492.6" y="779.3" width="119.1" height="8" fill="#4a90d2"/>
<path d="M359 779L366.9 779L363.7 787.6L355.8 787.6Z" stroke="none" stroke-width="1" fill="#ffffff"/>
<line x1="359.4" y1="777.8" x2="355.6" y2="788.8" stroke="#444" stroke-width="0.7"/>
<line x1="367.3" y1="777.8" x2="363.5" y2="788.8" stroke="#444" stroke-width="0.7"/>
<path d="M451.4 779L459.1 779L455.9 787.6L448.2 787.6Z" stroke="none" stroke-width="1" fill="#ffffff"/>
<line x1="451.8" y1="777.8" x2="448" y2="788.8" stroke="#444" stroke-width="0.7"/>
<line x1="459.5" y1="777.8" x2="455.7" y2="788.8" stroke="#444" stroke-width="0.7"/>
<path d="M558 779L566.2 779L563 787.6L554.8 787.6Z" stroke="none" stroke-width="1" fill="#ffffff"/>
<line x1="558.4" y1="777.8" x2="554.6" y2="788.8" stroke="#444" stroke-width="0.7"/>
<line x1="566.6" y1="777.8" x2="562.8" y2="788.8" stroke="#444" stroke-width="0.7"/>
<text x="409.3" y="786.2" font-size="9" fill="#3b2a18">3′</text>
<text x="484.4" y="786.2" font-size="9" fill="#3b2a18">5′</text>
<line x1="48" y1="795.3" x2="143.5" y2="795.3" stroke="#8a8a8a" stroke-width="1"/>
<line x1="48" y1="797.8" x2="143.5" y2="797.8" stroke="#d5d5d5" stroke-width="0.8"/>
<path d="M48 807.4V802.3H95.2V800.1H143.5V807.4Z" stroke="none" stroke-width="1" fill="#b0b0b0"/>
<path d="M51.1 808.3h3.6l-1.8 2.5zM123.4 808.3h3.6l-1.8 2.5z" stroke="none" stroke-width="1" fill="#6f4fb5"/>
<rect x="48" y="810.2" width="95.5" height="38.4" fill="#c6c6c6"/>
<rect x="48" y="848.6" width="95.5" height="34.7" fill="#f9f9fa"/>
<line x1="48" y1="861.4" x2="143.5" y2="861.4" stroke="#e4e4e6" stroke-width="0.7"/>
<rect x="65" y="819.5" width="7" height="1.3" fill="#ffffff"/>
<rect x="75" y="818.2" width="8" height="1.4" fill="#ffffff"/>
<rect x="90" y="824.2" width="37" height="1.4" fill="#ffffff"/>
<rect x="130" y="848" width="13.5" height="1.5" fill="#ffffff"/>
<rect x="48" y="811.4" width="47" height="1.8" fill="url(#rb2)"/>
<rect x="48" y="815" width="47" height="2.4" fill="url(#rb2)"/>
<rect x="48" y="831.4" width="47" height="1.8" fill="url(#rb2)"/>
<rect x="48" y="834.2" width="47" height="2" fill="url(#rb2)"/>
<rect x="48" y="837.4" width="47" height="1.8" fill="url(#rb2)"/>
<rect x="48" y="841" width="47" height="2.4" fill="url(#rb2)"/>
<rect x="48" y="844.4" width="47" height="2.2" fill="url(#rb2)"/>
<rect x="48" y="883.3" width="95.5" height="1.7" fill="#b9b9b9"/>
<line x1="85.6" y1="800" x2="85.6" y2="830" stroke="#e07060" stroke-width="0.6" stroke-dasharray="2,2" opacity="0.7"/>
<line x1="155.5" y1="795.3" x2="244" y2="795.3" stroke="#8a8a8a" stroke-width="1"/>
<line x1="155.5" y1="797.8" x2="244" y2="797.8" stroke="#d5d5d5" stroke-width="0.8"/>
<path d="M155.5 807.4V799.5H205.5V801H244V807.4Z" stroke="none" stroke-width="1" fill="#b0b0b0"/>
<path d="M203.7 808.3h3.6l-1.8 2.5zM236.7 808.3h3.6l-1.8 2.5zM241.2 808.3h3.6l-1.8 2.5z" stroke="none" stroke-width="1" fill="#6f4fb5"/>
<rect x="155.5" y="810.2" width="88.5" height="49.8" fill="#c6c6c6"/>
<rect x="155.5" y="860" width="88.5" height="23.3" fill="#f9f9fa"/>
<rect x="155.5" y="862.2" width="88.5" height="1.2" fill="#c6c6c6"/>
<rect x="155.5" y="864.8" width="88.5" height="2.8" fill="#c6c6c6"/>
<rect x="155.5" y="869" width="88.5" height="2.4" fill="#c6c6c6"/>
<rect x="155.5" y="874.2" width="88.5" height="9.1" fill="#c6c6c6"/>
<rect x="155.5" y="827.6" width="88.5" height="1.2" fill="#ffffff"/>
<rect x="155.5" y="832" width="88.5" height="1.2" fill="#ffffff"/>
<rect x="223" y="857.4" width="21" height="1.2" fill="#ffffff"/>
<rect x="205.5" y="823.6" width="38.5" height="1.8" fill="url(#rb2)"/>
<rect x="205.5" y="825.9" width="38.5" height="0.9" fill="url(#rb2)"/>
<rect x="205.5" y="829.6" width="38.5" height="1.2" fill="url(#rb2)"/>
<rect x="205.5" y="835.8" width="38.5" height="2.8" fill="url(#rb2)"/>
<rect x="205.5" y="848.6" width="38.5" height="1.2" fill="url(#rb2)"/>
<rect x="205.5" y="874.8" width="38.5" height="1.2" fill="url(#rb2)"/>
<rect x="215" y="877.7" width="29" height="1.2" fill="url(#rb2)"/>
<rect x="205.5" y="880" width="38.5" height="1.2" fill="url(#rb2)"/>
<path d="M200.4 800V807M200.4 811V860" stroke="#d8a070" stroke-width="0.8" fill="none" stroke-dasharray="2,2"/>
<rect x="155.5" y="883.3" width="88.5" height="1.7" fill="#b9b9b9"/>
<line x1="273" y1="795.3" x2="353.5" y2="795.3" stroke="#8a8a8a" stroke-width="1"/>
<line x1="273" y1="797.8" x2="353.5" y2="797.8" stroke="#d5d5d5" stroke-width="0.8"/>
<path d="M273 807.4V799.5H304.5V802H353.5V807.4Z" stroke="none" stroke-width="1" fill="#b0b0b0"/>
<path d="M284.2 808.3h3.6l-1.8 2.5zM302.7 808.3h3.6l-1.8 2.5zM311 808.3h3.6l-1.8 2.5zM318 808.3h3.6l-1.8 2.5zM341.2 808.3h3.6l-1.8 2.5zM346 808.3h3.6l-1.8 2.5z" stroke="none" stroke-width="1" fill="#6f4fb5"/>
<rect x="273" y="810.2" width="80.5" height="66.5" fill="#c6c6c6"/>
<rect x="273" y="876.7" width="80.5" height="6.6" fill="#f9f9fa"/>
<rect x="298" y="816" width="26" height="1.2" fill="#ffffff"/>
<rect x="273" y="846.3" width="80.5" height="1.2" fill="#ffffff"/>
<rect x="277" y="857.6" width="76.5" height="1.2" fill="#ffffff"/>
<rect x="294" y="862.1" width="23" height="1.2" fill="#ffffff"/>
<rect x="273" y="865.8" width="80.5" height="1.2" fill="#ffffff"/>
<rect x="273" y="873" width="80.5" height="1.2" fill="#ffffff"/>
<rect x="304.5" y="812.5" width="49" height="3" fill="url(#rb2)"/>
<rect x="304.5" y="820" width="49" height="1.4" fill="url(#rb2)"/>
<rect x="304.5" y="823.5" width="49" height="1.4" fill="url(#rb2)"/>
<rect x="304.5" y="825.7" width="49" height="1.2" fill="url(#rb2)"/>
<rect x="304.5" y="828.4" width="49" height="1.2" fill="url(#rb2)"/>
<rect x="304.5" y="841.1" width="49" height="1.2" fill="url(#rb2)"/>
<rect x="304.5" y="855.9" width="49" height="1.2" fill="url(#rb2)"/>
<rect x="304.5" y="859.6" width="49" height="2" fill="url(#rb2)"/>
<rect x="304.5" y="875.4" width="49" height="1.2" fill="url(#rb2)"/>
<path d="M288.5 800V807M288.5 811V876.7" stroke="#d8a070" stroke-width="0.8" fill="none" stroke-dasharray="2,2"/>
<rect x="273" y="883.3" width="80.5" height="1.7" fill="#b9b9b9"/>
<line x1="365.3" y1="795.3" x2="446.5" y2="795.3" stroke="#8a8a8a" stroke-width="1"/>
<line x1="365.3" y1="797.8" x2="446.5" y2="797.8" stroke="#d5d5d5" stroke-width="0.8"/>
<path d="M365.3 807.4V803H408V800H446.5V807.4Z" stroke="none" stroke-width="1" fill="#b0b0b0"/>
<path d="M378.3 808.3h3.6l-1.8 2.5zM389.2 808.3h3.6l-1.8 2.5zM406.2 808.3h3.6l-1.8 2.5zM431.4 808.3h3.6l-1.8 2.5z" stroke="none" stroke-width="1" fill="#6f4fb5"/>
<rect x="365.3" y="810.2" width="81.2" height="39.8" fill="#c6c6c6"/>
<rect x="365.3" y="850" width="81.2" height="33.3" fill="#f9f9fa"/>
<rect x="365.3" y="854.5" width="22.7" height="1.5" fill="#c6c6c6"/>
<rect x="365.3" y="818.4" width="22.7" height="1.2" fill="#ffffff"/>
<rect x="417" y="818.4" width="29.5" height="1.2" fill="#ffffff"/>
<rect x="365.3" y="832.4" width="24.7" height="1.2" fill="#ffffff"/>
<rect x="365.3" y="837" width="34.7" height="1.2" fill="#ffffff"/>
<rect x="365.3" y="848.4" width="54.7" height="1.6" fill="#ffffff"/>
<rect x="365.3" y="810.8" width="42.7" height="1.2" fill="url(#rb2)"/>
<rect x="365.3" y="813.3" width="42.7" height="3.7" fill="url(#rb2)"/>
<rect x="388" y="819.5" width="20" height="1.2" fill="url(#rb2)"/>
<rect x="365.3" y="826.7" width="42.7" height="1.2" fill="url(#rb2)"/>
<rect x="390" y="830.8" width="18" height="1.2" fill="url(#rb2)"/>
<rect x="365.3" y="843.4" width="42.7" height="1.6" fill="url(#rb2)"/>
<path d="M380 800V807M380 811V850" stroke="#d8a070" stroke-width="0.8" fill="none" stroke-dasharray="2,2"/>
<rect x="365.3" y="883.3" width="81.2" height="1.7" fill="#b9b9b9"/>
<line x1="458.4" y1="795.3" x2="553.1" y2="795.3" stroke="#8a8a8a" stroke-width="1"/>
<line x1="458.4" y1="797.8" x2="553.1" y2="797.8" stroke="#d5d5d5" stroke-width="0.8"/>
<path d="M458.4 807.4V798.4H491.8V800.7H553.1V807.4Z" stroke="none" stroke-width="1" fill="#b0b0b0"/>
<path d="M460.1 808.3h3.6l-1.8 2.5zM473.3 808.3h3.6l-1.8 2.5zM482.8 808.3h3.6l-1.8 2.5zM492.2 808.3h3.6l-1.8 2.5zM502 808.3h3.6l-1.8 2.5zM546.7 808.3h3.6l-1.8 2.5z" stroke="none" stroke-width="1" fill="#6f4fb5"/>
<rect x="458.4" y="810.2" width="94.7" height="34.8" fill="#c6c6c6"/>
<rect x="458.4" y="845" width="94.7" height="38.3" fill="#f9f9fa"/>
<line x1="458.4" y1="854.4" x2="553.1" y2="854.4" stroke="#e4e4e6" stroke-width="0.7"/>
<rect x="458.4" y="812.5" width="33.6" height="0.9" fill="#ffffff"/>
<rect x="458.4" y="815.8" width="33.6" height="1.2" fill="#ffffff"/>
<rect x="458.4" y="838.2" width="73.6" height="1.1" fill="#ffffff"/>
<rect x="462" y="839.9" width="91.1" height="0.9" fill="#ffffff"/>
<rect x="492" y="811" width="61.1" height="1" fill="url(#rb2)"/>
<rect x="492" y="814.7" width="61.1" height="1.2" fill="url(#rb2)"/>
<rect x="492" y="817.8" width="61.1" height="1.2" fill="url(#rb2)"/>
<rect x="492" y="821.6" width="61.1" height="1.2" fill="url(#rb2)"/>
<rect x="492" y="824.8" width="61.1" height="2" fill="url(#rb2)"/>
<rect x="492" y="842.3" width="61.1" height="2.1" fill="url(#rb2)"/>
<rect x="458.4" y="883.3" width="94.7" height="1.7" fill="#b9b9b9"/>
<line x1="565" y1="795.3" x2="655.8" y2="795.3" stroke="#8a8a8a" stroke-width="1"/>
<line x1="565" y1="797.8" x2="655.8" y2="797.8" stroke="#d5d5d5" stroke-width="0.8"/>
<path d="M565 807.4V801H611V799.5H655.8V807.4Z" stroke="none" stroke-width="1" fill="#b0b0b0"/>
<path d="M609.4 808.3h3.6l-1.8 2.5zM637.3 808.3h3.6l-1.8 2.5z" stroke="none" stroke-width="1" fill="#6f4fb5"/>
<rect x="565" y="810.2" width="90.8" height="29.2" fill="#c6c6c6"/>
<rect x="565" y="839.4" width="90.8" height="43.9" fill="#f9f9fa"/>
<line x1="565" y1="858.8" x2="655.8" y2="858.8" stroke="#e4e4e6" stroke-width="0.7"/>
<rect x="565" y="809.8" width="46" height="1" fill="#ffffff"/>
<rect x="611" y="818" width="44.8" height="1" fill="#ffffff"/>
<rect x="565" y="822.8" width="35" height="1" fill="#ffffff"/>
<rect x="611" y="836.4" width="44.8" height="3" fill="#ffffff"/>
<rect x="565" y="811.6" width="46" height="1.2" fill="url(#rb2)"/>
<rect x="565" y="815.7" width="46" height="1.2" fill="url(#rb2)"/>
<rect x="565" y="827.2" width="46" height="1.8" fill="url(#rb2)"/>
<rect x="565" y="830.8" width="46" height="1.2" fill="url(#rb2)"/>
<rect x="565" y="834.2" width="46" height="3.2" fill="url(#rb2)"/>
<rect x="565" y="883.3" width="90.8" height="1.7" fill="#b9b9b9"/>
<path d="M48 892.6L48 886.4L49.5 886.5L51 887.4L52.5 887.4L54 887.6L55.5 887.5L57 888.2L58.5 887.9L60 887.9L61.5 886.5L63 886.2L64.5 886.6L66 887.6L67.5 887.6L69 887.5L70.5 887.2L72 886.9L73.5 886.8L75 887.3L76.5 887.6L78 888.5L79.5 887.7L81 888.5L82.5 887.7L84 887.9L85.5 887.1L87 887.5L88.5 886.4L90 887.5L91.5 887.7L93 887.2L94.5 887.3L96 888.2L97.5 887.7L99 887.3L100.5 887.8L102 887.9L103.5 887.3L105 887L106.5 887.9L108 888.2L109.5 888.2L111 887.2L112.5 887.7L114 887.8L115.5 887.4L117 886.3L118.5 886.9L120 886.7L121.5 887.3L123 887.1L124.5 886.8L126 887.2L127.5 888L129 887.6L130.5 887.4L132 887.5L133.5 887.2L135 887.1L136.5 887.1L138 887.5L139.5 887.9L141 887.1L142.5 887L143.5 886.6L143.5 892.6Z" stroke="none" stroke-width="1" fill="#b0b0b0"/>
<rect x="48" y="893.3" width="95.5" height="72" fill="#fafafa"/>
<clipPath id="c7"><rect x="48" y="893.6" width="95.5" height="71.6"/></clipPath><g clip-path="url(#c7)">
<path d="M47 905.6h0.3v2.4h-0.3zM47 908h1.5v2.4h-1.5zM47 910.4h2.9v2.4h-2.9zM47 912.8h4.5v2.4h-4.5zM47 915.2h6.3v2.4h-6.3zM47 917.6h7.4v2.4h-7.4zM47 893.6h1.3v2.4h-1.3zM48 920h7.5v2.4h-7.5zM48.8 922.4h7.5v2.4h-7.5zM49.6 924.8h7.5v2.4h-7.5zM50.4 927.2h7.5v2.4h-7.5zM47 896h3.5v2.4h-3.5zM47 898.4h5.6v2.4h-5.6zM47 900.8h6.6v2.4h-6.6zM48 903.2h7.5v2.4h-7.5zM49.6 905.6h7.5v2.4h-7.5zM50.7 908h7.5v2.4h-7.5zM52.7 910.4h7.5v2.4h-7.5zM49.4 893.6h7.5v2.4h-7.5zM55.4 912.8h7.5v2.4h-7.5zM51.4 896h7.5v2.4h-7.5zM56.8 915.2h7.5v2.4h-7.5zM57.6 917.6h7.5v2.4h-7.5zM58.6 920h7.5v2.4h-7.5zM53.3 898.4h7.5v2.4h-7.5zM54.5 900.8h7.5v2.4h-7.5zM60.6 922.4h7.5v2.4h-7.5zM61.3 924.8h7.5v2.4h-7.5zM62.1 927.2h7.5v2.4h-7.5zM57.5 903.2h7.5v2.4h-7.5zM60.4 905.6h7.5v2.4h-7.5zM58 893.6h7.5v2.4h-7.5zM62.1 908h7.5v2.4h-7.5zM62 896h7.5v2.4h-7.5zM62.7 898.4h7.5v2.4h-7.5zM63.7 900.8h7.5v2.4h-7.5zM67.1 910.4h7.5v2.4h-7.5zM67.9 912.8h7.5v2.4h-7.5zM66 903.2h7.5v2.4h-7.5zM69.6 915.2h7.5v2.4h-7.5zM70.5 917.6h7.5v2.4h-7.5zM71.7 920h7.5v2.4h-7.5zM68.5 905.6h7.5v2.4h-7.5zM66.4 893.6h7.5v2.4h-7.5zM70.7 908h7.5v2.4h-7.5zM74.9 922.4h7.5v2.4h-7.5zM76.2 924.8h7.5v2.4h-7.5zM76.9 927.2h7.5v2.4h-7.5zM77.7 929.6h7.5v2.4h-7.5zM78.9 932h7.5v2.4h-7.5zM79.8 934.4h7.5v2.4h-7.5zM81 936.8h7.5v2.4h-7.5zM70.6 896h7.5v2.4h-7.5zM71.7 898.4h7.5v2.4h-7.5zM72.5 900.8h7.5v2.4h-7.5zM75.2 910.4h7.5v2.4h-7.5zM76 912.8h7.5v2.4h-7.5zM83.4 939.2h7.5v2.4h-7.5zM84.4 941.6h7.5v2.4h-7.5zM85.2 944h7.5v2.4h-7.5zM74.4 903.2h7.5v2.4h-7.5zM77.8 915.2h7.5v2.4h-7.5zM86.3 946.4h7.5v2.4h-7.5zM87 948.8h7.5v2.4h-7.5zM76.9 905.6h7.5v2.4h-7.5zM80.7 917.6h7.5v2.4h-7.5zM81.4 920h7.5v2.4h-7.5zM90 951.2h7.5v2.4h-7.5zM75.2 893.6h7.5v2.4h-7.5zM79.2 908h7.5v2.4h-7.5zM84.8 922.4h7.5v2.4h-7.5zM85.6 924.8h7.5v2.4h-7.5zM86.4 927.2h7.5v2.4h-7.5zM79 896h7.5v2.4h-7.5zM80.1 898.4h7.5v2.4h-7.5zM81.6 900.8h7.5v2.4h-7.5zM82.9 903.2h7.5v2.4h-7.5zM85.3 910.4h7.5v2.4h-7.5zM86.6 912.8h7.5v2.4h-7.5zM87.3 915.2h7.5v2.4h-7.5zM85.8 905.6h7.5v2.4h-7.5zM89.7 917.6h7.5v2.4h-7.5zM84.1 893.6h7.5v2.4h-7.5zM88.3 908h7.5v2.4h-7.5zM91.6 920h7.5v2.4h-7.5zM94.5 929.6h7.5v2.4h-7.5zM95.2 932h7.5v2.4h-7.5zM93.4 922.4h7.5v2.4h-7.5zM94.2 924.8h7.5v2.4h-7.5zM95 927.2h7.5v2.4h-7.5zM97 934.4h7.5v2.4h-7.5zM98.1 936.8h7.5v2.4h-7.5zM87.3 896h7.5v2.4h-7.5zM99.1 939.2h7.5v2.4h-7.5zM99.7 941.6h7.5v2.4h-7.5zM100.4 944h7.5v2.4h-7.5zM88.4 898.4h7.5v2.4h-7.5zM101.9 946.4h7.5v2.4h-7.5zM102.7 948.8h7.5v2.4h-7.5zM90.6 900.8h7.5v2.4h-7.5zM92.1 903.2h7.5v2.4h-7.5zM94.8 910.4h7.5v2.4h-7.5zM95.9 912.8h7.5v2.4h-7.5zM96.6 915.2h7.5v2.4h-7.5zM94.2 905.6h7.5v2.4h-7.5zM106.7 951.2h7.5v2.4h-7.5zM98.2 917.6h7.5v2.4h-7.5zM108.2 953.6h7.5v2.4h-7.5zM109 956h7.5v2.4h-7.5zM109.7 958.4h7.5v2.4h-7.5zM92.4 893.6h7.5v2.4h-7.5zM96.8 908h7.5v2.4h-7.5zM100.1 920h7.5v2.4h-7.5zM101.7 922.4h7.5v2.4h-7.5zM102.5 924.8h7.5v2.4h-7.5zM103.8 927.2h7.5v2.4h-7.5zM95.5 896h7.5v2.4h-7.5zM105 929.6h7.5v2.4h-7.5zM96.7 898.4h7.5v2.4h-7.5zM106.4 932h7.5v2.4h-7.5zM107.7 934.4h7.5v2.4h-7.5zM99.2 900.8h7.5v2.4h-7.5zM100.6 903.2h7.5v2.4h-7.5zM109.9 936.8h7.5v2.4h-7.5zM110.5 939.2h7.5v2.4h-7.5zM103.1 910.4h7.5v2.4h-7.5zM104.2 912.8h7.5v2.4h-7.5zM102.9 905.6h7.5v2.4h-7.5zM105.7 915.2h7.5v2.4h-7.5zM106.4 917.6h7.5v2.4h-7.5zM113.1 941.6h7.5v2.4h-7.5zM113.8 944h7.5v2.4h-7.5zM114.5 946.4h7.5v2.4h-7.5zM115.2 948.8h7.5v2.4h-7.5zM116.1 951.2h7.5v2.4h-7.5zM100.9 893.6h7.5v2.4h-7.5zM117.2 953.6h7.5v2.4h-7.5zM105.2 908h7.5v2.4h-7.5zM109.6 920h7.5v2.4h-7.5zM105.1 896h7.5v2.4h-7.5zM106.2 898.4h7.5v2.4h-7.5zM112.8 922.4h7.5v2.4h-7.5zM107.5 900.8h7.5v2.4h-7.5zM114.5 924.8h7.5v2.4h-7.5zM108.9 903.2h7.5v2.4h-7.5zM111.5 910.4h7.5v2.4h-7.5zM111.3 905.6h7.5v2.4h-7.5zM109.2 893.6h7.5v2.4h-7.5zM113.5 908h7.5v2.4h-7.5zM115.1 912.8h7.5v2.4h-7.5zM116.1 915.2h7.5v2.4h-7.5zM116.9 917.6h7.5v2.4h-7.5zM118.1 920h7.5v2.4h-7.5zM120.6 927.2h7.5v2.4h-7.5zM121.5 929.6h7.5v2.4h-7.5zM122.4 932h7.5v2.4h-7.5zM123.2 934.4h7.5v2.4h-7.5zM124.1 936.8h7.5v2.4h-7.5zM113.8 896h7.5v2.4h-7.5zM114.4 898.4h7.5v2.4h-7.5zM116.5 900.8h7.5v2.4h-7.5zM117.4 903.2h7.5v2.4h-7.5zM122.8 922.4h7.5v2.4h-7.5zM120.7 910.4h7.5v2.4h-7.5zM124.6 924.8h7.5v2.4h-7.5zM119.7 905.6h7.5v2.4h-7.5zM128.9 939.2h7.5v2.4h-7.5zM129.6 941.6h7.5v2.4h-7.5zM130.5 944h7.5v2.4h-7.5zM131.4 946.4h7.5v2.4h-7.5zM117.5 893.6h7.5v2.4h-7.5zM121.9 908h7.5v2.4h-7.5zM123.8 912.8h7.5v2.4h-7.5zM124.7 915.2h7.5v2.4h-7.5zM126.2 917.6h7.5v2.4h-7.5zM127.2 920h7.5v2.4h-7.5zM129.4 927.2h7.5v2.4h-7.5zM130.1 929.6h7.5v2.4h-7.5zM130.8 932h7.5v2.4h-7.5zM131.5 934.4h7.5v2.4h-7.5zM132.3 936.8h7.5v2.4h-7.5zM135.7 948.8h7.5v2.4h-7.5zM136.3 951.2h7.5v2.4h-7.5zM137 953.6h7.5v2.4h-7.5zM122 896h7.5v2.4h-7.5zM122.7 898.4h7.5v2.4h-7.5zM124.9 900.8h7.5v2.4h-7.5zM125.7 903.2h7.5v2.4h-7.5zM131.6 922.4h7.5v2.4h-7.5zM129 910.4h7.5v2.4h-7.5zM133 924.8h7.5v2.4h-7.5zM141.5 956h3v2.4h-3zM142.2 958.4h2.3v2.4h-2.3zM128.3 905.6h7.5v2.4h-7.5zM137.6 939.2h6.9v2.4h-6.9zM138.5 941.6h6v2.4h-6zM125.7 893.6h7.5v2.4h-7.5zM139.7 944h4.8v2.4h-4.8zM130.7 908h7.5v2.4h-7.5zM132.2 912.8h7.5v2.4h-7.5zM133.2 915.2h7.5v2.4h-7.5zM141.8 946.4h2.7v2.4h-2.7zM134.4 917.6h7.5v2.4h-7.5zM135.7 920h7.5v2.4h-7.5zM137.9 927.2h6.6v2.4h-6.6zM139.1 929.6h5.4v2.4h-5.4zM130.3 896h7.5v2.4h-7.5zM131.2 898.4h7.5v2.4h-7.5zM140.6 932h3.9v2.4h-3.9zM141.2 934.4h3.3v2.4h-3.3zM142.1 936.8h2.4v2.4h-2.4zM133.5 900.8h7.5v2.4h-7.5zM134.3 903.2h7.5v2.4h-7.5zM140.1 922.4h4.4v2.4h-4.4zM137.2 910.4h7.3v2.4h-7.3zM141.3 924.8h3.2v2.4h-3.2zM136.6 905.6h7.5v2.4h-7.5zM134.2 893.6h7.5v2.4h-7.5zM139 908h5.5v2.4h-5.5zM140.7 912.8h3.8v2.4h-3.8zM141.5 915.2h3v2.4h-3zM142.6 917.6h1.9v2.4h-1.9zM144.4 920h0.1v2.4h-0.1zM138.6 896h5.9v2.4h-5.9zM139.8 898.4h4.7v2.4h-4.7zM141.8 900.8h2.7v2.4h-2.7zM142.8 903.2h1.7v2.4h-1.7z" stroke="none" stroke-width="1" fill="#c6c6c6"/>
<path d="M47 908.3h2v1.8h-2zM70.9 896.3h1.4v1.8h-1.4zM85.1 908.3h0.9v1.8h-0.9zM85.1 898.7h1.4v1.8h-1.4zM81.6 898.7h2v1.8h-2zM95.7 927.5h0.9v1.8h-0.9zM96 927.5h1.4v1.8h-1.4zM102.9 946.7h0.7v1.8h-0.7zM94.2 905.9h2v1.8h-2zM115.4 944.3h1.4v1.8h-1.4zM111.5 905.9h0.9v1.8h-0.9zM121 893.9h0.7v1.8h-0.7zM130 927.5h1.1v1.8h-1.1zM133 925.1h1.1v1.8h-1.1zM132.8 913.1h2v1.8h-2zM142.8 946.7h0.9v1.8h-0.9zM140.2 929.9h1.4v1.8h-1.4zM137.9 898.7h0.7v1.8h-0.7zM140.5 910.7h2v1.8h-2z" stroke="none" stroke-width="1" fill="#e0402f"/>
<path d="M54.3 920.3h1.1v1.8h-1.1zM143.7 903.5h0.7v1.8h-0.7z" stroke="none" stroke-width="1" fill="#8c56b0"/>
<path d="M52 927.5h2v1.8h-2zM65.7 922.7h1.1v1.8h-1.1zM73.1 901.1h1.1v1.8h-1.1zM86.7 920.3h0.9v1.8h-0.9zM91.2 925.1h0.7v1.8h-0.7zM87.9 893.9h0.7v1.8h-0.7zM93.6 896.3h0.9v1.8h-0.9zM100.3 910.7h1.4v1.8h-1.4zM102.3 920.3h0.9v1.8h-0.9zM97.3 896.3h2v1.8h-2zM103.8 903.5h2v1.8h-2zM112.4 937.1h0.9v1.8h-0.9zM118.5 913.1h0.7v1.8h-0.7zM128.6 915.5h1.1v1.8h-1.1zM142.9 937.1h0.9v1.8h-0.9z" stroke="none" stroke-width="1" fill="#3aa84a"/>
<path d="M53.6 903.5h1.1v1.8h-1.1zM53.1 903.5h1.1v1.8h-1.1zM77.8 910.7h1.4v1.8h-1.4zM88.7 941.9h0.9v1.8h-0.9zM86.9 944.3h2v1.8h-2zM91.7 927.5h1.1v1.8h-1.1zM97.5 927.5h0.7v1.8h-0.7zM100.8 939.5h0.7v1.8h-0.7zM104.5 946.7h0.9v1.8h-0.9zM122.1 905.9h2v1.8h-2zM136 932.3h1.1v1.8h-1.1zM137.7 920.3h0.7v1.8h-0.7zM141.4 934.7h2v1.8h-2zM142.5 937.1h1.4v1.8h-1.4zM137.4 910.7h0.9v1.8h-0.9zM142.9 925.1h1.4v1.8h-1.4z" stroke="none" stroke-width="1" fill="#d98a3c"/>
<path d="M69.4 893.9h2v1.8h-2zM72.6 901.1h2v1.8h-2zM85.6 910.7h1.4v1.8h-1.4zM98.1 893.9h0.7v1.8h-0.7zM131.6 939.5h1.4v1.8h-1.4zM139.7 929.9h1.4v1.8h-1.4zM134.5 893.9h0.7v1.8h-0.7z" stroke="none" stroke-width="1" fill="#3b4fc4"/>
<path d="M94.4 925.1h7.1v1.8h-7.1zM106.9 951.5h7.1v1.8h-7.1zM110.7 939.5h7.1v1.8h-7.1zM103.3 910.7h7.1v1.8h-7.1zM104.4 913.1h7.1v1.8h-7.1zM106.6 917.9h7.1v1.8h-7.1zM114.7 946.7h7.1v1.8h-7.1zM116.3 951.5h7.1v1.8h-7.1zM105.4 908.3h7.1v1.8h-7.1zM109.8 920.3h7.1v1.8h-7.1zM116.7 901.1h7.1v1.8h-7.1z" stroke="none" stroke-width="1" fill="#3aa845"/>
<path d="M113.7 908.3h7.1v1.8h-7.1z" stroke="none" stroke-width="1" fill="#6a4fb0"/>
</g>
<rect x="48" y="965.3" width="95.5" height="1.7" fill="#bdbdbd"/>
<path d="M155.5 892.6L155.5 887.7L157 887.2L158.5 888.4L160 888.5L161.5 888.7L163 888.1L164.5 888L166 888.1L167.5 887.5L169 887.7L170.5 888.7L172 888.6L173.5 886.9L175 886.3L176.5 887.1L178 885.9L179.5 886L181 886.4L182.5 886.8L184 886.5L185.5 887.2L187 887.6L188.5 887.2L190 887.2L191.5 887.4L193 887.2L194.5 887.3L196 887.4L197.5 887.6L199 888.8L200.5 888.1L202 888.6L203.5 886.9L205 886.7L206.5 886.2L208 887L209.5 888.3L211 888.4L212.5 887.7L214 886.4L215.5 886.6L217 886.2L218.5 887L220 886.6L221.5 886.3L223 885.9L224.5 886.2L226 886.6L227.5 886.5L229 887.7L230.5 888.1L232 887.3L233.5 886.7L235 885.7L236.5 885.6L238 886.5L239.5 887.2L241 888.1L242.5 888.1L244 887.6L244 887.1L244 892.6Z" stroke="none" stroke-width="1" fill="#b0b0b0"/>
<rect x="155.5" y="893.3" width="88.5" height="72" fill="#fafafa"/>
<clipPath id="c8"><rect x="155.5" y="893.6" width="88.5" height="71.6"/></clipPath><g clip-path="url(#c8)">
<path d="M154.5 912.8h1.1v2.4h-1.1zM154.5 915.2h2.4v2.4h-2.4zM154.5 898.4h0.5v2.4h-0.5zM154.5 900.8h2.2v2.4h-2.2zM154.5 903.2h3v2.4h-3zM154.5 917.6h7.5v2.4h-7.5zM154.5 905.6h4.8v2.4h-4.8zM154.5 908h6.6v2.4h-6.6zM154.5 910.4h7.5v2.4h-7.5zM157.4 920h7.5v2.4h-7.5zM158.8 922.4h7.5v2.4h-7.5zM156.4 912.8h7.5v2.4h-7.5zM157.8 915.2h7.5v2.4h-7.5zM160.6 924.8h7.5v2.4h-7.5zM161.3 927.2h7.5v2.4h-7.5zM154.5 893.6h6.5v2.4h-6.5zM163.8 929.6h7.5v2.4h-7.5zM164.6 932h7.5v2.4h-7.5zM165.2 934.4h7.5v2.4h-7.5zM155.9 896h7.5v2.4h-7.5zM157.5 898.4h7.5v2.4h-7.5zM158.6 900.8h7.5v2.4h-7.5zM159.6 903.2h7.5v2.4h-7.5zM160.5 905.6h7.5v2.4h-7.5zM161.9 908h7.5v2.4h-7.5zM162.7 910.4h7.5v2.4h-7.5zM165.4 917.6h7.5v2.4h-7.5zM164.7 912.8h7.5v2.4h-7.5zM166.8 920h7.5v2.4h-7.5zM167.7 922.4h7.5v2.4h-7.5zM171.8 936.8h7.5v2.4h-7.5zM172.4 939.2h7.5v2.4h-7.5zM166 915.2h7.5v2.4h-7.5zM169.3 924.8h7.5v2.4h-7.5zM170 927.2h7.5v2.4h-7.5zM174 941.6h7.5v2.4h-7.5zM174.9 944h7.5v2.4h-7.5zM175.7 946.4h7.5v2.4h-7.5zM176.4 948.8h7.5v2.4h-7.5zM163 893.6h7.5v2.4h-7.5zM164.7 896h7.5v2.4h-7.5zM173.9 929.6h7.5v2.4h-7.5zM166.3 898.4h7.5v2.4h-7.5zM167.2 900.8h7.5v2.4h-7.5zM168.3 903.2h7.5v2.4h-7.5zM168.9 905.6h7.5v2.4h-7.5zM176.4 932h7.5v2.4h-7.5zM170.1 908h7.5v2.4h-7.5zM171.2 910.4h7.5v2.4h-7.5zM177.9 934.4h7.5v2.4h-7.5zM173.8 917.6h7.5v2.4h-7.5zM183.2 951.2h7.5v2.4h-7.5zM172.9 912.8h7.5v2.4h-7.5zM174.4 915.2h7.5v2.4h-7.5zM176 920h7.5v2.4h-7.5zM176.7 922.4h7.5v2.4h-7.5zM178 924.8h7.5v2.4h-7.5zM179 927.2h7.5v2.4h-7.5zM181.7 936.8h7.5v2.4h-7.5zM171.3 893.6h7.5v2.4h-7.5zM183.8 939.2h7.5v2.4h-7.5zM184.6 941.6h7.5v2.4h-7.5zM185.5 944h7.5v2.4h-7.5zM186.5 946.4h7.5v2.4h-7.5zM172.9 896h7.5v2.4h-7.5zM187.3 948.8h7.5v2.4h-7.5zM175.1 898.4h7.5v2.4h-7.5zM175.8 900.8h7.5v2.4h-7.5zM176.9 903.2h7.5v2.4h-7.5zM178 905.6h7.5v2.4h-7.5zM179.3 908h7.5v2.4h-7.5zM180.2 910.4h7.5v2.4h-7.5zM182.6 912.8h7.5v2.4h-7.5zM183.6 915.2h7.5v2.4h-7.5zM184.8 917.6h7.5v2.4h-7.5zM180.4 893.6h7.5v2.4h-7.5zM181.3 896h7.5v2.4h-7.5zM188.2 920h7.5v2.4h-7.5zM189 922.4h7.5v2.4h-7.5zM189.8 924.8h7.5v2.4h-7.5zM190.8 927.2h7.5v2.4h-7.5zM191.5 929.6h7.5v2.4h-7.5zM184.3 898.4h7.5v2.4h-7.5zM185 900.8h7.5v2.4h-7.5zM185.8 903.2h7.5v2.4h-7.5zM187 905.6h7.5v2.4h-7.5zM188 908h7.5v2.4h-7.5zM189.3 910.4h7.5v2.4h-7.5zM195.2 932h7.5v2.4h-7.5zM196 934.4h7.5v2.4h-7.5zM190.8 912.8h7.5v2.4h-7.5zM191.8 915.2h7.5v2.4h-7.5zM197.8 936.8h7.5v2.4h-7.5zM193.2 917.6h7.5v2.4h-7.5zM200.5 939.2h7.5v2.4h-7.5zM188.6 893.6h7.5v2.4h-7.5zM201.7 941.6h7.5v2.4h-7.5zM189.4 896h7.5v2.4h-7.5zM202.5 944h7.5v2.4h-7.5zM203.3 946.4h7.5v2.4h-7.5zM204.1 948.8h7.5v2.4h-7.5zM197.5 920h7.5v2.4h-7.5zM192.6 898.4h7.5v2.4h-7.5zM195.2 900.8h7.5v2.4h-7.5zM196 903.2h7.5v2.4h-7.5zM197 905.6h7.5v2.4h-7.5zM198.2 908h7.5v2.4h-7.5zM199.5 910.4h7.5v2.4h-7.5zM200.1 912.8h7.5v2.4h-7.5zM200.8 915.2h7.5v2.4h-7.5zM201.5 917.6h7.5v2.4h-7.5zM203 922.4h7.5v2.4h-7.5zM204 924.8h7.5v2.4h-7.5zM204.9 927.2h7.5v2.4h-7.5zM196.9 893.6h7.5v2.4h-7.5zM197.9 896h7.5v2.4h-7.5zM207.5 929.6h7.5v2.4h-7.5zM208.2 932h7.5v2.4h-7.5zM200.8 898.4h7.5v2.4h-7.5zM207.3 920h7.5v2.4h-7.5zM211.4 934.4h7.5v2.4h-7.5zM212.8 936.8h7.5v2.4h-7.5zM203.4 900.8h7.5v2.4h-7.5zM204.5 903.2h7.5v2.4h-7.5zM205.5 905.6h7.5v2.4h-7.5zM206.7 908h7.5v2.4h-7.5zM208 910.4h7.5v2.4h-7.5zM209.1 912.8h7.5v2.4h-7.5zM209.9 915.2h7.5v2.4h-7.5zM211.1 917.6h7.5v2.4h-7.5zM206.6 893.6h7.5v2.4h-7.5zM207.7 896h7.5v2.4h-7.5zM215.1 922.4h7.5v2.4h-7.5zM209.1 898.4h7.5v2.4h-7.5zM216.4 924.8h7.5v2.4h-7.5zM217.1 927.2h7.5v2.4h-7.5zM216.4 920h7.5v2.4h-7.5zM212.2 900.8h7.5v2.4h-7.5zM213 903.2h7.5v2.4h-7.5zM215 905.6h7.5v2.4h-7.5zM216.4 908h7.5v2.4h-7.5zM217.9 910.4h7.5v2.4h-7.5zM218.8 912.8h7.5v2.4h-7.5zM219.6 915.2h7.5v2.4h-7.5zM220.3 917.6h7.5v2.4h-7.5zM223.8 929.6h7.5v2.4h-7.5zM224.7 932h7.5v2.4h-7.5zM216.2 893.6h7.5v2.4h-7.5zM217.3 896h7.5v2.4h-7.5zM218.4 898.4h7.5v2.4h-7.5zM220.5 900.8h7.5v2.4h-7.5zM222.5 903.2h7.5v2.4h-7.5zM224.1 905.6h7.5v2.4h-7.5zM224.9 908h7.5v2.4h-7.5zM226.6 910.4h7.5v2.4h-7.5zM229.5 912.8h7.5v2.4h-7.5zM227.4 893.6h7.5v2.4h-7.5zM228.2 896h7.5v2.4h-7.5zM229.1 898.4h7.5v2.4h-7.5zM230.3 900.8h7.5v2.4h-7.5zM231.2 903.2h7.5v2.4h-7.5zM234.6 915.2h7.5v2.4h-7.5zM232.4 905.6h7.5v2.4h-7.5zM235.6 917.6h7.5v2.4h-7.5zM235.2 908h7.5v2.4h-7.5zM236.1 910.4h7.5v2.4h-7.5zM239.1 920h5.9v2.4h-5.9zM239.7 922.4h5.3v2.4h-5.3zM238.5 912.8h6.5v2.4h-6.5zM242.9 924.8h2.1v2.4h-2.1zM244.3 927.2h0.7v2.4h-0.7zM235.6 893.6h7.5v2.4h-7.5zM236.4 896h7.5v2.4h-7.5zM238 898.4h7v2.4h-7zM239 900.8h6v2.4h-6zM241.9 903.2h3.1v2.4h-3.1zM244.2 905.6h0.8v2.4h-0.8zM245 908h0v2.4h-0z" stroke="none" stroke-width="1" fill="#c6c6c6"/>
<path d="M154.9 915.5h0.9v1.8h-0.9zM174.5 925.1h1.4v1.8h-1.4zM176.5 941.9h1.1v1.8h-1.1zM174.3 910.7h0.7v1.8h-0.7zM188.5 944.3h1.4v1.8h-1.4zM196.2 901.1h1.1v1.8h-1.1zM205.8 917.9h2v1.8h-2zM214.9 937.1h1.4v1.8h-1.4zM210.5 915.5h1.1v1.8h-1.1zM218.9 922.7h1.1v1.8h-1.1zM223.3 903.5h0.7v1.8h-0.7zM228.6 908.3h1.4v1.8h-1.4zM240.9 898.7h0.9v1.8h-0.9zM241.4 901.1h1.4v1.8h-1.4z" stroke="none" stroke-width="1" fill="#e0402f"/>
<path d="M160.5 910.7h0.7v1.8h-0.7zM160.9 922.7h1.1v1.8h-1.1zM179.9 941.9h1.1v1.8h-1.1zM171.7 901.1h1.4v1.8h-1.4zM190.4 946.7h0.7v1.8h-0.7zM179.1 901.1h2v1.8h-2zM180.2 903.5h0.7v1.8h-0.7zM183.5 903.5h0.9v1.8h-0.9zM200.6 903.5h1.4v1.8h-1.4zM210.9 920.3h1.4v1.8h-1.4zM209.8 913.1h1.1v1.8h-1.1zM218.5 910.7h2v1.8h-2zM221.7 898.7h0.7v1.8h-0.7z" stroke="none" stroke-width="1" fill="#d98a3c"/>
<path d="M163.1 922.7h2v1.8h-2zM179.9 946.7h0.9v1.8h-0.9zM173.8 917.9h0.9v1.8h-0.9zM189.4 944.3h1.4v1.8h-1.4zM189.1 946.7h0.9v1.8h-0.9zM206.1 915.5h0.9v1.8h-0.9z" stroke="none" stroke-width="1" fill="#3aa84a"/>
<path d="M164.9 896.3h7.1v1.8h-7.1z" stroke="none" stroke-width="1" fill="#b03030"/>
<path d="M170.5 903.5h1.4v1.8h-1.4zM177.1 920.3h2v1.8h-2zM179.3 901.1h1.1v1.8h-1.1zM181.4 901.1h0.9v1.8h-0.9zM192.9 905.9h0.7v1.8h-0.7zM200.8 920.3h1.4v1.8h-1.4zM214.2 915.5h2v1.8h-2zM212 898.7h2v1.8h-2zM219.9 915.5h0.9v1.8h-0.9zM236 915.5h0.9v1.8h-0.9z" stroke="none" stroke-width="1" fill="#3b4fc4"/>
<path d="M177.4 903.5h2v1.8h-2zM208.5 949.1h2v1.8h-2zM211.5 905.9h1.4v1.8h-1.4zM218.7 910.7h2v1.8h-2zM223.6 910.7h1.1v1.8h-1.1zM221.6 898.7h2v1.8h-2z" stroke="none" stroke-width="1" fill="#8c56b0"/>
<path d="M191.7 929.9h7.1v1.8h-7.1zM199.7 910.7h7.1v1.8h-7.1zM205.1 927.5h7.1v1.8h-7.1zM198.1 896.3h7.1v1.8h-7.1zM201 898.7h7.1v1.8h-7.1zM211.6 934.7h7.1v1.8h-7.1zM204.7 903.5h7.1v1.8h-7.1zM208.2 910.7h7.1v1.8h-7.1zM207.9 896.3h7.1v1.8h-7.1zM216.6 925.1h7.1v1.8h-7.1zM216.6 920.3h7.1v1.8h-7.1zM212.4 901.1h7.1v1.8h-7.1zM215.2 905.9h7.1v1.8h-7.1zM220.5 917.9h7.1v1.8h-7.1zM224 929.9h7.1v1.8h-7.1z" stroke="none" stroke-width="1" fill="#3aa845"/>
</g>
<rect x="155.5" y="965.3" width="88.5" height="1.7" fill="#bdbdbd"/>
<path d="M273 892.6L273 886.5L274.5 887.5L276 887.2L277.5 887.3L279 888L280.5 887.1L282 886.3L283.5 887.2L285 887.7L286.5 887.5L288 888.5L289.5 887.5L291 887.6L292.5 887L294 886.6L295.5 885.3L297 886.6L298.5 886.6L300 886.7L301.5 885.4L303 886.1L304.5 886.5L306 886.1L307.5 887.1L309 887.2L310.5 888L312 888.4L313.5 888.6L315 887.9L316.5 888.4L318 887.2L319.5 888L321 887.7L322.5 887.6L324 887.4L325.5 887L327 887.2L328.5 886.6L330 887.3L331.5 887.4L333 887L334.5 887.1L336 887.4L337.5 886.4L339 886.5L340.5 887.8L342 887.4L343.5 887.8L345 887.3L346.5 887.7L348 888L349.5 888.4L351 888.3L352.5 888L353.5 887.7L353.5 892.6Z" stroke="none" stroke-width="1" fill="#b0b0b0"/>
<rect x="273" y="893.3" width="80.5" height="72" fill="#fafafa"/>
<clipPath id="c9"><rect x="273" y="893.6" width="80.5" height="71.6"/></clipPath><g clip-path="url(#c9)">
<path d="M272 936.8h0.4v2.4h-0.4zM272 939.2h1.3v2.4h-1.3zM272 941.6h2.9v2.4h-2.9zM272 944h5.6v2.4h-5.6zM272 915.2h0.6v2.4h-0.6zM272 917.6h1.6v2.4h-1.6zM272 920h2.8v2.4h-2.8zM272 922.4h3.8v2.4h-3.8zM272 924.8h5.2v2.4h-5.2zM272 927.2h6.1v2.4h-6.1zM272 929.6h7v2.4h-7zM272.3 932h7.5v2.4h-7.5zM273.1 934.4h7.5v2.4h-7.5zM274.1 936.8h7.5v2.4h-7.5zM275 939.2h7.5v2.4h-7.5zM276.3 941.6h7.5v2.4h-7.5zM272 896h0.4v2.4h-0.4zM272 898.4h2.5v2.4h-2.5zM272 900.8h3.7v2.4h-3.7zM272 903.2h5.3v2.4h-5.3zM272 905.6h6.2v2.4h-6.2zM272 908h7v2.4h-7zM272.7 910.4h7.5v2.4h-7.5zM273.4 912.8h7.5v2.4h-7.5zM274.1 915.2h7.5v2.4h-7.5zM275.5 917.6h7.5v2.4h-7.5zM276.2 920h7.5v2.4h-7.5zM277.2 922.4h7.5v2.4h-7.5zM278.3 924.8h7.5v2.4h-7.5zM279.1 927.2h7.5v2.4h-7.5zM279.9 929.6h7.5v2.4h-7.5zM280.8 932h7.5v2.4h-7.5zM281.5 934.4h7.5v2.4h-7.5zM282.4 936.8h7.5v2.4h-7.5zM283.8 939.2h7.5v2.4h-7.5zM284.5 941.6h7.5v2.4h-7.5zM285.6 944h7.5v2.4h-7.5zM286.5 946.4h7.5v2.4h-7.5zM272.5 893.6h7.5v2.4h-7.5zM273.7 896h7.5v2.4h-7.5zM288.3 948.8h7.5v2.4h-7.5zM289.2 951.2h7.5v2.4h-7.5zM290 953.6h7.5v2.4h-7.5zM275.3 898.4h7.5v2.4h-7.5zM291.2 956h7.5v2.4h-7.5zM277.1 900.8h7.5v2.4h-7.5zM292.7 958.4h7.5v2.4h-7.5zM293.5 960.8h7.5v2.4h-7.5zM278 903.2h7.5v2.4h-7.5zM280.1 905.6h7.5v2.4h-7.5zM281.2 908h7.5v2.4h-7.5zM282 910.4h7.5v2.4h-7.5zM283.1 912.8h7.5v2.4h-7.5zM284.4 915.2h7.5v2.4h-7.5zM285.6 917.6h7.5v2.4h-7.5zM286.8 920h7.5v2.4h-7.5zM287.5 922.4h7.5v2.4h-7.5zM288.1 924.8h7.5v2.4h-7.5zM289 927.2h7.5v2.4h-7.5zM290.1 929.6h7.5v2.4h-7.5zM280.8 893.6h7.5v2.4h-7.5zM291.2 932h7.5v2.4h-7.5zM291.8 934.4h7.5v2.4h-7.5zM292.9 936.8h7.5v2.4h-7.5zM282 896h7.5v2.4h-7.5zM283.5 898.4h7.5v2.4h-7.5zM294.5 939.2h7.5v2.4h-7.5zM295.5 941.6h7.5v2.4h-7.5zM296.5 944h7.5v2.4h-7.5zM297.2 946.4h7.5v2.4h-7.5zM297.9 948.8h7.5v2.4h-7.5zM285.3 900.8h7.5v2.4h-7.5zM298.9 951.2h7.5v2.4h-7.5zM299.6 953.6h7.5v2.4h-7.5zM300.3 956h7.5v2.4h-7.5zM301 958.4h7.5v2.4h-7.5zM286.2 903.2h7.5v2.4h-7.5zM301.9 960.8h7.5v2.4h-7.5zM302.8 963.2h7.5v2.4h-7.5zM303.6 965.6h7.5v2.4h-7.5zM304.3 968h7.5v2.4h-7.5zM305.1 970.4h7.5v2.4h-7.5zM305.8 972.8h7.5v2.4h-7.5zM306.8 975.2h7.5v2.4h-7.5zM288.3 905.6h7.5v2.4h-7.5zM307.8 977.6h7.5v2.4h-7.5zM308.7 980h7.5v2.4h-7.5zM289.5 908h7.5v2.4h-7.5zM290.2 910.4h7.5v2.4h-7.5zM309.7 982.4h7.5v2.4h-7.5zM310.4 984.8h7.5v2.4h-7.5zM311.1 987.2h7.5v2.4h-7.5zM311.8 989.6h7.5v2.4h-7.5zM291.5 912.8h7.5v2.4h-7.5zM313.1 992h7.5v2.4h-7.5zM313.9 994.4h7.5v2.4h-7.5zM292.5 915.2h7.5v2.4h-7.5zM314.8 996.8h7.5v2.4h-7.5zM293.9 917.6h7.5v2.4h-7.5zM295.1 920h7.5v2.4h-7.5zM296.3 922.4h7.5v2.4h-7.5zM289.3 893.6h7.5v2.4h-7.5zM297.7 924.8h7.5v2.4h-7.5zM298.5 927.2h7.5v2.4h-7.5zM299.1 929.6h7.5v2.4h-7.5zM290.7 896h7.5v2.4h-7.5zM292.3 898.4h7.5v2.4h-7.5zM301.5 932h7.5v2.4h-7.5zM293.6 900.8h7.5v2.4h-7.5zM294.7 903.2h7.5v2.4h-7.5zM303.6 934.4h7.5v2.4h-7.5zM296.5 905.6h7.5v2.4h-7.5zM298 908h7.5v2.4h-7.5zM299.3 910.4h7.5v2.4h-7.5zM300.9 912.8h7.5v2.4h-7.5zM301.6 915.2h7.5v2.4h-7.5zM302.3 917.6h7.5v2.4h-7.5zM303.4 920h7.5v2.4h-7.5zM308 936.8h7.5v2.4h-7.5zM308.9 939.2h7.5v2.4h-7.5zM297.4 893.6h7.5v2.4h-7.5zM305.6 922.4h7.5v2.4h-7.5zM306.5 924.8h7.5v2.4h-7.5zM307.2 927.2h7.5v2.4h-7.5zM299.4 896h7.5v2.4h-7.5zM308.7 929.6h7.5v2.4h-7.5zM312 941.6h7.5v2.4h-7.5zM301.1 898.4h7.5v2.4h-7.5zM304.3 900.8h7.5v2.4h-7.5zM305 903.2h7.5v2.4h-7.5zM306 905.6h7.5v2.4h-7.5zM307.2 908h7.5v2.4h-7.5zM308.2 910.4h7.5v2.4h-7.5zM309.3 912.8h7.5v2.4h-7.5zM310.2 915.2h7.5v2.4h-7.5zM311.1 917.6h7.5v2.4h-7.5zM312.6 920h7.5v2.4h-7.5zM306 893.6h7.5v2.4h-7.5zM307.9 896h7.5v2.4h-7.5zM315.4 922.4h7.5v2.4h-7.5zM316.3 924.8h7.5v2.4h-7.5zM309.8 898.4h7.5v2.4h-7.5zM318.2 927.2h7.5v2.4h-7.5zM319.4 929.6h7.5v2.4h-7.5zM320.1 932h7.5v2.4h-7.5zM312.7 900.8h7.5v2.4h-7.5zM313.4 903.2h7.5v2.4h-7.5zM314.1 905.6h7.5v2.4h-7.5zM322.1 934.4h7.5v2.4h-7.5zM323 936.8h7.5v2.4h-7.5zM316.5 908h7.5v2.4h-7.5zM317.5 910.4h7.5v2.4h-7.5zM318.7 912.8h7.5v2.4h-7.5zM319.4 915.2h7.5v2.4h-7.5zM314.4 893.6h7.5v2.4h-7.5zM321.3 917.6h7.5v2.4h-7.5zM322.1 920h7.5v2.4h-7.5zM316.3 896h7.5v2.4h-7.5zM323.9 922.4h7.5v2.4h-7.5zM324.9 924.8h7.5v2.4h-7.5zM318.3 898.4h7.5v2.4h-7.5zM326.5 927.2h7.5v2.4h-7.5zM330 939.2h7.5v2.4h-7.5zM330.8 941.6h7.5v2.4h-7.5zM328.1 929.6h7.5v2.4h-7.5zM321.1 900.8h7.5v2.4h-7.5zM322.5 903.2h7.5v2.4h-7.5zM323.4 905.6h7.5v2.4h-7.5zM331.1 932h7.5v2.4h-7.5zM325 908h7.5v2.4h-7.5zM326.2 910.4h7.5v2.4h-7.5zM326.9 912.8h7.5v2.4h-7.5zM323.4 893.6h7.5v2.4h-7.5zM329.4 915.2h7.5v2.4h-7.5zM324.5 896h7.5v2.4h-7.5zM330.8 917.6h7.5v2.4h-7.5zM331.8 920h7.5v2.4h-7.5zM332.9 922.4h7.5v2.4h-7.5zM326.9 898.4h7.5v2.4h-7.5zM334.2 924.8h7.5v2.4h-7.5zM335 927.2h7.5v2.4h-7.5zM337 934.4h7.5v2.4h-7.5zM337.9 936.8h7.5v2.4h-7.5zM338.9 939.2h7.5v2.4h-7.5zM339.5 941.6h7.5v2.4h-7.5zM329.5 900.8h7.5v2.4h-7.5zM337.3 929.6h7.5v2.4h-7.5zM341.4 944h7.5v2.4h-7.5zM330.8 903.2h7.5v2.4h-7.5zM331.5 905.6h7.5v2.4h-7.5zM339.4 932h7.5v2.4h-7.5zM334 908h7.5v2.4h-7.5zM334.8 910.4h7.5v2.4h-7.5zM336.4 912.8h7.5v2.4h-7.5zM345.6 946.4h7.5v2.4h-7.5zM331.6 893.6h7.5v2.4h-7.5zM337.6 915.2h7.5v2.4h-7.5zM346.9 948.8h7.5v2.4h-7.5zM333 896h7.5v2.4h-7.5zM339.1 917.6h7.5v2.4h-7.5zM340 920h7.5v2.4h-7.5zM335.2 898.4h7.5v2.4h-7.5zM341.8 922.4h7.5v2.4h-7.5zM342.7 924.8h7.5v2.4h-7.5zM344.6 927.2h7.5v2.4h-7.5zM337.8 900.8h7.5v2.4h-7.5zM345.6 929.6h7.5v2.4h-7.5zM347.1 934.4h7.4v2.4h-7.4zM347.8 936.8h6.7v2.4h-6.7zM339.3 903.2h7.5v2.4h-7.5zM341.2 905.6h7.5v2.4h-7.5zM342.6 908h7.5v2.4h-7.5zM343.3 910.4h7.5v2.4h-7.5zM349.4 932h5.1v2.4h-5.1zM344.9 912.8h7.5v2.4h-7.5zM340 893.6h7.5v2.4h-7.5zM341.5 896h7.5v2.4h-7.5zM346.8 915.2h7.5v2.4h-7.5zM347.6 917.6h6.9v2.4h-6.9zM348.5 920h6v2.4h-6zM343.5 898.4h7.5v2.4h-7.5zM350.5 922.4h4v2.4h-4zM351.2 924.8h3.3v2.4h-3.3zM346.8 900.8h7.5v2.4h-7.5zM347.9 903.2h6.6v2.4h-6.6zM349.7 905.6h4.8v2.4h-4.8zM351 908h3.5v2.4h-3.5zM352 910.4h2.5v2.4h-2.5zM353.4 912.8h1.1v2.4h-1.1zM348.6 893.6h5.9v2.4h-5.9zM349.8 896h4.7v2.4h-4.7zM352.1 898.4h2.4v2.4h-2.4z" stroke="none" stroke-width="1" fill="#c6c6c6"/>
<path d="M272 915.5h1.4v1.8h-1.4zM274 925.1h0.9v1.8h-0.9zM276.6 893.9h0.9v1.8h-0.9zM284.9 910.7h1.1v1.8h-1.1zM298.5 949.1h0.9v1.8h-0.9zM289.8 901.1h0.7v1.8h-0.7zM305.2 965.9h1.1v1.8h-1.1zM295.7 898.7h0.9v1.8h-0.9zM302.3 896.3h1.4v1.8h-1.4zM316.3 941.9h2v1.8h-2zM310.3 898.7h0.7v1.8h-0.7zM327.7 934.7h0.9v1.8h-0.9zM321.3 910.7h0.7v1.8h-0.7zM337.1 893.9h0.9v1.8h-0.9zM333.8 896.3h1.4v1.8h-1.4zM340.8 898.7h1.4v1.8h-1.4zM350.6 917.9h1.4v1.8h-1.4zM352.2 917.9h2v1.8h-2z" stroke="none" stroke-width="1" fill="#d98a3c"/>
<path d="M272 915.5h0.7v1.8h-0.7zM286.4 910.7h2v1.8h-2zM296.7 917.9h1.1v1.8h-1.1zM308.8 922.7h1.1v1.8h-1.1zM312.3 941.9h1.4v1.8h-1.4zM306.2 903.5h1.4v1.8h-1.4zM312.2 913.1h0.9v1.8h-0.9zM332.3 898.7h1.1v1.8h-1.1zM330.6 898.7h2v1.8h-2zM332.9 893.9h0.7v1.8h-0.7z" stroke="none" stroke-width="1" fill="#e0402f"/>
<path d="M273.5 929.9h0.7v1.8h-0.7zM272.1 896.3h1.1v1.8h-1.1zM282.2 929.9h2v1.8h-2zM283.5 910.7h2v1.8h-2zM299.7 925.1h0.9v1.8h-0.9zM298.5 898.7h0.7v1.8h-0.7zM294.4 898.7h2v1.8h-2zM306.1 922.7h0.9v1.8h-0.9zM307 925.1h2v1.8h-2zM312.5 898.7h1.1v1.8h-1.1zM320.5 898.7h0.9v1.8h-0.9zM337.6 929.9h0.9v1.8h-0.9zM340 910.7h1.4v1.8h-1.4zM339 910.7h0.9v1.8h-0.9zM340.8 917.9h2v1.8h-2zM338.1 898.7h0.7v1.8h-0.7zM344.8 925.1h2v1.8h-2z" stroke="none" stroke-width="1" fill="#3b4fc4"/>
<path d="M272.5 932.3h7.1v1.8h-7.1zM272.9 910.7h7.1v1.8h-7.1zM280.3 905.9h7.1v1.8h-7.1zM285.8 917.9h7.1v1.8h-7.1zM292 934.7h7.1v1.8h-7.1zM282.2 896.3h7.1v1.8h-7.1zM294.7 939.5h7.1v1.8h-7.1zM286.4 903.5h7.1v1.8h-7.1zM292.7 915.5h7.1v1.8h-7.1z" stroke="none" stroke-width="1" fill="#d04040"/>
<path d="M277.4 922.7h7.1v1.8h-7.1zM279.3 927.5h7.1v1.8h-7.1zM281 932.3h7.1v1.8h-7.1zM285.8 944.3h7.1v1.8h-7.1zM290.2 953.9h7.1v1.8h-7.1zM277.3 901.1h7.1v1.8h-7.1zM292.9 958.7h7.1v1.8h-7.1zM283.3 913.1h7.1v1.8h-7.1zM290.3 929.9h7.1v1.8h-7.1zM301.2 958.7h7.1v1.8h-7.1zM303 963.5h7.1v1.8h-7.1zM290.4 910.7h7.1v1.8h-7.1zM295.3 920.3h7.1v1.8h-7.1zM294.9 903.5h7.1v1.8h-7.1zM299.5 910.7h7.1v1.8h-7.1zM301.1 913.1h7.1v1.8h-7.1zM306.2 905.9h7.1v1.8h-7.1z" stroke="none" stroke-width="1" fill="#3fb2ad"/>
<path d="M273.8 896.3h1.4v1.8h-1.4zM319.5 910.7h1.1v1.8h-1.1zM323.3 901.1h0.9v1.8h-0.9zM348.1 901.1h1.1v1.8h-1.1z" stroke="none" stroke-width="1" fill="#3aa84a"/>
<path d="M302.4 944.3h0.9v1.8h-0.9zM312 922.7h0.9v1.8h-0.9zM312.9 901.1h0.7v1.8h-0.7zM322 917.9h0.9v1.8h-0.9zM341.4 929.9h2v1.8h-2zM337.2 893.9h1.1v1.8h-1.1z" stroke="none" stroke-width="1" fill="#8c56b0"/>
</g>
<rect x="273" y="965.3" width="80.5" height="1.7" fill="#bdbdbd"/>
<path d="M365.3 892.6L365.3 887.9L366.8 888.3L368.3 886.7L369.8 887.3L371.3 886.6L372.8 886.2L374.3 886.3L375.8 886.5L377.3 887.1L378.8 887.5L380.3 887.7L381.8 887.4L383.3 887.5L384.8 888.3L386.3 888.9L387.8 888.5L389.3 888.1L390.8 887.7L392.3 887.4L393.8 888.7L395.3 888.3L396.8 888.1L398.3 888.3L399.8 888.4L401.3 888.3L402.8 887.7L404.3 887.8L405.8 888.2L407.3 887.6L408.8 888L410.3 885.6L411.8 885.9L413.3 885.8L414.8 886.6L416.3 886.4L417.8 885.8L419.3 884.6L420.8 884.7L422.3 885.2L423.8 885.6L425.3 886.2L426.8 886.6L428.3 885.6L429.8 885.5L431.3 886.1L432.8 885.3L434.3 885.6L435.8 885L437.3 885.8L438.8 885.7L440.3 886L441.8 885.9L443.3 885.8L444.8 886.8L446.3 886.2L446.5 886.1L446.5 892.6Z" stroke="none" stroke-width="1" fill="#b0b0b0"/>
<rect x="365.3" y="893.3" width="81.2" height="72" fill="#fafafa"/>
<clipPath id="c10"><rect x="365.3" y="893.6" width="81.2" height="71.6"/></clipPath><g clip-path="url(#c10)">
<path d="M364.3 915.2h1.4v2.4h-1.4zM364.3 903.2h0v2.4h-0zM364.3 905.6h1.6v2.4h-1.6zM364.3 908h2.8v2.4h-2.8zM364.3 910.4h4.1v2.4h-4.1zM364.3 917.6h6.8v2.4h-6.8zM364.3 912.8h5.6v2.4h-5.6zM364.3 893.6h1.5v2.4h-1.5zM365.6 920h7.5v2.4h-7.5zM366.3 922.4h7.5v2.4h-7.5zM364.3 896h2.8v2.4h-2.8zM367.6 924.8h7.5v2.4h-7.5zM369 927.2h7.5v2.4h-7.5zM364.3 898.4h4.7v2.4h-4.7zM364.3 900.8h6.7v2.4h-6.7zM367.8 915.2h7.5v2.4h-7.5zM365.5 903.2h7.5v2.4h-7.5zM368.4 905.6h7.5v2.4h-7.5zM369.1 908h7.5v2.4h-7.5zM370 910.4h7.5v2.4h-7.5zM370.7 912.8h7.5v2.4h-7.5zM372.1 917.6h7.5v2.4h-7.5zM376 929.6h7.5v2.4h-7.5zM376.7 932h7.5v2.4h-7.5zM367.1 893.6h7.5v2.4h-7.5zM368.2 896h7.5v2.4h-7.5zM375.3 920h7.5v2.4h-7.5zM370.5 898.4h7.5v2.4h-7.5zM372.6 900.8h7.5v2.4h-7.5zM376.6 915.2h7.5v2.4h-7.5zM373.8 903.2h7.5v2.4h-7.5zM379.6 922.4h7.5v2.4h-7.5zM380.6 924.8h7.5v2.4h-7.5zM381.5 927.2h7.5v2.4h-7.5zM376.5 905.6h7.5v2.4h-7.5zM377.4 908h7.5v2.4h-7.5zM379.3 910.4h7.5v2.4h-7.5zM380.1 912.8h7.5v2.4h-7.5zM375.7 893.6h7.5v2.4h-7.5zM376.6 896h7.5v2.4h-7.5zM382.7 917.6h7.5v2.4h-7.5zM383.6 920h7.5v2.4h-7.5zM386.2 929.6h7.5v2.4h-7.5zM387.4 932h7.5v2.4h-7.5zM388.1 934.4h7.5v2.4h-7.5zM379.1 898.4h7.5v2.4h-7.5zM389.8 936.8h7.5v2.4h-7.5zM390.5 939.2h7.5v2.4h-7.5zM391.3 941.6h7.5v2.4h-7.5zM392.5 944h7.5v2.4h-7.5zM381 900.8h7.5v2.4h-7.5zM382.2 903.2h7.5v2.4h-7.5zM386.4 915.2h7.5v2.4h-7.5zM388.5 922.4h7.5v2.4h-7.5zM389.2 924.8h7.5v2.4h-7.5zM384.7 905.6h7.5v2.4h-7.5zM386.5 908h7.5v2.4h-7.5zM391.8 927.2h7.5v2.4h-7.5zM388 910.4h7.5v2.4h-7.5zM385 893.6h7.5v2.4h-7.5zM386.2 896h7.5v2.4h-7.5zM387.4 898.4h7.5v2.4h-7.5zM391.3 912.8h7.5v2.4h-7.5zM393 917.6h7.5v2.4h-7.5zM389.4 900.8h7.5v2.4h-7.5zM390.4 903.2h7.5v2.4h-7.5zM395.4 920h7.5v2.4h-7.5zM398.2 929.6h7.5v2.4h-7.5zM394.6 915.2h7.5v2.4h-7.5zM396.8 922.4h7.5v2.4h-7.5zM397.7 924.8h7.5v2.4h-7.5zM399.6 932h7.5v2.4h-7.5zM400.5 934.4h7.5v2.4h-7.5zM393.6 905.6h7.5v2.4h-7.5zM402.2 936.8h7.5v2.4h-7.5zM394.8 908h7.5v2.4h-7.5zM400.6 927.2h7.5v2.4h-7.5zM396.2 910.4h7.5v2.4h-7.5zM404.2 939.2h7.5v2.4h-7.5zM405.1 941.6h7.5v2.4h-7.5zM406.7 944h7.5v2.4h-7.5zM393.4 893.6h7.5v2.4h-7.5zM408 946.4h7.5v2.4h-7.5zM394.7 896h7.5v2.4h-7.5zM395.6 898.4h7.5v2.4h-7.5zM399.9 912.8h7.5v2.4h-7.5zM401.4 917.6h7.5v2.4h-7.5zM409.9 948.8h7.5v2.4h-7.5zM410.7 951.2h7.5v2.4h-7.5zM411.7 953.6h7.5v2.4h-7.5zM398.5 900.8h7.5v2.4h-7.5zM399.2 903.2h7.5v2.4h-7.5zM403.8 920h7.5v2.4h-7.5zM406.5 929.6h7.5v2.4h-7.5zM413.8 956h7.5v2.4h-7.5zM403.4 915.2h7.5v2.4h-7.5zM405.4 922.4h7.5v2.4h-7.5zM406.4 924.8h7.5v2.4h-7.5zM408.4 932h7.5v2.4h-7.5zM409.1 934.4h7.5v2.4h-7.5zM416.1 958.4h7.5v2.4h-7.5zM402.1 905.6h7.5v2.4h-7.5zM403 908h7.5v2.4h-7.5zM411.1 936.8h7.5v2.4h-7.5zM417.6 960.8h7.5v2.4h-7.5zM418.3 963.2h7.5v2.4h-7.5zM404.4 910.4h7.5v2.4h-7.5zM409.7 927.2h7.5v2.4h-7.5zM412.9 939.2h7.5v2.4h-7.5zM413.9 941.6h7.5v2.4h-7.5zM420.6 965.6h7.5v2.4h-7.5zM414.9 944h7.5v2.4h-7.5zM401.8 893.6h7.5v2.4h-7.5zM422 968h7.5v2.4h-7.5zM416.2 946.4h7.5v2.4h-7.5zM422.8 970.4h7.5v2.4h-7.5zM403.1 896h7.5v2.4h-7.5zM403.9 898.4h7.5v2.4h-7.5zM424.2 972.8h7.5v2.4h-7.5zM409.2 912.8h7.5v2.4h-7.5zM410.5 917.6h7.5v2.4h-7.5zM419 948.8h7.5v2.4h-7.5zM419.8 951.2h7.5v2.4h-7.5zM420.8 953.6h7.5v2.4h-7.5zM426.8 975.2h7.5v2.4h-7.5zM427.5 977.6h7.5v2.4h-7.5zM406.7 900.8h7.5v2.4h-7.5zM407.6 903.2h7.5v2.4h-7.5zM411.6 915.2h7.5v2.4h-7.5zM413.3 920h7.5v2.4h-7.5zM413.9 922.4h7.5v2.4h-7.5zM414.9 924.8h7.5v2.4h-7.5zM416.8 929.6h7.5v2.4h-7.5zM411.5 905.6h7.5v2.4h-7.5zM412.9 908h7.5v2.4h-7.5zM413.7 910.4h7.5v2.4h-7.5zM418.6 927.2h7.5v2.4h-7.5zM420 932h7.5v2.4h-7.5zM420.7 934.4h7.5v2.4h-7.5zM410.2 893.6h7.5v2.4h-7.5zM422.2 936.8h7.5v2.4h-7.5zM422.9 939.2h7.5v2.4h-7.5zM411.3 896h7.5v2.4h-7.5zM412.6 898.4h7.5v2.4h-7.5zM424.5 941.6h7.5v2.4h-7.5zM425.3 944h7.5v2.4h-7.5zM426.2 946.4h7.5v2.4h-7.5zM428.9 956h7.5v2.4h-7.5zM429.6 958.4h7.5v2.4h-7.5zM417.4 912.8h7.5v2.4h-7.5zM430.4 960.8h7.5v2.4h-7.5zM418.7 917.6h7.5v2.4h-7.5zM427.6 948.8h7.5v2.4h-7.5zM415.3 900.8h7.5v2.4h-7.5zM416 903.2h7.5v2.4h-7.5zM429.2 951.2h7.5v2.4h-7.5zM430.1 953.6h7.5v2.4h-7.5zM432.7 963.2h7.5v2.4h-7.5zM419.9 915.2h7.5v2.4h-7.5zM433.6 965.6h7.5v2.4h-7.5zM421.6 920h7.5v2.4h-7.5zM422.3 922.4h7.5v2.4h-7.5zM423.8 924.8h7.5v2.4h-7.5zM425.5 929.6h7.5v2.4h-7.5zM436.3 968h7.5v2.4h-7.5zM437 970.4h7.5v2.4h-7.5zM437.8 972.8h7.5v2.4h-7.5zM419.8 905.6h7.5v2.4h-7.5zM438.8 975.2h7.5v2.4h-7.5zM439.5 977.6h7.5v2.4h-7.5zM421.8 908h7.5v2.4h-7.5zM422.5 910.4h7.5v2.4h-7.5zM427.1 927.2h7.5v2.4h-7.5zM428.5 932h7.5v2.4h-7.5zM419 893.6h7.5v2.4h-7.5zM420 896h7.5v2.4h-7.5zM420.8 898.4h7.5v2.4h-7.5zM430.7 934.4h7.5v2.4h-7.5zM431.8 936.8h7.5v2.4h-7.5zM432.5 939.2h7.5v2.4h-7.5zM426.1 912.8h7.5v2.4h-7.5zM427.5 917.6h7.5v2.4h-7.5zM423.7 900.8h7.5v2.4h-7.5zM424.5 903.2h7.5v2.4h-7.5zM428.2 915.2h7.5v2.4h-7.5zM430.5 920h7.5v2.4h-7.5zM432.1 922.4h7.5v2.4h-7.5zM428 905.6h7.5v2.4h-7.5zM433.2 924.8h7.5v2.4h-7.5zM434.5 929.6h7.5v2.4h-7.5zM438.2 941.6h7.5v2.4h-7.5zM439 944h7.5v2.4h-7.5zM430.4 908h7.5v2.4h-7.5zM431.4 910.4h7.5v2.4h-7.5zM435.9 927.2h7.5v2.4h-7.5zM437.4 932h7.5v2.4h-7.5zM441.3 946.4h6.2v2.4h-6.2zM427.2 893.6h7.5v2.4h-7.5zM442.2 948.8h5.3v2.4h-5.3zM442.9 951.2h4.6v2.4h-4.6zM443.5 953.6h4v2.4h-4zM428.4 896h7.5v2.4h-7.5zM430 898.4h7.5v2.4h-7.5zM434.3 912.8h7.5v2.4h-7.5zM435.7 917.6h7.5v2.4h-7.5zM440.3 934.4h7.2v2.4h-7.2zM432 900.8h7.5v2.4h-7.5zM433 903.2h7.5v2.4h-7.5zM436.4 915.2h7.5v2.4h-7.5zM442.9 936.8h4.6v2.4h-4.6zM443.8 939.2h3.7v2.4h-3.7zM438.8 920h7.5v2.4h-7.5zM440.3 922.4h7.2v2.4h-7.2zM436.4 905.6h7.5v2.4h-7.5zM441.9 924.8h5.6v2.4h-5.6zM443.4 929.6h4.1v2.4h-4.1zM446.9 941.6h0.6v2.4h-0.6zM439 908h7.5v2.4h-7.5zM435.6 893.6h7.5v2.4h-7.5zM440.2 910.4h7.3v2.4h-7.3zM437 896h7.5v2.4h-7.5zM445.4 927.2h2.1v2.4h-2.1zM438.1 898.4h7.5v2.4h-7.5zM447.3 932h0.2v2.4h-0.2zM443 912.8h4.5v2.4h-4.5zM444.6 917.6h2.9v2.4h-2.9zM440.4 900.8h7.1v2.4h-7.1zM441.6 903.2h5.9v2.4h-5.9zM445.1 915.2h2.4v2.4h-2.4zM447.3 920h0.2v2.4h-0.2zM444.5 905.6h3v2.4h-3zM447.5 908h0v2.4h-0zM444 893.6h3.5v2.4h-3.5zM445.2 896h2.3v2.4h-2.3zM446.3 898.4h1.2v2.4h-1.2z" stroke="none" stroke-width="1" fill="#d2d2d2"/>
<path d="M366.8 910.7h0.7v1.8h-0.7zM374.1 927.5h1.1v1.8h-1.1zM370.6 896.3h0.7v1.8h-0.7zM384.5 927.5h2v1.8h-2zM377.9 893.9h1.4v1.8h-1.4zM389.8 893.9h1.4v1.8h-1.4zM401.2 927.5h0.9v1.8h-0.9zM396 893.9h0.7v1.8h-0.7zM401.6 917.9h2v1.8h-2zM410 922.7h2v1.8h-2zM414.5 932.3h1.1v1.8h-1.1zM428.4 973.1h1.1v1.8h-1.1zM416.2 908.3h0.7v1.8h-0.7zM432.1 946.7h0.9v1.8h-0.9zM427.3 946.7h0.9v1.8h-0.9zM424.4 908.3h0.7v1.8h-0.7zM424.7 908.3h1.4v1.8h-1.4zM436.8 917.9h2v1.8h-2zM433.8 903.5h0.9v1.8h-0.9zM437.6 903.5h1.1v1.8h-1.1zM444.1 913.1h0.9v1.8h-0.9zM445 917.9h0.9v1.8h-0.9zM447.3 920.3h1.4v1.8h-1.4z" stroke="none" stroke-width="1" fill="#3b4fc4"/>
<path d="M365.3 913.1h1.4v1.8h-1.4zM366.4 898.7h2v1.8h-2zM367.9 901.1h0.9v1.8h-0.9zM392.2 932.3h0.7v1.8h-0.7zM382.2 901.1h1.4v1.8h-1.4zM401.8 932.3h2v1.8h-2zM398.8 893.9h0.7v1.8h-0.7zM403.9 917.9h0.7v1.8h-0.7zM411.6 934.7h0.7v1.8h-0.7zM424.4 965.9h1.4v1.8h-1.4zM410.6 893.9h1.4v1.8h-1.4zM411.2 893.9h1.1v1.8h-1.1zM434.2 961.1h0.9v1.8h-0.9zM428 922.7h1.1v1.8h-1.1zM444.1 953.9h1.4v1.8h-1.4zM443.3 920.3h1.4v1.8h-1.4z" stroke="none" stroke-width="1" fill="#d98a3c"/>
<path d="M364.4 913.1h0.9v1.8h-0.9zM380 910.7h1.4v1.8h-1.4zM398.3 917.9h2v1.8h-2zM410.1 946.7h0.7v1.8h-0.7zM402.1 913.1h1.1v1.8h-1.1zM401.8 917.9h1.4v1.8h-1.4zM414.6 949.1h1.1v1.8h-1.1zM410.8 922.7h0.7v1.8h-0.7zM415.3 934.7h0.9v1.8h-0.9zM426.7 968.3h0.7v1.8h-0.7zM426.1 973.1h1.4v1.8h-1.4zM409.1 901.1h2v1.8h-2zM414.6 893.9h1.4v1.8h-1.4zM434.2 961.1h0.7v1.8h-0.7zM428.7 922.7h0.7v1.8h-0.7zM442 973.1h2v1.8h-2zM441.5 973.1h2v1.8h-2zM437.8 973.1h1.4v1.8h-1.4zM441.6 975.5h1.4v1.8h-1.4zM434.9 929.9h0.7v1.8h-0.7zM446.4 922.7h0.7v1.8h-0.7zM443.6 913.1h2v1.8h-2z" stroke="none" stroke-width="1" fill="#e0402f"/>
<path d="M365.7 903.5h7.1v1.8h-7.1zM370.2 910.7h7.1v1.8h-7.1zM370.9 913.1h7.1v1.8h-7.1zM375.5 920.3h7.1v1.8h-7.1zM374 903.5h7.1v1.8h-7.1zM380.8 925.1h7.1v1.8h-7.1zM376.7 905.9h7.1v1.8h-7.1zM377.6 908.3h7.1v1.8h-7.1zM382.9 917.9h7.1v1.8h-7.1zM386.4 929.9h7.1v1.8h-7.1zM388.3 934.7h7.1v1.8h-7.1zM379.3 898.7h7.1v1.8h-7.1zM390 937.1h7.1v1.8h-7.1zM390.7 939.5h7.1v1.8h-7.1zM386.6 915.5h7.1v1.8h-7.1zM388.2 910.7h7.1v1.8h-7.1zM387.6 898.7h7.1v1.8h-7.1zM391.5 913.1h7.1v1.8h-7.1zM400.7 934.7h7.1v1.8h-7.1zM396.4 910.7h7.1v1.8h-7.1zM404.4 939.5h7.1v1.8h-7.1zM405.3 941.9h7.1v1.8h-7.1zM394.9 896.3h7.1v1.8h-7.1zM406.7 929.9h7.1v1.8h-7.1zM414 956.3h7.1v1.8h-7.1zM403.6 915.5h7.1v1.8h-7.1zM402.3 905.9h7.1v1.8h-7.1zM403.2 908.3h7.1v1.8h-7.1zM404.6 910.7h7.1v1.8h-7.1zM409.9 927.5h7.1v1.8h-7.1zM402 893.9h7.1v1.8h-7.1zM416.4 946.7h7.1v1.8h-7.1zM403.3 896.3h7.1v1.8h-7.1zM409.4 913.1h7.1v1.8h-7.1zM410.7 917.9h7.1v1.8h-7.1zM420 951.5h7.1v1.8h-7.1zM407.8 903.5h7.1v1.8h-7.1zM411.8 915.5h7.1v1.8h-7.1zM413.5 920.3h7.1v1.8h-7.1zM414.1 922.7h7.1v1.8h-7.1zM417 929.9h7.1v1.8h-7.1zM413.9 910.7h7.1v1.8h-7.1zM423.1 939.5h7.1v1.8h-7.1zM411.5 896.3h7.1v1.8h-7.1zM412.8 898.7h7.1v1.8h-7.1zM425.5 944.3h7.1v1.8h-7.1zM427.8 949.1h7.1v1.8h-7.1zM415.5 901.1h7.1v1.8h-7.1zM429.4 951.5h7.1v1.8h-7.1zM432.9 963.5h7.1v1.8h-7.1zM422.7 910.7h7.1v1.8h-7.1zM427.3 927.5h7.1v1.8h-7.1zM419.2 893.9h7.1v1.8h-7.1zM420.2 896.3h7.1v1.8h-7.1zM421 898.7h7.1v1.8h-7.1zM430.9 934.7h7.1v1.8h-7.1zM423.9 901.1h7.1v1.8h-7.1zM437.6 932.3h7.1v1.8h-7.1zM441.5 946.7h5.8v1.8h-5.8zM442.4 949.1h4.9v1.8h-4.9zM434.5 913.1h7.1v1.8h-7.1zM440.5 934.7h6.8v1.8h-6.8zM436.6 915.5h7.1v1.8h-7.1zM436.6 905.9h7.1v1.8h-7.1zM439.2 908.3h7.1v1.8h-7.1zM440.4 910.7h6.9v1.8h-6.9zM437.2 896.3h7.1v1.8h-7.1zM440.6 901.1h6.7v1.8h-6.7z" stroke="none" stroke-width="1" fill="#ececec"/>
<path d="M376.3 898.7h1.1v1.8h-1.1zM384.1 910.7h2v1.8h-2zM381.5 910.7h0.7v1.8h-0.7zM410.2 949.1h2v1.8h-2zM429.5 973.1h0.9v1.8h-0.9zM420.5 925.1h1.4v1.8h-1.4zM435.7 893.9h1.1v1.8h-1.1zM445.4 917.9h0.7v1.8h-0.7z" stroke="none" stroke-width="1" fill="#8c56b0"/>
<path d="M375.2 901.1h1.4v1.8h-1.4zM415.4 949.1h1.4v1.8h-1.4zM408.3 925.1h0.9v1.8h-0.9zM409.1 901.1h0.7v1.8h-0.7zM431.2 961.1h1.4v1.8h-1.4zM422.5 920.3h1.4v1.8h-1.4zM426.3 922.7h2v1.8h-2zM437.1 968.3h1.4v1.8h-1.4zM429.2 915.5h0.7v1.8h-0.7z" stroke="none" stroke-width="1" fill="#3aa84a"/>
<path d="M382.4 903.5h7.1v1.8h-7.1zM394.8 915.5h7.1v1.8h-7.1zM393.8 905.9h7.1v1.8h-7.1zM410.9 951.5h7.1v1.8h-7.1z" stroke="none" stroke-width="1" fill="#3b4bc2"/>
</g>
<rect x="365.3" y="965.3" width="81.2" height="1.7" fill="#bdbdbd"/>
<path d="M458.4 892.6L458.4 886.3L459.9 885.6L461.4 885.4L462.9 885.6L464.4 885.1L465.9 885.5L467.4 884.8L468.9 885.2L470.4 886L471.9 886.6L473.4 887L474.9 887.6L476.4 887L477.9 887.1L479.4 886.9L480.9 887.3L482.4 887.1L483.9 886.1L485.4 886.6L486.9 886.3L488.4 887L489.9 886.5L491.4 890.5L492.9 890.6L494.4 889.9L495.9 888.7L497.4 888L498.9 888.2L500.4 887.9L501.9 888.6L503.4 888.7L504.9 888.8L506.4 889L507.9 888.8L509.4 889.6L510.9 888.7L512.4 889.1L513.9 888.8L515.4 889.9L516.9 889.9L518.4 889.6L519.9 890.3L521.4 890.6L522.9 889.9L524.4 889.8L525.9 890.2L527.4 889.4L528.9 888.7L530.4 888.8L531.9 889.8L533.4 889.1L534.9 890.1L536.4 889.7L537.9 890.8L539.4 890.6L540.9 889.8L542.4 889.3L543.9 889.1L545.4 889.3L546.9 889.1L548.4 889L549.9 889.1L551.4 888.3L552.9 888.1L553.1 888.2L553.1 892.6Z" stroke="none" stroke-width="1" fill="#b0b0b0"/>
<rect x="458.4" y="893.3" width="94.7" height="72" fill="#fafafa"/>
<clipPath id="c11"><rect x="458.4" y="893.6" width="94.7" height="71.6"/></clipPath><g clip-path="url(#c11)">
<path d="M457.4 920h2.1v2.4h-2.1zM457.4 922.4h3.2v2.4h-3.2zM457.4 924.8h3.9v2.4h-3.9zM457.4 927.2h5.2v2.4h-5.2zM457.4 896h0.1v2.4h-0.1zM457.4 898.4h0.9v2.4h-0.9zM457.4 900.8h1.7v2.4h-1.7zM457.4 903.2h2.8v2.4h-2.8zM457.4 905.6h3.5v2.4h-3.5zM457.4 908h4.2v2.4h-4.2zM457.4 910.4h5.4v2.4h-5.4zM457.4 912.8h6.3v2.4h-6.3zM457.4 915.2h7.1v2.4h-7.1zM457.7 917.6h7.5v2.4h-7.5zM461.1 929.6h7.5v2.4h-7.5zM461.9 932h7.5v2.4h-7.5zM462.7 934.4h7.5v2.4h-7.5zM464 936.8h7.5v2.4h-7.5zM461 920h7.5v2.4h-7.5zM462.7 922.4h7.5v2.4h-7.5zM457.4 893.6h7.4v2.4h-7.4zM458.3 896h7.5v2.4h-7.5zM459.9 898.4h7.5v2.4h-7.5zM461 900.8h7.5v2.4h-7.5zM462.3 903.2h7.5v2.4h-7.5zM463.3 905.6h7.5v2.4h-7.5zM464 908h7.5v2.4h-7.5zM464.7 910.4h7.5v2.4h-7.5zM465.4 912.8h7.5v2.4h-7.5zM466.2 915.2h7.5v2.4h-7.5zM467.3 917.6h7.5v2.4h-7.5zM470.3 924.8h7.5v2.4h-7.5zM469.2 920h7.5v2.4h-7.5zM471.2 927.2h7.5v2.4h-7.5zM472.6 929.6h7.5v2.4h-7.5zM471.3 922.4h7.5v2.4h-7.5zM474 932h7.5v2.4h-7.5zM474.9 934.4h7.5v2.4h-7.5zM467.8 893.6h7.5v2.4h-7.5zM469.9 896h7.5v2.4h-7.5zM470.9 898.4h7.5v2.4h-7.5zM472.8 900.8h7.5v2.4h-7.5zM476.4 903.2h7.5v2.4h-7.5zM477.2 905.6h7.5v2.4h-7.5zM477.9 908h7.5v2.4h-7.5zM478.9 910.4h7.5v2.4h-7.5zM480.7 912.8h7.5v2.4h-7.5zM477.4 893.6h7.5v2.4h-7.5zM478 896h7.5v2.4h-7.5zM483.6 915.2h7.5v2.4h-7.5zM481 898.4h7.5v2.4h-7.5zM482.1 900.8h7.5v2.4h-7.5zM487.1 917.6h7.5v2.4h-7.5zM488.6 920h7.5v2.4h-7.5zM484.7 903.2h7.5v2.4h-7.5zM485.5 905.6h7.5v2.4h-7.5zM487.8 908h7.5v2.4h-7.5zM485.9 893.6h7.5v2.4h-7.5zM491.1 896h7.5v2.4h-7.5zM493.3 898.4h7.5v2.4h-7.5zM495 893.6h7.5v2.4h-7.5zM497.2 900.8h7.5v2.4h-7.5zM499.3 903.2h7.5v2.4h-7.5zM500.1 905.6h7.5v2.4h-7.5zM503.1 896h7.5v2.4h-7.5zM503.3 893.6h7.5v2.4h-7.5zM505.2 898.4h7.5v2.4h-7.5zM505.9 900.8h7.5v2.4h-7.5zM508.3 908h7.5v2.4h-7.5zM507.9 903.2h7.5v2.4h-7.5zM509 905.6h7.5v2.4h-7.5zM510.8 910.4h7.5v2.4h-7.5zM511.9 912.8h7.5v2.4h-7.5zM513.7 915.2h7.5v2.4h-7.5zM514.9 917.6h7.5v2.4h-7.5zM516.1 920h7.5v2.4h-7.5zM517.5 922.4h7.5v2.4h-7.5zM518.3 924.8h7.5v2.4h-7.5zM519 927.2h7.5v2.4h-7.5zM519.8 929.6h7.5v2.4h-7.5zM511.6 893.6h7.5v2.4h-7.5zM514.3 896h7.5v2.4h-7.5zM517.3 898.4h7.5v2.4h-7.5zM518.2 900.8h7.5v2.4h-7.5zM519.1 903.2h7.5v2.4h-7.5zM519.9 905.6h7.5v2.4h-7.5zM521 908h7.5v2.4h-7.5zM522.4 910.4h7.5v2.4h-7.5zM524.6 912.8h7.5v2.4h-7.5zM520.2 893.6h7.5v2.4h-7.5zM526.5 915.2h7.5v2.4h-7.5zM522.7 896h7.5v2.4h-7.5zM525.4 898.4h7.5v2.4h-7.5zM526.4 900.8h7.5v2.4h-7.5zM527.4 903.2h7.5v2.4h-7.5zM528.4 905.6h7.5v2.4h-7.5zM531.7 917.6h7.5v2.4h-7.5zM529.6 908h7.5v2.4h-7.5zM532.5 910.4h7.5v2.4h-7.5zM533.4 912.8h7.5v2.4h-7.5zM528.7 893.6h7.5v2.4h-7.5zM534.8 915.2h7.5v2.4h-7.5zM537 920h7.5v2.4h-7.5zM531.3 896h7.5v2.4h-7.5zM539.2 922.4h7.5v2.4h-7.5zM540.3 924.8h7.5v2.4h-7.5zM541 927.2h7.5v2.4h-7.5zM541.8 929.6h7.5v2.4h-7.5zM533.7 898.4h7.5v2.4h-7.5zM536.1 900.8h7.5v2.4h-7.5zM538.6 903.2h7.5v2.4h-7.5zM539.9 905.6h7.5v2.4h-7.5zM538.4 893.6h7.5v2.4h-7.5zM542.4 908h7.5v2.4h-7.5zM539.7 896h7.5v2.4h-7.5zM543.7 910.4h7.5v2.4h-7.5zM545.3 912.8h7.5v2.4h-7.5zM542.6 898.4h7.5v2.4h-7.5zM547.9 900.8h6.2v2.4h-6.2zM548.9 903.2h5.2v2.4h-5.2zM547.7 893.6h6.4v2.4h-6.4zM549.6 896h4.5v2.4h-4.5zM550.9 898.4h3.2v2.4h-3.2zM552.9 905.6h1.2v2.4h-1.2zM554 908h0.1v2.4h-0.1z" stroke="none" stroke-width="1" fill="#c6c6c6"/>
<path d="M457.9 920.3h0.7v1.8h-0.7zM468.9 893.9h2v1.8h-2zM519.6 915.5h0.7v1.8h-0.7zM521.5 925.1h0.9v1.8h-0.9z" stroke="none" stroke-width="1" fill="#3b4fc4"/>
<path d="M459.8 922.7h0.7v1.8h-0.7zM460.7 927.5h0.7v1.8h-0.7zM509.3 898.7h1.4v1.8h-1.4zM523.2 896.3h0.7v1.8h-0.7zM544.3 927.5h1.4v1.8h-1.4zM544 898.7h0.9v1.8h-0.9zM551.2 903.5h0.9v1.8h-0.9zM551.9 896.3h1.4v1.8h-1.4z" stroke="none" stroke-width="1" fill="#e0402f"/>
<path d="M457.5 896.3h1.1v1.8h-1.1zM477.6 929.9h1.1v1.8h-1.1zM485.1 913.1h0.9v1.8h-0.9zM511.5 908.3h1.1v1.8h-1.1zM521.5 903.5h0.7v1.8h-0.7zM550.9 913.1h0.9v1.8h-0.9z" stroke="none" stroke-width="1" fill="#d98a3c"/>
<path d="M461.9 913.1h0.9v1.8h-0.9zM468.1 908.3h1.1v1.8h-1.1z" stroke="none" stroke-width="1" fill="#8c56b0"/>
<path d="M461.2 920.3h7.1v1.8h-7.1zM462.9 922.7h7.1v1.8h-7.1zM458.5 896.3h7.1v1.8h-7.1zM463.5 905.9h7.1v1.8h-7.1zM465.6 913.1h7.1v1.8h-7.1zM466.4 915.5h7.1v1.8h-7.1zM471.5 922.7h7.1v1.8h-7.1zM474.2 932.3h7.1v1.8h-7.1zM475.1 934.7h7.1v1.8h-7.1zM471.1 898.7h7.1v1.8h-7.1zM473 901.1h7.1v1.8h-7.1zM476.6 903.5h7.1v1.8h-7.1zM477.4 905.9h7.1v1.8h-7.1zM479.1 910.7h7.1v1.8h-7.1zM483.8 915.5h7.1v1.8h-7.1zM484.9 903.5h7.1v1.8h-7.1zM485.7 905.9h7.1v1.8h-7.1zM486.1 893.9h7.1v1.8h-7.1zM491.3 896.3h7.1v1.8h-7.1z" stroke="none" stroke-width="1" fill="#3fb2ad"/>
<path d="M516.9 917.9h1.1v1.8h-1.1zM519.9 903.5h2v1.8h-2z" stroke="none" stroke-width="1" fill="#3aa84a"/>
</g>
<rect x="458.4" y="965.2" width="94.7" height="1.4" fill="#8e8e8e"/>
<line x1="458.4" y1="969.2" x2="553.1" y2="969.2" stroke="#b8bde6" stroke-width="1.0" stroke-dasharray="1.5,1.2"/>
<path d="M565 892.6L565 887.2L566.5 888L568 888.5L569.5 889.3L571 889.3L572.5 888.7L574 889.8L575.5 889L577 888.6L578.5 887.9L580 888L581.5 888.2L583 888.9L584.5 889.3L586 889.8L587.5 888.5L589 888.1L590.5 887.1L592 887.3L593.5 888L595 888.1L596.5 887.9L598 887.8L599.5 888.2L601 886.1L602.5 886.7L604 887.4L605.5 888.2L607 887.5L608.5 888.5L610 888.3L611.5 887.9L613 886.8L614.5 886.8L616 886.7L617.5 887.6L619 887.6L620.5 887.3L622 887.5L623.5 887.2L625 887L626.5 887L628 886.9L629.5 887.4L631 887.3L632.5 887.6L634 888.1L635.5 887.5L637 887.1L638.5 887.8L640 887.1L641.5 888L643 887.1L644.5 887.4L646 887.8L647.5 886.6L649 885.6L650.5 885.3L652 886.6L653.5 887.1L655 886.5L655.8 886.8L655.8 892.6Z" stroke="none" stroke-width="1" fill="#b0b0b0"/>
<rect x="565" y="893.3" width="90.8" height="72" fill="#fafafa"/>
<clipPath id="c12"><rect x="565" y="893.6" width="90.8" height="71.6"/></clipPath><g clip-path="url(#c12)">
<path d="M564 915.2h0.6v2.4h-0.6zM564 917.6h1.6v2.4h-1.6zM564 920h3.1v2.4h-3.1zM564 896h0.3v2.4h-0.3zM564 898.4h1v2.4h-1zM564 900.8h1.7v2.4h-1.7zM564 903.2h3.9v2.4h-3.9zM564 905.6h4.8v2.4h-4.8zM564 908h6.7v2.4h-6.7zM565.9 910.4h7.5v2.4h-7.5zM564 893.6h6.7v2.4h-6.7zM566 896h7.5v2.4h-7.5zM569.1 898.4h7.5v2.4h-7.5zM569.9 900.8h7.5v2.4h-7.5zM570.6 903.2h7.5v2.4h-7.5zM572.2 905.6h7.5v2.4h-7.5zM573 908h7.5v2.4h-7.5zM574.1 910.4h7.5v2.4h-7.5zM576.1 912.8h7.5v2.4h-7.5zM571.4 893.6h7.5v2.4h-7.5zM577.7 915.2h7.5v2.4h-7.5zM574.1 896h7.5v2.4h-7.5zM580.2 917.6h7.5v2.4h-7.5zM581 920h7.5v2.4h-7.5zM582.2 922.4h7.5v2.4h-7.5zM583.1 924.8h7.5v2.4h-7.5zM583.9 927.2h7.5v2.4h-7.5zM585.6 929.6h7.5v2.4h-7.5zM577.7 898.4h7.5v2.4h-7.5zM578.6 900.8h7.5v2.4h-7.5zM579.3 903.2h7.5v2.4h-7.5zM587.4 932h7.5v2.4h-7.5zM580.4 905.6h7.5v2.4h-7.5zM582.5 908h7.5v2.4h-7.5zM580.5 893.6h7.5v2.4h-7.5zM585.1 910.4h7.5v2.4h-7.5zM586.6 912.8h7.5v2.4h-7.5zM587.3 915.2h7.5v2.4h-7.5zM592.6 934.4h7.5v2.4h-7.5zM583.3 896h7.5v2.4h-7.5zM590.5 917.6h7.5v2.4h-7.5zM586.5 898.4h7.5v2.4h-7.5zM588 900.8h7.5v2.4h-7.5zM588.7 903.2h7.5v2.4h-7.5zM589.7 905.6h7.5v2.4h-7.5zM593.7 920h7.5v2.4h-7.5zM590.7 908h7.5v2.4h-7.5zM596.2 922.4h7.5v2.4h-7.5zM590.1 893.6h7.5v2.4h-7.5zM594.8 910.4h7.5v2.4h-7.5zM595.8 912.8h7.5v2.4h-7.5zM591.5 896h7.5v2.4h-7.5zM597.2 915.2h7.5v2.4h-7.5zM600.2 924.8h7.5v2.4h-7.5zM601 927.2h7.5v2.4h-7.5zM599.1 917.6h7.5v2.4h-7.5zM602.6 929.6h7.5v2.4h-7.5zM595.3 898.4h7.5v2.4h-7.5zM596.7 900.8h7.5v2.4h-7.5zM597.6 903.2h7.5v2.4h-7.5zM599.1 905.6h7.5v2.4h-7.5zM600.1 908h7.5v2.4h-7.5zM603.4 920h7.5v2.4h-7.5zM604.4 922.4h7.5v2.4h-7.5zM607.5 932h7.5v2.4h-7.5zM608.3 934.4h7.5v2.4h-7.5zM609 936.8h7.5v2.4h-7.5zM609.9 939.2h7.5v2.4h-7.5zM610.6 941.6h7.5v2.4h-7.5zM611.3 944h7.5v2.4h-7.5zM612 946.4h7.5v2.4h-7.5zM612.9 948.8h7.5v2.4h-7.5zM613.8 951.2h7.5v2.4h-7.5zM598.3 893.6h7.5v2.4h-7.5zM600.2 896h7.5v2.4h-7.5zM604.1 910.4h7.5v2.4h-7.5zM604.9 912.8h7.5v2.4h-7.5zM605.6 915.2h7.5v2.4h-7.5zM608.5 924.8h7.5v2.4h-7.5zM609.7 927.2h7.5v2.4h-7.5zM617 953.6h7.5v2.4h-7.5zM607.7 917.6h7.5v2.4h-7.5zM611.3 929.6h7.5v2.4h-7.5zM618.8 956h7.5v2.4h-7.5zM619.5 958.4h7.5v2.4h-7.5zM605.7 898.4h7.5v2.4h-7.5zM607.3 900.8h7.5v2.4h-7.5zM608.4 903.2h7.5v2.4h-7.5zM606.5 893.6h7.5v2.4h-7.5zM608.4 896h7.5v2.4h-7.5zM611.1 905.6h7.5v2.4h-7.5zM612.2 908h7.5v2.4h-7.5zM613.4 910.4h7.5v2.4h-7.5zM614.4 912.8h7.5v2.4h-7.5zM615.1 915.2h7.5v2.4h-7.5zM616.7 917.6h7.5v2.4h-7.5zM617.3 920h7.5v2.4h-7.5zM618.2 922.4h7.5v2.4h-7.5zM618.8 924.8h7.5v2.4h-7.5zM619.5 927.2h7.5v2.4h-7.5zM620.2 929.6h7.5v2.4h-7.5zM622 932h7.5v2.4h-7.5zM622.6 934.4h7.5v2.4h-7.5zM623.4 936.8h7.5v2.4h-7.5zM624.4 939.2h7.5v2.4h-7.5zM625.1 941.6h7.5v2.4h-7.5zM613.9 898.4h7.5v2.4h-7.5zM626.4 944h7.5v2.4h-7.5zM627.2 946.4h7.5v2.4h-7.5zM627.9 948.8h7.5v2.4h-7.5zM629 951.2h7.5v2.4h-7.5zM616.2 900.8h7.5v2.4h-7.5zM617 903.2h7.5v2.4h-7.5zM630.8 953.6h7.5v2.4h-7.5zM631.5 956h7.5v2.4h-7.5zM614.7 893.6h7.5v2.4h-7.5zM632.3 958.4h7.5v2.4h-7.5zM633.3 960.8h7.5v2.4h-7.5zM634 963.2h7.5v2.4h-7.5zM634.8 965.6h7.5v2.4h-7.5zM616.7 896h7.5v2.4h-7.5zM620.1 905.6h7.5v2.4h-7.5zM622.4 908h7.5v2.4h-7.5zM624 910.4h7.5v2.4h-7.5zM624.9 912.8h7.5v2.4h-7.5zM626 915.2h7.5v2.4h-7.5zM622.7 898.4h7.5v2.4h-7.5zM628 917.6h7.5v2.4h-7.5zM628.9 920h7.5v2.4h-7.5zM629.6 922.4h7.5v2.4h-7.5zM630.3 924.8h7.5v2.4h-7.5zM624.6 900.8h7.5v2.4h-7.5zM625.4 903.2h7.5v2.4h-7.5zM631.9 927.2h7.5v2.4h-7.5zM623.1 893.6h7.5v2.4h-7.5zM633.2 929.6h7.5v2.4h-7.5zM633.9 932h7.5v2.4h-7.5zM634.6 934.4h7.5v2.4h-7.5zM635.4 936.8h7.5v2.4h-7.5zM636.2 939.2h7.5v2.4h-7.5zM625.3 896h7.5v2.4h-7.5zM628.3 905.6h7.5v2.4h-7.5zM638.7 941.6h7.5v2.4h-7.5zM639.6 944h7.5v2.4h-7.5zM640.4 946.4h7.5v2.4h-7.5zM631.4 908h7.5v2.4h-7.5zM642.4 948.8h7.5v2.4h-7.5zM632.7 910.4h7.5v2.4h-7.5zM633.8 912.8h7.5v2.4h-7.5zM630.9 898.4h7.5v2.4h-7.5zM636.1 915.2h7.5v2.4h-7.5zM636.9 917.6h7.5v2.4h-7.5zM632.8 893.6h7.5v2.4h-7.5zM633.7 896h7.5v2.4h-7.5zM635.1 900.8h7.5v2.4h-7.5zM636.1 903.2h7.5v2.4h-7.5zM636.9 905.6h7.5v2.4h-7.5zM641.4 920h7.5v2.4h-7.5zM642.3 922.4h7.5v2.4h-7.5zM643 924.8h7.5v2.4h-7.5zM644 927.2h7.5v2.4h-7.5zM644.7 929.6h7.5v2.4h-7.5zM640.2 908h7.5v2.4h-7.5zM641.6 910.4h7.5v2.4h-7.5zM642.5 912.8h7.5v2.4h-7.5zM648.1 932h7.5v2.4h-7.5zM639.1 898.4h7.5v2.4h-7.5zM648.9 934.4h7.5v2.4h-7.5zM650 936.8h6.8v2.4h-6.8zM650.7 939.2h6.1v2.4h-6.1zM645.6 915.2h7.5v2.4h-7.5zM641.1 893.6h7.5v2.4h-7.5zM647.6 917.6h7.5v2.4h-7.5zM642.6 896h7.5v2.4h-7.5zM644.6 900.8h7.5v2.4h-7.5zM645.5 903.2h7.5v2.4h-7.5zM646.3 905.6h7.5v2.4h-7.5zM650.9 920h5.9v2.4h-5.9zM651.9 922.4h4.9v2.4h-4.9zM648.5 908h7.5v2.4h-7.5zM650 910.4h6.8v2.4h-6.8zM650.7 912.8h6.1v2.4h-6.1zM654.3 924.8h2.5v2.4h-2.5zM647.7 898.4h7.5v2.4h-7.5zM655.6 927.2h1.2v2.4h-1.2zM654.5 915.2h2.3v2.4h-2.3zM650 893.6h6.8v2.4h-6.8zM656.5 917.6h0.3v2.4h-0.3zM652.3 896h4.5v2.4h-4.5zM653.9 900.8h2.9v2.4h-2.9zM655 903.2h1.8v2.4h-1.8zM655.8 905.6h1v2.4h-1zM656.7 908h0.1v2.4h-0.1zM655.9 898.4h0.9v2.4h-0.9z" stroke="none" stroke-width="1" fill="#c6c6c6"/>
<path d="M564.6 917.9h0.7v1.8h-0.7zM564 917.9h0.7v1.8h-0.7zM581 915.5h1.4v1.8h-1.4zM604 927.5h0.7v1.8h-0.7zM609.7 915.5h0.7v1.8h-0.7zM623.6 958.7h1.4v1.8h-1.4zM638.8 961.1h1.1v1.8h-1.1zM636.7 934.7h2v1.8h-2zM653.8 939.5h1.1v1.8h-1.1z" stroke="none" stroke-width="1" fill="#3b4fc4"/>
<path d="M564.2 917.9h1.1v1.8h-1.1zM588.6 898.7h1.4v1.8h-1.4zM609.4 934.7h1.4v1.8h-1.4zM614.1 934.7h1.4v1.8h-1.4zM613.1 925.1h2v1.8h-2zM623.8 937.1h1.1v1.8h-1.1zM631.8 908.3h2v1.8h-2zM643.7 925.1h1.4v1.8h-1.4zM642 893.9h0.9v1.8h-0.9zM653.8 908.3h0.9v1.8h-0.9zM652.8 898.7h2v1.8h-2zM656 898.7h0.9v1.8h-0.9z" stroke="none" stroke-width="1" fill="#d98a3c"/>
<path d="M571.3 896.3h1.4v1.8h-1.4zM586.4 910.7h1.1v1.8h-1.1zM611.2 915.5h0.7v1.8h-0.7zM620.5 901.1h1.1v1.8h-1.1zM637 956.3h1.4v1.8h-1.4zM626.4 893.9h0.7v1.8h-0.7zM650.6 898.7h0.9v1.8h-0.9z" stroke="none" stroke-width="1" fill="#e0402f"/>
<path d="M574.6 898.7h0.9v1.8h-0.9zM577 910.7h1.1v1.8h-1.1zM580.8 896.3h0.7v1.8h-0.7zM616.4 946.7h0.9v1.8h-0.9zM619.4 901.1h1.1v1.8h-1.1zM623.4 903.5h0.7v1.8h-0.7zM634.6 908.3h1.1v1.8h-1.1zM656.8 908.3h0.7v1.8h-0.7z" stroke="none" stroke-width="1" fill="#3aa84a"/>
<path d="M588.4 925.1h1.4v1.8h-1.4zM584.9 908.3h0.7v1.8h-0.7zM632.2 951.5h2v1.8h-2zM640.6 941.9h0.7v1.8h-0.7zM633.5 908.3h0.7v1.8h-0.7zM643.1 910.7h1.4v1.8h-1.4zM646.6 901.1h0.9v1.8h-0.9z" stroke="none" stroke-width="1" fill="#8c56b0"/>
<path d="M603.6 920.3h7.1v1.8h-7.1zM607.7 932.3h7.1v1.8h-7.1zM609.2 937.1h7.1v1.8h-7.1zM610.1 939.5h7.1v1.8h-7.1zM610.8 941.9h7.1v1.8h-7.1zM611.5 929.9h7.1v1.8h-7.1zM607.5 901.1h7.1v1.8h-7.1zM613.6 910.7h7.1v1.8h-7.1zM616.9 917.9h7.1v1.8h-7.1zM617.5 920.3h7.1v1.8h-7.1zM618.4 922.7h7.1v1.8h-7.1zM619.7 927.5h7.1v1.8h-7.1zM627.4 946.7h7.1v1.8h-7.1zM626.2 915.5h7.1v1.8h-7.1zM629.1 920.3h7.1v1.8h-7.1zM630.5 925.1h7.1v1.8h-7.1zM625.6 903.5h7.1v1.8h-7.1zM634.1 932.3h7.1v1.8h-7.1zM635.6 937.1h7.1v1.8h-7.1zM636.4 939.5h7.1v1.8h-7.1z" stroke="none" stroke-width="1" fill="#3b4bc2"/>
</g>
<rect x="565" y="965.2" width="90.8" height="1.4" fill="#8e8e8e"/>
<line x1="565" y1="969.2" x2="655.8" y2="969.2" stroke="#b8bde6" stroke-width="1.0" stroke-dasharray="1.5,1.2"/>
<rect x="143.5" y="790.8" width="12" height="183.7" fill="#ffffff"/>
<line x1="143.5" y1="790.8" x2="143.5" y2="974.5" stroke="#6d6d6d" stroke-width="0.9"/>
<line x1="155.5" y1="790.8" x2="155.5" y2="974.5" stroke="#6d6d6d" stroke-width="0.9"/>
<rect x="353.5" y="790.8" width="11.8" height="183.7" fill="#ffffff"/>
<line x1="353.5" y1="790.8" x2="353.5" y2="974.5" stroke="#6d6d6d" stroke-width="0.9"/>
<line x1="365.3" y1="790.8" x2="365.3" y2="974.5" stroke="#6d6d6d" stroke-width="0.9"/>
<rect x="446.5" y="790.8" width="11.9" height="183.7" fill="#ffffff"/>
<line x1="446.5" y1="790.8" x2="446.5" y2="974.5" stroke="#6d6d6d" stroke-width="0.9"/>
<line x1="458.4" y1="790.8" x2="458.4" y2="974.5" stroke="#6d6d6d" stroke-width="0.9"/>
<rect x="553.1" y="790.8" width="11.9" height="183.7" fill="#ffffff"/>
<line x1="553.1" y1="790.8" x2="553.1" y2="974.5" stroke="#6d6d6d" stroke-width="0.9"/>
<line x1="565" y1="790.8" x2="565" y2="974.5" stroke="#6d6d6d" stroke-width="0.9"/>
<text x="24.4" y="840.8" font-size="9.8" fill="#333333" textLength="48.9" lengthAdjust="spacingAndGlyphs" text-anchor="middle" transform="rotate(-90 24.4 840.8)">Long read</text>
<text x="24.4" y="925.9" font-size="9.8" fill="#333333" textLength="50.8" lengthAdjust="spacingAndGlyphs" text-anchor="middle" transform="rotate(-90 24.4 925.9)">Short read</text>
<text x="497.2" y="981.7" font-size="9.3" fill="#333333" textLength="18.6" lengthAdjust="spacingAndGlyphs" font-style="italic">EDA</text>
<text x="602.2" y="981.7" font-size="9.3" fill="#333333" textLength="18.6" lengthAdjust="spacingAndGlyphs" font-style="italic">EDA</text>
</svg></body></html>
